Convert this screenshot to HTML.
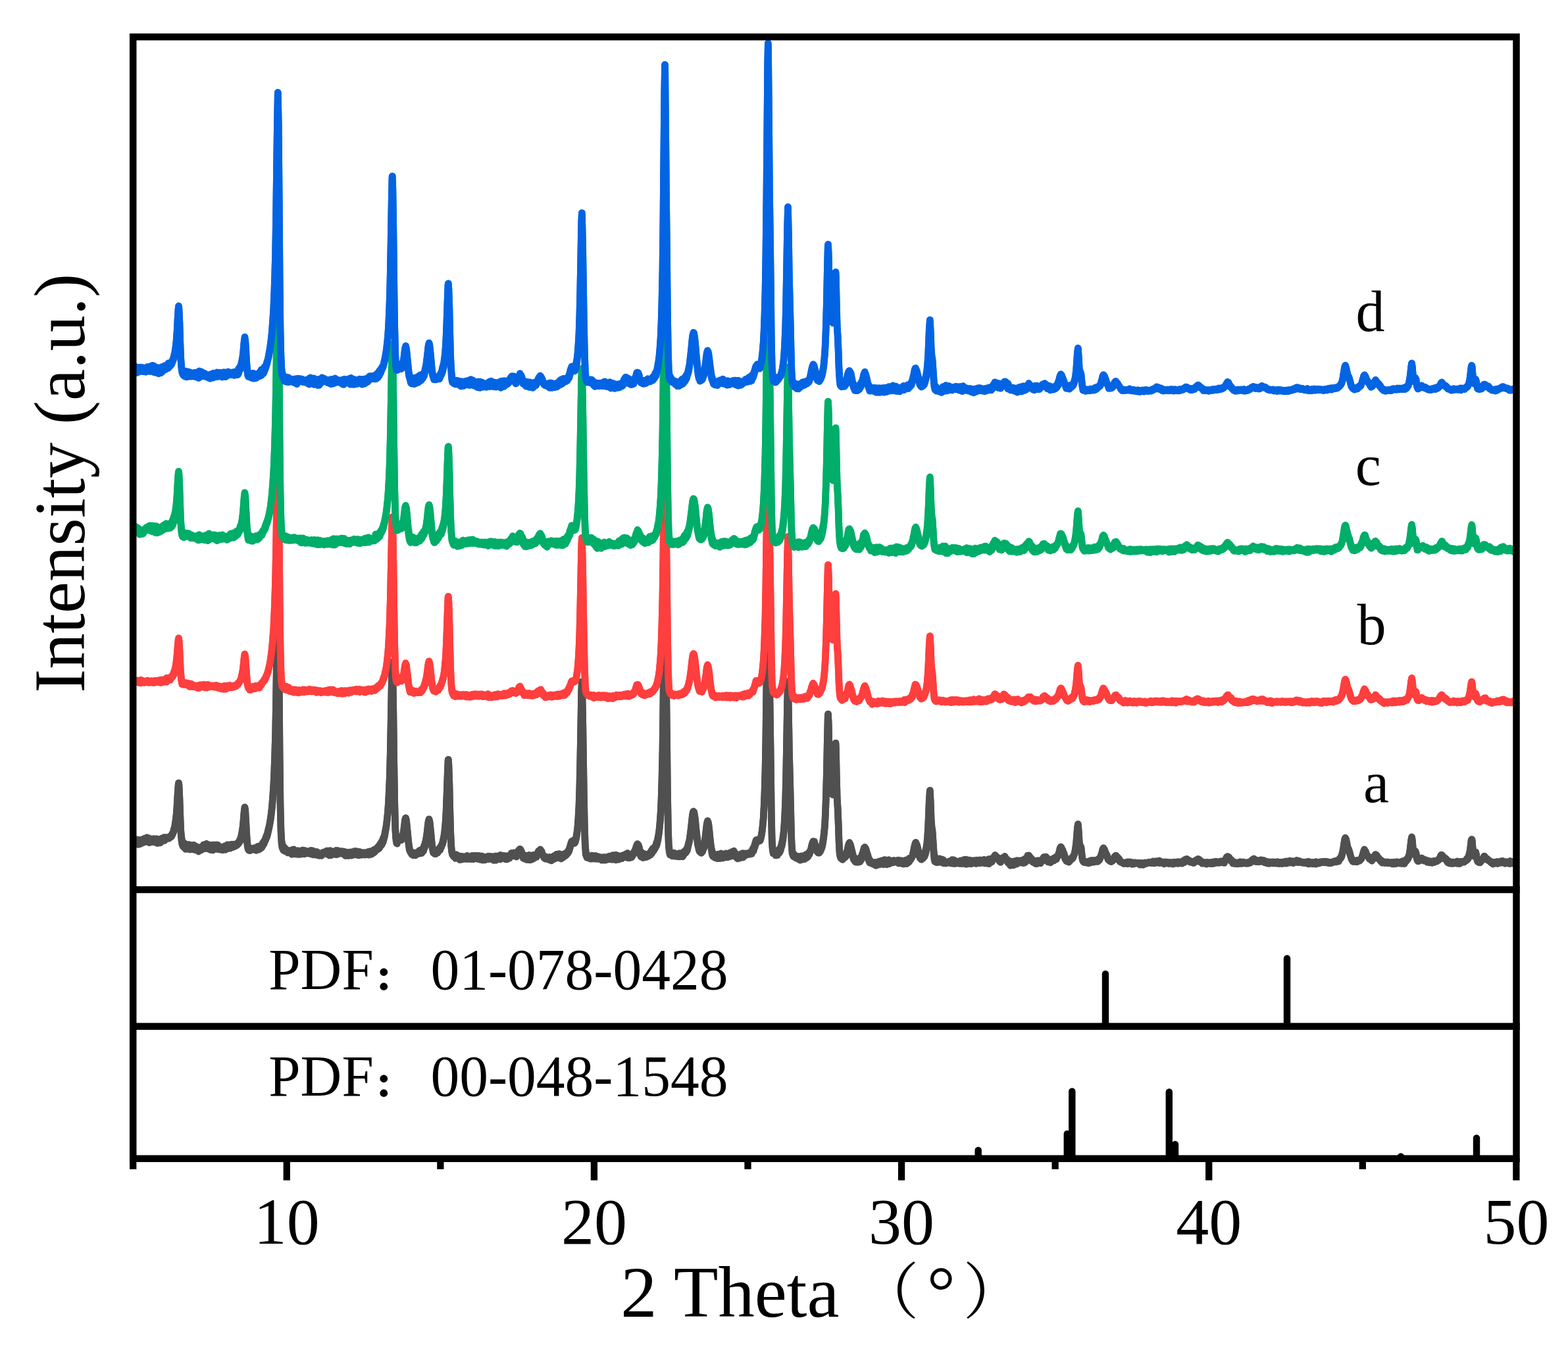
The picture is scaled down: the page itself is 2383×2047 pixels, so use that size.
<!DOCTYPE html>
<html lang="en"><head><meta charset="utf-8"><title>XRD patterns</title>
<style>html,body{margin:0;padding:0;background:#fff}svg{display:block}</style></head>
<body>
<svg width="2383" height="2047" viewBox="0 0 2383 2047">
<rect x="0" y="0" width="2383" height="2047" fill="#ffffff"/>
<defs><clipPath id="plot"><rect x="202" y="58" width="2102.5" height="1296"/></clipPath></defs>
<g clip-path="url(#plot)" fill="none" stroke-linejoin="round" stroke-linecap="butt" stroke-width="10.60">
<polyline stroke="#505050" points="200.0,1277.6 200.9,1276.0 201.9,1276.9 202.8,1276.4 203.7,1277.8 204.7,1277.2 205.6,1277.5 206.5,1276.7 207.5,1277.5 208.4,1275.9 209.3,1277.0 210.3,1277.0 211.2,1276.4 212.1,1276.7 213.1,1277.3 214.0,1276.9 214.9,1276.0 215.9,1277.0 216.8,1275.3 217.7,1275.8 218.7,1275.1 219.6,1274.0 220.5,1274.1 221.5,1274.8 222.4,1274.1 223.3,1272.6 224.3,1274.8 225.2,1275.3 226.2,1273.6 227.1,1275.3 228.0,1275.2 229.0,1275.4 229.9,1275.8 230.8,1274.8 231.8,1275.2 232.7,1274.7 233.6,1274.6 234.6,1275.4 235.5,1274.8 236.4,1274.8 237.4,1274.6 238.3,1275.4 239.2,1275.0 240.2,1275.8 241.1,1275.6 242.0,1277.1 243.0,1275.7 243.9,1275.3 244.8,1276.3 245.8,1274.0 246.7,1274.4 247.6,1274.4 248.6,1272.8 249.5,1272.5 250.4,1272.3 251.4,1273.5 252.3,1273.2 253.2,1272.6 254.2,1273.3 255.1,1273.8 256.0,1273.4 257.0,1271.7 257.9,1271.9 258.8,1270.8 259.8,1269.5 260.7,1269.1 261.6,1267.0 262.6,1266.1 263.5,1263.2 264.4,1259.6 265.4,1256.7 266.3,1250.6 267.2,1245.8 268.2,1236.4 269.1,1224.3 270.0,1208.2 271.0,1193.5 271.5,1189.7 271.9,1192.0 272.9,1211.9 273.8,1238.5 274.7,1260.4 275.7,1271.5 276.6,1276.7 277.5,1278.9 278.5,1280.0 279.4,1281.6 280.3,1281.5 281.3,1282.1 282.2,1282.8 283.1,1283.2 284.1,1284.0 285.0,1284.1 285.9,1283.9 286.9,1283.4 287.8,1284.2 288.7,1284.1 289.7,1285.3 290.6,1284.6 291.5,1285.5 292.5,1284.7 293.4,1285.9 294.3,1284.1 295.3,1285.6 296.2,1285.5 297.1,1285.6 298.1,1286.9 299.0,1286.7 299.9,1287.5 300.9,1288.5 301.8,1288.1 302.7,1287.8 303.7,1288.9 304.6,1287.6 305.5,1288.1 306.5,1286.7 307.4,1288.1 308.3,1286.0 309.3,1283.7 310.2,1284.2 311.1,1285.1 312.1,1283.5 313.0,1282.7 313.9,1282.2 314.9,1282.8 315.8,1283.5 316.7,1283.9 317.7,1284.1 318.6,1285.0 319.6,1284.1 320.5,1285.1 321.4,1284.7 322.4,1285.6 323.3,1284.5 324.2,1283.8 325.2,1284.1 326.1,1284.4 327.0,1284.1 328.0,1284.6 328.9,1283.8 329.8,1285.9 330.8,1284.0 331.7,1285.5 332.6,1286.7 333.6,1286.2 334.5,1286.8 335.4,1287.7 336.4,1288.0 337.3,1288.5 338.2,1288.5 339.2,1288.1 340.1,1289.4 341.0,1286.0 342.0,1285.3 342.9,1286.8 343.8,1286.0 344.8,1285.2 345.7,1283.5 346.6,1285.0 347.6,1284.7 348.5,1284.9 349.4,1284.9 350.4,1284.1 351.3,1283.2 352.2,1283.8 353.2,1283.9 354.1,1283.2 355.0,1283.8 356.0,1283.0 356.9,1283.4 357.8,1284.4 358.8,1282.6 359.7,1282.3 360.6,1281.5 361.6,1280.3 362.5,1280.3 363.4,1278.3 364.4,1276.2 365.3,1274.7 366.3,1271.1 367.2,1267.6 368.1,1262.3 369.1,1255.7 370.0,1246.3 370.9,1234.5 371.9,1226.8 372.0,1226.5 372.8,1231.2 373.7,1247.4 374.7,1265.2 375.6,1278.8 376.5,1285.2 377.5,1287.3 378.4,1289.4 379.3,1289.6 380.3,1288.7 381.2,1289.7 382.1,1289.6 383.1,1289.0 384.0,1289.5 384.9,1289.3 385.9,1288.8 386.8,1290.1 387.7,1289.1 388.7,1288.1 389.6,1288.5 390.5,1287.7 391.5,1286.4 392.4,1286.4 393.3,1286.3 394.3,1286.8 395.2,1285.6 396.1,1284.7 397.1,1284.7 398.0,1283.7 398.9,1281.3 399.9,1281.6 400.8,1278.8 401.7,1278.0 402.7,1276.0 403.6,1273.5 404.5,1271.0 405.5,1268.5 406.4,1266.6 407.3,1262.1 408.3,1258.5 409.2,1254.8 410.1,1249.9 411.1,1244.3 412.0,1237.5 413.0,1229.6 413.9,1219.9 414.8,1208.0 415.8,1193.4 416.7,1174.7 417.6,1149.8 418.6,1115.9 419.5,1068.3 420.4,1003.9 421.4,931.6 422.3,888.7 422.3,888.7 423.2,930.4 424.2,1036.6 425.1,1147.3 426.0,1223.3 427.0,1261.8 427.9,1276.9 428.8,1282.6 429.8,1284.6 430.7,1286.3 431.6,1287.2 432.6,1288.5 433.5,1290.2 434.4,1290.0 435.4,1291.6 436.3,1291.5 437.2,1292.7 438.2,1293.5 439.1,1294.1 440.0,1293.7 441.0,1293.0 441.9,1292.7 442.8,1291.9 443.8,1294.3 444.7,1292.6 445.6,1290.9 446.6,1290.9 447.5,1291.6 448.4,1292.2 449.4,1292.7 450.3,1292.5 451.2,1293.3 452.2,1293.8 453.1,1292.7 454.0,1293.0 455.0,1293.4 455.9,1293.4 456.8,1293.3 457.8,1294.0 458.7,1293.6 459.7,1292.0 460.6,1293.0 461.5,1292.3 462.5,1293.1 463.4,1292.5 464.3,1293.7 465.3,1293.3 466.2,1294.6 467.1,1294.2 468.1,1294.7 469.0,1293.5 469.9,1293.1 470.9,1294.3 471.8,1293.1 472.7,1292.3 473.7,1294.3 474.6,1294.3 475.5,1292.9 476.5,1293.5 477.4,1294.6 478.3,1294.2 479.3,1294.6 480.2,1294.5 481.1,1294.2 482.1,1294.7 483.0,1296.4 483.9,1296.7 484.9,1297.0 485.8,1297.9 486.7,1298.7 487.7,1297.8 488.6,1296.7 489.5,1297.0 490.5,1295.4 491.4,1295.8 492.3,1295.7 493.3,1294.4 494.2,1295.1 495.1,1294.9 496.1,1293.2 497.0,1292.8 497.9,1293.4 498.9,1293.3 499.8,1294.1 500.7,1294.1 501.7,1292.5 502.6,1293.3 503.5,1293.6 504.5,1294.4 505.4,1293.8 506.4,1294.2 507.3,1294.4 508.2,1294.6 509.2,1294.8 510.1,1294.5 511.0,1292.2 512.0,1293.3 512.9,1293.2 513.8,1292.5 514.8,1294.9 515.7,1293.6 516.6,1294.3 517.6,1294.2 518.5,1293.7 519.4,1294.9 520.4,1293.5 521.3,1295.7 522.2,1294.4 523.2,1295.6 524.1,1294.3 525.0,1295.3 526.0,1296.5 526.9,1296.7 527.8,1297.0 528.8,1296.8 529.7,1295.1 530.6,1295.4 531.6,1296.1 532.5,1295.8 533.4,1294.8 534.4,1294.7 535.3,1294.9 536.2,1295.3 537.2,1295.1 538.1,1293.5 539.0,1294.4 540.0,1294.8 540.9,1293.3 541.8,1294.3 542.8,1294.9 543.7,1294.5 544.6,1294.3 545.6,1295.9 546.5,1294.3 547.4,1295.7 548.4,1295.1 549.3,1295.4 550.2,1296.6 551.2,1295.7 552.1,1295.9 553.1,1295.7 554.0,1295.5 554.9,1296.4 555.9,1295.7 556.8,1295.8 557.7,1295.4 558.7,1296.9 559.6,1294.2 560.5,1294.9 561.5,1295.3 562.4,1293.6 563.3,1293.7 564.3,1294.4 565.2,1293.9 566.1,1293.2 567.1,1293.5 568.0,1291.3 568.9,1291.2 569.9,1291.3 570.8,1291.5 571.7,1289.7 572.7,1290.0 573.6,1287.9 574.5,1286.5 575.5,1286.7 576.4,1285.1 577.3,1283.0 578.3,1282.6 579.2,1280.3 580.1,1278.4 581.1,1278.2 582.0,1274.5 582.9,1272.6 583.9,1270.5 584.8,1266.9 585.7,1261.9 586.7,1257.0 587.6,1250.8 588.5,1243.5 589.5,1233.2 590.4,1221.0 591.3,1203.6 592.3,1180.0 593.2,1146.4 594.1,1099.9 595.1,1045.5 596.0,1007.4 596.2,1006.0 596.9,1024.1 597.9,1084.3 598.8,1160.3 599.8,1220.7 600.7,1256.1 601.6,1271.3 602.6,1276.7 603.5,1276.3 604.4,1276.2 605.4,1273.2 606.3,1272.6 606.5,1271.6 607.2,1272.4 608.2,1272.9 609.1,1274.0 610.0,1275.1 611.0,1274.5 611.9,1271.0 612.8,1266.8 613.8,1260.2 614.7,1253.2 615.6,1245.3 616.5,1243.0 616.6,1242.9 617.5,1246.0 618.4,1254.8 619.4,1264.3 620.3,1274.6 621.2,1282.3 622.2,1288.4 623.1,1291.9 624.0,1294.1 625.0,1294.8 625.9,1295.8 626.8,1296.1 627.8,1295.6 628.7,1296.6 629.6,1296.6 630.6,1296.0 631.5,1296.1 632.4,1295.7 633.4,1296.6 634.3,1295.3 635.2,1294.4 636.2,1294.2 637.1,1292.7 638.0,1292.9 639.0,1291.7 639.9,1293.2 640.8,1291.7 641.8,1290.2 642.7,1289.4 643.6,1288.1 644.6,1285.0 645.5,1283.0 646.5,1279.5 647.4,1275.9 648.3,1270.0 649.3,1263.2 650.2,1254.8 651.1,1247.9 652.0,1244.7 652.1,1245.0 653.0,1248.0 653.9,1256.3 654.9,1266.1 655.8,1275.7 656.7,1284.3 657.7,1290.0 658.6,1292.0 659.5,1295.6 660.5,1294.0 661.4,1294.4 662.3,1294.2 663.3,1293.6 664.2,1293.5 665.1,1291.6 666.1,1291.8 667.0,1290.0 667.9,1288.7 668.9,1287.8 669.8,1285.9 670.7,1285.4 671.7,1282.6 672.6,1279.9 673.5,1276.0 674.5,1271.8 675.4,1265.8 676.3,1258.2 677.3,1246.7 678.2,1230.0 679.1,1206.4 680.1,1178.0 681.0,1156.0 681.3,1154.2 681.9,1161.8 682.9,1191.1 683.8,1229.8 684.7,1263.6 685.7,1285.1 686.6,1293.9 687.5,1297.9 688.5,1299.1 689.4,1300.7 690.3,1300.0 691.3,1298.9 692.2,1299.3 693.2,1298.6 694.1,1298.8 695.0,1300.2 696.0,1301.0 696.9,1301.8 697.8,1300.8 698.8,1301.6 699.7,1303.3 700.6,1301.0 701.6,1302.2 702.5,1302.0 703.4,1303.7 704.4,1302.3 705.3,1301.6 706.2,1301.8 707.2,1301.7 708.1,1301.2 709.0,1301.5 710.0,1300.4 710.9,1301.3 711.8,1301.6 712.8,1301.8 713.7,1302.8 714.6,1302.1 715.6,1301.7 716.5,1301.2 717.4,1300.4 718.4,1301.6 719.3,1301.4 720.2,1300.4 721.2,1300.4 722.1,1300.9 723.0,1300.4 724.0,1301.2 724.9,1302.4 725.8,1300.4 726.8,1300.2 727.7,1300.5 728.6,1301.2 729.6,1300.8 730.5,1301.5 731.4,1301.0 732.4,1301.8 733.3,1302.0 734.2,1301.4 735.2,1302.7 736.1,1303.9 737.0,1302.2 738.0,1302.3 738.9,1304.2 739.9,1303.0 740.8,1302.4 741.7,1301.1 742.7,1303.0 743.6,1302.5 744.5,1301.3 745.5,1302.6 746.4,1301.4 747.3,1302.9 748.3,1302.6 749.2,1302.1 750.1,1303.7 751.1,1301.3 752.0,1301.1 752.9,1302.9 753.9,1300.7 754.8,1301.3 755.7,1302.1 756.7,1301.6 757.6,1300.9 758.5,1300.3 759.5,1301.0 760.4,1299.3 761.3,1300.1 762.3,1300.3 763.2,1300.2 764.1,1300.4 765.1,1300.4 766.0,1300.3 766.9,1302.4 767.9,1302.0 768.8,1303.2 769.7,1302.6 770.7,1300.5 771.6,1302.5 772.5,1301.2 773.5,1301.6 774.4,1299.8 775.3,1299.6 776.3,1299.5 777.2,1296.2 778.1,1296.4 779.0,1296.8 779.1,1296.7 780.0,1296.9 780.9,1295.7 781.9,1297.1 782.8,1298.3 783.7,1296.9 784.7,1297.4 785.6,1296.9 786.6,1295.7 787.5,1292.8 788.4,1292.3 789.4,1290.5 790.0,1290.3 790.3,1290.0 791.2,1291.0 792.2,1293.0 793.1,1295.5 794.0,1298.1 795.0,1298.4 795.9,1298.8 796.8,1300.5 797.8,1301.0 798.7,1302.0 799.6,1301.4 800.6,1300.7 801.5,1301.4 802.4,1299.9 803.4,1299.7 804.3,1299.4 805.2,1300.5 806.2,1301.9 807.1,1300.3 808.0,1300.6 809.0,1300.8 809.9,1299.5 810.8,1301.5 811.8,1299.2 812.7,1298.9 813.6,1298.9 814.6,1299.4 815.5,1298.8 816.4,1297.2 817.4,1296.0 818.3,1293.3 819.2,1293.6 820.2,1291.9 821.0,1291.0 821.1,1290.8 822.0,1292.5 823.0,1293.3 823.9,1296.0 824.8,1299.9 825.8,1299.7 826.7,1301.5 827.6,1301.6 828.6,1303.0 829.5,1301.9 830.4,1303.6 831.4,1303.6 832.3,1303.4 833.3,1302.7 834.2,1304.1 835.1,1303.2 836.1,1302.4 837.0,1304.4 837.9,1303.2 838.9,1302.9 839.8,1302.3 840.7,1303.0 841.7,1300.6 842.6,1301.2 843.5,1300.1 844.5,1299.7 845.4,1298.4 846.3,1298.4 847.3,1298.8 848.2,1298.5 849.1,1297.5 850.1,1297.6 851.0,1299.1 851.9,1298.4 852.9,1300.4 853.8,1300.6 854.7,1298.7 855.7,1299.5 856.6,1298.0 857.5,1299.9 858.5,1297.7 859.4,1296.5 860.3,1298.2 861.3,1295.5 862.2,1295.0 863.1,1293.3 864.1,1291.9 865.0,1289.9 865.9,1287.7 866.9,1284.2 867.8,1281.1 868.7,1278.7 869.0,1278.3 869.7,1278.2 870.6,1277.3 871.5,1278.1 872.5,1278.3 873.4,1277.6 874.3,1276.1 875.3,1273.4 876.2,1268.8 877.1,1263.5 878.1,1254.0 879.0,1241.6 880.0,1223.4 880.9,1196.1 881.8,1156.0 882.8,1102.2 883.7,1051.0 884.3,1036.0 884.6,1040.6 885.6,1088.8 886.5,1148.6 887.4,1207.6 888.4,1256.1 889.3,1283.4 890.2,1292.7 891.2,1298.2 892.1,1299.8 893.0,1300.6 894.0,1300.3 894.9,1301.1 895.8,1301.7 896.8,1301.1 897.7,1301.0 898.6,1301.1 899.0,1301.3 899.6,1300.0 900.5,1301.1 901.4,1300.4 902.4,1300.9 903.3,1300.9 904.2,1301.4 905.2,1300.4 906.1,1300.9 907.0,1301.6 908.0,1301.3 908.9,1301.7 909.8,1303.6 910.8,1302.7 911.7,1302.6 912.6,1302.5 913.6,1302.9 914.5,1303.8 915.4,1303.8 916.4,1302.9 917.3,1303.5 918.2,1302.7 919.2,1303.2 920.1,1302.5 921.0,1303.9 922.0,1303.1 922.9,1303.5 923.8,1302.1 924.8,1301.5 925.7,1301.1 926.7,1301.1 927.6,1301.4 928.5,1301.9 929.5,1302.6 930.4,1300.6 931.3,1299.5 932.3,1300.4 933.2,1300.1 934.1,1300.4 935.1,1299.2 936.0,1300.6 936.9,1299.4 937.9,1300.5 938.8,1300.1 939.7,1300.9 940.7,1301.9 941.6,1302.5 942.5,1301.7 943.5,1301.4 944.4,1300.7 945.3,1300.2 946.3,1301.1 947.2,1301.0 948.1,1300.4 949.1,1298.8 950.0,1299.6 950.9,1298.6 951.0,1297.9 951.9,1297.5 952.8,1297.8 953.7,1296.4 954.7,1298.3 955.6,1298.6 956.5,1299.6 957.5,1299.6 958.4,1299.2 959.3,1298.1 960.3,1297.8 961.2,1297.5 962.1,1297.8 963.1,1295.9 964.0,1293.8 964.9,1292.3 965.9,1289.8 966.8,1286.8 967.7,1284.5 968.7,1282.4 968.8,1282.9 969.6,1283.1 970.5,1284.4 971.5,1287.8 972.4,1292.3 973.4,1293.6 974.3,1295.1 975.2,1295.2 976.2,1297.2 977.1,1297.1 978.0,1297.0 979.0,1297.8 979.9,1298.8 980.8,1300.2 981.8,1298.6 982.7,1299.3 983.6,1299.5 984.6,1297.8 985.5,1298.0 986.4,1297.4 987.4,1296.6 988.3,1295.2 989.2,1294.1 990.2,1292.0 991.1,1293.0 992.0,1289.3 993.0,1290.1 993.9,1288.7 994.8,1286.9 995.8,1286.4 996.7,1284.5 997.6,1280.8 998.6,1278.5 999.5,1275.0 1000.4,1270.5 1001.4,1264.8 1002.3,1257.6 1003.2,1247.3 1004.2,1233.4 1005.1,1213.4 1006.0,1183.8 1007.0,1139.3 1007.9,1072.3 1008.8,980.0 1009.8,885.8 1010.5,850.6 1010.7,854.9 1011.6,940.8 1012.6,1039.8 1013.5,1116.8 1014.4,1198.9 1015.4,1257.7 1016.3,1283.4 1017.2,1290.7 1018.2,1294.4 1019.1,1294.6 1020.1,1296.1 1021.0,1296.8 1021.9,1296.2 1022.9,1297.2 1023.8,1296.9 1024.7,1296.0 1025.7,1297.9 1026.6,1297.9 1027.5,1298.0 1028.5,1299.2 1029.4,1298.9 1030.3,1297.8 1031.3,1298.2 1032.2,1296.5 1033.1,1297.4 1034.1,1296.7 1035.0,1296.8 1035.9,1296.7 1036.9,1296.6 1037.8,1296.5 1038.7,1295.0 1039.7,1293.8 1040.6,1294.1 1041.5,1292.6 1042.5,1293.5 1043.4,1289.9 1044.3,1289.3 1045.3,1286.3 1046.2,1282.0 1047.1,1279.3 1048.1,1274.6 1049.0,1268.1 1049.9,1260.8 1050.9,1252.3 1051.8,1243.8 1052.7,1236.7 1053.7,1233.0 1054.0,1232.9 1054.6,1233.5 1055.5,1237.6 1056.5,1244.8 1057.4,1253.6 1058.3,1262.9 1059.3,1270.7 1060.2,1278.1 1061.1,1285.0 1062.1,1287.7 1063.0,1290.5 1063.9,1292.2 1064.9,1291.9 1065.8,1292.3 1066.8,1291.9 1067.7,1290.7 1068.6,1289.4 1069.6,1286.0 1070.5,1280.9 1071.4,1275.1 1072.4,1267.6 1073.3,1259.5 1074.2,1251.8 1075.2,1247.9 1075.4,1247.3 1076.1,1248.9 1077.0,1253.7 1078.0,1262.2 1078.9,1271.4 1079.8,1280.3 1080.8,1287.8 1081.7,1291.5 1082.6,1294.7 1083.6,1296.4 1084.5,1298.1 1085.4,1297.8 1086.4,1299.5 1087.3,1300.7 1088.2,1299.6 1089.2,1299.0 1090.1,1299.1 1091.0,1298.2 1092.0,1298.6 1092.9,1298.1 1093.8,1298.7 1094.8,1298.3 1095.7,1296.8 1096.6,1299.2 1097.6,1299.7 1098.5,1298.5 1099.4,1299.0 1100.4,1298.4 1101.3,1297.8 1102.2,1297.7 1103.2,1296.8 1104.1,1297.8 1105.0,1298.2 1106.0,1298.3 1106.9,1298.3 1107.8,1297.4 1108.8,1296.1 1109.7,1296.9 1110.6,1295.1 1111.6,1295.5 1112.5,1294.3 1113.5,1294.2 1114.4,1293.7 1114.5,1295.1 1115.3,1293.0 1116.3,1295.4 1117.2,1296.2 1118.1,1298.1 1119.1,1300.1 1120.0,1299.4 1120.9,1300.5 1121.9,1299.8 1122.8,1300.5 1123.7,1299.1 1124.7,1299.0 1125.6,1297.8 1126.5,1298.6 1127.5,1298.8 1128.4,1296.5 1129.3,1297.0 1130.3,1297.8 1131.2,1297.2 1132.1,1297.9 1132.5,1297.0 1133.1,1298.3 1134.0,1299.3 1134.9,1296.8 1135.9,1296.9 1136.8,1296.9 1137.7,1297.1 1138.7,1297.0 1139.6,1295.5 1140.5,1295.3 1141.5,1295.0 1142.4,1293.0 1143.3,1292.2 1144.3,1289.3 1145.2,1287.9 1146.1,1286.7 1147.1,1283.0 1148.0,1279.9 1148.9,1277.0 1149.5,1276.2 1149.9,1276.9 1150.8,1276.0 1151.7,1277.1 1152.7,1277.4 1153.6,1277.5 1154.5,1277.6 1155.5,1275.2 1156.4,1272.6 1157.3,1267.5 1158.3,1261.9 1159.2,1253.9 1160.2,1242.8 1161.1,1226.6 1162.0,1204.1 1163.0,1171.0 1163.9,1121.0 1164.8,1046.4 1165.8,945.3 1166.7,848.4 1167.3,820.4 1167.6,831.2 1168.6,935.0 1169.5,1032.3 1170.4,1089.6 1171.4,1164.7 1172.3,1236.5 1173.2,1275.3 1174.2,1290.2 1175.1,1293.8 1176.0,1295.7 1177.0,1295.9 1177.9,1296.9 1178.8,1296.6 1179.8,1296.2 1180.7,1294.9 1181.6,1293.8 1182.6,1293.6 1183.5,1292.8 1184.4,1290.3 1185.4,1289.6 1186.3,1287.6 1187.2,1285.3 1188.2,1281.1 1189.1,1277.5 1190.0,1271.6 1191.0,1264.7 1191.9,1253.7 1192.8,1237.6 1193.8,1213.7 1194.7,1177.3 1195.6,1125.4 1196.6,1066.9 1197.5,1035.9 1197.5,1035.9 1198.4,1078.0 1199.4,1140.2 1200.3,1175.7 1201.2,1209.1 1202.2,1252.6 1203.1,1281.8 1204.0,1292.8 1205.0,1296.6 1205.9,1297.1 1206.9,1298.8 1207.8,1299.0 1208.7,1301.5 1209.7,1301.9 1210.6,1302.1 1211.5,1301.2 1212.5,1301.4 1213.4,1304.1 1214.3,1302.1 1215.3,1301.9 1216.2,1303.3 1217.1,1301.1 1218.1,1301.2 1219.0,1302.1 1219.9,1300.5 1220.9,1301.6 1221.8,1301.7 1222.7,1300.7 1223.7,1301.3 1224.6,1299.0 1225.5,1298.3 1226.5,1298.1 1227.4,1297.7 1228.3,1296.4 1229.3,1296.9 1230.2,1294.3 1231.1,1293.2 1232.1,1291.4 1233.0,1287.7 1233.9,1283.8 1234.9,1280.4 1235.8,1278.4 1235.8,1278.7 1236.7,1278.7 1237.7,1278.8 1238.6,1282.9 1239.5,1284.4 1240.5,1287.5 1241.4,1290.8 1242.3,1293.3 1243.3,1293.0 1244.2,1292.0 1245.1,1292.4 1246.1,1291.2 1247.0,1290.5 1247.9,1287.2 1248.9,1285.5 1249.8,1282.9 1250.7,1277.6 1251.7,1271.5 1252.6,1264.0 1253.6,1252.1 1254.5,1235.3 1255.4,1209.9 1256.4,1172.4 1257.3,1125.8 1258.2,1089.4 1258.5,1085.1 1259.2,1099.1 1260.1,1141.8 1261.0,1164.2 1262.0,1167.9 1262.9,1179.7 1263.8,1190.6 1264.3,1193.8 1264.8,1198.1 1265.7,1207.3 1266.6,1203.6 1267.6,1183.3 1268.5,1156.6 1269.4,1133.5 1270.0,1129.2 1270.4,1136.1 1271.3,1177.7 1272.2,1212.4 1273.2,1228.5 1274.1,1249.8 1275.0,1276.8 1276.0,1294.4 1276.9,1300.1 1277.8,1301.6 1278.8,1302.1 1279.7,1302.1 1280.6,1300.4 1281.6,1300.9 1282.5,1300.6 1283.4,1299.7 1284.4,1298.5 1285.3,1297.6 1286.2,1296.4 1287.2,1293.1 1288.1,1290.8 1289.0,1285.5 1290.0,1282.3 1290.9,1280.8 1291.0,1280.3 1291.8,1282.5 1292.8,1284.7 1293.7,1288.6 1294.6,1292.1 1295.6,1296.0 1296.5,1299.5 1297.4,1303.5 1298.4,1303.6 1299.3,1305.3 1300.3,1305.5 1301.2,1304.9 1302.1,1305.4 1303.1,1305.7 1304.0,1305.0 1304.9,1305.7 1305.9,1305.2 1306.8,1305.6 1307.7,1304.3 1308.7,1302.2 1309.6,1300.2 1310.5,1297.4 1311.5,1294.8 1312.4,1291.2 1313.3,1288.3 1314.3,1287.4 1314.3,1287.6 1315.2,1288.7 1316.1,1290.3 1317.1,1294.0 1318.0,1297.0 1318.9,1299.7 1319.9,1303.4 1320.8,1307.0 1321.7,1306.3 1322.7,1308.3 1323.6,1309.9 1324.5,1310.3 1325.5,1310.3 1326.4,1310.2 1327.3,1311.3 1328.3,1310.5 1329.2,1310.6 1330.1,1310.7 1331.1,1310.5 1332.0,1312.1 1332.9,1310.1 1333.9,1310.1 1334.8,1311.4 1335.7,1309.0 1336.7,1310.4 1337.6,1308.8 1338.5,1309.1 1339.5,1308.5 1340.4,1307.7 1341.3,1308.9 1342.3,1308.5 1343.2,1307.6 1344.1,1306.6 1345.1,1308.4 1346.0,1306.9 1347.0,1307.8 1347.9,1307.6 1348.8,1308.4 1349.8,1308.2 1350.7,1306.6 1351.6,1308.8 1352.6,1307.9 1353.5,1307.7 1354.4,1308.3 1355.4,1309.5 1356.3,1308.9 1357.2,1309.1 1358.2,1307.4 1359.1,1309.8 1360.0,1308.5 1361.0,1308.0 1361.9,1307.9 1362.8,1307.5 1363.8,1307.8 1364.7,1308.8 1365.6,1307.0 1366.6,1308.5 1367.5,1308.4 1368.4,1308.7 1369.4,1307.7 1370.3,1308.0 1371.2,1308.9 1372.2,1309.4 1373.1,1308.1 1374.0,1308.8 1375.0,1307.6 1375.9,1308.1 1376.8,1307.0 1377.8,1308.1 1378.7,1307.5 1379.6,1307.6 1380.6,1305.7 1381.5,1304.7 1382.4,1304.0 1383.4,1305.5 1384.3,1304.2 1385.2,1303.2 1386.2,1301.4 1387.1,1299.1 1388.0,1294.1 1389.0,1289.7 1389.9,1285.3 1390.8,1282.0 1391.5,1280.2 1391.8,1280.1 1392.7,1282.3 1393.7,1284.4 1394.6,1287.7 1395.5,1291.9 1396.5,1295.3 1397.4,1298.4 1398.3,1301.3 1399.3,1302.3 1400.2,1303.8 1401.1,1302.5 1402.1,1301.3 1403.0,1302.3 1403.9,1301.7 1404.9,1298.7 1405.8,1296.4 1406.7,1291.6 1407.7,1287.9 1408.6,1281.8 1409.5,1272.4 1410.5,1258.5 1411.4,1238.0 1412.3,1214.5 1413.3,1201.1 1413.3,1201.1 1414.2,1217.6 1415.1,1244.3 1416.1,1256.7 1417.0,1261.5 1417.9,1274.5 1418.9,1289.9 1419.8,1299.2 1420.7,1301.3 1421.7,1304.4 1422.6,1303.9 1423.5,1304.9 1424.5,1305.2 1425.4,1306.2 1426.3,1305.1 1427.3,1305.4 1428.2,1304.9 1429.1,1306.9 1430.1,1305.5 1431.0,1305.8 1431.9,1305.9 1432.9,1307.1 1433.8,1306.8 1434.7,1307.9 1435.7,1308.9 1436.6,1309.4 1437.5,1310.1 1438.5,1309.8 1439.4,1311.0 1440.4,1310.3 1441.3,1310.2 1442.2,1310.9 1443.2,1308.5 1444.1,1309.3 1445.0,1307.9 1446.0,1307.8 1446.9,1306.6 1447.8,1307.6 1448.8,1306.7 1449.7,1306.7 1450.6,1307.8 1451.6,1308.3 1452.5,1309.6 1453.4,1308.6 1454.4,1309.7 1455.3,1309.7 1456.2,1309.8 1457.2,1311.3 1458.1,1309.4 1459.0,1309.2 1460.0,1307.8 1460.9,1308.4 1461.8,1308.0 1462.8,1308.4 1463.7,1307.6 1464.6,1306.7 1465.6,1306.4 1466.5,1307.3 1467.4,1306.4 1468.4,1306.1 1469.3,1306.7 1470.2,1307.6 1471.2,1307.2 1472.1,1307.1 1473.0,1307.3 1474.0,1307.0 1474.9,1307.4 1475.8,1307.7 1476.8,1308.5 1477.7,1308.1 1478.6,1308.0 1479.6,1307.5 1480.5,1309.6 1481.4,1308.0 1482.4,1308.3 1483.3,1307.2 1484.2,1307.1 1485.2,1307.5 1486.1,1307.6 1487.1,1307.7 1488.0,1307.2 1488.9,1306.7 1489.9,1308.2 1490.8,1307.4 1491.7,1307.2 1492.7,1307.8 1493.6,1306.8 1494.5,1307.1 1495.5,1306.2 1496.4,1307.0 1497.3,1309.6 1498.3,1307.4 1499.2,1307.0 1500.1,1307.2 1501.1,1306.6 1502.0,1305.7 1502.9,1306.4 1503.9,1307.0 1504.8,1306.2 1505.7,1305.1 1506.7,1306.0 1507.6,1305.9 1508.5,1304.0 1509.5,1303.3 1510.4,1302.3 1511.3,1300.5 1512.0,1300.4 1512.3,1299.4 1513.2,1301.0 1514.1,1301.0 1515.1,1302.7 1516.0,1303.4 1516.9,1303.4 1517.9,1305.2 1518.8,1305.0 1519.7,1306.7 1520.7,1305.8 1521.6,1306.6 1522.5,1304.4 1523.5,1305.4 1524.4,1303.1 1525.3,1303.0 1526.3,1302.4 1526.5,1302.2 1527.2,1301.4 1528.1,1303.6 1529.1,1304.6 1530.0,1305.5 1530.9,1306.8 1531.9,1307.3 1532.8,1308.4 1533.8,1308.2 1534.7,1309.8 1535.6,1309.4 1536.6,1309.0 1537.5,1309.8 1538.4,1309.3 1539.4,1309.9 1540.3,1309.2 1541.2,1308.7 1542.2,1309.0 1543.1,1308.7 1544.0,1308.1 1545.0,1308.4 1545.9,1307.7 1546.8,1308.5 1547.8,1308.0 1548.7,1308.4 1549.6,1307.9 1550.6,1308.1 1551.5,1308.2 1552.4,1307.5 1553.4,1307.9 1554.3,1306.9 1555.2,1306.5 1556.2,1306.6 1557.1,1305.4 1558.0,1305.8 1559.0,1304.8 1559.9,1303.5 1560.8,1303.3 1561.8,1300.0 1562.7,1300.6 1563.0,1300.3 1563.6,1300.0 1564.6,1301.3 1565.5,1302.9 1566.4,1303.4 1567.4,1306.2 1568.3,1305.8 1569.2,1305.9 1570.2,1307.9 1571.1,1310.2 1572.0,1309.7 1573.0,1308.9 1573.9,1308.4 1574.8,1309.5 1575.8,1309.4 1576.7,1309.3 1577.6,1307.6 1578.6,1308.7 1579.5,1309.0 1580.5,1309.1 1581.4,1307.7 1582.3,1307.1 1583.3,1306.4 1584.2,1305.7 1585.1,1304.8 1586.1,1302.7 1587.0,1302.2 1587.0,1302.5 1587.9,1302.3 1588.9,1302.0 1589.8,1302.1 1590.7,1303.4 1591.7,1304.4 1592.6,1305.6 1593.5,1305.5 1594.5,1305.7 1595.4,1307.1 1596.3,1307.5 1597.3,1307.8 1598.2,1306.8 1599.1,1305.6 1600.1,1305.5 1601.0,1304.4 1601.9,1305.0 1602.9,1303.4 1603.8,1303.6 1604.7,1303.0 1605.7,1301.5 1606.6,1302.1 1607.5,1300.1 1608.5,1298.6 1609.4,1295.3 1610.3,1292.1 1611.3,1288.1 1612.2,1287.5 1612.3,1286.8 1613.1,1288.0 1614.1,1290.2 1615.0,1291.5 1615.9,1294.8 1616.9,1296.5 1617.8,1299.6 1618.7,1302.6 1619.7,1305.0 1620.6,1306.0 1621.5,1306.2 1622.5,1307.2 1623.4,1306.9 1624.3,1308.0 1625.3,1306.5 1626.2,1306.4 1627.2,1305.9 1628.1,1303.8 1629.0,1303.6 1630.0,1303.6 1630.9,1302.4 1631.8,1299.9 1632.8,1297.4 1633.7,1293.8 1634.6,1288.6 1635.6,1281.6 1636.5,1270.6 1637.4,1257.8 1638.3,1252.3 1638.4,1252.7 1639.3,1263.8 1640.2,1279.0 1641.2,1285.5 1642.1,1285.4 1643.0,1287.3 1644.0,1296.7 1644.9,1304.8 1645.8,1308.2 1646.8,1309.0 1647.7,1309.4 1648.6,1309.0 1649.6,1309.4 1650.5,1309.4 1651.4,1310.9 1652.4,1309.8 1653.3,1309.2 1654.2,1309.4 1655.2,1309.3 1656.1,1308.2 1657.0,1309.0 1658.0,1308.2 1658.9,1307.2 1659.8,1307.9 1660.8,1308.4 1661.7,1309.0 1662.6,1307.2 1663.6,1307.2 1664.5,1307.3 1665.4,1307.6 1666.4,1308.0 1667.3,1308.4 1668.2,1307.9 1669.2,1305.5 1670.1,1305.0 1671.0,1304.9 1672.0,1302.7 1672.9,1301.2 1673.9,1297.7 1674.8,1295.4 1675.7,1290.7 1676.7,1289.1 1677.0,1288.5 1677.6,1290.0 1678.5,1290.8 1679.5,1293.5 1680.4,1296.1 1681.3,1298.0 1682.3,1299.2 1683.2,1303.4 1684.1,1304.7 1685.1,1306.8 1686.0,1306.6 1686.9,1307.8 1687.9,1309.1 1688.8,1306.1 1689.7,1307.4 1690.7,1306.3 1691.6,1306.7 1692.5,1305.2 1693.5,1302.1 1694.4,1301.3 1695.3,1300.3 1695.5,1300.1 1696.3,1300.1 1697.2,1301.6 1698.1,1303.6 1699.1,1303.4 1700.0,1306.2 1700.9,1305.2 1701.9,1307.1 1702.8,1309.8 1703.7,1310.4 1704.7,1310.6 1705.6,1310.4 1706.5,1310.7 1707.5,1312.4 1708.4,1312.2 1709.3,1311.4 1710.3,1311.2 1711.2,1310.3 1712.1,1310.1 1713.1,1310.1 1714.0,1309.8 1714.9,1310.8 1715.9,1309.7 1716.8,1310.5 1717.7,1310.0 1718.7,1311.1 1719.6,1311.7 1720.6,1310.6 1721.5,1310.9 1722.4,1311.5 1723.4,1310.9 1724.3,1310.8 1725.2,1311.6 1726.2,1311.5 1727.1,1311.3 1728.0,1311.6 1729.0,1311.1 1729.9,1311.8 1730.8,1312.5 1731.8,1311.6 1732.7,1312.4 1733.6,1312.7 1734.6,1311.3 1735.5,1312.7 1736.4,1311.6 1737.4,1313.0 1738.3,1312.4 1739.2,1311.3 1740.2,1310.9 1741.1,1311.2 1742.0,1311.9 1743.0,1311.3 1743.9,1311.4 1744.8,1310.9 1745.8,1310.2 1746.7,1310.6 1747.6,1310.7 1748.6,1311.2 1749.5,1311.0 1750.4,1309.7 1751.4,1310.6 1752.3,1308.9 1753.2,1310.1 1754.2,1310.0 1755.1,1309.5 1756.0,1310.0 1757.0,1308.6 1757.9,1308.8 1758.6,1309.0 1758.8,1309.4 1759.8,1308.9 1760.7,1309.9 1761.6,1307.9 1762.6,1309.2 1763.5,1309.9 1764.4,1309.9 1765.4,1309.7 1766.3,1310.1 1767.3,1310.1 1768.2,1310.1 1769.1,1310.7 1770.1,1311.1 1771.0,1309.8 1771.9,1311.3 1772.9,1310.0 1773.8,1311.9 1774.7,1310.8 1775.7,1311.4 1776.6,1310.4 1777.5,1310.5 1778.5,1310.7 1779.4,1311.2 1780.3,1310.6 1781.3,1311.9 1782.2,1310.9 1783.1,1310.6 1784.1,1310.0 1785.0,1310.1 1785.9,1310.4 1786.9,1310.3 1787.8,1310.6 1788.7,1310.8 1789.7,1309.7 1790.6,1310.2 1791.5,1309.6 1792.5,1310.2 1793.4,1311.5 1794.3,1309.7 1795.3,1310.9 1796.2,1309.6 1797.1,1309.3 1798.1,1310.3 1799.0,1307.5 1799.9,1309.7 1800.9,1307.8 1801.8,1305.7 1802.7,1306.4 1803.0,1305.9 1803.7,1305.3 1804.6,1307.1 1805.5,1306.7 1806.5,1306.9 1807.4,1309.1 1808.3,1308.0 1809.3,1308.7 1810.2,1309.9 1811.1,1309.3 1812.1,1309.4 1813.0,1309.2 1814.0,1310.2 1814.9,1309.2 1815.8,1309.2 1816.8,1307.4 1817.7,1307.2 1818.6,1307.1 1819.6,1306.2 1820.5,1305.4 1820.5,1305.3 1821.4,1305.6 1822.4,1307.2 1823.3,1306.7 1824.2,1307.8 1825.2,1308.6 1826.1,1309.9 1827.0,1310.6 1828.0,1311.1 1828.9,1311.9 1829.8,1311.2 1830.8,1310.4 1831.7,1311.9 1832.6,1310.6 1833.6,1310.9 1834.5,1310.4 1835.4,1311.3 1836.4,1310.6 1837.3,1310.5 1838.2,1310.9 1839.2,1312.0 1840.1,1310.6 1841.0,1312.6 1842.0,1311.4 1842.9,1310.0 1843.8,1309.8 1844.8,1310.9 1845.7,1309.5 1846.6,1310.3 1847.6,1309.2 1848.5,1309.5 1849.4,1309.2 1850.4,1309.8 1851.3,1310.6 1852.2,1310.5 1853.2,1310.7 1854.1,1309.6 1855.0,1308.8 1856.0,1309.2 1856.9,1309.8 1857.8,1308.7 1858.8,1309.3 1859.7,1309.2 1860.7,1308.9 1861.6,1307.2 1862.5,1306.1 1863.5,1303.8 1864.4,1302.1 1865.3,1302.1 1865.5,1301.5 1866.3,1301.7 1867.2,1303.3 1868.1,1302.8 1869.1,1305.1 1870.0,1306.2 1870.9,1306.2 1871.9,1307.1 1872.8,1309.5 1873.7,1309.7 1874.7,1310.5 1875.6,1310.0 1876.5,1311.4 1877.5,1310.4 1878.4,1311.0 1879.3,1311.2 1880.3,1311.0 1881.2,1312.6 1882.1,1310.9 1883.1,1311.0 1884.0,1311.4 1884.9,1309.6 1885.9,1311.0 1886.8,1310.4 1887.7,1310.6 1888.7,1310.7 1889.6,1309.8 1890.5,1311.0 1891.5,1310.8 1892.4,1311.1 1893.3,1311.7 1894.3,1310.8 1895.2,1311.4 1896.1,1311.7 1897.1,1310.9 1898.0,1311.6 1898.9,1309.8 1899.9,1310.5 1900.8,1309.2 1901.7,1308.7 1902.7,1306.7 1903.6,1306.7 1904.5,1306.7 1904.5,1305.7 1905.5,1304.7 1906.4,1306.6 1907.4,1306.8 1908.3,1306.8 1909.2,1307.0 1910.2,1307.8 1911.1,1307.5 1912.0,1309.7 1913.0,1308.2 1913.9,1308.2 1914.8,1307.1 1915.8,1306.9 1916.7,1307.4 1917.5,1307.0 1917.6,1307.5 1918.6,1307.2 1919.5,1307.7 1920.4,1307.4 1921.4,1308.0 1922.3,1308.3 1923.2,1309.3 1924.2,1309.2 1925.1,1309.3 1926.0,1309.7 1927.0,1310.1 1927.9,1309.6 1928.8,1310.1 1929.8,1312.0 1930.7,1311.2 1931.6,1309.9 1932.6,1310.8 1933.5,1310.5 1934.4,1309.9 1935.4,1310.6 1936.3,1310.1 1937.2,1311.3 1938.2,1311.1 1939.1,1311.1 1940.0,1310.3 1941.0,1309.6 1941.9,1309.9 1942.8,1311.0 1943.8,1310.8 1944.7,1310.4 1945.6,1310.4 1946.6,1310.7 1947.5,1310.1 1948.4,1310.5 1949.4,1311.7 1950.3,1312.0 1951.2,1310.6 1952.2,1309.2 1953.1,1311.2 1954.1,1309.8 1955.0,1308.9 1955.9,1309.4 1956.9,1310.2 1957.8,1308.9 1958.7,1309.1 1959.7,1309.5 1960.6,1308.0 1961.5,1310.4 1962.5,1309.4 1963.4,1309.4 1964.3,1310.5 1965.3,1308.5 1966.2,1310.3 1967.1,1309.9 1968.1,1309.7 1969.0,1309.2 1969.9,1309.5 1970.9,1307.3 1971.5,1308.6 1971.8,1309.0 1972.7,1309.6 1973.7,1310.4 1974.6,1308.4 1975.5,1308.6 1976.5,1310.0 1977.4,1310.5 1978.3,1310.4 1979.3,1310.7 1980.2,1310.0 1981.1,1311.2 1982.1,1310.3 1983.0,1310.4 1983.9,1310.9 1984.9,1309.7 1985.8,1311.4 1986.7,1311.2 1987.7,1311.3 1988.6,1309.1 1989.5,1310.3 1990.5,1311.3 1991.4,1310.1 1992.3,1311.5 1993.3,1311.3 1994.2,1312.3 1995.1,1310.2 1996.1,1311.1 1997.0,1310.5 1997.9,1310.9 1998.9,1310.8 1999.8,1309.6 2000.8,1312.5 2001.7,1310.1 2002.6,1310.6 2003.6,1311.2 2004.5,1310.2 2005.4,1310.8 2006.4,1309.8 2007.3,1309.7 2008.2,1309.7 2009.2,1310.6 2010.1,1309.3 2011.0,1309.2 2012.0,1309.4 2012.9,1309.9 2013.8,1309.3 2014.8,1310.5 2015.7,1309.3 2016.6,1310.0 2017.6,1309.6 2018.5,1309.9 2019.4,1310.9 2020.4,1311.0 2021.3,1311.4 2022.2,1311.3 2023.2,1310.4 2024.1,1311.2 2025.0,1310.8 2026.0,1309.8 2026.9,1309.0 2027.8,1309.3 2028.8,1309.2 2029.7,1308.3 2030.6,1308.9 2031.6,1308.1 2032.5,1307.9 2033.4,1307.9 2034.4,1307.0 2035.3,1305.4 2036.2,1304.9 2037.2,1303.5 2038.1,1301.5 2039.0,1299.9 2040.0,1296.6 2040.9,1292.0 2041.8,1287.9 2042.8,1280.8 2043.7,1275.4 2044.6,1273.1 2044.6,1273.6 2045.6,1275.3 2046.5,1279.7 2047.5,1284.0 2048.4,1288.1 2049.3,1289.5 2050.3,1292.2 2051.2,1295.0 2052.1,1299.5 2053.1,1302.4 2054.0,1304.4 2054.9,1306.1 2055.9,1308.0 2056.8,1307.7 2057.7,1308.0 2058.7,1307.5 2059.6,1308.2 2060.5,1308.0 2061.5,1309.8 2062.4,1307.4 2063.3,1307.6 2064.3,1307.7 2065.2,1307.7 2066.1,1307.9 2067.1,1306.5 2068.0,1305.5 2068.9,1304.8 2069.9,1302.0 2070.8,1299.5 2071.7,1296.2 2072.7,1292.7 2073.6,1290.8 2073.7,1291.9 2074.5,1292.2 2075.5,1294.0 2076.4,1297.8 2077.3,1298.6 2078.3,1299.7 2079.2,1301.6 2080.1,1302.2 2081.1,1303.2 2082.0,1304.4 2082.9,1305.7 2083.9,1305.9 2084.8,1306.6 2085.7,1306.2 2086.7,1304.7 2087.6,1303.6 2088.5,1301.2 2089.5,1299.7 2090.4,1298.4 2090.5,1299.4 2091.3,1298.9 2092.3,1300.3 2093.2,1302.9 2094.2,1302.7 2095.1,1304.7 2096.0,1304.5 2097.0,1306.5 2097.9,1306.7 2098.8,1307.0 2099.8,1308.8 2100.7,1308.5 2101.6,1310.1 2102.6,1310.5 2103.5,1310.2 2104.4,1309.9 2105.4,1310.0 2106.3,1309.9 2107.2,1310.1 2108.2,1310.1 2109.1,1309.9 2110.0,1311.6 2111.0,1310.9 2111.9,1311.4 2112.8,1311.6 2113.8,1311.4 2114.7,1310.3 2115.6,1310.4 2116.6,1311.1 2117.5,1311.0 2118.4,1310.1 2119.4,1310.0 2120.3,1311.6 2121.2,1311.7 2122.2,1310.8 2123.1,1309.7 2124.0,1310.1 2125.0,1311.8 2125.9,1310.6 2126.8,1311.0 2127.8,1311.2 2128.7,1309.8 2129.6,1309.4 2130.6,1310.3 2131.5,1308.6 2132.4,1308.9 2133.4,1309.8 2134.3,1309.2 2135.2,1307.7 2136.2,1307.9 2137.1,1306.5 2138.0,1305.3 2139.0,1304.6 2139.9,1303.1 2140.9,1300.8 2141.8,1297.8 2142.7,1293.7 2143.7,1285.9 2144.6,1277.5 2145.5,1272.1 2145.6,1271.9 2146.5,1278.1 2147.4,1290.5 2148.3,1298.0 2149.3,1297.6 2150.2,1296.2 2151.1,1293.4 2152.1,1296.3 2153.0,1302.1 2153.9,1305.6 2154.9,1307.5 2155.8,1308.7 2156.7,1307.0 2157.7,1306.9 2158.6,1306.4 2159.5,1304.4 2160.5,1304.8 2160.5,1303.7 2161.4,1304.6 2162.3,1305.4 2163.3,1305.7 2164.2,1307.2 2165.1,1306.2 2166.1,1307.3 2167.0,1306.8 2167.9,1307.3 2168.9,1308.3 2169.8,1308.6 2170.7,1308.2 2171.7,1309.5 2172.6,1310.7 2173.5,1309.3 2174.5,1309.5 2175.4,1308.8 2176.3,1309.2 2177.3,1309.2 2178.2,1309.9 2179.1,1308.4 2180.1,1308.9 2181.0,1308.6 2181.9,1308.1 2182.9,1308.6 2183.8,1308.9 2184.7,1307.8 2185.7,1307.0 2186.6,1305.5 2187.6,1304.5 2188.5,1303.1 2189.4,1300.3 2190.4,1299.1 2191.0,1299.4 2191.3,1299.7 2192.2,1300.2 2193.2,1302.3 2194.1,1302.5 2195.0,1304.8 2196.0,1304.8 2196.9,1304.3 2197.8,1305.1 2198.8,1306.4 2199.7,1307.5 2200.6,1308.6 2201.6,1310.9 2202.5,1308.7 2203.4,1311.0 2204.4,1310.8 2205.3,1311.7 2206.2,1310.4 2207.2,1310.2 2208.1,1311.2 2209.0,1310.0 2210.0,1310.4 2210.9,1311.6 2211.8,1311.6 2212.8,1311.0 2213.7,1310.5 2214.6,1308.9 2215.6,1309.6 2216.5,1310.9 2217.4,1309.9 2218.4,1310.0 2219.3,1309.4 2220.2,1309.4 2221.2,1309.6 2222.1,1310.1 2223.0,1309.1 2224.0,1308.8 2224.9,1310.2 2225.8,1309.0 2226.8,1308.9 2227.7,1308.1 2228.6,1306.5 2229.6,1304.4 2230.5,1303.9 2231.4,1303.1 2232.4,1299.5 2233.3,1296.3 2234.3,1291.9 2235.2,1284.0 2236.1,1276.4 2236.7,1275.6 2237.1,1276.1 2238.0,1286.2 2238.9,1296.3 2239.9,1300.3 2240.8,1300.6 2241.7,1296.7 2242.7,1294.7 2243.6,1298.4 2244.5,1304.6 2245.5,1307.7 2246.4,1308.0 2247.3,1310.4 2248.3,1308.8 2249.2,1309.5 2250.1,1308.8 2251.1,1308.4 2252.0,1307.3 2252.9,1306.0 2253.9,1304.8 2254.8,1302.9 2255.7,1301.1 2256.0,1301.4 2256.7,1301.5 2257.6,1303.3 2258.5,1304.6 2259.5,1305.1 2260.4,1305.1 2261.3,1306.1 2262.3,1307.2 2263.2,1307.8 2264.1,1308.1 2265.1,1308.9 2266.0,1310.7 2266.9,1311.3 2267.9,1310.6 2268.8,1311.2 2269.7,1311.4 2270.7,1310.2 2271.6,1310.8 2272.5,1310.7 2273.5,1310.5 2274.4,1310.9 2275.3,1309.4 2276.3,1310.2 2277.2,1309.8 2278.1,1310.4 2279.1,1310.2 2280.0,1309.7 2281.0,1308.8 2281.9,1309.4 2282.8,1309.3 2283.8,1308.4 2284.0,1309.0 2284.7,1308.9 2285.6,1309.4 2286.6,1310.9 2287.5,1310.4 2288.4,1311.5 2289.4,1309.6 2290.3,1310.8 2291.2,1310.2 2292.2,1310.9 2293.1,1310.8 2294.0,1310.0 2295.0,1308.4 2295.9,1310.6 2296.8,1310.5 2297.8,1310.0 2298.7,1310.2 2299.6,1309.5 2300.6,1310.2 2301.5,1309.9 2302.4,1309.7 2303.4,1310.0 2304.3,1309.4 2305.2,1309.4 2306.2,1310.2 2307.1,1310.3 2308.0,1311.6 2309.0,1311.1 2309.9,1309.5"/>
<polyline stroke="#505050" points="200.0,1280.3 200.9,1280.9 201.9,1277.7 202.8,1280.0 203.7,1280.0 204.7,1279.6 205.6,1282.7 206.5,1282.3 207.5,1282.6 208.4,1282.3 209.3,1283.2 210.3,1283.5 211.2,1283.1 212.1,1283.0 213.1,1281.9 214.0,1282.2 214.9,1281.5 215.9,1279.7 216.8,1279.9 217.7,1280.4 218.7,1279.4 219.6,1279.4 220.5,1278.3 221.5,1278.5 222.4,1278.8 223.3,1279.5 224.3,1279.5 225.2,1279.9 226.2,1278.8 227.1,1280.6 228.0,1280.0 229.0,1279.1 229.9,1279.7 230.8,1278.5 231.8,1279.5 232.7,1279.6 233.6,1279.3 234.6,1279.9 235.5,1278.2 236.4,1279.3 237.4,1279.9 238.3,1281.0 239.2,1281.5 240.2,1281.0 241.1,1280.4 242.0,1280.8 243.0,1280.9 243.9,1280.8 244.8,1279.0 245.8,1278.3 246.7,1278.1 247.6,1276.9 248.6,1277.3 249.5,1277.5 250.4,1277.4 251.4,1275.5 252.3,1274.9 253.2,1274.7 254.2,1274.7 255.1,1274.2 256.0,1273.1 257.0,1274.1 257.9,1273.4 258.8,1272.6 259.8,1271.8 260.7,1271.4 261.6,1269.4 262.6,1267.5 263.5,1265.0 264.4,1262.3 265.4,1257.2 266.3,1253.2 267.2,1246.0 268.2,1237.4 269.1,1224.3 270.0,1208.5 271.0,1194.0 271.5,1190.1 271.9,1192.4 272.9,1212.3 273.8,1239.7 274.7,1262.4 275.7,1276.0 276.6,1282.4 277.5,1285.3 278.5,1286.9 279.4,1287.5 280.3,1287.9 281.3,1289.3 282.2,1290.5 283.1,1289.5 284.1,1290.1 285.0,1289.4 285.9,1290.3 286.9,1290.7 287.8,1290.4 288.7,1291.0 289.7,1290.8 290.6,1290.3 291.5,1290.0 292.5,1290.7 293.4,1290.2 294.3,1290.7 295.3,1291.2 296.2,1291.6 297.1,1291.2 298.1,1291.5 299.0,1292.3 299.9,1292.1 300.9,1293.2 301.8,1294.1 302.7,1292.8 303.7,1293.0 304.6,1291.2 305.5,1292.1 306.5,1290.8 307.4,1290.9 308.3,1289.9 309.3,1287.8 310.2,1289.2 311.1,1288.9 312.1,1289.6 313.0,1287.8 313.9,1287.8 314.9,1287.7 315.8,1288.7 316.7,1290.1 317.7,1290.0 318.6,1290.6 319.6,1291.5 320.5,1290.1 321.4,1290.0 322.4,1290.0 323.3,1292.1 324.2,1291.0 325.2,1291.0 326.1,1290.8 327.0,1289.8 328.0,1289.6 328.9,1288.6 329.8,1288.1 330.8,1290.7 331.7,1290.7 332.6,1289.9 333.6,1290.7 334.5,1290.7 335.4,1291.3 336.4,1291.5 337.3,1291.1 338.2,1291.7 339.2,1290.8 340.1,1291.0 341.0,1290.6 342.0,1291.0 342.9,1291.4 343.8,1290.6 344.8,1289.4 345.7,1289.6 346.6,1289.6 347.6,1288.8 348.5,1289.1 349.4,1288.3 350.4,1288.9 351.3,1287.8 352.2,1287.2 353.2,1287.8 354.1,1287.5 355.0,1286.9 356.0,1286.6 356.9,1285.7 357.8,1285.8 358.8,1285.4 359.7,1284.8 360.6,1284.1 361.6,1283.1 362.5,1282.2 363.4,1280.1 364.4,1279.2 365.3,1277.7 366.3,1275.2 367.2,1269.9 368.1,1265.0 369.1,1258.3 370.0,1249.1 370.9,1237.0 371.9,1228.0 372.0,1228.0 372.8,1233.3 373.7,1249.9 374.7,1269.1 375.6,1282.1 376.5,1288.5 377.5,1291.7 378.4,1291.4 379.3,1292.7 380.3,1292.5 381.2,1291.9 382.1,1291.7 383.1,1291.1 384.0,1290.6 384.9,1291.0 385.9,1290.3 386.8,1290.8 387.7,1291.7 388.7,1291.4 389.6,1292.2 390.5,1291.4 391.5,1290.8 392.4,1291.3 393.3,1291.3 394.3,1290.5 395.2,1289.2 396.1,1289.3 397.1,1288.6 398.0,1287.8 398.9,1286.1 399.9,1284.2 400.8,1283.3 401.7,1281.1 402.7,1278.2 403.6,1276.9 404.5,1274.2 405.5,1272.3 406.4,1269.5 407.3,1265.4 408.3,1261.3 409.2,1257.0 410.1,1252.0 411.1,1246.5 412.0,1239.8 413.0,1231.0 413.9,1220.9 414.8,1209.0 415.8,1194.1 416.7,1175.2 417.6,1150.3 418.6,1116.1 419.5,1068.5 420.4,1004.0 421.4,931.7 422.3,888.8 422.3,888.8 423.2,930.5 424.2,1036.8 425.1,1147.6 426.0,1224.6 427.0,1265.0 427.9,1282.3 428.8,1288.3 429.8,1290.2 430.7,1292.3 431.6,1292.6 432.6,1293.4 433.5,1293.3 434.4,1293.3 435.4,1293.5 436.3,1295.0 437.2,1295.8 438.2,1294.9 439.1,1295.5 440.0,1296.1 441.0,1296.4 441.9,1295.9 442.8,1297.1 443.8,1298.4 444.7,1296.7 445.6,1295.7 446.6,1296.0 447.5,1297.5 448.4,1297.9 449.4,1296.0 450.3,1296.9 451.2,1296.9 452.2,1298.3 453.1,1298.1 454.0,1296.4 455.0,1298.5 455.9,1297.9 456.8,1298.3 457.8,1297.7 458.7,1296.6 459.7,1297.6 460.6,1297.2 461.5,1297.1 462.5,1297.9 463.4,1296.7 464.3,1296.0 465.3,1297.2 466.2,1295.7 467.1,1296.2 468.1,1296.4 469.0,1297.0 469.9,1297.1 470.9,1297.4 471.8,1297.1 472.7,1297.3 473.7,1298.0 474.6,1298.5 475.5,1298.9 476.5,1298.8 477.4,1297.7 478.3,1297.6 479.3,1299.2 480.2,1298.2 481.1,1298.7 482.1,1299.2 483.0,1299.8 483.9,1299.2 484.9,1300.4 485.8,1299.2 486.7,1299.4 487.7,1299.3 488.6,1300.4 489.5,1298.9 490.5,1297.2 491.4,1297.1 492.3,1296.6 493.3,1296.8 494.2,1296.4 495.1,1296.8 496.1,1295.7 497.0,1298.2 497.9,1297.1 498.9,1298.0 499.8,1298.0 500.7,1299.9 501.7,1299.6 502.6,1299.5 503.5,1299.7 504.5,1298.4 505.4,1297.7 506.4,1298.2 507.3,1297.9 508.2,1296.5 509.2,1297.7 510.1,1298.7 511.0,1297.4 512.0,1298.8 512.9,1297.6 513.8,1297.7 514.8,1297.5 515.7,1297.5 516.6,1296.4 517.6,1295.7 518.5,1296.4 519.4,1296.5 520.4,1296.3 521.3,1297.8 522.2,1298.2 523.2,1297.8 524.1,1298.6 525.0,1300.6 526.0,1297.8 526.9,1298.3 527.8,1298.6 528.8,1300.0 529.7,1300.6 530.6,1299.4 531.6,1299.8 532.5,1299.3 533.4,1298.4 534.4,1300.1 535.3,1299.2 536.2,1297.7 537.2,1298.4 538.1,1298.8 539.0,1297.2 540.0,1297.5 540.9,1298.6 541.8,1298.5 542.8,1299.4 543.7,1299.2 544.6,1298.8 545.6,1299.8 546.5,1299.2 547.4,1298.9 548.4,1299.0 549.3,1298.6 550.2,1299.3 551.2,1297.8 552.1,1298.1 553.1,1297.5 554.0,1297.8 554.9,1299.3 555.9,1298.2 556.8,1298.0 557.7,1298.5 558.7,1298.9 559.6,1297.9 560.5,1299.3 561.5,1298.3 562.4,1297.7 563.3,1298.4 564.3,1298.4 565.2,1298.2 566.1,1296.0 567.1,1295.1 568.0,1296.0 568.9,1295.3 569.9,1294.4 570.8,1292.6 571.7,1292.0 572.7,1291.7 573.6,1291.1 574.5,1290.1 575.5,1290.2 576.4,1288.8 577.3,1287.4 578.3,1286.1 579.2,1284.8 580.1,1284.0 581.1,1281.8 582.0,1280.2 582.9,1277.0 583.9,1273.4 584.8,1270.1 585.7,1263.5 586.7,1259.0 587.6,1251.9 588.5,1243.4 589.5,1233.7 590.4,1220.7 591.3,1203.9 592.3,1180.1 593.2,1146.6 594.1,1100.1 595.1,1045.6 596.0,1007.5 596.2,1006.2 596.9,1024.2 597.9,1084.6 598.8,1161.0 599.8,1222.4 600.7,1259.6 601.6,1274.7 602.6,1281.6 603.5,1282.2 604.4,1278.9 605.4,1277.7 606.3,1276.0 606.5,1276.0 607.2,1274.8 608.2,1275.8 609.1,1276.1 610.0,1276.7 611.0,1275.7 611.9,1273.5 612.8,1267.6 613.8,1261.2 614.7,1253.4 615.6,1246.6 616.5,1243.9 616.6,1243.5 617.5,1247.8 618.4,1255.9 619.4,1267.0 620.3,1276.5 621.2,1284.7 622.2,1291.8 623.1,1293.6 624.0,1295.8 625.0,1296.6 625.9,1298.7 626.8,1298.2 627.8,1299.8 628.7,1299.2 629.6,1298.3 630.6,1299.3 631.5,1300.0 632.4,1298.2 633.4,1297.3 634.3,1297.8 635.2,1297.0 636.2,1297.5 637.1,1297.2 638.0,1296.4 639.0,1296.6 639.9,1296.1 640.8,1296.8 641.8,1294.5 642.7,1293.3 643.6,1293.2 644.6,1289.7 645.5,1288.2 646.5,1283.7 647.4,1278.4 648.3,1272.1 649.3,1264.6 650.2,1256.0 651.1,1248.5 652.0,1245.9 652.1,1246.1 653.0,1249.4 653.9,1258.4 654.9,1269.1 655.8,1278.2 656.7,1287.5 657.7,1292.6 658.6,1296.2 659.5,1296.7 660.5,1297.6 661.4,1297.4 662.3,1297.7 663.3,1296.7 664.2,1296.5 665.1,1296.1 666.1,1294.1 667.0,1293.4 667.9,1291.5 668.9,1291.6 669.8,1288.7 670.7,1287.7 671.7,1284.4 672.6,1282.7 673.5,1279.8 674.5,1275.0 675.4,1267.9 676.3,1259.7 677.3,1247.9 678.2,1230.8 679.1,1206.8 680.1,1178.3 681.0,1156.2 681.3,1154.4 681.9,1162.0 682.9,1191.2 683.8,1230.1 684.7,1263.9 685.7,1285.3 686.6,1294.4 687.5,1298.6 688.5,1300.4 689.4,1301.8 690.3,1302.0 691.3,1302.4 692.2,1304.5 693.2,1302.5 694.1,1303.6 695.0,1302.2 696.0,1304.4 696.9,1304.3 697.8,1305.0 698.8,1306.7 699.7,1305.9 700.6,1306.4 701.6,1305.7 702.5,1306.0 703.4,1305.5 704.4,1305.1 705.3,1305.0 706.2,1304.2 707.2,1305.5 708.1,1304.1 709.0,1304.3 710.0,1305.2 710.9,1305.6 711.8,1305.1 712.8,1304.4 713.7,1304.0 714.6,1305.3 715.6,1305.6 716.5,1305.3 717.4,1304.8 718.4,1304.4 719.3,1305.8 720.2,1304.2 721.2,1304.2 722.1,1304.0 723.0,1304.8 724.0,1304.8 724.9,1305.2 725.8,1305.4 726.8,1304.8 727.7,1304.6 728.6,1306.0 729.6,1306.3 730.5,1305.7 731.4,1306.6 732.4,1306.3 733.3,1307.3 734.2,1306.0 735.2,1306.9 736.1,1306.7 737.0,1306.9 738.0,1306.2 738.9,1305.4 739.9,1304.6 740.8,1305.1 741.7,1305.4 742.7,1305.7 743.6,1304.9 744.5,1305.4 745.5,1304.6 746.4,1304.7 747.3,1305.5 748.3,1306.1 749.2,1305.4 750.1,1307.4 751.1,1307.3 752.0,1305.1 752.9,1306.5 753.9,1307.3 754.8,1306.4 755.7,1304.9 756.7,1305.5 757.6,1305.3 758.5,1304.9 759.5,1304.0 760.4,1305.9 761.3,1304.3 762.3,1304.6 763.2,1303.9 764.1,1303.6 765.1,1304.5 766.0,1304.7 766.9,1305.4 767.9,1304.0 768.8,1305.9 769.7,1303.8 770.7,1305.9 771.6,1303.3 772.5,1304.4 773.5,1304.5 774.4,1304.3 775.3,1302.6 776.3,1301.1 777.2,1300.1 778.1,1301.0 779.0,1300.1 779.1,1300.4 780.0,1300.8 780.9,1300.6 781.9,1299.3 782.8,1300.2 783.7,1300.9 784.7,1302.1 785.6,1299.5 786.6,1297.5 787.5,1295.4 788.4,1293.0 789.4,1292.6 790.0,1293.4 790.3,1292.8 791.2,1293.8 792.2,1294.9 793.1,1298.2 794.0,1300.8 795.0,1304.1 795.9,1304.3 796.8,1305.1 797.8,1304.3 798.7,1304.9 799.6,1304.4 800.6,1306.6 801.5,1305.7 802.4,1304.9 803.4,1306.6 804.3,1306.2 805.2,1305.4 806.2,1306.9 807.1,1306.4 808.0,1305.2 809.0,1305.9 809.9,1305.2 810.8,1304.8 811.8,1303.8 812.7,1303.8 813.6,1302.9 814.6,1302.3 815.5,1302.3 816.4,1299.9 817.4,1298.8 818.3,1297.3 819.2,1294.1 820.2,1295.0 821.0,1293.9 821.1,1293.4 822.0,1293.8 823.0,1295.7 823.9,1298.3 824.8,1299.0 825.8,1301.0 826.7,1303.4 827.6,1303.3 828.6,1305.1 829.5,1303.0 830.4,1305.3 831.4,1305.2 832.3,1303.6 833.3,1306.2 834.2,1306.5 835.1,1306.0 836.1,1307.2 837.0,1307.0 837.9,1307.9 838.9,1306.8 839.8,1306.8 840.7,1305.9 841.7,1305.3 842.6,1305.2 843.5,1305.0 844.5,1303.1 845.4,1303.5 846.3,1302.7 847.3,1302.1 848.2,1302.6 849.1,1302.6 850.1,1304.1 851.0,1302.5 851.9,1303.5 852.9,1305.1 853.8,1302.8 854.7,1303.3 855.7,1303.2 856.6,1301.7 857.5,1301.1 858.5,1301.3 859.4,1300.0 860.3,1299.9 861.3,1298.7 862.2,1297.1 863.1,1296.7 864.1,1294.9 865.0,1293.1 865.9,1290.1 866.9,1286.6 867.8,1283.3 868.7,1282.0 869.0,1281.1 869.7,1280.6 870.6,1280.5 871.5,1281.5 872.5,1281.7 873.4,1281.4 874.3,1280.0 875.3,1275.8 876.2,1271.6 877.1,1264.3 878.1,1255.3 879.0,1242.9 880.0,1224.2 880.9,1196.5 881.8,1156.1 882.8,1102.3 883.7,1051.0 884.3,1036.0 884.6,1040.7 885.6,1088.9 886.5,1148.9 887.4,1208.5 888.4,1258.0 889.3,1286.0 890.2,1298.7 891.2,1301.2 892.1,1303.5 893.0,1303.1 894.0,1303.9 894.9,1304.1 895.8,1303.9 896.8,1305.1 897.7,1303.8 898.6,1304.1 899.0,1304.2 899.6,1305.2 900.5,1305.0 901.4,1304.8 902.4,1304.3 903.3,1305.0 904.2,1305.2 905.2,1304.9 906.1,1305.1 907.0,1305.2 908.0,1305.3 908.9,1305.5 909.8,1304.4 910.8,1304.3 911.7,1305.0 912.6,1304.5 913.6,1306.2 914.5,1307.3 915.4,1306.5 916.4,1306.9 917.3,1307.0 918.2,1306.0 919.2,1307.3 920.1,1307.0 921.0,1307.0 922.0,1306.1 922.9,1305.8 923.8,1304.7 924.8,1305.8 925.7,1305.3 926.7,1305.7 927.6,1306.0 928.5,1305.3 929.5,1305.2 930.4,1306.4 931.3,1306.3 932.3,1304.4 933.2,1305.5 934.1,1305.6 935.1,1306.0 936.0,1306.9 936.9,1305.3 937.9,1306.0 938.8,1304.8 939.7,1305.2 940.7,1306.0 941.6,1305.4 942.5,1304.3 943.5,1304.2 944.4,1304.2 945.3,1304.7 946.3,1303.7 947.2,1302.7 948.1,1302.2 949.1,1301.9 950.0,1301.4 950.9,1302.8 951.0,1301.7 951.9,1301.8 952.8,1301.4 953.7,1303.8 954.7,1303.3 955.6,1303.9 956.5,1303.2 957.5,1303.7 958.4,1301.7 959.3,1302.9 960.3,1302.7 961.2,1300.7 962.1,1299.4 963.1,1297.7 964.0,1297.3 964.9,1296.6 965.9,1292.3 966.8,1291.9 967.7,1287.4 968.7,1286.9 968.8,1287.5 969.6,1287.8 970.5,1289.2 971.5,1293.0 972.4,1296.6 973.4,1300.3 974.3,1302.1 975.2,1302.5 976.2,1302.1 977.1,1303.6 978.0,1302.5 979.0,1301.8 979.9,1301.6 980.8,1302.3 981.8,1302.8 982.7,1302.5 983.6,1300.9 984.6,1301.6 985.5,1301.0 986.4,1300.2 987.4,1299.7 988.3,1299.4 989.2,1297.8 990.2,1297.7 991.1,1295.6 992.0,1294.9 993.0,1293.4 993.9,1292.2 994.8,1290.3 995.8,1289.3 996.7,1286.8 997.6,1285.6 998.6,1282.5 999.5,1278.7 1000.4,1273.9 1001.4,1266.8 1002.3,1259.2 1003.2,1248.6 1004.2,1234.3 1005.1,1214.1 1006.0,1184.2 1007.0,1139.5 1007.9,1072.4 1008.8,980.1 1009.8,885.8 1010.5,850.7 1010.7,854.9 1011.6,940.9 1012.6,1039.9 1013.5,1117.0 1014.4,1199.6 1015.4,1259.3 1016.3,1286.5 1017.2,1295.2 1018.2,1299.1 1019.1,1298.2 1020.1,1299.8 1021.0,1298.9 1021.9,1300.9 1022.9,1300.6 1023.8,1300.9 1024.7,1300.4 1025.7,1300.7 1026.6,1300.7 1027.5,1301.5 1028.5,1301.6 1029.4,1300.8 1030.3,1301.8 1031.3,1300.6 1032.2,1301.8 1033.1,1301.3 1034.1,1301.1 1035.0,1301.7 1035.9,1301.0 1036.9,1301.9 1037.8,1301.6 1038.7,1299.7 1039.7,1298.0 1040.6,1297.2 1041.5,1296.4 1042.5,1295.8 1043.4,1293.5 1044.3,1293.1 1045.3,1288.8 1046.2,1284.2 1047.1,1281.3 1048.1,1276.2 1049.0,1270.1 1049.9,1263.5 1050.9,1254.4 1051.8,1245.4 1052.7,1238.4 1053.7,1234.7 1054.0,1234.7 1054.6,1235.3 1055.5,1239.7 1056.5,1247.2 1057.4,1256.2 1058.3,1266.5 1059.3,1274.8 1060.2,1282.2 1061.1,1286.8 1062.1,1291.2 1063.0,1293.9 1063.9,1294.6 1064.9,1295.7 1065.8,1296.4 1066.8,1294.8 1067.7,1294.3 1068.6,1291.5 1069.6,1289.6 1070.5,1284.9 1071.4,1279.5 1072.4,1270.6 1073.3,1261.4 1074.2,1253.0 1075.2,1248.9 1075.4,1248.4 1076.1,1249.6 1077.0,1255.2 1078.0,1263.7 1078.9,1273.6 1079.8,1282.1 1080.8,1289.0 1081.7,1295.6 1082.6,1299.8 1083.6,1301.7 1084.5,1301.6 1085.4,1302.3 1086.4,1303.5 1087.3,1302.2 1088.2,1302.6 1089.2,1302.8 1090.1,1304.8 1091.0,1304.0 1092.0,1304.4 1092.9,1304.6 1093.8,1304.5 1094.8,1304.6 1095.7,1302.9 1096.6,1303.7 1097.6,1303.0 1098.5,1304.1 1099.4,1302.0 1100.4,1302.9 1101.3,1302.8 1102.2,1303.0 1103.2,1301.7 1104.1,1302.9 1105.0,1302.5 1106.0,1301.8 1106.9,1302.6 1107.8,1301.3 1108.8,1300.9 1109.7,1301.0 1110.6,1301.5 1111.6,1299.8 1112.5,1299.7 1113.5,1299.0 1114.4,1296.8 1114.5,1298.5 1115.3,1299.6 1116.3,1299.3 1117.2,1301.8 1118.1,1301.1 1119.1,1302.6 1120.0,1304.2 1120.9,1304.9 1121.9,1304.1 1122.8,1303.9 1123.7,1304.4 1124.7,1303.7 1125.6,1303.7 1126.5,1303.2 1127.5,1303.1 1128.4,1302.3 1129.3,1302.9 1130.3,1301.8 1131.2,1301.0 1132.1,1300.6 1132.5,1300.3 1133.1,1299.3 1134.0,1299.5 1134.9,1298.8 1135.9,1298.1 1136.8,1297.9 1137.7,1298.5 1138.7,1297.2 1139.6,1298.2 1140.5,1297.0 1141.5,1297.1 1142.4,1297.4 1143.3,1295.5 1144.3,1294.0 1145.2,1293.7 1146.1,1289.6 1147.1,1287.7 1148.0,1284.8 1148.9,1281.3 1149.5,1281.1 1149.9,1278.4 1150.8,1278.3 1151.7,1279.1 1152.7,1278.4 1153.6,1278.4 1154.5,1277.9 1155.5,1277.2 1156.4,1273.9 1157.3,1269.6 1158.3,1263.3 1159.2,1254.8 1160.2,1243.6 1161.1,1227.4 1162.0,1204.9 1163.0,1171.4 1163.9,1121.2 1164.8,1046.5 1165.8,945.4 1166.7,848.4 1167.3,820.5 1167.6,831.2 1168.6,935.1 1169.5,1032.5 1170.4,1089.8 1171.4,1165.0 1172.3,1237.8 1173.2,1278.6 1174.2,1292.2 1175.1,1296.9 1176.0,1296.9 1177.0,1298.0 1177.9,1297.8 1178.8,1299.9 1179.8,1299.7 1180.7,1299.8 1181.6,1299.6 1182.6,1296.3 1183.5,1296.0 1184.4,1296.4 1185.4,1294.4 1186.3,1292.2 1187.2,1288.5 1188.2,1286.0 1189.1,1281.0 1190.0,1276.0 1191.0,1266.0 1191.9,1254.9 1192.8,1238.4 1193.8,1214.0 1194.7,1177.5 1195.6,1125.6 1196.6,1067.0 1197.5,1035.9 1197.5,1036.0 1198.4,1078.1 1199.4,1140.3 1200.3,1176.1 1201.2,1209.6 1202.2,1253.8 1203.1,1285.2 1204.0,1296.9 1205.0,1299.9 1205.9,1301.8 1206.9,1302.0 1207.8,1302.4 1208.7,1303.3 1209.7,1304.1 1210.6,1303.5 1211.5,1304.3 1212.5,1304.7 1213.4,1305.0 1214.3,1306.2 1215.3,1304.4 1216.2,1307.2 1217.1,1306.8 1218.1,1305.8 1219.0,1305.4 1219.9,1305.9 1220.9,1306.1 1221.8,1305.4 1222.7,1305.6 1223.7,1304.0 1224.6,1304.1 1225.5,1304.1 1226.5,1303.2 1227.4,1301.9 1228.3,1301.7 1229.3,1298.6 1230.2,1298.5 1231.1,1295.7 1232.1,1293.4 1233.0,1289.6 1233.9,1284.6 1234.9,1281.5 1235.8,1279.6 1235.8,1279.8 1236.7,1280.4 1237.7,1281.9 1238.6,1285.0 1239.5,1287.1 1240.5,1291.6 1241.4,1293.3 1242.3,1294.9 1243.3,1296.1 1244.2,1295.8 1245.1,1296.1 1246.1,1294.9 1247.0,1293.4 1247.9,1291.1 1248.9,1289.1 1249.8,1285.4 1250.7,1280.7 1251.7,1273.9 1252.6,1265.7 1253.6,1254.0 1254.5,1236.6 1255.4,1210.6 1256.4,1172.9 1257.3,1126.0 1258.2,1089.5 1258.5,1085.3 1259.2,1099.3 1260.1,1142.1 1261.0,1164.4 1262.0,1168.2 1262.9,1180.1 1263.8,1191.0 1264.3,1194.2 1264.8,1198.8 1265.7,1208.0 1266.6,1203.9 1267.6,1183.7 1268.5,1156.8 1269.4,1133.6 1270.0,1129.3 1270.4,1136.2 1271.3,1178.1 1272.2,1212.9 1273.2,1229.4 1274.1,1250.7 1275.0,1277.6 1276.0,1296.8 1276.9,1301.9 1277.8,1304.3 1278.8,1304.9 1279.7,1305.9 1280.6,1306.3 1281.6,1304.8 1282.5,1303.9 1283.4,1303.9 1284.4,1302.8 1285.3,1302.0 1286.2,1301.0 1287.2,1296.6 1288.1,1292.8 1289.0,1288.4 1290.0,1283.7 1290.9,1282.5 1291.0,1282.0 1291.8,1283.3 1292.8,1286.5 1293.7,1289.8 1294.6,1293.8 1295.6,1298.6 1296.5,1303.1 1297.4,1306.6 1298.4,1305.6 1299.3,1309.1 1300.3,1310.0 1301.2,1310.3 1302.1,1310.2 1303.1,1310.0 1304.0,1310.5 1304.9,1310.1 1305.9,1309.6 1306.8,1309.7 1307.7,1308.8 1308.7,1307.0 1309.6,1304.3 1310.5,1302.3 1311.5,1298.6 1312.4,1293.7 1313.3,1291.1 1314.3,1290.6 1314.3,1289.5 1315.2,1289.9 1316.1,1294.3 1317.1,1295.9 1318.0,1301.5 1318.9,1304.2 1319.9,1307.2 1320.8,1309.2 1321.7,1311.1 1322.7,1310.8 1323.6,1311.8 1324.5,1311.7 1325.5,1312.7 1326.4,1311.8 1327.3,1313.3 1328.3,1313.8 1329.2,1313.7 1330.1,1314.8 1331.1,1315.5 1332.0,1315.0 1332.9,1314.5 1333.9,1313.1 1334.8,1313.8 1335.7,1313.1 1336.7,1313.9 1337.6,1313.3 1338.5,1312.3 1339.5,1312.7 1340.4,1312.8 1341.3,1311.8 1342.3,1313.7 1343.2,1312.8 1344.1,1312.2 1345.1,1312.1 1346.0,1312.8 1347.0,1312.9 1347.9,1313.9 1348.8,1313.1 1349.8,1313.1 1350.7,1312.2 1351.6,1312.8 1352.6,1311.8 1353.5,1311.4 1354.4,1310.6 1355.4,1311.1 1356.3,1310.7 1357.2,1311.0 1358.2,1310.1 1359.1,1309.4 1360.0,1309.6 1361.0,1308.4 1361.9,1308.9 1362.8,1310.5 1363.8,1310.1 1364.7,1310.1 1365.6,1312.1 1366.6,1311.1 1367.5,1311.5 1368.4,1311.4 1369.4,1311.3 1370.3,1312.3 1371.2,1312.6 1372.2,1311.7 1373.1,1313.1 1374.0,1311.4 1375.0,1311.7 1375.9,1312.2 1376.8,1311.7 1377.8,1312.7 1378.7,1311.7 1379.6,1311.7 1380.6,1310.1 1381.5,1310.1 1382.4,1308.1 1383.4,1307.3 1384.3,1305.7 1385.2,1304.6 1386.2,1302.1 1387.1,1300.9 1388.0,1296.4 1389.0,1291.3 1389.9,1286.6 1390.8,1283.5 1391.5,1282.0 1391.8,1282.0 1392.7,1284.9 1393.7,1288.1 1394.6,1291.1 1395.5,1296.0 1396.5,1299.5 1397.4,1302.1 1398.3,1304.5 1399.3,1305.2 1400.2,1306.3 1401.1,1304.7 1402.1,1304.2 1403.0,1304.5 1403.9,1303.1 1404.9,1302.1 1405.8,1299.6 1406.7,1297.3 1407.7,1292.4 1408.6,1286.4 1409.5,1277.2 1410.5,1260.9 1411.4,1239.5 1412.3,1215.7 1413.3,1201.9 1413.3,1201.9 1414.2,1218.8 1415.1,1246.0 1416.1,1259.2 1417.0,1263.9 1417.9,1277.9 1418.9,1294.7 1419.8,1305.6 1420.7,1309.3 1421.7,1309.2 1422.6,1310.3 1423.5,1310.1 1424.5,1310.7 1425.4,1309.9 1426.3,1310.2 1427.3,1309.8 1428.2,1310.2 1429.1,1309.7 1430.1,1309.4 1431.0,1309.9 1431.9,1309.7 1432.9,1311.3 1433.8,1311.9 1434.7,1310.7 1435.7,1311.0 1436.6,1312.1 1437.5,1311.3 1438.5,1311.7 1439.4,1311.4 1440.4,1310.5 1441.3,1311.1 1442.2,1310.4 1443.2,1311.2 1444.1,1310.8 1445.0,1311.9 1446.0,1310.8 1446.9,1312.0 1447.8,1311.6 1448.8,1312.5 1449.7,1311.5 1450.6,1311.2 1451.6,1312.5 1452.5,1312.1 1453.4,1311.4 1454.4,1311.6 1455.3,1312.0 1456.2,1311.7 1457.2,1311.7 1458.1,1310.5 1459.0,1312.7 1460.0,1311.6 1460.9,1312.2 1461.8,1312.3 1462.8,1312.6 1463.7,1312.5 1464.6,1311.0 1465.6,1312.1 1466.5,1312.8 1467.4,1312.8 1468.4,1313.4 1469.3,1312.1 1470.2,1311.8 1471.2,1312.6 1472.1,1312.3 1473.0,1312.2 1474.0,1312.1 1474.9,1312.4 1475.8,1312.9 1476.8,1312.2 1477.7,1311.6 1478.6,1310.8 1479.6,1311.3 1480.5,1311.6 1481.4,1310.9 1482.4,1311.3 1483.3,1312.6 1484.2,1311.7 1485.2,1311.4 1486.1,1311.5 1487.1,1311.6 1488.0,1311.1 1488.9,1310.8 1489.9,1311.6 1490.8,1311.2 1491.7,1310.7 1492.7,1311.1 1493.6,1310.4 1494.5,1311.2 1495.5,1310.9 1496.4,1312.1 1497.3,1312.0 1498.3,1311.5 1499.2,1311.8 1500.1,1311.9 1501.1,1312.4 1502.0,1312.3 1502.9,1312.6 1503.9,1310.5 1504.8,1310.4 1505.7,1310.8 1506.7,1308.2 1507.6,1309.7 1508.5,1307.2 1509.5,1304.9 1510.4,1303.6 1511.3,1302.2 1512.0,1301.9 1512.3,1302.2 1513.2,1301.3 1514.1,1303.5 1515.1,1303.0 1516.0,1305.0 1516.9,1306.0 1517.9,1306.8 1518.8,1308.9 1519.7,1309.2 1520.7,1310.5 1521.6,1308.9 1522.5,1307.7 1523.5,1307.0 1524.4,1305.6 1525.3,1305.4 1526.3,1304.6 1526.5,1303.5 1527.2,1304.7 1528.1,1306.5 1529.1,1306.6 1530.0,1307.3 1530.9,1309.2 1531.9,1311.3 1532.8,1311.9 1533.8,1312.4 1534.7,1314.1 1535.6,1315.3 1536.6,1314.8 1537.5,1314.2 1538.4,1314.8 1539.4,1314.0 1540.3,1314.7 1541.2,1314.0 1542.2,1312.7 1543.1,1313.0 1544.0,1312.3 1545.0,1313.2 1545.9,1311.4 1546.8,1310.9 1547.8,1311.6 1548.7,1309.3 1549.6,1310.7 1550.6,1310.8 1551.5,1309.0 1552.4,1309.7 1553.4,1311.1 1554.3,1310.8 1555.2,1311.6 1556.2,1310.8 1557.1,1311.4 1558.0,1309.7 1559.0,1309.8 1559.9,1309.2 1560.8,1305.1 1561.8,1304.9 1562.7,1302.3 1563.0,1302.1 1563.6,1304.6 1564.6,1303.8 1565.5,1305.5 1566.4,1306.4 1567.4,1307.5 1568.3,1308.7 1569.2,1309.9 1570.2,1310.5 1571.1,1310.1 1572.0,1310.7 1573.0,1312.1 1573.9,1312.7 1574.8,1310.6 1575.8,1312.7 1576.7,1311.2 1577.6,1311.5 1578.6,1311.3 1579.5,1311.5 1580.5,1310.8 1581.4,1311.9 1582.3,1309.9 1583.3,1309.1 1584.2,1308.6 1585.1,1307.3 1586.1,1305.7 1587.0,1305.6 1587.0,1305.1 1587.9,1306.1 1588.9,1306.3 1589.8,1306.8 1590.7,1307.1 1591.7,1308.6 1592.6,1309.9 1593.5,1309.6 1594.5,1309.7 1595.4,1309.8 1596.3,1310.9 1597.3,1310.2 1598.2,1309.3 1599.1,1308.1 1600.1,1308.1 1601.0,1307.0 1601.9,1307.7 1602.9,1306.8 1603.8,1306.0 1604.7,1305.5 1605.7,1305.6 1606.6,1302.9 1607.5,1301.8 1608.5,1299.5 1609.4,1296.5 1610.3,1294.1 1611.3,1289.5 1612.2,1289.2 1612.3,1288.8 1613.1,1290.3 1614.1,1291.9 1615.0,1294.9 1615.9,1297.9 1616.9,1299.8 1617.8,1302.5 1618.7,1305.4 1619.7,1307.0 1620.6,1308.6 1621.5,1309.2 1622.5,1308.7 1623.4,1309.6 1624.3,1310.2 1625.3,1308.3 1626.2,1308.2 1627.2,1306.9 1628.1,1306.0 1629.0,1305.3 1630.0,1304.9 1630.9,1303.3 1631.8,1300.3 1632.8,1298.6 1633.7,1294.9 1634.6,1289.6 1635.6,1281.9 1636.5,1271.0 1637.4,1259.0 1638.3,1253.3 1638.4,1253.1 1639.3,1264.2 1640.2,1280.6 1641.2,1286.4 1642.1,1286.8 1643.0,1289.1 1644.0,1298.1 1644.9,1305.2 1645.8,1308.6 1646.8,1310.1 1647.7,1310.6 1648.6,1309.9 1649.6,1311.0 1650.5,1309.7 1651.4,1310.9 1652.4,1310.0 1653.3,1310.3 1654.2,1311.9 1655.2,1309.1 1656.1,1309.4 1657.0,1311.2 1658.0,1309.7 1658.9,1309.3 1659.8,1309.8 1660.8,1309.9 1661.7,1310.3 1662.6,1309.9 1663.6,1309.7 1664.5,1309.4 1665.4,1309.2 1666.4,1309.5 1667.3,1308.6 1668.2,1309.5 1669.2,1308.2 1670.1,1307.9 1671.0,1306.8 1672.0,1304.6 1672.9,1301.4 1673.9,1299.4 1674.8,1295.8 1675.7,1292.2 1676.7,1290.9 1677.0,1290.8 1677.6,1290.2 1678.5,1291.5 1679.5,1295.5 1680.4,1296.3 1681.3,1299.5 1682.3,1300.9 1683.2,1303.5 1684.1,1306.5 1685.1,1307.0 1686.0,1307.0 1686.9,1308.8 1687.9,1308.1 1688.8,1309.7 1689.7,1308.4 1690.7,1308.6 1691.6,1307.4 1692.5,1305.5 1693.5,1303.6 1694.4,1302.6 1695.3,1302.1 1695.5,1302.1 1696.3,1302.3 1697.2,1303.2 1698.1,1304.6 1699.1,1305.0 1700.0,1307.2 1700.9,1307.4 1701.9,1309.5 1702.8,1309.8 1703.7,1309.9 1704.7,1310.2 1705.6,1311.2 1706.5,1311.7 1707.5,1311.7 1708.4,1312.5 1709.3,1311.6 1710.3,1312.4 1711.2,1311.9 1712.1,1312.5 1713.1,1310.6 1714.0,1312.9 1714.9,1312.0 1715.9,1312.4 1716.8,1311.7 1717.7,1311.3 1718.7,1312.5 1719.6,1311.8 1720.6,1313.3 1721.5,1312.9 1722.4,1313.1 1723.4,1313.0 1724.3,1312.2 1725.2,1311.0 1726.2,1312.2 1727.1,1312.0 1728.0,1312.3 1729.0,1312.2 1729.9,1312.5 1730.8,1313.1 1731.8,1312.7 1732.7,1314.3 1733.6,1313.1 1734.6,1313.7 1735.5,1313.5 1736.4,1313.7 1737.4,1314.4 1738.3,1313.3 1739.2,1312.8 1740.2,1312.4 1741.1,1312.0 1742.0,1312.6 1743.0,1311.3 1743.9,1311.7 1744.8,1311.1 1745.8,1311.1 1746.7,1310.9 1747.6,1311.1 1748.6,1310.7 1749.5,1310.8 1750.4,1311.7 1751.4,1311.3 1752.3,1309.9 1753.2,1311.6 1754.2,1312.0 1755.1,1311.7 1756.0,1310.8 1757.0,1310.7 1757.9,1311.3 1758.6,1310.4 1758.8,1309.7 1759.8,1310.7 1760.7,1310.3 1761.6,1311.6 1762.6,1310.3 1763.5,1308.9 1764.4,1310.6 1765.4,1311.5 1766.3,1311.3 1767.3,1311.5 1768.2,1310.6 1769.1,1313.0 1770.1,1311.1 1771.0,1311.2 1771.9,1311.6 1772.9,1311.2 1773.8,1310.8 1774.7,1311.6 1775.7,1310.8 1776.6,1312.6 1777.5,1312.3 1778.5,1311.6 1779.4,1311.1 1780.3,1312.3 1781.3,1311.9 1782.2,1313.1 1783.1,1312.6 1784.1,1312.1 1785.0,1311.0 1785.9,1312.5 1786.9,1311.9 1787.8,1311.2 1788.7,1311.4 1789.7,1312.0 1790.6,1312.5 1791.5,1310.8 1792.5,1310.9 1793.4,1311.9 1794.3,1310.8 1795.3,1310.5 1796.2,1312.2 1797.1,1311.2 1798.1,1311.1 1799.0,1309.5 1799.9,1310.6 1800.9,1309.1 1801.8,1308.8 1802.7,1308.3 1803.0,1307.8 1803.7,1306.5 1804.6,1308.1 1805.5,1308.8 1806.5,1308.0 1807.4,1309.4 1808.3,1310.1 1809.3,1309.8 1810.2,1309.9 1811.1,1310.7 1812.1,1310.5 1813.0,1310.7 1814.0,1311.5 1814.9,1311.0 1815.8,1309.8 1816.8,1309.4 1817.7,1308.8 1818.6,1308.3 1819.6,1307.1 1820.5,1308.3 1820.5,1306.3 1821.4,1308.3 1822.4,1309.4 1823.3,1309.5 1824.2,1309.5 1825.2,1309.6 1826.1,1309.8 1827.0,1312.2 1828.0,1311.9 1828.9,1311.8 1829.8,1311.4 1830.8,1311.5 1831.7,1311.9 1832.6,1311.3 1833.6,1313.3 1834.5,1311.6 1835.4,1312.2 1836.4,1311.8 1837.3,1312.0 1838.2,1312.4 1839.2,1311.1 1840.1,1312.3 1841.0,1312.4 1842.0,1311.4 1842.9,1311.8 1843.8,1312.4 1844.8,1312.4 1845.7,1311.8 1846.6,1311.5 1847.6,1311.4 1848.5,1311.4 1849.4,1310.5 1850.4,1311.0 1851.3,1310.4 1852.2,1311.5 1853.2,1310.7 1854.1,1310.7 1855.0,1310.9 1856.0,1310.0 1856.9,1310.6 1857.8,1310.6 1858.8,1311.1 1859.7,1310.4 1860.7,1311.4 1861.6,1308.2 1862.5,1306.6 1863.5,1305.8 1864.4,1303.8 1865.3,1304.4 1865.5,1302.5 1866.3,1303.0 1867.2,1303.7 1868.1,1305.4 1869.1,1306.3 1870.0,1307.3 1870.9,1308.8 1871.9,1308.8 1872.8,1310.3 1873.7,1312.3 1874.7,1311.2 1875.6,1312.0 1876.5,1312.6 1877.5,1312.3 1878.4,1312.4 1879.3,1312.3 1880.3,1313.0 1881.2,1311.4 1882.1,1311.1 1883.1,1312.5 1884.0,1311.6 1884.9,1311.1 1885.9,1312.4 1886.8,1311.8 1887.7,1312.4 1888.7,1311.4 1889.6,1310.6 1890.5,1311.6 1891.5,1311.7 1892.4,1311.8 1893.3,1312.3 1894.3,1312.0 1895.2,1311.1 1896.1,1312.4 1897.1,1310.8 1898.0,1311.4 1898.9,1311.6 1899.9,1311.4 1900.8,1310.5 1901.7,1309.9 1902.7,1308.6 1903.6,1308.4 1904.5,1307.5 1904.5,1308.3 1905.5,1308.6 1906.4,1309.1 1907.4,1308.1 1908.3,1308.7 1909.2,1309.5 1910.2,1308.6 1911.1,1309.2 1912.0,1309.4 1913.0,1309.7 1913.9,1309.8 1914.8,1308.7 1915.8,1307.1 1916.7,1307.8 1917.5,1307.0 1917.6,1308.1 1918.6,1308.5 1919.5,1309.2 1920.4,1310.3 1921.4,1309.2 1922.3,1311.0 1923.2,1309.9 1924.2,1311.2 1925.1,1311.9 1926.0,1310.8 1927.0,1312.2 1927.9,1311.3 1928.8,1312.4 1929.8,1312.0 1930.7,1311.5 1931.6,1311.6 1932.6,1311.4 1933.5,1311.9 1934.4,1311.0 1935.4,1312.1 1936.3,1311.8 1937.2,1311.2 1938.2,1311.6 1939.1,1310.9 1940.0,1312.2 1941.0,1310.6 1941.9,1310.9 1942.8,1312.6 1943.8,1312.7 1944.7,1311.6 1945.6,1312.0 1946.6,1312.4 1947.5,1312.2 1948.4,1312.6 1949.4,1312.0 1950.3,1311.8 1951.2,1311.2 1952.2,1311.8 1953.1,1311.9 1954.1,1311.2 1955.0,1312.2 1955.9,1311.8 1956.9,1310.9 1957.8,1310.9 1958.7,1310.1 1959.7,1309.9 1960.6,1311.3 1961.5,1311.3 1962.5,1310.0 1963.4,1309.4 1964.3,1309.8 1965.3,1311.7 1966.2,1310.0 1967.1,1310.6 1968.1,1310.0 1969.0,1310.3 1969.9,1309.5 1970.9,1309.9 1971.5,1310.0 1971.8,1310.7 1972.7,1310.0 1973.7,1310.1 1974.6,1310.5 1975.5,1309.6 1976.5,1310.2 1977.4,1310.6 1978.3,1310.3 1979.3,1311.1 1980.2,1310.6 1981.1,1311.0 1982.1,1311.4 1983.0,1311.6 1983.9,1311.7 1984.9,1311.0 1985.8,1311.3 1986.7,1310.6 1987.7,1311.5 1988.6,1313.0 1989.5,1312.8 1990.5,1311.8 1991.4,1311.8 1992.3,1311.6 1993.3,1311.7 1994.2,1312.9 1995.1,1312.8 1996.1,1312.5 1997.0,1311.7 1997.9,1311.5 1998.9,1311.4 1999.8,1313.3 2000.8,1311.7 2001.7,1311.6 2002.6,1311.8 2003.6,1311.6 2004.5,1312.0 2005.4,1311.1 2006.4,1311.4 2007.3,1311.1 2008.2,1310.6 2009.2,1309.6 2010.1,1310.4 2011.0,1310.6 2012.0,1310.7 2012.9,1310.8 2013.8,1311.0 2014.8,1310.6 2015.7,1310.7 2016.6,1309.7 2017.6,1310.6 2018.5,1311.7 2019.4,1310.9 2020.4,1310.9 2021.3,1311.7 2022.2,1311.8 2023.2,1310.9 2024.1,1311.2 2025.0,1310.7 2026.0,1310.3 2026.9,1309.6 2027.8,1309.7 2028.8,1309.9 2029.7,1308.7 2030.6,1309.9 2031.6,1308.5 2032.5,1309.5 2033.4,1308.4 2034.4,1309.1 2035.3,1307.4 2036.2,1305.3 2037.2,1305.0 2038.1,1303.6 2039.0,1302.0 2040.0,1296.8 2040.9,1294.7 2041.8,1288.5 2042.8,1281.2 2043.7,1276.0 2044.6,1273.7 2044.6,1273.5 2045.6,1275.3 2046.5,1280.1 2047.5,1285.5 2048.4,1288.5 2049.3,1290.4 2050.3,1293.9 2051.2,1297.0 2052.1,1299.5 2053.1,1302.3 2054.0,1306.1 2054.9,1307.6 2055.9,1309.2 2056.8,1309.6 2057.7,1309.4 2058.7,1309.5 2059.6,1309.6 2060.5,1308.9 2061.5,1309.0 2062.4,1309.7 2063.3,1308.8 2064.3,1308.8 2065.2,1308.8 2066.1,1307.8 2067.1,1307.7 2068.0,1305.9 2068.9,1305.6 2069.9,1302.3 2070.8,1301.3 2071.7,1297.9 2072.7,1294.8 2073.6,1292.8 2073.7,1292.9 2074.5,1294.3 2075.5,1294.7 2076.4,1298.6 2077.3,1299.6 2078.3,1300.4 2079.2,1301.3 2080.1,1303.3 2081.1,1305.3 2082.0,1305.9 2082.9,1306.3 2083.9,1306.5 2084.8,1308.2 2085.7,1306.6 2086.7,1306.1 2087.6,1302.8 2088.5,1302.2 2089.5,1299.9 2090.4,1299.0 2090.5,1299.0 2091.3,1300.4 2092.3,1299.7 2093.2,1302.1 2094.2,1304.7 2095.1,1304.0 2096.0,1305.4 2097.0,1305.9 2097.9,1308.3 2098.8,1309.4 2099.8,1310.3 2100.7,1311.2 2101.6,1310.0 2102.6,1310.9 2103.5,1310.9 2104.4,1311.3 2105.4,1311.6 2106.3,1311.4 2107.2,1310.7 2108.2,1311.3 2109.1,1311.8 2110.0,1311.4 2111.0,1311.4 2111.9,1311.6 2112.8,1311.0 2113.8,1311.7 2114.7,1312.3 2115.6,1312.8 2116.6,1312.3 2117.5,1312.8 2118.4,1312.1 2119.4,1313.0 2120.3,1311.1 2121.2,1311.5 2122.2,1312.6 2123.1,1310.7 2124.0,1311.4 2125.0,1311.4 2125.9,1311.0 2126.8,1310.7 2127.8,1312.3 2128.7,1311.0 2129.6,1312.4 2130.6,1310.9 2131.5,1310.6 2132.4,1312.5 2133.4,1311.6 2134.3,1312.7 2135.2,1311.0 2136.2,1309.6 2137.1,1309.1 2138.0,1307.2 2139.0,1307.0 2139.9,1305.2 2140.9,1303.0 2141.8,1299.8 2142.7,1294.4 2143.7,1285.4 2144.6,1277.3 2145.5,1272.7 2145.6,1272.6 2146.5,1278.4 2147.4,1291.6 2148.3,1297.9 2149.3,1299.0 2150.2,1296.7 2151.1,1294.7 2152.1,1296.9 2153.0,1303.9 2153.9,1307.4 2154.9,1308.7 2155.8,1308.8 2156.7,1307.9 2157.7,1307.8 2158.6,1306.8 2159.5,1305.0 2160.5,1304.5 2160.5,1305.6 2161.4,1304.9 2162.3,1305.3 2163.3,1306.5 2164.2,1308.1 2165.1,1307.7 2166.1,1308.4 2167.0,1308.4 2167.9,1308.8 2168.9,1310.3 2169.8,1309.5 2170.7,1310.4 2171.7,1310.3 2172.6,1310.4 2173.5,1310.8 2174.5,1309.8 2175.4,1310.9 2176.3,1311.4 2177.3,1310.6 2178.2,1309.4 2179.1,1309.0 2180.1,1310.4 2181.0,1309.8 2181.9,1308.8 2182.9,1308.7 2183.8,1308.7 2184.7,1308.0 2185.7,1307.2 2186.6,1307.0 2187.6,1306.2 2188.5,1303.8 2189.4,1302.4 2190.4,1300.3 2191.0,1299.2 2191.3,1300.6 2192.2,1300.5 2193.2,1302.5 2194.1,1303.8 2195.0,1305.3 2196.0,1305.4 2196.9,1306.2 2197.8,1307.1 2198.8,1308.5 2199.7,1310.2 2200.6,1311.0 2201.6,1311.1 2202.5,1312.0 2203.4,1311.7 2204.4,1312.2 2205.3,1312.2 2206.2,1311.9 2207.2,1312.4 2208.1,1311.8 2209.0,1312.3 2210.0,1311.7 2210.9,1311.3 2211.8,1311.9 2212.8,1311.7 2213.7,1311.5 2214.6,1312.5 2215.6,1311.4 2216.5,1311.7 2217.4,1312.0 2218.4,1312.8 2219.3,1309.8 2220.2,1310.9 2221.2,1310.0 2222.1,1309.7 2223.0,1309.4 2224.0,1309.7 2224.9,1309.8 2225.8,1308.9 2226.8,1308.4 2227.7,1307.0 2228.6,1306.6 2229.6,1307.1 2230.5,1305.4 2231.4,1305.0 2232.4,1301.6 2233.3,1296.9 2234.3,1292.7 2235.2,1285.0 2236.1,1277.2 2236.7,1275.7 2237.1,1276.8 2238.0,1287.4 2238.9,1297.9 2239.9,1301.1 2240.8,1300.0 2241.7,1296.7 2242.7,1295.1 2243.6,1299.2 2244.5,1305.2 2245.5,1309.2 2246.4,1310.1 2247.3,1310.2 2248.3,1310.7 2249.2,1311.0 2250.1,1310.2 2251.1,1308.8 2252.0,1307.5 2252.9,1306.4 2253.9,1305.2 2254.8,1303.3 2255.7,1301.0 2256.0,1302.7 2256.7,1303.1 2257.6,1304.7 2258.5,1304.8 2259.5,1305.8 2260.4,1306.7 2261.3,1307.4 2262.3,1308.0 2263.2,1308.4 2264.1,1308.8 2265.1,1308.9 2266.0,1310.7 2266.9,1311.6 2267.9,1311.6 2268.8,1313.1 2269.7,1311.4 2270.7,1312.5 2271.6,1312.1 2272.5,1312.0 2273.5,1312.1 2274.4,1311.8 2275.3,1311.8 2276.3,1312.4 2277.2,1311.3 2278.1,1310.3 2279.1,1311.3 2280.0,1310.4 2281.0,1311.5 2281.9,1310.5 2282.8,1310.0 2283.8,1309.5 2284.0,1311.0 2284.7,1309.0 2285.6,1310.1 2286.6,1310.7 2287.5,1312.4 2288.4,1311.8 2289.4,1311.2 2290.3,1311.6 2291.2,1311.4 2292.2,1311.3 2293.1,1312.4 2294.0,1311.0 2295.0,1312.7 2295.9,1311.1 2296.8,1310.8 2297.8,1311.1 2298.7,1311.9 2299.6,1312.0 2300.6,1312.5 2301.5,1312.7 2302.4,1312.5 2303.4,1312.0 2304.3,1312.0 2305.2,1313.5 2306.2,1312.7 2307.1,1312.1 2308.0,1312.8 2309.0,1311.2 2309.9,1313.3"/>
<polyline stroke="#ff3e3e" points="200.0,1034.7 200.9,1034.1 201.9,1035.1 202.8,1035.0 203.7,1034.4 204.7,1034.6 205.6,1035.4 206.5,1035.5 207.5,1034.0 208.4,1035.6 209.3,1034.0 210.3,1034.3 211.2,1034.8 212.1,1034.0 213.1,1033.9 214.0,1033.3 214.9,1034.9 215.9,1033.9 216.8,1034.5 217.7,1034.7 218.7,1035.2 219.6,1035.8 220.5,1035.1 221.5,1036.2 222.4,1036.0 223.3,1034.4 224.3,1034.1 225.2,1034.8 226.2,1035.1 227.1,1036.1 228.0,1035.3 229.0,1035.8 229.9,1034.5 230.8,1035.6 231.8,1036.6 232.7,1035.5 233.6,1034.5 234.6,1034.5 235.5,1034.6 236.4,1034.3 237.4,1034.4 238.3,1034.4 239.2,1034.0 240.2,1034.3 241.1,1034.1 242.0,1034.2 243.0,1033.2 243.9,1034.1 244.8,1034.6 245.8,1032.9 246.7,1034.9 247.6,1033.3 248.6,1033.0 249.5,1033.0 250.4,1032.3 251.4,1032.5 252.3,1032.2 253.2,1030.1 254.2,1031.4 255.1,1031.2 256.0,1030.9 257.0,1030.7 257.9,1030.2 258.8,1029.5 259.8,1028.2 260.7,1029.1 261.6,1026.7 262.6,1025.3 263.5,1023.5 264.4,1021.0 265.4,1018.5 266.3,1015.2 267.2,1010.2 268.2,1003.3 269.1,994.8 270.0,983.2 271.0,972.2 271.5,969.6 271.9,971.7 272.9,985.8 273.8,1006.8 274.7,1023.0 275.7,1031.6 276.6,1035.1 277.5,1037.2 278.5,1037.2 279.4,1039.2 280.3,1038.9 281.3,1037.2 282.2,1038.3 283.1,1038.3 284.1,1037.9 285.0,1038.2 285.9,1040.2 286.9,1038.5 287.8,1038.5 288.7,1040.0 289.7,1039.3 290.6,1039.1 291.5,1042.2 292.5,1041.5 293.4,1040.7 294.3,1042.8 295.3,1041.8 296.2,1042.4 297.1,1042.1 298.1,1042.8 299.0,1042.2 299.9,1041.8 300.9,1042.3 301.8,1041.8 302.7,1041.4 303.7,1040.9 304.6,1041.4 305.5,1041.0 306.5,1040.6 307.4,1041.8 308.3,1041.6 309.3,1041.0 310.2,1040.2 311.1,1041.0 312.1,1040.7 313.0,1041.3 313.9,1041.6 314.9,1041.4 315.8,1040.2 316.7,1041.2 317.7,1041.9 318.6,1042.2 319.6,1041.8 320.5,1041.8 321.4,1042.3 322.4,1042.9 323.3,1042.1 324.2,1041.9 325.2,1042.8 326.1,1042.9 327.0,1041.9 328.0,1042.2 328.9,1041.5 329.8,1042.4 330.8,1042.7 331.7,1042.3 332.6,1042.4 333.6,1042.6 334.5,1043.2 335.4,1043.7 336.4,1043.4 337.3,1043.3 338.2,1043.9 339.2,1043.0 340.1,1042.9 341.0,1042.0 342.0,1043.3 342.9,1043.3 343.8,1042.2 344.8,1042.4 345.7,1041.9 346.6,1042.2 347.6,1042.5 348.5,1042.8 349.4,1041.3 350.4,1043.6 351.3,1043.1 352.2,1042.3 353.2,1042.8 354.1,1042.2 355.0,1042.0 356.0,1041.8 356.9,1041.5 357.8,1041.3 358.8,1040.9 359.7,1040.7 360.6,1039.5 361.6,1038.2 362.5,1037.6 363.4,1036.4 364.4,1034.9 365.3,1033.6 366.3,1030.5 367.2,1027.1 368.1,1023.7 369.1,1017.9 370.0,1010.0 370.9,1000.7 371.9,993.8 372.0,993.7 372.8,997.9 373.7,1010.6 374.7,1024.1 375.6,1034.9 376.5,1039.6 377.5,1042.6 378.4,1043.5 379.3,1044.2 380.3,1043.6 381.2,1044.1 382.1,1044.0 383.1,1043.6 384.0,1044.4 384.9,1043.2 385.9,1043.6 386.8,1043.7 387.7,1042.7 388.7,1042.1 389.6,1042.5 390.5,1042.6 391.5,1042.6 392.4,1042.7 393.3,1042.0 394.3,1040.8 395.2,1041.6 396.1,1039.6 397.1,1039.4 398.0,1037.2 398.9,1037.0 399.9,1035.4 400.8,1034.9 401.7,1032.5 402.7,1031.3 403.6,1030.0 404.5,1027.2 405.5,1025.7 406.4,1023.0 407.3,1020.0 408.3,1015.9 409.2,1012.4 410.1,1008.3 411.1,1002.1 412.0,995.8 413.0,988.3 413.9,979.0 414.8,968.0 415.8,954.3 416.7,936.6 417.6,913.4 418.6,881.5 419.5,837.0 420.4,776.7 421.4,709.0 422.3,668.9 422.3,668.9 423.2,707.9 424.2,807.3 425.1,910.8 426.0,982.7 427.0,1019.5 427.9,1034.8 428.8,1039.9 429.8,1043.1 430.7,1043.9 431.6,1045.0 432.6,1044.2 433.5,1043.7 434.4,1044.9 435.4,1043.1 436.3,1044.2 437.2,1045.5 438.2,1045.1 439.1,1044.9 440.0,1046.2 441.0,1047.7 441.9,1047.6 442.8,1047.7 443.8,1048.5 444.7,1047.9 445.6,1048.6 446.6,1049.6 447.5,1047.8 448.4,1048.0 449.4,1048.8 450.3,1048.5 451.2,1049.9 452.2,1049.4 453.1,1049.4 454.0,1048.5 455.0,1048.6 455.9,1050.3 456.8,1049.2 457.8,1049.9 458.7,1049.1 459.7,1050.4 460.6,1047.8 461.5,1048.8 462.5,1048.5 463.4,1048.0 464.3,1048.3 465.3,1048.6 466.2,1049.5 467.1,1048.8 468.1,1048.5 469.0,1048.2 469.9,1047.4 470.9,1047.7 471.8,1049.0 472.7,1047.7 473.7,1049.1 474.6,1048.9 475.5,1049.4 476.5,1048.8 477.4,1048.3 478.3,1049.9 479.3,1048.5 480.2,1049.0 481.1,1049.2 482.1,1049.0 483.0,1049.5 483.9,1049.7 484.9,1049.6 485.8,1051.0 486.7,1049.8 487.7,1049.8 488.6,1050.6 489.5,1050.4 490.5,1050.8 491.4,1051.1 492.3,1050.0 493.3,1051.7 494.2,1050.1 495.1,1049.5 496.1,1050.6 497.0,1049.9 497.9,1049.1 498.9,1048.3 499.8,1048.1 500.7,1048.3 501.7,1048.1 502.6,1048.7 503.5,1048.2 504.5,1048.6 505.4,1049.0 506.4,1048.2 507.3,1048.8 508.2,1050.5 509.2,1050.3 510.1,1051.2 511.0,1050.8 512.0,1050.8 512.9,1050.7 513.8,1051.3 514.8,1051.8 515.7,1050.3 516.6,1050.8 517.6,1049.7 518.5,1050.4 519.4,1049.4 520.4,1049.6 521.3,1050.3 522.2,1050.5 523.2,1050.2 524.1,1050.9 525.0,1049.5 526.0,1050.2 526.9,1050.7 527.8,1049.9 528.8,1049.6 529.7,1050.2 530.6,1049.1 531.6,1049.0 532.5,1048.9 533.4,1048.9 534.4,1048.6 535.3,1049.1 536.2,1049.0 537.2,1049.2 538.1,1048.1 539.0,1048.9 540.0,1049.4 540.9,1048.6 541.8,1047.3 542.8,1049.3 543.7,1048.1 544.6,1048.4 545.6,1048.8 546.5,1047.3 547.4,1048.3 548.4,1048.4 549.3,1049.2 550.2,1048.3 551.2,1049.4 552.1,1048.6 553.1,1049.1 554.0,1049.2 554.9,1048.4 555.9,1049.8 556.8,1048.6 557.7,1047.6 558.7,1049.3 559.6,1048.3 560.5,1047.0 561.5,1047.9 562.4,1048.2 563.3,1048.2 564.3,1048.1 565.2,1046.9 566.1,1047.2 567.1,1046.6 568.0,1046.8 568.9,1046.9 569.9,1046.8 570.8,1045.5 571.7,1044.6 572.7,1044.7 573.6,1043.9 574.5,1042.0 575.5,1042.8 576.4,1041.6 577.3,1040.3 578.3,1039.2 579.2,1037.8 580.1,1037.6 581.1,1034.7 582.0,1032.7 582.9,1029.4 583.9,1027.3 584.8,1024.3 585.7,1019.9 586.7,1015.7 587.6,1009.9 588.5,1002.7 589.5,994.3 590.4,981.9 591.3,966.6 592.3,944.8 593.2,914.3 594.1,871.6 595.1,821.9 596.0,787.0 596.2,785.8 596.9,802.3 597.9,857.3 598.8,927.1 599.8,982.5 600.7,1014.2 601.6,1030.1 602.6,1035.3 603.5,1034.8 604.4,1034.3 605.4,1032.3 606.3,1030.0 606.5,1030.5 607.2,1029.5 608.2,1031.1 609.1,1031.9 610.0,1032.4 611.0,1032.3 611.9,1030.2 612.8,1027.5 613.8,1021.7 614.7,1016.6 615.6,1010.3 616.5,1007.6 616.6,1008.1 617.5,1010.4 618.4,1018.3 619.4,1026.5 620.3,1033.7 621.2,1041.4 622.2,1045.3 623.1,1048.2 624.0,1048.7 625.0,1049.4 625.9,1051.4 626.8,1048.9 627.8,1050.5 628.7,1050.9 629.6,1050.1 630.6,1050.4 631.5,1050.1 632.4,1051.7 633.4,1050.5 634.3,1051.7 635.2,1051.6 636.2,1051.2 637.1,1050.5 638.0,1050.2 639.0,1049.8 639.9,1048.3 640.8,1047.2 641.8,1046.8 642.7,1046.7 643.6,1044.8 644.6,1041.6 645.5,1038.6 646.5,1035.8 647.4,1032.2 648.3,1027.8 649.3,1021.0 650.2,1014.2 651.1,1007.9 652.0,1004.7 652.1,1005.1 653.0,1007.9 653.9,1014.7 654.9,1024.0 655.8,1032.8 656.7,1039.2 657.7,1045.2 658.6,1047.9 659.5,1049.0 660.5,1048.7 661.4,1048.6 662.3,1048.4 663.3,1047.8 664.2,1046.9 665.1,1046.5 666.1,1045.6 667.0,1044.9 667.9,1044.0 668.9,1041.3 669.8,1041.7 670.7,1038.7 671.7,1035.6 672.6,1032.4 673.5,1029.5 674.5,1025.4 675.4,1018.7 676.3,1010.7 677.3,999.8 678.2,982.9 679.1,959.2 680.1,930.3 681.0,908.3 681.3,906.4 681.9,913.9 682.9,943.3 683.8,982.2 684.7,1015.2 685.7,1036.5 686.6,1046.2 687.5,1050.3 688.5,1052.7 689.4,1052.8 690.3,1053.0 691.3,1053.9 692.2,1054.2 693.2,1054.7 694.1,1055.5 695.0,1054.7 696.0,1055.3 696.9,1055.3 697.8,1055.4 698.8,1056.0 699.7,1055.7 700.6,1055.6 701.6,1055.9 702.5,1055.5 703.4,1056.1 704.4,1055.2 705.3,1056.1 706.2,1055.7 707.2,1055.6 708.1,1055.9 709.0,1055.6 710.0,1055.6 710.9,1056.2 711.8,1056.3 712.8,1056.4 713.7,1057.6 714.6,1056.4 715.6,1055.8 716.5,1056.6 717.4,1056.1 718.4,1055.2 719.3,1055.6 720.2,1055.1 721.2,1055.4 722.1,1054.6 723.0,1055.2 724.0,1055.1 724.9,1054.9 725.8,1055.3 726.8,1056.1 727.7,1055.2 728.6,1055.0 729.6,1054.9 730.5,1055.7 731.4,1055.2 732.4,1054.8 733.3,1055.0 734.2,1055.6 735.2,1056.1 736.1,1056.5 737.0,1056.4 738.0,1056.0 738.9,1056.4 739.9,1056.8 740.8,1055.9 741.7,1054.5 742.7,1057.5 743.6,1057.4 744.5,1057.1 745.5,1057.9 746.4,1057.7 747.3,1056.8 748.3,1056.5 749.2,1056.9 750.1,1056.0 751.1,1056.0 752.0,1056.6 752.9,1055.5 753.9,1055.9 754.8,1056.7 755.7,1055.5 756.7,1054.6 757.6,1055.6 758.5,1055.3 759.5,1056.1 760.4,1055.3 761.3,1056.3 762.3,1055.9 763.2,1056.3 764.1,1055.1 765.1,1055.8 766.0,1053.5 766.9,1053.9 767.9,1054.8 768.8,1054.4 769.7,1053.6 770.7,1053.9 771.6,1053.9 772.5,1054.3 773.5,1052.4 774.4,1053.2 775.3,1052.4 776.3,1050.9 777.2,1049.8 778.1,1050.0 779.0,1049.2 779.1,1049.3 780.0,1049.7 780.9,1050.6 781.9,1050.3 782.8,1050.6 783.7,1051.0 784.7,1050.8 785.6,1049.5 786.6,1049.9 787.5,1047.8 788.4,1044.8 789.4,1043.5 790.0,1043.3 790.3,1042.8 791.2,1045.2 792.2,1046.8 793.1,1048.6 794.0,1050.1 795.0,1053.5 795.9,1052.5 796.8,1055.0 797.8,1054.7 798.7,1055.0 799.6,1053.4 800.6,1053.8 801.5,1053.5 802.4,1054.6 803.4,1054.2 804.3,1053.3 805.2,1054.3 806.2,1055.0 807.1,1055.0 808.0,1054.5 809.0,1054.9 809.9,1054.4 810.8,1054.7 811.8,1055.0 812.7,1054.7 813.6,1053.0 814.6,1053.7 815.5,1053.3 816.4,1052.5 817.4,1050.1 818.3,1050.4 819.2,1049.9 820.2,1049.1 821.0,1048.1 821.1,1048.0 822.0,1047.9 823.0,1049.9 823.9,1051.7 824.8,1054.4 825.8,1053.3 826.7,1056.6 827.6,1057.3 828.6,1057.6 829.5,1056.6 830.4,1057.2 831.4,1057.1 832.3,1057.5 833.3,1056.8 834.2,1056.4 835.1,1056.2 836.1,1055.8 837.0,1057.1 837.9,1056.0 838.9,1056.1 839.8,1056.9 840.7,1056.4 841.7,1056.0 842.6,1056.9 843.5,1056.4 844.5,1056.9 845.4,1056.7 846.3,1055.1 847.3,1055.7 848.2,1055.9 849.1,1054.9 850.1,1056.1 851.0,1055.2 851.9,1055.1 852.9,1054.5 853.8,1054.3 854.7,1055.6 855.7,1053.7 856.6,1052.9 857.5,1053.5 858.5,1052.3 859.4,1052.6 860.3,1051.8 861.3,1050.6 862.2,1049.3 863.1,1048.3 864.1,1046.0 865.0,1045.2 865.9,1042.4 866.9,1041.0 867.8,1037.1 868.7,1035.4 869.0,1034.7 869.7,1034.6 870.6,1035.1 871.5,1034.7 872.5,1036.1 873.4,1035.6 874.3,1034.7 875.3,1031.4 876.2,1027.5 877.1,1021.6 878.1,1014.1 879.0,1002.5 880.0,985.6 880.9,961.2 881.8,924.9 882.8,876.7 883.7,830.8 884.3,817.3 884.6,821.5 885.6,864.7 886.5,918.4 887.4,971.4 888.4,1014.0 889.3,1039.4 890.2,1051.2 891.2,1053.5 892.1,1054.3 893.0,1054.7 894.0,1056.4 894.9,1055.5 895.8,1055.9 896.8,1056.4 897.7,1056.5 898.6,1056.1 899.0,1057.1 899.6,1057.2 900.5,1057.5 901.4,1056.5 902.4,1056.3 903.3,1057.6 904.2,1057.3 905.2,1057.2 906.1,1057.2 907.0,1058.2 908.0,1057.3 908.9,1059.6 909.8,1056.4 910.8,1057.4 911.7,1057.1 912.6,1056.9 913.6,1057.5 914.5,1057.3 915.4,1056.5 916.4,1057.7 917.3,1058.6 918.2,1056.7 919.2,1056.9 920.1,1056.9 921.0,1057.8 922.0,1056.8 922.9,1057.9 923.8,1057.9 924.8,1057.8 925.7,1058.3 926.7,1057.6 927.6,1057.8 928.5,1058.8 929.5,1058.9 930.4,1058.4 931.3,1057.2 932.3,1058.7 933.2,1059.1 934.1,1057.1 935.1,1058.2 936.0,1057.2 936.9,1056.1 937.9,1057.5 938.8,1056.8 939.7,1057.9 940.7,1056.9 941.6,1056.1 942.5,1056.6 943.5,1057.2 944.4,1056.7 945.3,1056.1 946.3,1056.5 947.2,1056.0 948.1,1055.1 949.1,1055.1 950.0,1055.3 950.9,1054.8 951.0,1055.5 951.9,1054.6 952.8,1055.4 953.7,1054.3 954.7,1054.1 955.6,1055.8 956.5,1055.4 957.5,1055.0 958.4,1055.6 959.3,1056.4 960.3,1054.6 961.2,1054.3 962.1,1052.8 963.1,1051.9 964.0,1050.5 964.9,1050.2 965.9,1046.9 966.8,1043.2 967.7,1040.6 968.7,1041.4 968.8,1040.2 969.6,1040.4 970.5,1042.0 971.5,1044.7 972.4,1046.9 973.4,1049.5 974.3,1050.8 975.2,1052.6 976.2,1053.3 977.1,1054.9 978.0,1054.8 979.0,1053.5 979.9,1054.1 980.8,1055.1 981.8,1054.1 982.7,1053.7 983.6,1054.3 984.6,1053.8 985.5,1052.6 986.4,1052.9 987.4,1052.5 988.3,1051.4 989.2,1051.1 990.2,1051.2 991.1,1049.9 992.0,1049.5 993.0,1049.1 993.9,1047.6 994.8,1046.1 995.8,1044.6 996.7,1043.0 997.6,1040.2 998.6,1038.8 999.5,1034.2 1000.4,1030.1 1001.4,1024.4 1002.3,1017.4 1003.2,1006.9 1004.2,994.2 1005.1,975.1 1006.0,947.3 1007.0,905.6 1007.9,843.0 1008.8,756.6 1009.8,668.5 1010.5,635.6 1010.7,639.5 1011.6,720.0 1012.6,812.6 1013.5,884.6 1014.4,961.6 1015.4,1016.5 1016.3,1042.0 1017.2,1049.9 1018.2,1051.9 1019.1,1051.9 1020.1,1053.6 1021.0,1053.7 1021.9,1055.3 1022.9,1054.9 1023.8,1055.7 1024.7,1054.8 1025.7,1055.7 1026.6,1055.4 1027.5,1055.1 1028.5,1056.1 1029.4,1055.9 1030.3,1056.0 1031.3,1054.5 1032.2,1054.1 1033.1,1055.5 1034.1,1053.8 1035.0,1053.8 1035.9,1054.2 1036.9,1053.8 1037.8,1053.2 1038.7,1051.3 1039.7,1051.4 1040.6,1050.7 1041.5,1049.4 1042.5,1048.7 1043.4,1047.4 1044.3,1045.6 1045.3,1042.7 1046.2,1040.8 1047.1,1036.2 1048.1,1032.4 1049.0,1025.9 1049.9,1020.3 1050.9,1011.9 1051.8,1003.5 1052.7,997.1 1053.7,993.7 1054.0,993.4 1054.6,993.8 1055.5,998.2 1056.5,1005.7 1057.4,1014.5 1058.3,1023.2 1059.3,1032.0 1060.2,1039.2 1061.1,1043.1 1062.1,1046.0 1063.0,1047.5 1063.9,1050.2 1064.9,1049.8 1065.8,1049.1 1066.8,1048.0 1067.7,1048.3 1068.6,1045.8 1069.6,1043.9 1070.5,1040.0 1071.4,1034.7 1072.4,1029.6 1073.3,1021.2 1074.2,1014.6 1075.2,1010.6 1075.4,1010.1 1076.1,1011.9 1077.0,1016.6 1078.0,1023.8 1078.9,1032.9 1079.8,1040.0 1080.8,1046.8 1081.7,1050.9 1082.6,1054.2 1083.6,1056.5 1084.5,1055.9 1085.4,1057.9 1086.4,1057.1 1087.3,1058.3 1088.2,1056.9 1089.2,1057.4 1090.1,1058.4 1091.0,1057.8 1092.0,1058.2 1092.9,1057.6 1093.8,1058.6 1094.8,1057.9 1095.7,1058.4 1096.6,1057.4 1097.6,1057.3 1098.5,1058.0 1099.4,1057.2 1100.4,1057.8 1101.3,1058.6 1102.2,1057.2 1103.2,1056.6 1104.1,1057.6 1105.0,1056.5 1106.0,1057.4 1106.9,1057.4 1107.8,1057.7 1108.8,1057.4 1109.7,1056.5 1110.6,1058.3 1111.6,1058.9 1112.5,1059.0 1113.5,1058.4 1114.4,1058.4 1114.5,1057.1 1115.3,1057.4 1116.3,1058.8 1117.2,1057.4 1118.1,1056.8 1119.1,1057.4 1120.0,1057.2 1120.9,1057.8 1121.9,1058.1 1122.8,1056.7 1123.7,1057.2 1124.7,1057.6 1125.6,1057.1 1126.5,1056.3 1127.5,1057.2 1128.4,1056.5 1129.3,1055.2 1130.3,1054.9 1131.2,1055.6 1132.1,1054.2 1132.5,1054.4 1133.1,1055.1 1134.0,1054.8 1134.9,1053.7 1135.9,1053.8 1136.8,1053.1 1137.7,1053.8 1138.7,1052.7 1139.6,1053.7 1140.5,1052.8 1141.5,1052.0 1142.4,1050.6 1143.3,1049.7 1144.3,1047.7 1145.2,1047.0 1146.1,1045.3 1147.1,1041.1 1148.0,1038.1 1148.9,1034.3 1149.5,1034.7 1149.9,1034.0 1150.8,1035.3 1151.7,1034.5 1152.7,1036.0 1153.6,1036.7 1154.5,1036.2 1155.5,1034.2 1156.4,1032.3 1157.3,1028.4 1158.3,1022.6 1159.2,1014.8 1160.2,1003.5 1161.1,989.2 1162.0,967.9 1163.0,936.9 1163.9,890.0 1164.8,820.1 1165.8,725.6 1166.7,634.9 1167.3,608.7 1167.6,618.8 1168.6,716.0 1169.5,807.1 1170.4,860.7 1171.4,930.9 1172.3,998.6 1173.2,1035.3 1174.2,1046.6 1175.1,1050.8 1176.0,1053.1 1177.0,1052.2 1177.9,1052.6 1178.8,1052.3 1179.8,1054.0 1180.7,1053.6 1181.6,1051.9 1182.6,1052.4 1183.5,1051.6 1184.4,1050.5 1185.4,1049.2 1186.3,1047.5 1187.2,1044.7 1188.2,1042.6 1189.1,1037.9 1190.0,1034.1 1191.0,1025.8 1191.9,1016.1 1192.8,1001.5 1193.8,978.8 1194.7,945.4 1195.6,897.7 1196.6,844.1 1197.5,815.6 1197.5,815.6 1198.4,854.2 1199.4,911.2 1200.3,943.8 1201.2,974.5 1202.2,1014.1 1203.1,1041.3 1204.0,1054.0 1205.0,1056.6 1205.9,1058.3 1206.9,1058.5 1207.8,1060.4 1208.7,1059.3 1209.7,1059.5 1210.6,1061.4 1211.5,1060.9 1212.5,1060.8 1213.4,1060.2 1214.3,1062.0 1215.3,1060.3 1216.2,1061.1 1217.1,1061.2 1218.1,1059.7 1219.0,1060.6 1219.9,1060.4 1220.9,1060.4 1221.8,1059.7 1222.7,1058.7 1223.7,1059.4 1224.6,1059.4 1225.5,1057.9 1226.5,1058.4 1227.4,1057.7 1228.3,1057.3 1229.3,1055.9 1230.2,1054.7 1231.1,1051.0 1232.1,1049.2 1233.0,1045.6 1233.9,1042.5 1234.9,1039.9 1235.8,1038.5 1235.8,1038.0 1236.7,1039.6 1237.7,1040.9 1238.6,1044.0 1239.5,1046.7 1240.5,1049.7 1241.4,1051.5 1242.3,1053.3 1243.3,1053.7 1244.2,1052.7 1245.1,1053.1 1246.1,1051.7 1247.0,1049.6 1247.9,1047.0 1248.9,1045.6 1249.8,1043.1 1250.7,1038.5 1251.7,1033.6 1252.6,1025.5 1253.6,1014.5 1254.5,998.5 1255.4,974.5 1256.4,939.7 1257.3,896.2 1258.2,862.4 1258.5,858.4 1259.2,871.4 1260.1,911.0 1261.0,931.7 1262.0,935.1 1262.9,946.0 1263.8,955.8 1264.3,958.8 1264.8,963.1 1265.7,972.3 1266.6,968.9 1267.6,950.5 1268.5,926.8 1269.4,906.1 1270.0,902.3 1270.4,908.6 1271.3,946.6 1272.2,978.3 1273.2,992.7 1274.1,1012.2 1275.0,1036.0 1276.0,1052.5 1276.9,1058.4 1277.8,1059.7 1278.8,1060.1 1279.7,1060.6 1280.6,1060.6 1281.6,1060.6 1282.5,1060.8 1283.4,1059.5 1284.4,1058.5 1285.3,1057.7 1286.2,1054.8 1287.2,1052.0 1288.1,1049.9 1289.0,1044.5 1290.0,1041.1 1290.9,1039.9 1291.0,1040.2 1291.8,1041.0 1292.8,1044.3 1293.7,1047.1 1294.6,1049.8 1295.6,1054.7 1296.5,1058.8 1297.4,1059.6 1298.4,1063.4 1299.3,1064.3 1300.3,1063.8 1301.2,1064.1 1302.1,1062.9 1303.1,1063.7 1304.0,1063.3 1304.9,1061.4 1305.9,1061.9 1306.8,1061.4 1307.7,1060.6 1308.7,1058.8 1309.6,1056.5 1310.5,1054.0 1311.5,1050.1 1312.4,1046.7 1313.3,1043.8 1314.3,1042.0 1314.3,1042.3 1315.2,1043.8 1316.1,1045.6 1317.1,1049.9 1318.0,1052.5 1318.9,1056.8 1319.9,1060.0 1320.8,1062.8 1321.7,1063.6 1322.7,1064.3 1323.6,1065.7 1324.5,1066.0 1325.5,1066.0 1326.4,1066.5 1327.3,1065.7 1328.3,1066.9 1329.2,1066.5 1330.1,1067.3 1331.1,1067.0 1332.0,1066.9 1332.9,1066.5 1333.9,1066.4 1334.8,1065.4 1335.7,1067.1 1336.7,1067.3 1337.6,1065.9 1338.5,1066.5 1339.5,1065.7 1340.4,1066.0 1341.3,1065.1 1342.3,1065.9 1343.2,1066.3 1344.1,1066.2 1345.1,1066.9 1346.0,1065.6 1347.0,1066.1 1347.9,1067.3 1348.8,1066.6 1349.8,1066.8 1350.7,1066.0 1351.6,1066.3 1352.6,1066.3 1353.5,1067.4 1354.4,1066.6 1355.4,1066.9 1356.3,1066.5 1357.2,1066.1 1358.2,1065.9 1359.1,1067.2 1360.0,1066.2 1361.0,1066.0 1361.9,1065.6 1362.8,1066.4 1363.8,1066.8 1364.7,1066.7 1365.6,1065.7 1366.6,1065.6 1367.5,1065.4 1368.4,1065.9 1369.4,1065.7 1370.3,1065.6 1371.2,1066.2 1372.2,1064.9 1373.1,1065.6 1374.0,1063.4 1375.0,1065.1 1375.9,1064.0 1376.8,1063.1 1377.8,1063.0 1378.7,1062.7 1379.6,1062.9 1380.6,1062.3 1381.5,1063.2 1382.4,1060.6 1383.4,1060.4 1384.3,1059.8 1385.2,1059.4 1386.2,1056.1 1387.1,1054.6 1388.0,1052.8 1389.0,1047.9 1389.9,1044.5 1390.8,1040.1 1391.5,1040.2 1391.8,1040.4 1392.7,1041.4 1393.7,1044.0 1394.6,1046.6 1395.5,1050.2 1396.5,1053.9 1397.4,1056.7 1398.3,1058.5 1399.3,1059.3 1400.2,1059.0 1401.1,1061.3 1402.1,1060.4 1403.0,1057.3 1403.9,1058.1 1404.9,1055.8 1405.8,1053.5 1406.7,1050.3 1407.7,1047.0 1408.6,1041.1 1409.5,1032.7 1410.5,1018.9 1411.4,1000.4 1412.3,978.9 1413.3,966.6 1413.3,966.5 1414.2,981.8 1415.1,1006.9 1416.1,1018.5 1417.0,1022.5 1417.9,1035.6 1418.9,1050.4 1419.8,1058.5 1420.7,1062.4 1421.7,1063.6 1422.6,1064.7 1423.5,1064.2 1424.5,1064.3 1425.4,1063.9 1426.3,1064.4 1427.3,1063.5 1428.2,1064.6 1429.1,1065.6 1430.1,1064.1 1431.0,1065.1 1431.9,1065.8 1432.9,1064.1 1433.8,1065.5 1434.7,1065.1 1435.7,1065.5 1436.6,1065.1 1437.5,1065.4 1438.5,1065.7 1439.4,1065.2 1440.4,1065.5 1441.3,1065.3 1442.2,1065.2 1443.2,1064.6 1444.1,1063.9 1445.0,1063.9 1446.0,1065.2 1446.9,1063.2 1447.8,1065.3 1448.8,1064.3 1449.7,1064.4 1450.6,1063.6 1451.6,1064.5 1452.5,1063.9 1453.4,1063.4 1454.4,1064.2 1455.3,1063.7 1456.2,1065.5 1457.2,1064.8 1458.1,1064.7 1459.0,1064.4 1460.0,1065.5 1460.9,1065.6 1461.8,1065.4 1462.8,1064.9 1463.7,1065.2 1464.6,1065.9 1465.6,1064.8 1466.5,1065.0 1467.4,1065.4 1468.4,1064.8 1469.3,1065.9 1470.2,1065.1 1471.2,1064.6 1472.1,1064.2 1473.0,1064.6 1474.0,1063.6 1474.9,1064.4 1475.8,1064.3 1476.8,1064.0 1477.7,1063.9 1478.6,1063.9 1479.6,1062.6 1480.5,1064.0 1481.4,1063.9 1482.4,1064.0 1483.3,1064.0 1484.2,1064.1 1485.2,1063.2 1486.1,1062.8 1487.1,1063.1 1488.0,1061.8 1488.9,1063.7 1489.9,1062.5 1490.8,1063.1 1491.7,1063.1 1492.7,1064.3 1493.6,1064.7 1494.5,1063.4 1495.5,1064.7 1496.4,1064.0 1497.3,1063.3 1498.3,1063.5 1499.2,1062.6 1500.1,1062.8 1501.1,1061.8 1502.0,1061.9 1502.9,1062.4 1503.9,1061.5 1504.8,1062.8 1505.7,1062.5 1506.7,1060.9 1507.6,1060.9 1508.5,1059.3 1509.5,1058.7 1510.4,1057.5 1511.3,1055.3 1512.0,1054.5 1512.3,1056.1 1513.2,1055.3 1514.1,1056.1 1515.1,1057.4 1516.0,1057.5 1516.9,1060.2 1517.9,1060.2 1518.8,1060.8 1519.7,1062.9 1520.7,1062.9 1521.6,1061.3 1522.5,1060.8 1523.5,1060.2 1524.4,1057.7 1525.3,1054.9 1526.3,1056.4 1526.5,1055.3 1527.2,1055.9 1528.1,1056.9 1529.1,1058.0 1530.0,1059.4 1530.9,1059.5 1531.9,1060.0 1532.8,1061.9 1533.8,1063.1 1534.7,1063.2 1535.6,1064.0 1536.6,1064.0 1537.5,1064.1 1538.4,1063.7 1539.4,1063.0 1540.3,1065.4 1541.2,1063.3 1542.2,1062.9 1543.1,1064.2 1544.0,1065.3 1545.0,1064.4 1545.9,1064.8 1546.8,1062.4 1547.8,1064.4 1548.7,1064.1 1549.6,1064.6 1550.6,1065.0 1551.5,1065.5 1552.4,1065.4 1553.4,1065.1 1554.3,1065.6 1555.2,1064.0 1556.2,1064.0 1557.1,1063.9 1558.0,1063.6 1559.0,1062.8 1559.9,1062.2 1560.8,1061.4 1561.8,1060.5 1562.7,1059.2 1563.0,1059.0 1563.6,1059.0 1564.6,1059.2 1565.5,1059.8 1566.4,1059.3 1567.4,1060.5 1568.3,1061.2 1569.2,1063.6 1570.2,1062.4 1571.1,1062.4 1572.0,1063.6 1573.0,1063.0 1573.9,1064.4 1574.8,1065.8 1575.8,1064.1 1576.7,1063.5 1577.6,1064.4 1578.6,1064.5 1579.5,1064.4 1580.5,1064.0 1581.4,1064.4 1582.3,1063.5 1583.3,1062.2 1584.2,1061.4 1585.1,1058.8 1586.1,1058.2 1587.0,1058.5 1587.0,1057.4 1587.9,1057.4 1588.9,1058.7 1589.8,1060.2 1590.7,1060.2 1591.7,1060.5 1592.6,1061.7 1593.5,1062.5 1594.5,1063.9 1595.4,1063.1 1596.3,1064.4 1597.3,1064.7 1598.2,1064.0 1599.1,1063.6 1600.1,1063.8 1601.0,1065.2 1601.9,1063.5 1602.9,1063.6 1603.8,1061.4 1604.7,1061.4 1605.7,1059.9 1606.6,1059.5 1607.5,1057.4 1608.5,1056.2 1609.4,1053.1 1610.3,1050.5 1611.3,1046.8 1612.2,1045.7 1612.3,1045.6 1613.1,1046.4 1614.1,1048.6 1615.0,1051.2 1615.9,1052.1 1616.9,1055.3 1617.8,1057.5 1618.7,1059.4 1619.7,1060.9 1620.6,1063.5 1621.5,1063.7 1622.5,1062.8 1623.4,1063.1 1624.3,1061.9 1625.3,1062.9 1626.2,1061.4 1627.2,1061.6 1628.1,1061.1 1629.0,1059.2 1630.0,1059.9 1630.9,1058.7 1631.8,1056.9 1632.8,1054.5 1633.7,1050.7 1634.6,1046.3 1635.6,1038.7 1636.5,1028.3 1637.4,1016.4 1638.3,1011.1 1638.4,1011.2 1639.3,1022.1 1640.2,1036.9 1641.2,1042.1 1642.1,1043.1 1643.0,1045.4 1644.0,1053.1 1644.9,1060.8 1645.8,1063.0 1646.8,1064.1 1647.7,1064.2 1648.6,1065.1 1649.6,1064.7 1650.5,1063.4 1651.4,1064.6 1652.4,1063.5 1653.3,1064.8 1654.2,1064.6 1655.2,1065.0 1656.1,1064.6 1657.0,1064.6 1658.0,1065.2 1658.9,1065.7 1659.8,1064.4 1660.8,1065.1 1661.7,1065.5 1662.6,1064.5 1663.6,1063.3 1664.5,1064.3 1665.4,1063.3 1666.4,1063.4 1667.3,1064.0 1668.2,1063.1 1669.2,1062.0 1670.1,1060.6 1671.0,1061.2 1672.0,1059.2 1672.9,1057.3 1673.9,1053.8 1674.8,1050.7 1675.7,1048.2 1676.7,1045.7 1677.0,1045.9 1677.6,1046.3 1678.5,1048.3 1679.5,1050.4 1680.4,1051.2 1681.3,1052.8 1682.3,1055.8 1683.2,1058.5 1684.1,1059.9 1685.1,1062.6 1686.0,1062.7 1686.9,1063.4 1687.9,1063.4 1688.8,1063.3 1689.7,1062.9 1690.7,1062.6 1691.6,1060.9 1692.5,1059.6 1693.5,1058.4 1694.4,1056.8 1695.3,1056.2 1695.5,1056.0 1696.3,1056.1 1697.2,1057.7 1698.1,1058.0 1699.1,1060.2 1700.0,1059.5 1700.9,1062.6 1701.9,1062.5 1702.8,1064.7 1703.7,1064.7 1704.7,1065.2 1705.6,1065.2 1706.5,1065.0 1707.5,1066.8 1708.4,1065.9 1709.3,1065.1 1710.3,1064.5 1711.2,1065.7 1712.1,1065.2 1713.1,1065.7 1714.0,1065.8 1714.9,1066.9 1715.9,1066.2 1716.8,1064.9 1717.7,1066.4 1718.7,1065.7 1719.6,1065.8 1720.6,1067.9 1721.5,1066.0 1722.4,1065.7 1723.4,1065.3 1724.3,1065.6 1725.2,1065.6 1726.2,1066.9 1727.1,1066.0 1728.0,1066.9 1729.0,1067.1 1729.9,1065.3 1730.8,1065.3 1731.8,1065.3 1732.7,1065.8 1733.6,1066.8 1734.6,1065.9 1735.5,1066.2 1736.4,1066.6 1737.4,1066.7 1738.3,1066.2 1739.2,1067.3 1740.2,1065.7 1741.1,1068.2 1742.0,1067.9 1743.0,1067.2 1743.9,1067.6 1744.8,1067.0 1745.8,1066.7 1746.7,1066.2 1747.6,1066.9 1748.6,1065.0 1749.5,1066.5 1750.4,1065.9 1751.4,1067.6 1752.3,1065.6 1753.2,1066.8 1754.2,1066.7 1755.1,1065.1 1756.0,1066.1 1757.0,1065.0 1757.9,1065.3 1758.6,1066.1 1758.8,1065.1 1759.8,1065.7 1760.7,1065.7 1761.6,1065.4 1762.6,1066.8 1763.5,1065.6 1764.4,1066.2 1765.4,1066.7 1766.3,1064.8 1767.3,1064.6 1768.2,1066.5 1769.1,1066.5 1770.1,1066.4 1771.0,1065.7 1771.9,1066.6 1772.9,1065.6 1773.8,1067.1 1774.7,1066.0 1775.7,1067.0 1776.6,1065.8 1777.5,1067.3 1778.5,1066.9 1779.4,1065.8 1780.3,1066.9 1781.3,1064.6 1782.2,1066.0 1783.1,1066.9 1784.1,1066.3 1785.0,1066.2 1785.9,1065.1 1786.9,1065.3 1787.8,1065.6 1788.7,1066.5 1789.7,1066.2 1790.6,1065.4 1791.5,1065.4 1792.5,1066.0 1793.4,1065.6 1794.3,1065.9 1795.3,1066.4 1796.2,1065.6 1797.1,1065.2 1798.1,1065.2 1799.0,1065.3 1799.9,1064.9 1800.9,1063.9 1801.8,1063.3 1802.7,1062.7 1803.0,1062.7 1803.7,1062.4 1804.6,1064.1 1805.5,1064.5 1806.5,1063.6 1807.4,1063.8 1808.3,1065.4 1809.3,1066.1 1810.2,1065.1 1811.1,1065.6 1812.1,1065.8 1813.0,1065.7 1814.0,1066.3 1814.9,1064.9 1815.8,1063.8 1816.8,1064.7 1817.7,1063.4 1818.6,1062.3 1819.6,1061.7 1820.5,1061.9 1820.5,1062.6 1821.4,1063.1 1822.4,1063.2 1823.3,1063.8 1824.2,1063.6 1825.2,1065.3 1826.1,1065.7 1827.0,1065.2 1828.0,1064.8 1828.9,1066.0 1829.8,1065.3 1830.8,1066.2 1831.7,1066.0 1832.6,1065.7 1833.6,1065.7 1834.5,1066.3 1835.4,1065.7 1836.4,1065.2 1837.3,1066.3 1838.2,1066.8 1839.2,1066.0 1840.1,1065.8 1841.0,1066.1 1842.0,1066.6 1842.9,1065.2 1843.8,1065.3 1844.8,1065.3 1845.7,1065.7 1846.6,1065.1 1847.6,1065.3 1848.5,1065.1 1849.4,1064.8 1850.4,1065.2 1851.3,1065.0 1852.2,1065.8 1853.2,1065.5 1854.1,1065.3 1855.0,1064.2 1856.0,1065.3 1856.9,1064.0 1857.8,1063.8 1858.8,1062.9 1859.7,1063.7 1860.7,1063.3 1861.6,1062.4 1862.5,1060.9 1863.5,1059.7 1864.4,1057.2 1865.3,1056.3 1865.5,1056.2 1866.3,1056.0 1867.2,1058.0 1868.1,1058.7 1869.1,1059.4 1870.0,1060.2 1870.9,1060.2 1871.9,1062.9 1872.8,1063.8 1873.7,1063.5 1874.7,1066.0 1875.6,1065.7 1876.5,1065.2 1877.5,1066.0 1878.4,1065.9 1879.3,1065.4 1880.3,1066.9 1881.2,1066.0 1882.1,1067.0 1883.1,1066.7 1884.0,1065.9 1884.9,1066.5 1885.9,1066.6 1886.8,1067.7 1887.7,1068.0 1888.7,1066.9 1889.6,1067.4 1890.5,1067.6 1891.5,1067.5 1892.4,1066.5 1893.3,1065.8 1894.3,1065.7 1895.2,1065.8 1896.1,1065.1 1897.1,1066.0 1898.0,1064.0 1898.9,1064.7 1899.9,1064.1 1900.8,1062.9 1901.7,1064.0 1902.7,1062.4 1903.6,1062.9 1904.5,1062.0 1904.5,1063.8 1905.5,1063.9 1906.4,1062.7 1907.4,1063.1 1908.3,1064.4 1909.2,1064.3 1910.2,1064.3 1911.1,1064.8 1912.0,1064.9 1913.0,1064.5 1913.9,1063.8 1914.8,1064.5 1915.8,1063.4 1916.7,1062.5 1917.5,1062.9 1917.6,1063.6 1918.6,1062.9 1919.5,1062.5 1920.4,1063.9 1921.4,1063.7 1922.3,1064.6 1923.2,1064.6 1924.2,1065.2 1925.1,1065.6 1926.0,1065.7 1927.0,1065.5 1927.9,1067.3 1928.8,1066.0 1929.8,1067.0 1930.7,1064.7 1931.6,1066.8 1932.6,1065.3 1933.5,1067.4 1934.4,1066.7 1935.4,1066.9 1936.3,1066.9 1937.2,1066.7 1938.2,1066.2 1939.1,1066.1 1940.0,1065.6 1941.0,1066.1 1941.9,1066.5 1942.8,1065.9 1943.8,1066.1 1944.7,1066.1 1945.6,1066.0 1946.6,1066.7 1947.5,1065.5 1948.4,1065.4 1949.4,1066.9 1950.3,1066.6 1951.2,1065.8 1952.2,1067.4 1953.1,1065.9 1954.1,1066.8 1955.0,1066.1 1955.9,1066.2 1956.9,1066.4 1957.8,1066.6 1958.7,1066.8 1959.7,1065.9 1960.6,1065.7 1961.5,1066.2 1962.5,1066.4 1963.4,1067.1 1964.3,1066.4 1965.3,1066.0 1966.2,1067.1 1967.1,1065.7 1968.1,1065.4 1969.0,1065.0 1969.9,1063.8 1970.9,1063.8 1971.5,1065.1 1971.8,1064.7 1972.7,1065.0 1973.7,1065.1 1974.6,1064.4 1975.5,1064.5 1976.5,1065.2 1977.4,1065.3 1978.3,1065.7 1979.3,1066.3 1980.2,1066.5 1981.1,1066.5 1982.1,1067.0 1983.0,1066.8 1983.9,1066.6 1984.9,1067.5 1985.8,1067.0 1986.7,1067.5 1987.7,1066.6 1988.6,1067.1 1989.5,1066.3 1990.5,1068.1 1991.4,1066.5 1992.3,1066.0 1993.3,1065.3 1994.2,1065.7 1995.1,1067.1 1996.1,1067.1 1997.0,1066.1 1997.9,1066.1 1998.9,1065.8 1999.8,1066.4 2000.8,1065.5 2001.7,1066.2 2002.6,1066.2 2003.6,1065.9 2004.5,1066.2 2005.4,1067.3 2006.4,1066.9 2007.3,1067.4 2008.2,1067.0 2009.2,1066.6 2010.1,1067.2 2011.0,1065.3 2012.0,1066.5 2012.9,1066.3 2013.8,1065.6 2014.8,1066.5 2015.7,1066.0 2016.6,1065.2 2017.6,1065.3 2018.5,1065.3 2019.4,1065.6 2020.4,1065.2 2021.3,1065.4 2022.2,1066.2 2023.2,1065.7 2024.1,1066.0 2025.0,1065.1 2026.0,1064.8 2026.9,1064.5 2027.8,1064.7 2028.8,1064.4 2029.7,1063.2 2030.6,1065.6 2031.6,1065.2 2032.5,1062.7 2033.4,1063.9 2034.4,1062.6 2035.3,1061.6 2036.2,1060.7 2037.2,1059.4 2038.1,1058.4 2039.0,1056.3 2040.0,1053.0 2040.9,1049.5 2041.8,1044.9 2042.8,1038.5 2043.7,1034.4 2044.6,1032.4 2044.6,1032.4 2045.6,1034.3 2046.5,1037.7 2047.5,1042.9 2048.4,1045.8 2049.3,1047.2 2050.3,1049.4 2051.2,1052.4 2052.1,1056.3 2053.1,1059.5 2054.0,1061.6 2054.9,1063.6 2055.9,1064.1 2056.8,1064.9 2057.7,1065.9 2058.7,1065.0 2059.6,1064.1 2060.5,1064.7 2061.5,1065.4 2062.4,1063.8 2063.3,1064.5 2064.3,1064.7 2065.2,1063.8 2066.1,1063.5 2067.1,1063.2 2068.0,1061.4 2068.9,1059.2 2069.9,1056.8 2070.8,1055.8 2071.7,1051.5 2072.7,1048.8 2073.6,1048.0 2073.7,1046.9 2074.5,1048.1 2075.5,1049.9 2076.4,1053.0 2077.3,1055.2 2078.3,1054.9 2079.2,1056.1 2080.1,1059.0 2081.1,1059.9 2082.0,1061.6 2082.9,1063.3 2083.9,1063.2 2084.8,1062.7 2085.7,1062.8 2086.7,1061.4 2087.6,1060.3 2088.5,1058.3 2089.5,1057.2 2090.4,1055.8 2090.5,1055.8 2091.3,1056.6 2092.3,1058.5 2093.2,1060.4 2094.2,1060.7 2095.1,1061.0 2096.0,1061.0 2097.0,1062.3 2097.9,1062.8 2098.8,1065.2 2099.8,1064.8 2100.7,1065.8 2101.6,1067.0 2102.6,1066.4 2103.5,1067.0 2104.4,1068.4 2105.4,1066.5 2106.3,1067.4 2107.2,1067.5 2108.2,1067.0 2109.1,1066.7 2110.0,1067.4 2111.0,1066.7 2111.9,1066.8 2112.8,1067.8 2113.8,1065.8 2114.7,1065.6 2115.6,1067.1 2116.6,1065.6 2117.5,1064.7 2118.4,1066.4 2119.4,1065.2 2120.3,1065.4 2121.2,1065.7 2122.2,1065.5 2123.1,1064.9 2124.0,1065.3 2125.0,1066.3 2125.9,1065.9 2126.8,1064.3 2127.8,1065.4 2128.7,1064.3 2129.6,1064.5 2130.6,1064.6 2131.5,1065.6 2132.4,1064.9 2133.4,1063.6 2134.3,1064.6 2135.2,1063.8 2136.2,1064.1 2137.1,1063.0 2138.0,1061.6 2139.0,1061.6 2139.9,1061.2 2140.9,1058.0 2141.8,1055.3 2142.7,1050.1 2143.7,1042.8 2144.6,1035.5 2145.5,1030.7 2145.6,1030.3 2146.5,1036.4 2147.4,1047.2 2148.3,1054.6 2149.3,1054.6 2150.2,1051.3 2151.1,1050.9 2152.1,1051.6 2153.0,1057.8 2153.9,1062.6 2154.9,1063.8 2155.8,1064.7 2156.7,1063.5 2157.7,1063.4 2158.6,1062.6 2159.5,1061.3 2160.5,1061.1 2160.5,1060.1 2161.4,1062.3 2162.3,1061.5 2163.3,1062.0 2164.2,1062.3 2165.1,1063.4 2166.1,1063.5 2167.0,1063.2 2167.9,1063.7 2168.9,1065.0 2169.8,1064.4 2170.7,1064.2 2171.7,1065.2 2172.6,1065.6 2173.5,1066.0 2174.5,1065.6 2175.4,1064.3 2176.3,1065.1 2177.3,1064.8 2178.2,1065.7 2179.1,1064.5 2180.1,1065.2 2181.0,1065.8 2181.9,1065.4 2182.9,1064.8 2183.8,1064.8 2184.7,1064.0 2185.7,1063.7 2186.6,1062.4 2187.6,1060.9 2188.5,1059.3 2189.4,1057.3 2190.4,1056.7 2191.0,1056.1 2191.3,1055.9 2192.2,1057.5 2193.2,1058.8 2194.1,1059.0 2195.0,1060.6 2196.0,1060.6 2196.9,1061.6 2197.8,1061.6 2198.8,1063.1 2199.7,1064.6 2200.6,1065.0 2201.6,1065.7 2202.5,1066.7 2203.4,1067.0 2204.4,1066.6 2205.3,1066.6 2206.2,1066.0 2207.2,1066.2 2208.1,1067.1 2209.0,1064.9 2210.0,1065.9 2210.9,1066.0 2211.8,1066.8 2212.8,1065.8 2213.7,1067.1 2214.6,1067.3 2215.6,1066.3 2216.5,1065.6 2217.4,1065.5 2218.4,1066.5 2219.3,1067.4 2220.2,1065.6 2221.2,1067.0 2222.1,1066.6 2223.0,1064.8 2224.0,1065.0 2224.9,1065.7 2225.8,1065.5 2226.8,1065.5 2227.7,1063.7 2228.6,1063.4 2229.6,1063.0 2230.5,1062.8 2231.4,1060.7 2232.4,1058.6 2233.3,1054.4 2234.3,1050.3 2235.2,1043.5 2236.1,1037.0 2236.7,1036.0 2237.1,1038.3 2238.0,1046.6 2238.9,1054.7 2239.9,1058.6 2240.8,1058.3 2241.7,1055.0 2242.7,1054.4 2243.6,1056.7 2244.5,1059.3 2245.5,1064.4 2246.4,1065.0 2247.3,1064.6 2248.3,1064.6 2249.2,1065.0 2250.1,1064.7 2251.1,1064.4 2252.0,1064.9 2252.9,1063.2 2253.9,1062.3 2254.8,1061.7 2255.7,1060.9 2256.0,1061.1 2256.7,1063.2 2257.6,1060.6 2258.5,1063.0 2259.5,1064.2 2260.4,1064.1 2261.3,1065.1 2262.3,1064.9 2263.2,1065.7 2264.1,1066.4 2265.1,1065.8 2266.0,1066.8 2266.9,1066.6 2267.9,1067.0 2268.8,1066.7 2269.7,1067.1 2270.7,1066.2 2271.6,1066.4 2272.5,1066.7 2273.5,1066.3 2274.4,1066.1 2275.3,1065.5 2276.3,1065.4 2277.2,1066.4 2278.1,1065.2 2279.1,1065.6 2280.0,1064.3 2281.0,1064.5 2281.9,1064.3 2282.8,1063.2 2283.8,1062.7 2284.0,1063.1 2284.7,1063.1 2285.6,1062.9 2286.6,1063.8 2287.5,1064.6 2288.4,1065.0 2289.4,1065.0 2290.3,1065.4 2291.2,1065.3 2292.2,1066.4 2293.1,1066.1 2294.0,1067.0 2295.0,1066.7 2295.9,1066.5 2296.8,1067.1 2297.8,1065.9 2298.7,1065.5 2299.6,1066.3 2300.6,1065.4 2301.5,1066.1 2302.4,1064.9 2303.4,1065.9 2304.3,1065.2 2305.2,1067.3 2306.2,1066.0 2307.1,1065.9 2308.0,1066.8 2309.0,1066.0 2309.9,1066.5"/>
<polyline stroke="#ff3e3e" points="200.0,1036.1 200.9,1035.9 201.9,1036.2 202.8,1036.4 203.7,1036.6 204.7,1036.1 205.6,1036.5 206.5,1036.1 207.5,1036.2 208.4,1036.8 209.3,1036.5 210.3,1037.1 211.2,1037.6 212.1,1037.5 213.1,1037.3 214.0,1038.1 214.9,1036.9 215.9,1036.1 216.8,1037.4 217.7,1036.8 218.7,1036.9 219.6,1037.4 220.5,1036.1 221.5,1036.8 222.4,1035.7 223.3,1037.1 224.3,1036.2 225.2,1037.1 226.2,1037.4 227.1,1037.5 228.0,1036.5 229.0,1037.1 229.9,1036.8 230.8,1037.5 231.8,1037.5 232.7,1036.9 233.6,1037.8 234.6,1036.5 235.5,1037.4 236.4,1036.9 237.4,1037.0 238.3,1036.8 239.2,1036.8 240.2,1036.6 241.1,1036.6 242.0,1036.6 243.0,1036.7 243.9,1037.7 244.8,1036.6 245.8,1036.7 246.7,1035.7 247.6,1037.0 248.6,1035.4 249.5,1036.4 250.4,1034.9 251.4,1035.4 252.3,1036.0 253.2,1036.4 254.2,1034.4 255.1,1034.4 256.0,1033.6 257.0,1032.3 257.9,1031.9 258.8,1033.4 259.8,1031.1 260.7,1030.3 261.6,1029.1 262.6,1027.9 263.5,1026.2 264.4,1024.9 265.4,1021.6 266.3,1017.8 267.2,1013.0 268.2,1006.0 269.1,996.2 270.0,984.4 271.0,973.2 271.5,970.5 271.9,972.5 272.9,987.5 273.8,1008.2 274.7,1026.0 275.7,1035.1 276.6,1039.8 277.5,1040.3 278.5,1040.3 279.4,1040.5 280.3,1039.8 281.3,1039.3 282.2,1040.7 283.1,1040.6 284.1,1039.8 285.0,1040.5 285.9,1041.5 286.9,1042.1 287.8,1043.4 288.7,1042.1 289.7,1043.8 290.6,1042.1 291.5,1042.3 292.5,1043.8 293.4,1043.8 294.3,1043.5 295.3,1042.8 296.2,1044.0 297.1,1044.0 298.1,1043.9 299.0,1044.2 299.9,1045.4 300.9,1045.7 301.8,1045.4 302.7,1045.6 303.7,1044.9 304.6,1043.7 305.5,1043.3 306.5,1043.6 307.4,1043.6 308.3,1044.1 309.3,1044.0 310.2,1043.7 311.1,1044.9 312.1,1042.9 313.0,1043.5 313.9,1045.2 314.9,1044.3 315.8,1043.8 316.7,1044.3 317.7,1043.2 318.6,1043.9 319.6,1043.2 320.5,1043.1 321.4,1043.5 322.4,1041.9 323.3,1043.6 324.2,1043.8 325.2,1043.6 326.1,1043.3 327.0,1044.5 328.0,1044.2 328.9,1043.9 329.8,1044.5 330.8,1045.1 331.7,1045.6 332.6,1044.5 333.6,1045.6 334.5,1046.4 335.4,1045.8 336.4,1047.0 337.3,1046.2 338.2,1046.5 339.2,1045.6 340.1,1047.4 341.0,1046.1 342.0,1045.9 342.9,1047.3 343.8,1045.5 344.8,1045.1 345.7,1045.7 346.6,1045.5 347.6,1044.5 348.5,1044.0 349.4,1044.9 350.4,1045.0 351.3,1044.4 352.2,1044.5 353.2,1044.7 354.1,1043.8 355.0,1043.3 356.0,1043.9 356.9,1042.9 357.8,1043.0 358.8,1042.9 359.7,1041.6 360.6,1040.9 361.6,1040.5 362.5,1039.2 363.4,1037.6 364.4,1036.0 365.3,1034.3 366.3,1032.2 367.2,1028.6 368.1,1023.8 369.1,1018.6 370.0,1010.9 370.9,1001.7 371.9,994.9 372.0,994.8 372.8,998.8 373.7,1011.9 374.7,1026.7 375.6,1037.3 376.5,1042.9 377.5,1045.8 378.4,1046.2 379.3,1048.5 380.3,1048.6 381.2,1047.6 382.1,1047.7 383.1,1046.4 384.0,1047.4 384.9,1046.7 385.9,1046.6 386.8,1045.5 387.7,1046.6 388.7,1046.3 389.6,1045.3 390.5,1044.6 391.5,1044.3 392.4,1044.3 393.3,1044.3 394.3,1045.4 395.2,1043.6 396.1,1041.8 397.1,1041.3 398.0,1039.0 398.9,1037.8 399.9,1036.6 400.8,1035.7 401.7,1034.5 402.7,1033.1 403.6,1030.7 404.5,1028.8 405.5,1025.4 406.4,1023.7 407.3,1021.0 408.3,1017.3 409.2,1012.8 410.1,1009.2 411.1,1003.1 412.0,996.6 413.0,989.0 413.9,979.7 414.8,968.5 415.8,954.8 416.7,937.0 417.6,913.5 418.6,881.6 419.5,837.1 420.4,776.7 421.4,709.1 422.3,668.9 422.3,668.9 423.2,707.9 424.2,807.3 425.1,911.1 426.0,983.3 427.0,1020.9 427.9,1036.6 428.8,1043.6 429.8,1044.7 430.7,1045.7 431.6,1046.8 432.6,1047.9 433.5,1048.1 434.4,1048.4 435.4,1046.7 436.3,1049.0 437.2,1048.6 438.2,1048.5 439.1,1049.9 440.0,1049.4 441.0,1050.7 441.9,1050.3 442.8,1049.5 443.8,1050.6 444.7,1051.0 445.6,1052.1 446.6,1052.3 447.5,1051.8 448.4,1051.3 449.4,1051.4 450.3,1052.5 451.2,1052.3 452.2,1052.3 453.1,1052.3 454.0,1052.9 455.0,1052.2 455.9,1051.6 456.8,1051.1 457.8,1052.0 458.7,1051.9 459.7,1050.9 460.6,1050.7 461.5,1052.0 462.5,1051.9 463.4,1050.7 464.3,1050.9 465.3,1051.3 466.2,1051.2 467.1,1050.1 468.1,1050.8 469.0,1050.4 469.9,1050.8 470.9,1050.4 471.8,1050.5 472.7,1050.2 473.7,1051.0 474.6,1050.8 475.5,1051.0 476.5,1049.9 477.4,1051.2 478.3,1050.9 479.3,1051.2 480.2,1049.8 481.1,1052.4 482.1,1051.4 483.0,1051.4 483.9,1051.8 484.9,1051.5 485.8,1052.2 486.7,1051.9 487.7,1052.7 488.6,1052.0 489.5,1051.4 490.5,1052.2 491.4,1051.9 492.3,1051.7 493.3,1051.7 494.2,1052.1 495.1,1051.8 496.1,1052.3 497.0,1051.6 497.9,1052.3 498.9,1051.6 499.8,1052.5 500.7,1051.0 501.7,1051.0 502.6,1051.2 503.5,1051.2 504.5,1051.1 505.4,1051.8 506.4,1051.9 507.3,1052.5 508.2,1051.9 509.2,1052.7 510.1,1052.7 511.0,1052.9 512.0,1053.7 512.9,1052.5 513.8,1053.8 514.8,1054.0 515.7,1053.3 516.6,1053.3 517.6,1053.1 518.5,1054.2 519.4,1053.4 520.4,1054.4 521.3,1054.1 522.2,1053.7 523.2,1054.2 524.1,1053.2 525.0,1052.5 526.0,1053.1 526.9,1052.9 527.8,1052.2 528.8,1052.6 529.7,1053.4 530.6,1052.8 531.6,1051.6 532.5,1051.9 533.4,1052.2 534.4,1051.7 535.3,1051.2 536.2,1050.3 537.2,1050.6 538.1,1050.5 539.0,1050.2 540.0,1050.4 540.9,1049.7 541.8,1051.0 542.8,1049.9 543.7,1048.7 544.6,1050.9 545.6,1050.1 546.5,1051.8 547.4,1049.7 548.4,1049.4 549.3,1049.7 550.2,1050.0 551.2,1050.4 552.1,1050.3 553.1,1051.7 554.0,1050.9 554.9,1052.3 555.9,1050.6 556.8,1051.2 557.7,1050.5 558.7,1050.8 559.6,1050.1 560.5,1049.9 561.5,1049.3 562.4,1049.1 563.3,1049.1 564.3,1050.6 565.2,1049.7 566.1,1049.4 567.1,1048.6 568.0,1049.3 568.9,1048.8 569.9,1049.4 570.8,1047.4 571.7,1047.6 572.7,1046.8 573.6,1046.4 574.5,1045.2 575.5,1043.9 576.4,1043.6 577.3,1042.5 578.3,1042.4 579.2,1040.1 580.1,1038.9 581.1,1037.1 582.0,1034.6 582.9,1032.3 583.9,1028.8 584.8,1026.5 585.7,1021.1 586.7,1017.0 587.6,1011.0 588.5,1003.6 589.5,994.2 590.4,982.8 591.3,967.1 592.3,945.2 593.2,914.4 594.1,871.8 595.1,821.9 596.0,787.1 596.2,785.8 596.9,802.3 597.9,857.5 598.8,927.4 599.8,983.2 600.7,1016.1 601.6,1032.1 602.6,1036.6 603.5,1037.5 604.4,1036.3 605.4,1034.1 606.3,1031.9 606.5,1032.3 607.2,1031.3 608.2,1033.0 609.1,1034.4 610.0,1035.1 611.0,1034.4 611.9,1032.7 612.8,1029.1 613.8,1024.2 614.7,1017.4 615.6,1011.0 616.5,1009.0 616.6,1009.0 617.5,1011.9 618.4,1018.9 619.4,1026.9 620.3,1035.8 621.2,1043.0 622.2,1047.7 623.1,1051.8 624.0,1050.6 625.0,1052.2 625.9,1052.4 626.8,1052.7 627.8,1053.0 628.7,1053.6 629.6,1053.0 630.6,1053.1 631.5,1052.8 632.4,1052.8 633.4,1052.8 634.3,1052.4 635.2,1052.6 636.2,1052.7 637.1,1051.5 638.0,1051.4 639.0,1052.6 639.9,1050.1 640.8,1050.9 641.8,1049.2 642.7,1047.8 643.6,1045.9 644.6,1044.3 645.5,1040.7 646.5,1039.6 647.4,1035.2 648.3,1030.1 649.3,1022.4 650.2,1014.7 651.1,1008.7 652.0,1005.9 652.1,1005.7 653.0,1008.8 653.9,1015.9 654.9,1024.9 655.8,1033.8 656.7,1041.6 657.7,1046.4 658.6,1049.1 659.5,1050.4 660.5,1049.3 661.4,1049.9 662.3,1051.5 663.3,1049.5 664.2,1049.0 665.1,1048.9 666.1,1048.9 667.0,1046.3 667.9,1044.5 668.9,1044.7 669.8,1042.0 670.7,1040.6 671.7,1037.2 672.6,1034.7 673.5,1031.4 674.5,1026.3 675.4,1020.6 676.3,1011.8 677.3,1000.0 678.2,983.3 679.1,959.6 680.1,930.6 681.0,908.4 681.3,906.6 681.9,914.3 682.9,943.9 683.8,983.1 684.7,1017.7 685.7,1039.3 686.6,1050.0 687.5,1053.6 688.5,1055.5 689.4,1057.4 690.3,1057.7 691.3,1057.2 692.2,1058.8 693.2,1056.8 694.1,1057.2 695.0,1057.6 696.0,1058.3 696.9,1057.0 697.8,1057.1 698.8,1058.3 699.7,1056.5 700.6,1058.3 701.6,1057.7 702.5,1057.9 703.4,1057.9 704.4,1058.0 705.3,1057.1 706.2,1058.3 707.2,1057.5 708.1,1059.0 709.0,1058.8 710.0,1057.4 710.9,1058.7 711.8,1059.1 712.8,1059.1 713.7,1057.9 714.6,1059.4 715.6,1056.8 716.5,1058.5 717.4,1058.1 718.4,1058.6 719.3,1057.1 720.2,1057.3 721.2,1057.5 722.1,1057.9 723.0,1056.4 724.0,1057.7 724.9,1057.2 725.8,1057.5 726.8,1056.6 727.7,1058.3 728.6,1058.0 729.6,1056.0 730.5,1057.7 731.4,1057.9 732.4,1057.5 733.3,1058.5 734.2,1057.9 735.2,1058.5 736.1,1057.7 737.0,1057.3 738.0,1058.1 738.9,1057.1 739.9,1058.9 740.8,1057.6 741.7,1059.3 742.7,1060.0 743.6,1058.7 744.5,1059.9 745.5,1059.5 746.4,1058.2 747.3,1060.0 748.3,1059.0 749.2,1059.2 750.1,1059.0 751.1,1057.9 752.0,1058.3 752.9,1059.2 753.9,1057.6 754.8,1058.7 755.7,1058.1 756.7,1058.7 757.6,1057.0 758.5,1057.4 759.5,1057.6 760.4,1057.4 761.3,1057.4 762.3,1056.2 763.2,1057.7 764.1,1057.1 765.1,1056.4 766.0,1057.2 766.9,1057.2 767.9,1057.1 768.8,1056.0 769.7,1055.6 770.7,1056.4 771.6,1054.7 772.5,1055.6 773.5,1054.1 774.4,1055.1 775.3,1053.6 776.3,1053.4 777.2,1053.2 778.1,1052.9 779.0,1050.9 779.1,1052.0 780.0,1051.2 780.9,1052.2 781.9,1052.8 782.8,1052.3 783.7,1053.7 784.7,1052.3 785.6,1052.9 786.6,1051.3 787.5,1050.4 788.4,1046.3 789.4,1046.0 790.0,1045.6 790.3,1045.4 791.2,1046.2 792.2,1048.3 793.1,1050.0 794.0,1052.7 795.0,1053.9 795.9,1054.4 796.8,1056.8 797.8,1056.7 798.7,1056.1 799.6,1056.0 800.6,1056.2 801.5,1055.4 802.4,1056.8 803.4,1056.4 804.3,1057.3 805.2,1055.6 806.2,1057.2 807.1,1057.0 808.0,1057.4 809.0,1056.1 809.9,1056.6 810.8,1057.1 811.8,1057.0 812.7,1054.8 813.6,1055.8 814.6,1055.4 815.5,1055.7 816.4,1052.9 817.4,1053.8 818.3,1052.2 819.2,1051.6 820.2,1050.7 821.0,1051.3 821.1,1050.9 822.0,1050.9 823.0,1052.7 823.9,1054.6 824.8,1055.7 825.8,1057.1 826.7,1057.2 827.6,1058.1 828.6,1059.8 829.5,1059.6 830.4,1059.8 831.4,1059.3 832.3,1058.3 833.3,1058.3 834.2,1057.9 835.1,1057.6 836.1,1059.0 837.0,1059.1 837.9,1057.0 838.9,1058.3 839.8,1059.1 840.7,1058.4 841.7,1058.4 842.6,1058.1 843.5,1058.5 844.5,1058.0 845.4,1057.8 846.3,1057.5 847.3,1058.7 848.2,1058.0 849.1,1058.1 850.1,1058.1 851.0,1057.6 851.9,1057.2 852.9,1057.5 853.8,1057.1 854.7,1056.9 855.7,1057.0 856.6,1056.9 857.5,1056.7 858.5,1056.6 859.4,1054.7 860.3,1054.4 861.3,1052.1 862.2,1052.5 863.1,1049.4 864.1,1049.0 865.0,1047.3 865.9,1044.2 866.9,1042.9 867.8,1039.1 868.7,1036.9 869.0,1036.5 869.7,1037.0 870.6,1037.1 871.5,1036.4 872.5,1036.3 873.4,1036.3 874.3,1035.0 875.3,1032.4 876.2,1028.7 877.1,1022.1 878.1,1014.4 879.0,1002.8 880.0,986.2 880.9,961.5 881.8,925.2 882.8,876.9 883.7,830.9 884.3,817.4 884.6,821.5 885.6,864.8 886.5,918.5 887.4,971.4 888.4,1014.7 889.3,1039.6 890.2,1051.0 891.2,1054.3 892.1,1054.9 893.0,1056.7 894.0,1056.6 894.9,1057.5 895.8,1057.1 896.8,1058.3 897.7,1058.0 898.6,1058.8 899.0,1059.3 899.6,1059.2 900.5,1059.1 901.4,1060.0 902.4,1060.7 903.3,1059.0 904.2,1060.1 905.2,1059.3 906.1,1058.7 907.0,1059.5 908.0,1059.4 908.9,1058.5 909.8,1059.1 910.8,1059.7 911.7,1058.8 912.6,1059.2 913.6,1060.3 914.5,1059.5 915.4,1059.0 916.4,1058.8 917.3,1059.6 918.2,1058.7 919.2,1060.1 920.1,1060.2 921.0,1060.1 922.0,1060.8 922.9,1061.0 923.8,1061.6 924.8,1061.0 925.7,1060.3 926.7,1060.7 927.6,1061.2 928.5,1060.7 929.5,1061.3 930.4,1060.3 931.3,1061.7 932.3,1061.1 933.2,1060.2 934.1,1060.1 935.1,1059.8 936.0,1058.5 936.9,1058.3 937.9,1058.7 938.8,1058.7 939.7,1058.3 940.7,1057.5 941.6,1058.9 942.5,1057.5 943.5,1058.2 944.4,1058.7 945.3,1058.5 946.3,1057.1 947.2,1057.4 948.1,1057.8 949.1,1057.1 950.0,1056.3 950.9,1057.6 951.0,1057.3 951.9,1058.3 952.8,1057.5 953.7,1057.2 954.7,1057.7 955.6,1057.2 956.5,1058.2 957.5,1057.5 958.4,1057.0 959.3,1056.0 960.3,1055.6 961.2,1056.1 962.1,1055.7 963.1,1054.3 964.0,1052.7 964.9,1052.1 965.9,1048.6 966.8,1045.4 967.7,1042.6 968.7,1041.1 968.8,1041.3 969.6,1042.6 970.5,1044.3 971.5,1046.9 972.4,1049.1 973.4,1052.2 974.3,1054.6 975.2,1054.1 976.2,1056.0 977.1,1056.3 978.0,1056.2 979.0,1055.9 979.9,1057.1 980.8,1055.3 981.8,1055.8 982.7,1054.8 983.6,1055.4 984.6,1054.9 985.5,1053.7 986.4,1054.4 987.4,1054.8 988.3,1053.5 989.2,1052.9 990.2,1052.8 991.1,1051.7 992.0,1051.5 993.0,1049.8 993.9,1048.7 994.8,1046.7 995.8,1046.3 996.7,1043.5 997.6,1042.7 998.6,1038.4 999.5,1034.9 1000.4,1030.5 1001.4,1025.4 1002.3,1018.2 1003.2,1007.9 1004.2,994.6 1005.1,975.9 1006.0,947.7 1007.0,905.8 1007.9,843.1 1008.8,756.6 1009.8,668.5 1010.5,635.6 1010.7,639.6 1011.6,720.0 1012.6,812.6 1013.5,884.6 1014.4,961.6 1015.4,1017.3 1016.3,1043.1 1017.2,1050.1 1018.2,1053.2 1019.1,1054.7 1020.1,1055.4 1021.0,1055.8 1021.9,1057.0 1022.9,1056.2 1023.8,1055.9 1024.7,1057.6 1025.7,1056.3 1026.6,1056.4 1027.5,1056.4 1028.5,1056.3 1029.4,1056.1 1030.3,1056.1 1031.3,1057.4 1032.2,1056.5 1033.1,1056.0 1034.1,1056.1 1035.0,1055.8 1035.9,1056.0 1036.9,1054.4 1037.8,1055.0 1038.7,1054.5 1039.7,1053.5 1040.6,1053.6 1041.5,1052.0 1042.5,1050.9 1043.4,1049.0 1044.3,1047.9 1045.3,1045.6 1046.2,1041.7 1047.1,1038.9 1048.1,1034.8 1049.0,1028.6 1049.9,1021.2 1050.9,1012.6 1051.8,1004.2 1052.7,997.7 1053.7,993.7 1054.0,993.6 1054.6,994.4 1055.5,998.8 1056.5,1005.6 1057.4,1014.7 1058.3,1023.0 1059.3,1031.6 1060.2,1038.8 1061.1,1043.8 1062.1,1047.6 1063.0,1050.6 1063.9,1050.2 1064.9,1050.2 1065.8,1051.1 1066.8,1051.6 1067.7,1048.9 1068.6,1047.5 1069.6,1045.4 1070.5,1042.2 1071.4,1036.6 1072.4,1031.2 1073.3,1023.7 1074.2,1015.1 1075.2,1012.0 1075.4,1011.5 1076.1,1013.0 1077.0,1017.2 1078.0,1025.4 1078.9,1033.8 1079.8,1041.2 1080.8,1047.9 1081.7,1053.1 1082.6,1056.7 1083.6,1058.3 1084.5,1058.3 1085.4,1058.7 1086.4,1059.8 1087.3,1059.5 1088.2,1059.9 1089.2,1059.6 1090.1,1059.2 1091.0,1058.7 1092.0,1059.4 1092.9,1059.6 1093.8,1059.3 1094.8,1059.5 1095.7,1058.8 1096.6,1058.4 1097.6,1059.5 1098.5,1059.9 1099.4,1059.2 1100.4,1059.2 1101.3,1059.5 1102.2,1059.3 1103.2,1059.9 1104.1,1059.2 1105.0,1059.7 1106.0,1060.1 1106.9,1059.2 1107.8,1059.7 1108.8,1059.5 1109.7,1060.4 1110.6,1059.4 1111.6,1059.2 1112.5,1059.6 1113.5,1059.2 1114.4,1059.3 1114.5,1059.9 1115.3,1060.3 1116.3,1059.8 1117.2,1059.5 1118.1,1059.7 1119.1,1060.5 1120.0,1059.7 1120.9,1058.2 1121.9,1058.5 1122.8,1058.4 1123.7,1057.8 1124.7,1058.1 1125.6,1058.3 1126.5,1057.9 1127.5,1058.8 1128.4,1059.1 1129.3,1057.0 1130.3,1059.2 1131.2,1057.7 1132.1,1057.5 1132.5,1056.7 1133.1,1057.7 1134.0,1056.1 1134.9,1057.5 1135.9,1056.7 1136.8,1056.6 1137.7,1057.2 1138.7,1055.1 1139.6,1055.8 1140.5,1053.9 1141.5,1052.8 1142.4,1052.7 1143.3,1051.6 1144.3,1051.7 1145.2,1049.2 1146.1,1045.8 1147.1,1043.5 1148.0,1040.3 1148.9,1038.2 1149.5,1037.3 1149.9,1037.1 1150.8,1036.6 1151.7,1036.4 1152.7,1038.0 1153.6,1038.4 1154.5,1038.0 1155.5,1036.3 1156.4,1033.4 1157.3,1030.4 1158.3,1024.5 1159.2,1015.9 1160.2,1005.1 1161.1,989.9 1162.0,968.6 1163.0,937.1 1163.9,890.2 1164.8,820.2 1165.8,725.6 1166.7,634.9 1167.3,608.8 1167.6,618.8 1168.6,716.0 1169.5,807.1 1170.4,860.8 1171.4,931.2 1172.3,999.1 1173.2,1035.1 1174.2,1047.4 1175.1,1052.2 1176.0,1053.0 1177.0,1053.8 1177.9,1055.2 1178.8,1055.1 1179.8,1054.8 1180.7,1056.3 1181.6,1055.4 1182.6,1054.5 1183.5,1053.5 1184.4,1052.6 1185.4,1051.2 1186.3,1049.0 1187.2,1047.0 1188.2,1043.9 1189.1,1040.0 1190.0,1033.8 1191.0,1027.1 1191.9,1016.6 1192.8,1001.7 1193.8,979.0 1194.7,945.5 1195.6,897.7 1196.6,844.2 1197.5,815.6 1197.5,815.6 1198.4,854.3 1199.4,911.2 1200.3,944.2 1201.2,975.0 1202.2,1016.2 1203.1,1044.2 1204.0,1056.1 1205.0,1060.7 1205.9,1060.4 1206.9,1062.0 1207.8,1062.6 1208.7,1061.9 1209.7,1063.4 1210.6,1062.2 1211.5,1063.0 1212.5,1062.4 1213.4,1062.9 1214.3,1062.2 1215.3,1061.6 1216.2,1063.0 1217.1,1063.0 1218.1,1061.7 1219.0,1061.6 1219.9,1061.6 1220.9,1062.6 1221.8,1061.9 1222.7,1062.0 1223.7,1061.4 1224.6,1060.4 1225.5,1061.0 1226.5,1061.4 1227.4,1060.5 1228.3,1058.5 1229.3,1057.4 1230.2,1056.8 1231.1,1053.2 1232.1,1051.1 1233.0,1047.8 1233.9,1044.1 1234.9,1041.4 1235.8,1040.0 1235.8,1039.3 1236.7,1040.1 1237.7,1042.1 1238.6,1044.1 1239.5,1047.2 1240.5,1050.8 1241.4,1052.9 1242.3,1055.2 1243.3,1055.4 1244.2,1055.1 1245.1,1054.3 1246.1,1053.0 1247.0,1051.3 1247.9,1048.9 1248.9,1047.4 1249.8,1044.2 1250.7,1039.7 1251.7,1033.9 1252.6,1026.8 1253.6,1015.0 1254.5,998.8 1255.4,974.9 1256.4,939.9 1257.3,896.3 1258.2,862.5 1258.5,858.5 1259.2,871.5 1260.1,911.1 1261.0,931.8 1262.0,935.2 1262.9,946.3 1263.8,956.3 1264.3,959.3 1264.8,963.5 1265.7,972.4 1266.6,969.3 1267.6,950.9 1268.5,927.0 1269.4,906.2 1270.0,902.5 1270.4,908.8 1271.3,946.9 1272.2,978.5 1273.2,993.4 1274.1,1013.2 1275.0,1037.9 1276.0,1052.8 1276.9,1060.7 1277.8,1061.2 1278.8,1063.2 1279.7,1064.4 1280.6,1062.6 1281.6,1062.6 1282.5,1061.6 1283.4,1061.8 1284.4,1062.0 1285.3,1058.5 1286.2,1057.4 1287.2,1055.2 1288.1,1051.1 1289.0,1047.8 1290.0,1043.5 1290.9,1042.3 1291.0,1042.4 1291.8,1043.6 1292.8,1046.9 1293.7,1048.6 1294.6,1053.9 1295.6,1058.0 1296.5,1060.1 1297.4,1063.2 1298.4,1064.8 1299.3,1065.5 1300.3,1065.9 1301.2,1065.7 1302.1,1066.5 1303.1,1065.8 1304.0,1064.8 1304.9,1064.2 1305.9,1064.8 1306.8,1062.8 1307.7,1061.2 1308.7,1060.0 1309.6,1058.3 1310.5,1056.5 1311.5,1052.7 1312.4,1048.2 1313.3,1045.0 1314.3,1044.0 1314.3,1043.7 1315.2,1046.2 1316.1,1048.6 1317.1,1050.3 1318.0,1055.1 1318.9,1057.1 1319.9,1061.6 1320.8,1063.7 1321.7,1065.9 1322.7,1067.3 1323.6,1068.1 1324.5,1067.8 1325.5,1070.5 1326.4,1068.4 1327.3,1068.7 1328.3,1069.2 1329.2,1068.8 1330.1,1068.3 1331.1,1068.2 1332.0,1069.2 1332.9,1069.6 1333.9,1068.0 1334.8,1068.4 1335.7,1069.0 1336.7,1067.7 1337.6,1067.5 1338.5,1068.4 1339.5,1066.8 1340.4,1067.9 1341.3,1067.3 1342.3,1068.6 1343.2,1067.9 1344.1,1067.5 1345.1,1068.4 1346.0,1069.4 1347.0,1068.5 1347.9,1068.5 1348.8,1068.0 1349.8,1069.2 1350.7,1068.7 1351.6,1069.4 1352.6,1069.0 1353.5,1069.5 1354.4,1068.6 1355.4,1067.1 1356.3,1068.5 1357.2,1066.9 1358.2,1067.8 1359.1,1068.0 1360.0,1068.2 1361.0,1066.8 1361.9,1067.1 1362.8,1067.4 1363.8,1067.4 1364.7,1067.3 1365.6,1066.9 1366.6,1067.6 1367.5,1067.6 1368.4,1066.8 1369.4,1066.9 1370.3,1067.0 1371.2,1067.4 1372.2,1066.7 1373.1,1066.9 1374.0,1066.5 1375.0,1067.7 1375.9,1065.3 1376.8,1065.2 1377.8,1065.2 1378.7,1065.3 1379.6,1063.9 1380.6,1064.5 1381.5,1064.1 1382.4,1062.8 1383.4,1062.2 1384.3,1062.4 1385.2,1059.2 1386.2,1059.9 1387.1,1057.0 1388.0,1053.0 1389.0,1049.5 1389.9,1044.8 1390.8,1042.8 1391.5,1042.5 1391.8,1042.2 1392.7,1043.2 1393.7,1046.0 1394.6,1048.3 1395.5,1050.9 1396.5,1055.5 1397.4,1058.4 1398.3,1060.2 1399.3,1061.1 1400.2,1062.1 1401.1,1061.1 1402.1,1060.7 1403.0,1060.9 1403.9,1059.7 1404.9,1057.3 1405.8,1055.2 1406.7,1052.4 1407.7,1048.0 1408.6,1042.8 1409.5,1034.3 1410.5,1020.1 1411.4,1000.9 1412.3,979.2 1413.3,966.9 1413.3,966.9 1414.2,982.2 1415.1,1007.1 1416.1,1019.5 1417.0,1024.2 1417.9,1036.9 1418.9,1051.7 1419.8,1061.6 1420.7,1064.5 1421.7,1065.0 1422.6,1066.1 1423.5,1064.8 1424.5,1065.6 1425.4,1064.7 1426.3,1065.3 1427.3,1064.2 1428.2,1064.9 1429.1,1065.5 1430.1,1065.2 1431.0,1066.9 1431.9,1064.5 1432.9,1065.6 1433.8,1065.5 1434.7,1065.5 1435.7,1066.1 1436.6,1067.2 1437.5,1065.6 1438.5,1065.6 1439.4,1065.4 1440.4,1065.9 1441.3,1066.0 1442.2,1067.1 1443.2,1066.2 1444.1,1066.8 1445.0,1067.5 1446.0,1067.6 1446.9,1067.2 1447.8,1067.3 1448.8,1066.6 1449.7,1066.9 1450.6,1065.2 1451.6,1066.1 1452.5,1064.7 1453.4,1066.3 1454.4,1066.0 1455.3,1065.3 1456.2,1065.9 1457.2,1067.4 1458.1,1065.9 1459.0,1066.1 1460.0,1066.2 1460.9,1065.7 1461.8,1067.0 1462.8,1066.3 1463.7,1067.1 1464.6,1066.5 1465.6,1066.9 1466.5,1066.0 1467.4,1065.2 1468.4,1066.6 1469.3,1065.1 1470.2,1066.7 1471.2,1065.7 1472.1,1065.4 1473.0,1066.9 1474.0,1065.4 1474.9,1065.7 1475.8,1066.9 1476.8,1065.9 1477.7,1065.8 1478.6,1065.0 1479.6,1066.6 1480.5,1065.5 1481.4,1066.0 1482.4,1065.2 1483.3,1064.7 1484.2,1066.2 1485.2,1066.1 1486.1,1066.1 1487.1,1066.1 1488.0,1066.0 1488.9,1066.7 1489.9,1066.9 1490.8,1066.5 1491.7,1066.3 1492.7,1066.6 1493.6,1064.5 1494.5,1065.8 1495.5,1065.0 1496.4,1064.8 1497.3,1066.0 1498.3,1065.1 1499.2,1066.3 1500.1,1065.4 1501.1,1064.6 1502.0,1064.6 1502.9,1063.1 1503.9,1063.2 1504.8,1063.8 1505.7,1062.7 1506.7,1062.3 1507.6,1063.1 1508.5,1061.1 1509.5,1059.5 1510.4,1058.1 1511.3,1057.7 1512.0,1057.5 1512.3,1056.7 1513.2,1056.4 1514.1,1057.3 1515.1,1058.4 1516.0,1059.0 1516.9,1062.0 1517.9,1062.7 1518.8,1062.7 1519.7,1063.3 1520.7,1062.2 1521.6,1063.0 1522.5,1063.0 1523.5,1060.8 1524.4,1060.3 1525.3,1058.1 1526.3,1057.8 1526.5,1058.8 1527.2,1058.6 1528.1,1058.9 1529.1,1060.2 1530.0,1060.6 1530.9,1061.8 1531.9,1063.9 1532.8,1064.7 1533.8,1063.4 1534.7,1065.2 1535.6,1065.9 1536.6,1065.4 1537.5,1064.7 1538.4,1066.4 1539.4,1065.3 1540.3,1065.8 1541.2,1066.5 1542.2,1065.7 1543.1,1067.7 1544.0,1066.1 1545.0,1065.4 1545.9,1065.6 1546.8,1066.5 1547.8,1066.1 1548.7,1065.4 1549.6,1066.3 1550.6,1065.4 1551.5,1067.4 1552.4,1068.0 1553.4,1066.8 1554.3,1065.9 1555.2,1066.0 1556.2,1066.5 1557.1,1065.9 1558.0,1065.2 1559.0,1064.7 1559.9,1063.0 1560.8,1062.7 1561.8,1061.3 1562.7,1060.8 1563.0,1059.5 1563.6,1059.7 1564.6,1060.2 1565.5,1061.4 1566.4,1061.7 1567.4,1062.1 1568.3,1063.3 1569.2,1063.6 1570.2,1064.2 1571.1,1065.3 1572.0,1064.9 1573.0,1065.7 1573.9,1065.5 1574.8,1064.7 1575.8,1063.8 1576.7,1063.3 1577.6,1064.8 1578.6,1065.1 1579.5,1064.2 1580.5,1065.1 1581.4,1064.8 1582.3,1064.4 1583.3,1063.4 1584.2,1062.7 1585.1,1062.3 1586.1,1060.0 1587.0,1060.1 1587.0,1060.3 1587.9,1059.9 1588.9,1060.4 1589.8,1060.4 1590.7,1062.0 1591.7,1063.0 1592.6,1063.8 1593.5,1064.7 1594.5,1064.2 1595.4,1065.7 1596.3,1064.8 1597.3,1066.2 1598.2,1065.4 1599.1,1065.4 1600.1,1064.7 1601.0,1065.5 1601.9,1064.6 1602.9,1063.5 1603.8,1063.2 1604.7,1062.9 1605.7,1061.2 1606.6,1060.0 1607.5,1059.2 1608.5,1057.5 1609.4,1054.7 1610.3,1050.7 1611.3,1048.0 1612.2,1046.7 1612.3,1047.8 1613.1,1047.0 1614.1,1049.5 1615.0,1051.4 1615.9,1053.8 1616.9,1056.2 1617.8,1058.3 1618.7,1060.1 1619.7,1061.8 1620.6,1062.7 1621.5,1064.8 1622.5,1064.9 1623.4,1065.5 1624.3,1063.7 1625.3,1064.3 1626.2,1063.3 1627.2,1063.2 1628.1,1062.6 1629.0,1061.8 1630.0,1061.5 1630.9,1059.8 1631.8,1058.5 1632.8,1055.8 1633.7,1051.7 1634.6,1046.2 1635.6,1039.4 1636.5,1029.4 1637.4,1017.7 1638.3,1012.1 1638.4,1011.8 1639.3,1022.4 1640.2,1037.0 1641.2,1043.6 1642.1,1042.6 1643.0,1045.2 1644.0,1053.7 1644.9,1061.2 1645.8,1065.1 1646.8,1065.7 1647.7,1066.8 1648.6,1065.3 1649.6,1066.0 1650.5,1065.6 1651.4,1065.4 1652.4,1066.1 1653.3,1064.3 1654.2,1065.3 1655.2,1065.7 1656.1,1066.7 1657.0,1064.4 1658.0,1065.5 1658.9,1065.2 1659.8,1065.0 1660.8,1065.5 1661.7,1064.2 1662.6,1064.2 1663.6,1064.9 1664.5,1064.8 1665.4,1063.7 1666.4,1064.1 1667.3,1063.7 1668.2,1064.1 1669.2,1062.9 1670.1,1063.2 1671.0,1061.7 1672.0,1060.0 1672.9,1058.9 1673.9,1056.6 1674.8,1052.6 1675.7,1049.2 1676.7,1047.6 1677.0,1047.3 1677.6,1047.6 1678.5,1049.9 1679.5,1051.4 1680.4,1053.9 1681.3,1055.6 1682.3,1058.1 1683.2,1058.6 1684.1,1061.0 1685.1,1062.0 1686.0,1064.0 1686.9,1064.6 1687.9,1064.3 1688.8,1063.7 1689.7,1064.7 1690.7,1062.4 1691.6,1060.6 1692.5,1060.7 1693.5,1059.5 1694.4,1056.8 1695.3,1056.2 1695.5,1056.8 1696.3,1057.0 1697.2,1058.2 1698.1,1059.4 1699.1,1059.7 1700.0,1061.4 1700.9,1062.1 1701.9,1064.0 1702.8,1065.2 1703.7,1065.0 1704.7,1066.3 1705.6,1066.4 1706.5,1065.4 1707.5,1068.2 1708.4,1066.3 1709.3,1066.5 1710.3,1067.1 1711.2,1066.2 1712.1,1066.7 1713.1,1068.0 1714.0,1067.5 1714.9,1067.7 1715.9,1067.2 1716.8,1067.7 1717.7,1067.3 1718.7,1067.2 1719.6,1066.7 1720.6,1067.6 1721.5,1066.4 1722.4,1068.3 1723.4,1066.7 1724.3,1067.0 1725.2,1067.2 1726.2,1067.0 1727.1,1068.4 1728.0,1066.2 1729.0,1067.6 1729.9,1067.0 1730.8,1067.1 1731.8,1067.2 1732.7,1067.4 1733.6,1067.3 1734.6,1067.6 1735.5,1067.0 1736.4,1067.2 1737.4,1067.5 1738.3,1067.9 1739.2,1067.0 1740.2,1067.5 1741.1,1068.4 1742.0,1068.5 1743.0,1067.0 1743.9,1067.2 1744.8,1067.4 1745.8,1066.8 1746.7,1066.9 1747.6,1067.4 1748.6,1067.0 1749.5,1066.5 1750.4,1067.7 1751.4,1067.1 1752.3,1067.6 1753.2,1066.3 1754.2,1067.0 1755.1,1067.1 1756.0,1067.0 1757.0,1066.2 1757.9,1066.6 1758.6,1066.6 1758.8,1066.5 1759.8,1066.3 1760.7,1067.2 1761.6,1067.3 1762.6,1067.3 1763.5,1066.4 1764.4,1067.4 1765.4,1066.9 1766.3,1067.2 1767.3,1066.7 1768.2,1066.2 1769.1,1066.5 1770.1,1065.8 1771.0,1067.4 1771.9,1067.7 1772.9,1067.6 1773.8,1067.0 1774.7,1066.6 1775.7,1066.6 1776.6,1067.5 1777.5,1066.9 1778.5,1066.9 1779.4,1067.4 1780.3,1067.6 1781.3,1067.8 1782.2,1067.9 1783.1,1067.3 1784.1,1067.0 1785.0,1067.0 1785.9,1066.8 1786.9,1068.4 1787.8,1067.0 1788.7,1066.4 1789.7,1066.4 1790.6,1066.6 1791.5,1066.0 1792.5,1066.7 1793.4,1066.6 1794.3,1066.2 1795.3,1065.8 1796.2,1065.8 1797.1,1066.1 1798.1,1065.9 1799.0,1064.5 1799.9,1064.6 1800.9,1065.1 1801.8,1063.8 1802.7,1062.7 1803.0,1063.6 1803.7,1064.2 1804.6,1066.3 1805.5,1064.8 1806.5,1065.7 1807.4,1065.3 1808.3,1065.8 1809.3,1066.1 1810.2,1066.4 1811.1,1066.4 1812.1,1067.1 1813.0,1066.3 1814.0,1065.8 1814.9,1067.1 1815.8,1066.1 1816.8,1064.7 1817.7,1063.8 1818.6,1062.7 1819.6,1062.2 1820.5,1062.7 1820.5,1063.1 1821.4,1062.3 1822.4,1064.2 1823.3,1065.4 1824.2,1065.1 1825.2,1065.2 1826.1,1066.6 1827.0,1066.3 1828.0,1066.9 1828.9,1067.1 1829.8,1067.7 1830.8,1067.3 1831.7,1066.5 1832.6,1067.7 1833.6,1067.5 1834.5,1067.3 1835.4,1066.2 1836.4,1066.6 1837.3,1068.3 1838.2,1066.5 1839.2,1067.0 1840.1,1066.6 1841.0,1066.9 1842.0,1067.6 1842.9,1067.1 1843.8,1066.9 1844.8,1065.7 1845.7,1067.0 1846.6,1066.6 1847.6,1066.9 1848.5,1066.6 1849.4,1066.7 1850.4,1067.4 1851.3,1067.6 1852.2,1066.3 1853.2,1066.3 1854.1,1066.3 1855.0,1065.4 1856.0,1066.2 1856.9,1066.8 1857.8,1066.1 1858.8,1064.7 1859.7,1064.9 1860.7,1063.9 1861.6,1062.5 1862.5,1061.4 1863.5,1058.7 1864.4,1057.6 1865.3,1056.9 1865.5,1057.7 1866.3,1056.1 1867.2,1057.6 1868.1,1058.8 1869.1,1060.5 1870.0,1061.5 1870.9,1062.3 1871.9,1064.4 1872.8,1064.4 1873.7,1065.9 1874.7,1066.1 1875.6,1067.2 1876.5,1067.7 1877.5,1066.7 1878.4,1067.6 1879.3,1068.2 1880.3,1067.1 1881.2,1068.1 1882.1,1068.7 1883.1,1067.3 1884.0,1067.7 1884.9,1067.1 1885.9,1068.4 1886.8,1067.8 1887.7,1067.2 1888.7,1068.0 1889.6,1067.1 1890.5,1067.1 1891.5,1067.7 1892.4,1067.8 1893.3,1067.6 1894.3,1067.8 1895.2,1067.6 1896.1,1067.7 1897.1,1067.4 1898.0,1067.0 1898.9,1066.7 1899.9,1066.6 1900.8,1066.1 1901.7,1065.1 1902.7,1064.4 1903.6,1063.3 1904.5,1063.4 1904.5,1064.6 1905.5,1064.6 1906.4,1064.6 1907.4,1064.6 1908.3,1064.6 1909.2,1065.3 1910.2,1065.5 1911.1,1066.0 1912.0,1064.1 1913.0,1064.2 1913.9,1064.6 1914.8,1065.4 1915.8,1064.0 1916.7,1063.5 1917.5,1063.4 1917.6,1063.3 1918.6,1065.6 1919.5,1063.7 1920.4,1064.0 1921.4,1064.6 1922.3,1065.9 1923.2,1065.6 1924.2,1066.1 1925.1,1067.0 1926.0,1067.6 1927.0,1067.5 1927.9,1066.7 1928.8,1066.8 1929.8,1067.9 1930.7,1066.5 1931.6,1068.1 1932.6,1068.0 1933.5,1068.8 1934.4,1067.3 1935.4,1067.3 1936.3,1067.5 1937.2,1067.2 1938.2,1066.6 1939.1,1066.8 1940.0,1067.3 1941.0,1067.4 1941.9,1067.1 1942.8,1067.1 1943.8,1066.6 1944.7,1067.2 1945.6,1066.9 1946.6,1067.5 1947.5,1067.3 1948.4,1066.5 1949.4,1066.8 1950.3,1067.0 1951.2,1066.5 1952.2,1067.0 1953.1,1067.1 1954.1,1066.3 1955.0,1067.5 1955.9,1066.6 1956.9,1066.0 1957.8,1066.8 1958.7,1066.4 1959.7,1066.6 1960.6,1065.7 1961.5,1067.8 1962.5,1065.6 1963.4,1068.0 1964.3,1066.5 1965.3,1066.5 1966.2,1066.6 1967.1,1066.7 1968.1,1066.7 1969.0,1065.3 1969.9,1066.2 1970.9,1066.2 1971.5,1065.3 1971.8,1065.8 1972.7,1065.2 1973.7,1065.7 1974.6,1065.3 1975.5,1067.2 1976.5,1066.9 1977.4,1067.1 1978.3,1067.3 1979.3,1068.1 1980.2,1068.1 1981.1,1067.1 1982.1,1066.8 1983.0,1067.6 1983.9,1068.3 1984.9,1068.4 1985.8,1067.7 1986.7,1068.4 1987.7,1066.9 1988.6,1067.7 1989.5,1066.7 1990.5,1068.3 1991.4,1067.3 1992.3,1067.2 1993.3,1067.0 1994.2,1067.0 1995.1,1067.7 1996.1,1067.8 1997.0,1065.7 1997.9,1067.6 1998.9,1067.7 1999.8,1067.6 2000.8,1066.8 2001.7,1067.2 2002.6,1067.3 2003.6,1067.2 2004.5,1067.9 2005.4,1067.1 2006.4,1068.2 2007.3,1067.6 2008.2,1067.2 2009.2,1068.7 2010.1,1067.2 2011.0,1067.2 2012.0,1067.2 2012.9,1066.6 2013.8,1066.8 2014.8,1067.2 2015.7,1067.9 2016.6,1066.3 2017.6,1067.0 2018.5,1067.1 2019.4,1066.6 2020.4,1066.5 2021.3,1066.3 2022.2,1066.7 2023.2,1065.9 2024.1,1065.6 2025.0,1066.7 2026.0,1067.1 2026.9,1066.8 2027.8,1066.0 2028.8,1064.5 2029.7,1064.8 2030.6,1065.7 2031.6,1064.6 2032.5,1064.8 2033.4,1063.7 2034.4,1064.1 2035.3,1062.3 2036.2,1061.7 2037.2,1060.8 2038.1,1059.4 2039.0,1058.0 2040.0,1055.0 2040.9,1050.6 2041.8,1045.9 2042.8,1040.4 2043.7,1035.1 2044.6,1033.0 2044.6,1032.5 2045.6,1034.4 2046.5,1038.3 2047.5,1042.5 2048.4,1045.8 2049.3,1048.6 2050.3,1050.9 2051.2,1053.5 2052.1,1057.2 2053.1,1060.8 2054.0,1062.8 2054.9,1064.2 2055.9,1064.7 2056.8,1065.7 2057.7,1065.7 2058.7,1065.7 2059.6,1065.3 2060.5,1065.2 2061.5,1065.3 2062.4,1064.8 2063.3,1063.4 2064.3,1063.5 2065.2,1063.7 2066.1,1063.3 2067.1,1061.9 2068.0,1062.0 2068.9,1060.3 2069.9,1059.3 2070.8,1055.7 2071.7,1052.1 2072.7,1049.6 2073.6,1049.4 2073.7,1047.6 2074.5,1049.3 2075.5,1050.4 2076.4,1053.5 2077.3,1055.3 2078.3,1056.0 2079.2,1057.0 2080.1,1058.9 2081.1,1059.3 2082.0,1061.5 2082.9,1062.3 2083.9,1063.5 2084.8,1061.9 2085.7,1063.0 2086.7,1061.6 2087.6,1061.8 2088.5,1059.1 2089.5,1057.8 2090.4,1057.8 2090.5,1057.2 2091.3,1057.4 2092.3,1059.1 2093.2,1061.4 2094.2,1061.8 2095.1,1061.3 2096.0,1063.1 2097.0,1064.1 2097.9,1064.6 2098.8,1065.6 2099.8,1066.5 2100.7,1066.1 2101.6,1067.9 2102.6,1067.7 2103.5,1069.1 2104.4,1067.9 2105.4,1067.5 2106.3,1067.2 2107.2,1067.6 2108.2,1066.9 2109.1,1068.6 2110.0,1068.0 2111.0,1067.9 2111.9,1067.5 2112.8,1066.6 2113.8,1067.8 2114.7,1067.3 2115.6,1068.2 2116.6,1066.7 2117.5,1066.8 2118.4,1067.4 2119.4,1067.6 2120.3,1067.8 2121.2,1066.3 2122.2,1067.4 2123.1,1067.5 2124.0,1067.2 2125.0,1067.1 2125.9,1067.3 2126.8,1066.5 2127.8,1065.8 2128.7,1066.9 2129.6,1065.5 2130.6,1065.7 2131.5,1065.9 2132.4,1066.5 2133.4,1065.4 2134.3,1065.8 2135.2,1063.3 2136.2,1064.2 2137.1,1063.8 2138.0,1064.0 2139.0,1061.2 2139.9,1059.2 2140.9,1058.9 2141.8,1055.5 2142.7,1050.6 2143.7,1044.4 2144.6,1035.5 2145.5,1031.0 2145.6,1031.4 2146.5,1037.3 2147.4,1048.3 2148.3,1055.0 2149.3,1056.0 2150.2,1052.7 2151.1,1050.5 2152.1,1053.3 2153.0,1058.9 2153.9,1063.5 2154.9,1064.3 2155.8,1064.6 2156.7,1064.0 2157.7,1063.0 2158.6,1062.2 2159.5,1061.7 2160.5,1061.1 2160.5,1060.9 2161.4,1061.7 2162.3,1062.6 2163.3,1063.4 2164.2,1063.6 2165.1,1064.5 2166.1,1064.1 2167.0,1065.1 2167.9,1065.8 2168.9,1065.1 2169.8,1065.3 2170.7,1066.1 2171.7,1066.1 2172.6,1066.5 2173.5,1065.4 2174.5,1066.4 2175.4,1065.6 2176.3,1067.2 2177.3,1065.3 2178.2,1066.9 2179.1,1065.3 2180.1,1066.7 2181.0,1065.5 2181.9,1066.0 2182.9,1065.8 2183.8,1065.4 2184.7,1064.5 2185.7,1063.4 2186.6,1062.4 2187.6,1060.3 2188.5,1060.6 2189.4,1057.3 2190.4,1056.5 2191.0,1056.4 2191.3,1056.3 2192.2,1058.0 2193.2,1060.1 2194.1,1059.5 2195.0,1061.4 2196.0,1062.1 2196.9,1063.0 2197.8,1063.1 2198.8,1064.2 2199.7,1064.0 2200.6,1065.8 2201.6,1065.9 2202.5,1066.3 2203.4,1067.6 2204.4,1067.3 2205.3,1067.5 2206.2,1066.6 2207.2,1066.8 2208.1,1066.1 2209.0,1066.8 2210.0,1067.4 2210.9,1067.1 2211.8,1066.7 2212.8,1067.3 2213.7,1065.7 2214.6,1068.1 2215.6,1066.4 2216.5,1067.5 2217.4,1066.2 2218.4,1066.6 2219.3,1066.6 2220.2,1067.6 2221.2,1066.3 2222.1,1066.7 2223.0,1066.6 2224.0,1066.2 2224.9,1066.9 2225.8,1066.8 2226.8,1064.9 2227.7,1065.5 2228.6,1064.5 2229.6,1063.8 2230.5,1064.5 2231.4,1062.6 2232.4,1059.0 2233.3,1055.8 2234.3,1050.9 2235.2,1044.2 2236.1,1038.0 2236.7,1036.2 2237.1,1037.7 2238.0,1046.5 2238.9,1055.2 2239.9,1058.1 2240.8,1058.0 2241.7,1056.4 2242.7,1053.7 2243.6,1056.2 2244.5,1062.4 2245.5,1064.4 2246.4,1065.8 2247.3,1066.4 2248.3,1066.6 2249.2,1066.7 2250.1,1065.6 2251.1,1064.7 2252.0,1064.1 2252.9,1064.2 2253.9,1062.6 2254.8,1062.9 2255.7,1061.3 2256.0,1061.7 2256.7,1062.2 2257.6,1062.9 2258.5,1065.1 2259.5,1064.9 2260.4,1065.5 2261.3,1066.2 2262.3,1066.0 2263.2,1066.1 2264.1,1067.5 2265.1,1067.7 2266.0,1068.3 2266.9,1067.7 2267.9,1068.6 2268.8,1067.7 2269.7,1067.0 2270.7,1066.9 2271.6,1066.8 2272.5,1067.0 2273.5,1067.2 2274.4,1067.1 2275.3,1064.8 2276.3,1067.0 2277.2,1065.5 2278.1,1065.8 2279.1,1065.2 2280.0,1066.6 2281.0,1066.4 2281.9,1063.6 2282.8,1065.6 2283.8,1064.5 2284.0,1063.9 2284.7,1064.4 2285.6,1066.0 2286.6,1065.3 2287.5,1065.5 2288.4,1066.1 2289.4,1067.6 2290.3,1066.4 2291.2,1068.0 2292.2,1066.4 2293.1,1067.6 2294.0,1066.9 2295.0,1067.4 2295.9,1068.0 2296.8,1067.9 2297.8,1068.0 2298.7,1067.7 2299.6,1066.6 2300.6,1067.2 2301.5,1067.4 2302.4,1067.1 2303.4,1068.1 2304.3,1068.6 2305.2,1069.2 2306.2,1068.4 2307.1,1067.3 2308.0,1067.1 2309.0,1067.2 2309.9,1067.5"/>
<polyline stroke="#00ad69" points="200.0,799.7 200.9,798.6 201.9,799.0 202.8,800.4 203.7,801.0 204.7,801.1 205.6,800.1 206.5,800.5 207.5,800.8 208.4,801.4 209.3,802.6 210.3,803.0 211.2,804.3 212.1,804.2 213.1,805.2 214.0,806.3 214.9,806.9 215.9,805.9 216.8,806.0 217.7,806.2 218.7,804.6 219.6,804.2 220.5,804.1 221.5,804.3 222.4,801.5 223.3,801.6 224.3,800.9 225.2,800.2 226.2,799.2 227.1,799.1 228.0,798.6 229.0,799.0 229.9,798.8 230.8,799.1 231.8,798.8 232.7,801.0 233.6,799.8 234.6,801.8 235.5,799.9 236.4,799.4 237.4,799.9 238.3,799.9 239.2,802.8 240.2,802.5 241.1,801.7 242.0,802.1 243.0,802.8 243.9,802.6 244.8,802.4 245.8,802.0 246.7,800.0 247.6,798.9 248.6,798.1 249.5,798.2 250.4,798.3 251.4,796.5 252.3,795.5 253.2,795.8 254.2,796.6 255.1,796.9 256.0,797.1 257.0,796.9 257.9,795.9 258.8,795.2 259.8,795.1 260.7,793.1 261.6,792.4 262.6,789.3 263.5,787.6 264.4,784.6 265.4,781.2 266.3,777.6 267.2,771.4 268.2,763.0 269.1,751.2 270.0,734.9 271.0,719.9 271.5,716.2 271.9,718.7 272.9,739.4 273.8,767.5 274.7,790.2 275.7,803.4 276.6,807.9 277.5,808.6 278.5,810.2 279.4,809.4 280.3,809.7 281.3,810.6 282.2,810.0 283.1,811.2 284.1,811.5 285.0,810.7 285.9,810.4 286.9,810.5 287.8,811.9 288.7,812.9 289.7,813.4 290.6,812.8 291.5,813.6 292.5,814.7 293.4,814.2 294.3,815.2 295.3,815.0 296.2,814.8 297.1,814.7 298.1,814.9 299.0,815.0 299.9,814.7 300.9,813.4 301.8,813.2 302.7,812.5 303.7,813.6 304.6,814.7 305.5,814.8 306.5,814.4 307.4,815.3 308.3,815.4 309.3,815.4 310.2,814.2 311.1,815.6 312.1,814.7 313.0,814.6 313.9,812.8 314.9,813.6 315.8,813.0 316.7,811.9 317.7,810.7 318.6,813.3 319.6,812.5 320.5,812.8 321.4,812.7 322.4,813.2 323.3,813.0 324.2,812.9 325.2,813.9 326.1,814.3 327.0,813.0 328.0,813.4 328.9,815.0 329.8,814.1 330.8,813.9 331.7,814.4 332.6,815.6 333.6,813.4 334.5,814.5 335.4,813.2 336.4,814.0 337.3,813.5 338.2,812.7 339.2,813.8 340.1,813.9 341.0,815.9 342.0,816.2 342.9,815.4 343.8,815.3 344.8,815.7 345.7,815.6 346.6,814.6 347.6,814.1 348.5,813.2 349.4,812.4 350.4,810.9 351.3,811.7 352.2,813.3 353.2,810.9 354.1,810.3 355.0,809.7 356.0,809.8 356.9,809.3 357.8,809.0 358.8,808.8 359.7,806.9 360.6,807.9 361.6,807.7 362.5,806.9 363.4,804.1 364.4,802.4 365.3,798.9 366.3,797.4 367.2,793.3 368.1,788.4 369.1,780.1 370.0,769.9 370.9,756.8 371.9,748.5 372.0,748.9 372.8,753.7 373.7,770.7 374.7,789.3 375.6,802.2 376.5,809.8 377.5,813.3 378.4,814.4 379.3,814.9 380.3,815.6 381.2,814.6 382.1,815.2 383.1,816.4 384.0,815.8 384.9,817.1 385.9,815.6 386.8,815.8 387.7,815.3 388.7,814.4 389.6,815.1 390.5,814.6 391.5,814.7 392.4,815.5 393.3,813.2 394.3,812.5 395.2,811.8 396.1,812.8 397.1,811.2 398.0,809.9 398.9,807.4 399.9,805.9 400.8,805.5 401.7,803.8 402.7,800.4 403.6,797.8 404.5,795.4 405.5,792.9 406.4,790.3 407.3,787.7 408.3,783.9 409.2,780.0 410.1,775.3 411.1,769.9 412.0,762.3 413.0,754.2 413.9,744.0 414.8,732.0 415.8,716.8 416.7,697.5 417.6,671.7 418.6,636.6 419.5,587.4 420.4,521.0 421.4,446.3 422.3,402.0 422.3,402.0 423.2,445.1 424.2,554.7 425.1,668.8 426.0,748.1 427.0,788.6 427.9,805.1 428.8,811.3 429.8,813.6 430.7,814.6 431.6,815.2 432.6,815.8 433.5,815.6 434.4,814.6 435.4,817.2 436.3,816.5 437.2,816.4 438.2,816.1 439.1,816.6 440.0,817.0 441.0,817.1 441.9,817.3 442.8,817.5 443.8,819.3 444.7,819.0 445.6,816.7 446.6,817.8 447.5,816.6 448.4,818.2 449.4,818.2 450.3,818.3 451.2,818.5 452.2,818.1 453.1,818.0 454.0,819.5 455.0,817.8 455.9,819.4 456.8,817.9 457.8,818.7 458.7,818.2 459.7,817.8 460.6,817.8 461.5,819.1 462.5,820.7 463.4,820.6 464.3,820.5 465.3,820.3 466.2,819.8 467.1,821.2 468.1,821.1 469.0,822.8 469.9,822.1 470.9,821.6 471.8,821.7 472.7,820.4 473.7,821.9 474.6,821.6 475.5,820.7 476.5,821.5 477.4,821.2 478.3,820.4 479.3,821.1 480.2,823.2 481.1,821.9 482.1,821.0 483.0,820.6 483.9,821.3 484.9,821.3 485.8,821.4 486.7,821.4 487.7,823.4 488.6,823.8 489.5,823.7 490.5,823.7 491.4,823.6 492.3,822.3 493.3,823.4 494.2,824.1 495.1,823.2 496.1,822.2 497.0,821.8 497.9,821.5 498.9,821.9 499.8,822.4 500.7,822.3 501.7,822.1 502.6,821.0 503.5,821.6 504.5,820.2 505.4,819.1 506.4,818.7 507.3,820.3 508.2,819.1 509.2,819.4 510.1,819.1 511.0,819.3 512.0,818.8 512.9,819.7 513.8,821.0 514.8,819.4 515.7,818.9 516.6,820.0 517.6,819.1 518.5,818.1 519.4,818.2 520.4,818.0 521.3,819.5 522.2,819.6 523.2,818.4 524.1,821.0 525.0,821.5 526.0,820.5 526.9,821.6 527.8,822.2 528.8,821.3 529.7,821.3 530.6,822.9 531.6,821.0 532.5,821.5 533.4,821.2 534.4,821.2 535.3,820.5 536.2,819.9 537.2,819.7 538.1,819.1 539.0,820.7 540.0,819.5 540.9,820.7 541.8,820.7 542.8,820.8 543.7,819.4 544.6,821.6 545.6,820.3 546.5,821.1 547.4,820.0 548.4,821.2 549.3,820.5 550.2,821.1 551.2,821.1 552.1,821.3 553.1,819.1 554.0,819.4 554.9,818.0 555.9,818.8 556.8,819.6 557.7,818.9 558.7,817.0 559.6,816.7 560.5,818.6 561.5,819.3 562.4,818.5 563.3,819.1 564.3,818.8 565.2,818.2 566.1,818.0 567.1,818.8 568.0,817.3 568.9,816.9 569.9,816.8 570.8,811.9 571.7,814.5 572.7,813.0 573.6,813.0 574.5,812.1 575.5,810.8 576.4,809.7 577.3,808.5 578.3,808.6 579.2,805.6 580.1,805.0 581.1,802.7 582.0,800.6 582.9,796.8 583.9,794.1 584.8,789.7 585.7,785.4 586.7,780.1 587.6,773.1 588.5,765.3 589.5,755.5 590.4,743.0 591.3,725.7 592.3,701.5 593.2,667.2 594.1,619.6 595.1,563.7 596.0,524.5 596.2,523.2 596.9,541.7 597.9,603.6 598.8,681.7 599.8,744.2 600.7,779.9 601.6,797.0 602.6,802.5 603.5,803.0 604.4,802.0 605.4,798.1 606.3,796.1 606.5,796.2 607.2,797.1 608.2,797.9 609.1,798.6 610.0,799.2 611.0,798.1 611.9,795.9 612.8,791.8 613.8,785.2 614.7,777.3 615.6,770.4 616.5,768.0 616.6,768.6 617.5,771.6 618.4,779.7 619.4,791.0 620.3,800.6 621.2,806.9 622.2,813.4 623.1,815.9 624.0,817.1 625.0,817.2 625.9,818.0 626.8,818.0 627.8,816.3 628.7,818.8 629.6,818.4 630.6,818.0 631.5,819.1 632.4,819.2 633.4,820.3 634.3,820.3 635.2,817.7 636.2,818.3 637.1,817.8 638.0,815.8 639.0,815.1 639.9,813.3 640.8,811.4 641.8,812.2 642.7,810.5 643.6,807.8 644.6,808.6 645.5,805.7 646.5,803.1 647.4,800.1 648.3,794.6 649.3,786.9 650.2,778.0 651.1,770.5 652.0,767.3 652.1,767.0 653.0,770.4 653.9,778.0 654.9,789.2 655.8,799.3 656.7,806.9 657.7,812.3 658.6,814.5 659.5,816.3 660.5,817.0 661.4,818.2 662.3,816.4 663.3,815.1 664.2,814.2 665.1,814.3 666.1,812.8 667.0,810.5 667.9,810.5 668.9,807.9 669.8,807.3 670.7,805.7 671.7,802.1 672.6,799.9 673.5,796.6 674.5,792.9 675.4,787.9 676.3,780.1 677.3,769.1 678.2,752.9 679.1,729.8 680.1,701.7 681.0,680.1 681.3,678.5 681.9,685.8 682.9,714.6 683.8,752.6 684.7,784.7 685.7,805.6 686.6,815.3 687.5,820.0 688.5,821.1 689.4,821.8 690.3,823.1 691.3,821.8 692.2,824.4 693.2,825.5 694.1,824.7 695.0,824.6 696.0,825.2 696.9,824.1 697.8,824.7 698.8,824.1 699.7,823.6 700.6,824.1 701.6,823.6 702.5,822.1 703.4,820.9 704.4,822.8 705.3,822.5 706.2,821.8 707.2,821.6 708.1,821.6 709.0,822.1 710.0,821.9 710.9,820.9 711.8,821.1 712.8,821.5 713.7,820.3 714.6,820.4 715.6,821.2 716.5,820.4 717.4,821.2 718.4,819.8 719.3,821.5 720.2,821.4 721.2,822.4 722.1,823.6 723.0,822.8 724.0,822.3 724.9,823.3 725.8,822.8 726.8,824.3 727.7,824.7 728.6,824.2 729.6,824.5 730.5,824.1 731.4,823.9 732.4,824.8 733.3,824.1 734.2,825.8 735.2,824.1 736.1,824.1 737.0,823.8 738.0,824.9 738.9,825.1 739.9,825.0 740.8,824.3 741.7,825.1 742.7,823.7 743.6,823.1 744.5,824.8 745.5,824.5 746.4,822.5 747.3,824.5 748.3,823.4 749.2,823.9 750.1,823.4 751.1,823.7 752.0,823.4 752.9,825.8 753.9,823.7 754.8,824.9 755.7,825.6 756.7,825.2 757.6,823.9 758.5,825.2 759.5,824.6 760.4,824.6 761.3,823.7 762.3,824.9 763.2,824.3 764.1,824.3 765.1,824.8 766.0,824.9 766.9,824.6 767.9,824.7 768.8,824.5 769.7,824.3 770.7,823.7 771.6,823.2 772.5,822.6 773.5,823.2 774.4,821.7 775.3,820.4 776.3,819.2 777.2,817.8 778.1,816.8 779.0,816.8 779.1,814.6 780.0,817.9 780.9,816.7 781.9,817.4 782.8,818.6 783.7,820.3 784.7,819.7 785.6,819.3 786.6,816.7 787.5,816.0 788.4,812.3 789.4,810.9 790.0,810.2 790.3,810.3 791.2,811.0 792.2,813.8 793.1,816.3 794.0,816.5 795.0,820.7 795.9,822.2 796.8,822.5 797.8,822.7 798.7,824.4 799.6,823.9 800.6,825.8 801.5,826.1 802.4,824.6 803.4,826.6 804.3,824.4 805.2,824.5 806.2,824.5 807.1,824.5 808.0,823.9 809.0,822.6 809.9,822.5 810.8,822.1 811.8,822.5 812.7,821.4 813.6,821.8 814.6,820.2 815.5,818.7 816.4,817.8 817.4,816.3 818.3,815.6 819.2,812.5 820.2,811.7 821.0,811.4 821.1,810.5 822.0,812.8 823.0,813.6 823.9,816.3 824.8,820.4 825.8,822.1 826.7,823.4 827.6,824.0 828.6,825.6 829.5,824.8 830.4,824.2 831.4,823.0 832.3,825.1 833.3,823.4 834.2,822.5 835.1,824.0 836.1,823.2 837.0,822.6 837.9,821.5 838.9,823.0 839.8,822.8 840.7,822.4 841.7,822.8 842.6,824.5 843.5,822.5 844.5,822.1 845.4,823.1 846.3,822.7 847.3,822.0 848.2,823.5 849.1,822.8 850.1,823.6 851.0,822.1 851.9,823.0 852.9,822.9 853.8,821.7 854.7,821.7 855.7,820.1 856.6,819.2 857.5,819.1 858.5,819.0 859.4,818.5 860.3,818.0 861.3,817.1 862.2,815.1 863.1,814.1 864.1,812.4 865.0,811.9 865.9,807.2 866.9,804.2 867.8,802.2 868.7,798.6 869.0,799.1 869.7,798.7 870.6,799.1 871.5,799.0 872.5,800.7 873.4,801.1 874.3,801.0 875.3,798.0 876.2,794.2 877.1,787.1 878.1,778.0 879.0,765.1 880.0,746.8 880.9,719.6 881.8,679.6 882.8,626.0 883.7,575.0 884.3,560.0 884.6,564.6 885.6,612.6 886.5,672.1 887.4,730.6 888.4,778.0 889.3,804.1 890.2,816.3 891.2,819.8 892.1,821.1 893.0,819.8 894.0,819.9 894.9,820.1 895.8,818.6 896.8,819.5 897.7,817.1 898.6,817.1 899.0,819.3 899.6,817.7 900.5,819.0 901.4,820.0 902.4,819.5 903.3,821.5 904.2,821.5 905.2,822.1 906.1,822.1 907.0,823.1 908.0,823.8 908.9,822.9 909.8,824.1 910.8,825.7 911.7,825.9 912.6,826.0 913.6,825.4 914.5,825.3 915.4,827.1 916.4,827.2 917.3,826.1 918.2,823.8 919.2,825.7 920.1,825.2 921.0,825.6 922.0,825.0 922.9,826.3 923.8,825.7 924.8,824.6 925.7,823.0 926.7,824.1 927.6,824.9 928.5,825.7 929.5,825.4 930.4,826.2 931.3,825.7 932.3,826.4 933.2,826.4 934.1,826.7 935.1,827.8 936.0,827.7 936.9,825.6 937.9,825.6 938.8,824.7 939.7,825.0 940.7,821.9 941.6,822.9 942.5,821.7 943.5,820.7 944.4,820.2 945.3,818.9 946.3,818.9 947.2,817.3 948.1,818.0 949.1,816.9 950.0,817.5 950.9,817.6 951.0,817.9 951.9,818.9 952.8,817.6 953.7,819.2 954.7,820.4 955.6,820.4 956.5,821.1 957.5,820.9 958.4,821.5 959.3,821.1 960.3,820.7 961.2,821.3 962.1,821.2 963.1,820.1 964.0,818.8 964.9,816.8 965.9,814.0 966.8,810.5 967.7,808.9 968.7,807.0 968.8,805.1 969.6,806.2 970.5,807.4 971.5,810.1 972.4,811.5 973.4,814.3 974.3,816.4 975.2,818.5 976.2,819.2 977.1,817.4 978.0,819.2 979.0,820.2 979.9,820.4 980.8,820.5 981.8,820.3 982.7,819.6 983.6,819.3 984.6,818.9 985.5,818.1 986.4,817.3 987.4,815.2 988.3,815.7 989.2,815.0 990.2,814.5 991.1,814.9 992.0,814.3 993.0,814.9 993.9,813.4 994.8,812.3 995.8,811.6 996.7,809.8 997.6,806.8 998.6,804.3 999.5,799.0 1000.4,795.3 1001.4,789.0 1002.3,780.1 1003.2,769.8 1004.2,755.0 1005.1,734.2 1006.0,703.9 1007.0,657.9 1007.9,588.9 1008.8,493.5 1009.8,396.3 1010.5,360.0 1010.7,364.4 1011.6,453.1 1012.6,555.3 1013.5,634.8 1014.4,719.8 1015.4,780.5 1016.3,808.7 1017.2,817.7 1018.2,821.1 1019.1,822.2 1020.1,823.4 1021.0,822.6 1021.9,823.4 1022.9,823.6 1023.8,822.7 1024.7,823.1 1025.7,823.9 1026.6,823.0 1027.5,822.5 1028.5,823.1 1029.4,822.0 1030.3,822.2 1031.3,822.1 1032.2,822.7 1033.1,820.8 1034.1,820.6 1035.0,821.2 1035.9,820.0 1036.9,819.1 1037.8,817.9 1038.7,817.6 1039.7,814.7 1040.6,813.0 1041.5,813.4 1042.5,812.6 1043.4,810.7 1044.3,807.9 1045.3,807.6 1046.2,803.6 1047.1,801.4 1048.1,796.4 1049.0,790.6 1049.9,783.3 1050.9,776.1 1051.8,768.1 1052.7,761.4 1053.7,758.2 1054.0,757.7 1054.6,758.6 1055.5,762.8 1056.5,770.3 1057.4,779.3 1058.3,788.5 1059.3,797.5 1060.2,803.7 1061.1,808.5 1062.1,812.5 1063.0,814.8 1063.9,815.4 1064.9,817.6 1065.8,817.1 1066.8,815.9 1067.7,815.8 1068.6,814.6 1069.6,811.1 1070.5,806.7 1071.4,799.8 1072.4,793.3 1073.3,783.7 1074.2,775.4 1075.2,771.4 1075.4,770.8 1076.1,772.1 1077.0,777.3 1078.0,785.7 1078.9,795.2 1079.8,803.5 1080.8,810.6 1081.7,815.7 1082.6,818.1 1083.6,821.8 1084.5,823.4 1085.4,823.4 1086.4,824.1 1087.3,826.3 1088.2,825.5 1089.2,826.1 1090.1,825.2 1091.0,826.0 1092.0,825.1 1092.9,825.6 1093.8,825.0 1094.8,825.3 1095.7,824.6 1096.6,823.0 1097.6,823.8 1098.5,822.8 1099.4,822.9 1100.4,823.0 1101.3,822.2 1102.2,823.2 1103.2,823.4 1104.1,823.2 1105.0,825.1 1106.0,826.1 1106.9,825.7 1107.8,825.2 1108.8,825.0 1109.7,825.0 1110.6,824.0 1111.6,822.1 1112.5,820.6 1113.5,821.3 1114.4,819.6 1114.5,820.7 1115.3,818.2 1116.3,818.6 1117.2,820.6 1118.1,821.8 1119.1,821.4 1120.0,822.4 1120.9,823.3 1121.9,822.8 1122.8,823.4 1123.7,824.0 1124.7,823.2 1125.6,824.0 1126.5,823.9 1127.5,823.0 1128.4,824.3 1129.3,823.4 1130.3,822.8 1131.2,821.8 1132.1,821.3 1132.5,822.1 1133.1,821.0 1134.0,821.0 1134.9,821.3 1135.9,820.3 1136.8,821.6 1137.7,821.0 1138.7,819.8 1139.6,821.4 1140.5,817.8 1141.5,818.4 1142.4,816.7 1143.3,816.5 1144.3,815.6 1145.2,814.3 1146.1,811.7 1147.1,807.8 1148.0,805.1 1148.9,802.2 1149.5,801.1 1149.9,800.3 1150.8,800.1 1151.7,801.0 1152.7,800.4 1153.6,801.0 1154.5,801.3 1155.5,799.3 1156.4,795.8 1157.3,791.6 1158.3,785.2 1159.2,776.7 1160.2,764.6 1161.1,748.7 1162.0,725.6 1163.0,691.3 1163.9,639.9 1164.8,562.8 1165.8,458.5 1166.7,358.5 1167.3,329.6 1167.6,340.7 1168.6,447.9 1169.5,548.4 1170.4,607.5 1171.4,684.9 1172.3,759.0 1173.2,798.4 1174.2,811.8 1175.1,816.4 1176.0,818.7 1177.0,819.4 1177.9,820.5 1178.8,819.1 1179.8,820.0 1180.7,820.1 1181.6,819.7 1182.6,818.3 1183.5,817.8 1184.4,814.8 1185.4,813.0 1186.3,812.4 1187.2,809.9 1188.2,805.5 1189.1,802.1 1190.0,795.1 1191.0,787.2 1191.9,776.7 1192.8,761.2 1193.8,737.2 1194.7,700.7 1195.6,648.5 1196.6,589.6 1197.5,558.3 1197.5,558.4 1198.4,600.8 1199.4,663.5 1200.3,699.4 1201.2,733.1 1202.2,776.9 1203.1,805.9 1204.0,818.7 1205.0,822.9 1205.9,824.0 1206.9,823.9 1207.8,824.7 1208.7,824.8 1209.7,825.7 1210.6,825.7 1211.5,824.1 1212.5,824.5 1213.4,823.4 1214.3,825.3 1215.3,824.7 1216.2,823.8 1217.1,824.8 1218.1,824.7 1219.0,825.2 1219.9,826.0 1220.9,825.9 1221.8,826.0 1222.7,825.2 1223.7,824.4 1224.6,824.8 1225.5,824.3 1226.5,823.7 1227.4,823.2 1228.3,821.9 1229.3,820.5 1230.2,819.8 1231.1,818.1 1232.1,814.8 1233.0,810.4 1233.9,806.6 1234.9,803.5 1235.8,802.2 1235.8,801.7 1236.7,802.5 1237.7,803.5 1238.6,805.7 1239.5,810.2 1240.5,812.7 1241.4,815.5 1242.3,817.9 1243.3,817.6 1244.2,816.0 1245.1,814.8 1246.1,814.8 1247.0,813.1 1247.9,810.7 1248.9,807.7 1249.8,804.0 1250.7,799.8 1251.7,795.0 1252.6,787.7 1253.6,776.8 1254.5,759.6 1255.4,734.7 1256.4,697.5 1257.3,650.8 1258.2,614.4 1258.5,610.1 1259.2,623.8 1260.1,666.1 1261.0,687.9 1262.0,691.1 1262.9,702.1 1263.8,712.0 1264.3,714.9 1264.8,719.4 1265.7,729.2 1266.6,725.3 1267.6,704.8 1268.5,677.9 1269.4,654.5 1270.0,650.3 1270.4,657.3 1271.3,699.8 1272.2,735.1 1273.2,751.8 1274.1,773.0 1275.0,799.9 1276.0,816.4 1276.9,823.3 1277.8,824.3 1278.8,826.3 1279.7,826.6 1280.6,826.1 1281.6,825.7 1282.5,825.7 1283.4,825.0 1284.4,824.4 1285.3,822.5 1286.2,820.5 1287.2,817.7 1288.1,813.7 1289.0,808.5 1290.0,804.0 1290.9,803.6 1291.0,803.6 1291.8,805.2 1292.8,806.7 1293.7,810.5 1294.6,814.6 1295.6,819.8 1296.5,823.5 1297.4,826.6 1298.4,829.8 1299.3,829.3 1300.3,830.0 1301.2,830.3 1302.1,830.1 1303.1,832.3 1304.0,829.5 1304.9,829.8 1305.9,826.4 1306.8,825.4 1307.7,826.5 1308.7,825.2 1309.6,823.4 1310.5,821.4 1311.5,817.3 1312.4,812.4 1313.3,811.6 1314.3,809.8 1314.3,810.9 1315.2,811.1 1316.1,813.6 1317.1,816.0 1318.0,820.4 1318.9,824.3 1319.9,827.2 1320.8,828.0 1321.7,831.3 1322.7,833.0 1323.6,833.6 1324.5,833.9 1325.5,834.0 1326.4,833.2 1327.3,832.1 1328.3,833.9 1329.2,833.7 1330.1,832.3 1331.1,832.3 1332.0,831.6 1332.9,831.7 1333.9,831.7 1334.8,831.9 1335.7,832.2 1336.7,831.2 1337.6,832.3 1338.5,832.6 1339.5,833.0 1340.4,834.9 1341.3,835.0 1342.3,835.4 1343.2,835.3 1344.1,835.4 1345.1,835.9 1346.0,836.6 1347.0,835.7 1347.9,836.2 1348.8,836.2 1349.8,835.2 1350.7,835.1 1351.6,834.6 1352.6,833.1 1353.5,833.7 1354.4,833.1 1355.4,834.4 1356.3,834.2 1357.2,833.0 1358.2,832.7 1359.1,832.3 1360.0,833.0 1361.0,832.1 1361.9,833.0 1362.8,830.9 1363.8,831.2 1364.7,832.3 1365.6,832.7 1366.6,831.7 1367.5,831.9 1368.4,833.0 1369.4,832.8 1370.3,834.0 1371.2,834.0 1372.2,834.8 1373.1,834.0 1374.0,833.7 1375.0,835.1 1375.9,835.0 1376.8,833.7 1377.8,833.6 1378.7,832.1 1379.6,831.7 1380.6,832.0 1381.5,832.0 1382.4,830.1 1383.4,829.9 1384.3,827.1 1385.2,825.9 1386.2,823.4 1387.1,820.9 1388.0,815.6 1389.0,812.4 1389.9,805.9 1390.8,802.1 1391.5,801.9 1391.8,800.9 1392.7,803.2 1393.7,806.6 1394.6,810.5 1395.5,813.8 1396.5,819.3 1397.4,821.8 1398.3,824.8 1399.3,827.4 1400.2,827.9 1401.1,827.1 1402.1,827.6 1403.0,825.9 1403.9,825.0 1404.9,823.9 1405.8,820.6 1406.7,818.0 1407.7,811.4 1408.6,806.1 1409.5,797.2 1410.5,782.1 1411.4,762.1 1412.3,738.6 1413.3,724.9 1413.3,725.1 1414.2,742.1 1415.1,770.0 1416.1,783.5 1417.0,788.5 1417.9,801.8 1418.9,818.5 1419.8,829.5 1420.7,833.3 1421.7,833.4 1422.6,833.5 1423.5,832.6 1424.5,833.0 1425.4,834.3 1426.3,832.4 1427.3,832.3 1428.2,832.4 1429.1,832.9 1430.1,832.9 1431.0,833.1 1431.9,833.3 1432.9,829.8 1433.8,832.0 1434.7,831.2 1435.7,831.9 1436.6,829.8 1437.5,831.8 1438.5,834.7 1439.4,833.0 1440.4,834.6 1441.3,834.1 1442.2,834.5 1443.2,833.8 1444.1,833.8 1445.0,835.0 1446.0,833.9 1446.9,832.4 1447.8,832.1 1448.8,832.5 1449.7,832.5 1450.6,832.8 1451.6,832.2 1452.5,832.5 1453.4,833.1 1454.4,832.8 1455.3,833.3 1456.2,833.4 1457.2,833.4 1458.1,834.4 1459.0,834.7 1460.0,835.8 1460.9,835.7 1461.8,836.3 1462.8,836.3 1463.7,834.9 1464.6,835.5 1465.6,834.6 1466.5,835.0 1467.4,833.7 1468.4,833.9 1469.3,832.5 1470.2,833.3 1471.2,833.4 1472.1,833.7 1473.0,833.5 1474.0,833.5 1474.9,835.6 1475.8,834.0 1476.8,835.5 1477.7,834.7 1478.6,835.2 1479.6,835.1 1480.5,834.1 1481.4,834.6 1482.4,833.0 1483.3,834.7 1484.2,834.4 1485.2,833.7 1486.1,833.5 1487.1,833.6 1488.0,833.1 1488.9,832.9 1489.9,832.1 1490.8,832.8 1491.7,831.9 1492.7,831.7 1493.6,832.3 1494.5,831.7 1495.5,830.9 1496.4,830.1 1497.3,831.0 1498.3,830.1 1499.2,831.9 1500.1,832.6 1501.1,831.3 1502.0,831.7 1502.9,832.9 1503.9,832.1 1504.8,831.8 1505.7,832.1 1506.7,830.7 1507.6,831.0 1508.5,827.4 1509.5,825.4 1510.4,824.6 1511.3,822.4 1512.0,821.1 1512.3,822.5 1513.2,822.6 1514.1,824.8 1515.1,823.4 1516.0,824.5 1516.9,826.7 1517.9,827.5 1518.8,829.6 1519.7,829.5 1520.7,830.7 1521.6,829.2 1522.5,829.1 1523.5,828.0 1524.4,827.0 1525.3,825.5 1526.3,825.2 1526.5,827.2 1527.2,825.6 1528.1,825.7 1529.1,825.9 1530.0,827.7 1530.9,828.9 1531.9,829.3 1532.8,831.8 1533.8,831.2 1534.7,832.1 1535.6,831.5 1536.6,833.6 1537.5,832.2 1538.4,833.4 1539.4,834.9 1540.3,835.7 1541.2,834.6 1542.2,836.0 1543.1,836.7 1544.0,835.2 1545.0,834.6 1545.9,835.1 1546.8,835.6 1547.8,834.4 1548.7,834.2 1549.6,834.2 1550.6,834.3 1551.5,833.3 1552.4,833.7 1553.4,832.1 1554.3,832.3 1555.2,832.2 1556.2,831.3 1557.1,829.9 1558.0,830.8 1559.0,827.9 1559.9,827.5 1560.8,825.7 1561.8,825.3 1562.7,825.2 1563.0,823.8 1563.6,822.6 1564.6,823.2 1565.5,825.8 1566.4,827.9 1567.4,828.4 1568.3,829.7 1569.2,830.5 1570.2,831.3 1571.1,833.6 1572.0,834.3 1573.0,834.1 1573.9,833.7 1574.8,833.6 1575.8,833.0 1576.7,833.0 1577.6,833.3 1578.6,833.0 1579.5,832.4 1580.5,831.8 1581.4,830.8 1582.3,831.1 1583.3,830.3 1584.2,828.7 1585.1,826.7 1586.1,826.9 1587.0,826.0 1587.0,826.4 1587.9,827.3 1588.9,828.1 1589.8,828.3 1590.7,829.7 1591.7,829.9 1592.6,830.5 1593.5,831.6 1594.5,832.4 1595.4,832.5 1596.3,833.0 1597.3,833.7 1598.2,833.4 1599.1,832.0 1600.1,830.8 1601.0,832.1 1601.9,832.4 1602.9,831.1 1603.8,830.0 1604.7,828.2 1605.7,827.8 1606.6,826.3 1607.5,825.2 1608.5,822.3 1609.4,818.6 1610.3,815.8 1611.3,811.0 1612.2,811.3 1612.3,810.8 1613.1,811.2 1614.1,813.3 1615.0,815.6 1615.9,817.7 1616.9,821.4 1617.8,823.8 1618.7,827.0 1619.7,828.4 1620.6,829.3 1621.5,830.6 1622.5,833.2 1623.4,832.7 1624.3,832.4 1625.3,833.0 1626.2,831.4 1627.2,831.7 1628.1,830.7 1629.0,830.6 1630.0,829.8 1630.9,828.1 1631.8,827.5 1632.8,823.4 1633.7,819.5 1634.6,814.7 1635.6,806.3 1636.5,795.6 1637.4,782.5 1638.3,776.8 1638.4,777.1 1639.3,787.9 1640.2,803.3 1641.2,809.5 1642.1,810.0 1643.0,811.7 1644.0,821.3 1644.9,829.9 1645.8,832.4 1646.8,835.6 1647.7,834.2 1648.6,834.8 1649.6,834.2 1650.5,833.2 1651.4,834.9 1652.4,832.7 1653.3,833.0 1654.2,832.4 1655.2,833.4 1656.1,833.6 1657.0,833.3 1658.0,832.6 1658.9,833.3 1659.8,833.1 1660.8,833.0 1661.7,832.2 1662.6,833.4 1663.6,831.0 1664.5,833.6 1665.4,832.1 1666.4,831.3 1667.3,830.6 1668.2,831.3 1669.2,829.5 1670.1,829.9 1671.0,827.3 1672.0,826.5 1672.9,824.8 1673.9,822.3 1674.8,819.3 1675.7,814.7 1676.7,814.1 1677.0,813.0 1677.6,814.0 1678.5,814.9 1679.5,818.5 1680.4,820.4 1681.3,823.1 1682.3,826.5 1683.2,828.6 1684.1,830.2 1685.1,831.8 1686.0,831.9 1686.9,831.8 1687.9,832.0 1688.8,832.6 1689.7,831.5 1690.7,830.8 1691.6,829.8 1692.5,826.8 1693.5,825.2 1694.4,823.5 1695.3,823.9 1695.5,823.4 1696.3,823.0 1697.2,824.7 1698.1,825.8 1699.1,827.4 1700.0,830.3 1700.9,830.8 1701.9,831.7 1702.8,833.0 1703.7,834.0 1704.7,833.1 1705.6,833.7 1706.5,834.6 1707.5,833.2 1708.4,835.2 1709.3,835.1 1710.3,835.2 1711.2,835.8 1712.1,836.3 1713.1,836.2 1714.0,835.5 1714.9,835.5 1715.9,835.5 1716.8,834.6 1717.7,835.5 1718.7,834.6 1719.6,835.0 1720.6,835.7 1721.5,835.6 1722.4,835.2 1723.4,835.8 1724.3,835.1 1725.2,835.2 1726.2,835.3 1727.1,835.5 1728.0,834.9 1729.0,836.1 1729.9,835.0 1730.8,834.9 1731.8,834.9 1732.7,835.2 1733.6,834.5 1734.6,834.7 1735.5,835.7 1736.4,835.9 1737.4,835.6 1738.3,836.8 1739.2,835.1 1740.2,835.1 1741.1,835.0 1742.0,836.4 1743.0,834.7 1743.9,836.5 1744.8,835.1 1745.8,835.8 1746.7,836.0 1747.6,835.6 1748.6,834.6 1749.5,834.8 1750.4,836.2 1751.4,835.6 1752.3,834.5 1753.2,835.3 1754.2,836.4 1755.1,835.3 1756.0,835.6 1757.0,834.4 1757.9,834.1 1758.6,834.1 1758.8,834.4 1759.8,835.6 1760.7,834.1 1761.6,835.5 1762.6,834.3 1763.5,835.3 1764.4,834.4 1765.4,835.0 1766.3,836.7 1767.3,834.6 1768.2,835.4 1769.1,835.0 1770.1,834.5 1771.0,836.3 1771.9,835.6 1772.9,835.1 1773.8,835.4 1774.7,836.1 1775.7,834.4 1776.6,836.2 1777.5,834.3 1778.5,835.3 1779.4,834.1 1780.3,833.7 1781.3,835.7 1782.2,834.4 1783.1,834.8 1784.1,833.8 1785.0,835.2 1785.9,834.9 1786.9,834.0 1787.8,833.6 1788.7,834.3 1789.7,833.7 1790.6,834.4 1791.5,834.2 1792.5,834.0 1793.4,831.7 1794.3,832.9 1795.3,832.5 1796.2,832.2 1797.1,832.9 1798.1,831.3 1799.0,831.1 1799.9,830.8 1800.9,829.6 1801.8,829.7 1802.7,828.6 1803.0,828.9 1803.7,827.5 1804.6,829.3 1805.5,829.5 1806.5,830.9 1807.4,830.6 1808.3,831.7 1809.3,831.7 1810.2,832.3 1811.1,832.6 1812.1,834.6 1813.0,833.1 1814.0,833.6 1814.9,833.3 1815.8,832.9 1816.8,832.8 1817.7,831.7 1818.6,830.4 1819.6,829.6 1820.5,829.6 1820.5,828.3 1821.4,828.2 1822.4,829.2 1823.3,830.4 1824.2,831.1 1825.2,830.6 1826.1,831.9 1827.0,831.8 1828.0,833.5 1828.9,833.1 1829.8,834.5 1830.8,834.6 1831.7,833.7 1832.6,834.6 1833.6,834.4 1834.5,836.0 1835.4,834.6 1836.4,835.2 1837.3,834.1 1838.2,835.9 1839.2,835.2 1840.1,834.3 1841.0,833.7 1842.0,834.3 1842.9,833.8 1843.8,835.0 1844.8,833.6 1845.7,835.2 1846.6,836.2 1847.6,835.6 1848.5,836.2 1849.4,835.4 1850.4,835.3 1851.3,835.0 1852.2,834.3 1853.2,835.6 1854.1,833.8 1855.0,833.6 1856.0,834.0 1856.9,833.4 1857.8,834.0 1858.8,833.2 1859.7,833.7 1860.7,830.0 1861.6,830.9 1862.5,829.0 1863.5,826.8 1864.4,825.7 1865.3,824.5 1865.5,824.5 1866.3,824.8 1867.2,826.4 1868.1,828.0 1869.1,827.2 1870.0,828.6 1870.9,830.2 1871.9,831.0 1872.8,832.1 1873.7,833.8 1874.7,833.9 1875.6,835.8 1876.5,835.1 1877.5,835.5 1878.4,835.9 1879.3,836.6 1880.3,836.0 1881.2,835.3 1882.1,835.6 1883.1,834.9 1884.0,834.0 1884.9,834.1 1885.9,834.2 1886.8,833.7 1887.7,834.6 1888.7,834.3 1889.6,834.4 1890.5,834.8 1891.5,834.9 1892.4,834.1 1893.3,835.6 1894.3,835.2 1895.2,834.1 1896.1,835.1 1897.1,836.3 1898.0,833.9 1898.9,834.6 1899.9,834.4 1900.8,832.5 1901.7,833.3 1902.7,831.7 1903.6,830.9 1904.5,829.9 1904.5,830.8 1905.5,831.3 1906.4,831.8 1907.4,831.2 1908.3,831.4 1909.2,832.1 1910.2,831.8 1911.1,832.7 1912.0,832.1 1913.0,832.5 1913.9,832.4 1914.8,832.1 1915.8,830.8 1916.7,830.5 1917.5,831.9 1917.6,831.3 1918.6,831.6 1919.5,832.2 1920.4,830.9 1921.4,832.7 1922.3,834.9 1923.2,833.1 1924.2,832.7 1925.1,833.0 1926.0,834.2 1927.0,835.4 1927.9,833.6 1928.8,835.6 1929.8,835.9 1930.7,835.0 1931.6,836.5 1932.6,835.1 1933.5,835.1 1934.4,835.6 1935.4,835.8 1936.3,835.2 1937.2,834.6 1938.2,835.1 1939.1,833.4 1940.0,833.7 1941.0,835.0 1941.9,833.6 1942.8,834.0 1943.8,834.1 1944.7,834.4 1945.6,834.6 1946.6,834.8 1947.5,834.4 1948.4,835.6 1949.4,836.0 1950.3,835.0 1951.2,835.5 1952.2,835.5 1953.1,835.3 1954.1,835.8 1955.0,835.2 1955.9,836.1 1956.9,835.4 1957.8,834.7 1958.7,834.8 1959.7,835.7 1960.6,834.9 1961.5,836.0 1962.5,836.3 1963.4,835.5 1964.3,835.3 1965.3,836.8 1966.2,835.6 1967.1,835.3 1968.1,835.1 1969.0,834.2 1969.9,833.1 1970.9,834.4 1971.5,832.1 1971.8,833.0 1972.7,833.9 1973.7,834.1 1974.6,833.8 1975.5,832.8 1976.5,834.3 1977.4,835.0 1978.3,834.4 1979.3,835.3 1980.2,836.3 1981.1,835.1 1982.1,835.4 1983.0,835.2 1983.9,835.5 1984.9,835.7 1985.8,835.0 1986.7,834.2 1987.7,834.4 1988.6,834.2 1989.5,834.3 1990.5,834.5 1991.4,835.1 1992.3,834.5 1993.3,834.5 1994.2,834.4 1995.1,834.6 1996.1,834.2 1997.0,834.1 1997.9,834.3 1998.9,834.6 1999.8,834.4 2000.8,833.6 2001.7,835.6 2002.6,834.5 2003.6,835.1 2004.5,833.7 2005.4,835.0 2006.4,833.8 2007.3,834.7 2008.2,835.1 2009.2,834.9 2010.1,834.4 2011.0,836.2 2012.0,835.5 2012.9,834.4 2013.8,834.6 2014.8,836.1 2015.7,834.1 2016.6,833.8 2017.6,835.8 2018.5,834.7 2019.4,835.6 2020.4,834.0 2021.3,834.7 2022.2,834.9 2023.2,834.7 2024.1,834.0 2025.0,834.6 2026.0,833.9 2026.9,833.7 2027.8,832.8 2028.8,832.5 2029.7,831.5 2030.6,831.4 2031.6,831.2 2032.5,832.4 2033.4,831.6 2034.4,831.3 2035.3,830.9 2036.2,828.7 2037.2,829.1 2038.1,826.7 2039.0,825.2 2040.0,822.0 2040.9,816.3 2041.8,811.1 2042.8,804.5 2043.7,799.6 2044.6,798.0 2044.6,798.0 2045.6,799.6 2046.5,804.7 2047.5,808.7 2048.4,811.8 2049.3,814.5 2050.3,816.9 2051.2,819.7 2052.1,824.4 2053.1,827.2 2054.0,829.9 2054.9,830.7 2055.9,833.0 2056.8,834.3 2057.7,834.3 2058.7,833.4 2059.6,833.9 2060.5,832.1 2061.5,833.2 2062.4,832.9 2063.3,831.3 2064.3,832.3 2065.2,831.1 2066.1,829.9 2067.1,829.5 2068.0,827.8 2068.9,825.4 2069.9,823.9 2070.8,821.4 2071.7,817.3 2072.7,814.6 2073.6,813.0 2073.7,812.8 2074.5,812.9 2075.5,816.6 2076.4,819.0 2077.3,820.8 2078.3,822.4 2079.2,824.0 2080.1,826.1 2081.1,827.5 2082.0,829.9 2082.9,829.7 2083.9,830.9 2084.8,829.8 2085.7,829.9 2086.7,829.5 2087.6,826.8 2088.5,824.1 2089.5,822.6 2090.4,822.1 2090.5,822.4 2091.3,823.5 2092.3,823.9 2093.2,826.6 2094.2,827.7 2095.1,829.2 2096.0,829.4 2097.0,831.5 2097.9,831.2 2098.8,832.7 2099.8,833.8 2100.7,834.1 2101.6,834.7 2102.6,833.8 2103.5,834.3 2104.4,833.8 2105.4,834.5 2106.3,835.4 2107.2,835.4 2108.2,835.2 2109.1,835.9 2110.0,835.0 2111.0,834.9 2111.9,835.4 2112.8,835.3 2113.8,835.0 2114.7,834.4 2115.6,834.4 2116.6,834.5 2117.5,835.0 2118.4,834.9 2119.4,834.8 2120.3,834.1 2121.2,835.3 2122.2,833.9 2123.1,835.0 2124.0,834.5 2125.0,834.0 2125.9,833.9 2126.8,833.5 2127.8,834.5 2128.7,834.8 2129.6,834.6 2130.6,834.5 2131.5,834.8 2132.4,834.4 2133.4,834.3 2134.3,834.5 2135.2,834.5 2136.2,832.2 2137.1,833.0 2138.0,831.8 2139.0,829.8 2139.9,830.2 2140.9,827.4 2141.8,823.1 2142.7,818.1 2143.7,811.3 2144.6,802.1 2145.5,797.2 2145.6,797.0 2146.5,803.4 2147.4,816.5 2148.3,823.0 2149.3,824.6 2150.2,820.4 2151.1,819.2 2152.1,821.0 2153.0,826.6 2153.9,832.9 2154.9,832.1 2155.8,832.1 2156.7,833.4 2157.7,830.9 2158.6,831.5 2159.5,830.3 2160.5,829.9 2160.5,830.3 2161.4,829.5 2162.3,829.1 2163.3,830.6 2164.2,832.1 2165.1,830.9 2166.1,831.4 2167.0,831.0 2167.9,832.7 2168.9,832.1 2169.8,833.1 2170.7,835.6 2171.7,833.8 2172.6,833.7 2173.5,836.0 2174.5,834.5 2175.4,834.2 2176.3,834.4 2177.3,835.2 2178.2,835.4 2179.1,833.9 2180.1,833.4 2181.0,833.9 2181.9,832.7 2182.9,833.1 2183.8,831.5 2184.7,832.3 2185.7,831.5 2186.6,829.8 2187.6,829.5 2188.5,827.3 2189.4,825.1 2190.4,823.6 2191.0,823.3 2191.3,822.3 2192.2,823.2 2193.2,825.8 2194.1,826.7 2195.0,827.4 2196.0,828.5 2196.9,828.5 2197.8,831.0 2198.8,830.5 2199.7,831.3 2200.6,832.8 2201.6,832.8 2202.5,833.4 2203.4,834.1 2204.4,834.1 2205.3,833.0 2206.2,833.7 2207.2,834.9 2208.1,835.1 2209.0,834.9 2210.0,833.8 2210.9,835.3 2211.8,834.9 2212.8,835.1 2213.7,835.5 2214.6,835.9 2215.6,835.1 2216.5,834.3 2217.4,835.6 2218.4,834.8 2219.3,834.0 2220.2,835.1 2221.2,834.1 2222.1,835.4 2223.0,833.7 2224.0,833.9 2224.9,834.5 2225.8,833.0 2226.8,832.1 2227.7,832.3 2228.6,831.8 2229.6,830.1 2230.5,829.0 2231.4,826.3 2232.4,824.0 2233.3,820.7 2234.3,815.1 2235.2,807.5 2236.1,800.0 2236.7,797.3 2237.1,798.7 2238.0,809.8 2238.9,820.3 2239.9,824.3 2240.8,823.0 2241.7,819.9 2242.7,817.4 2243.6,820.1 2244.5,826.7 2245.5,831.9 2246.4,832.7 2247.3,833.7 2248.3,833.2 2249.2,833.0 2250.1,833.7 2251.1,832.3 2252.0,832.2 2252.9,831.4 2253.9,829.4 2254.8,827.4 2255.7,828.0 2256.0,827.9 2256.7,828.3 2257.6,827.9 2258.5,829.4 2259.5,830.8 2260.4,830.8 2261.3,831.1 2262.3,830.8 2263.2,830.6 2264.1,833.3 2265.1,833.1 2266.0,832.5 2266.9,834.2 2267.9,834.3 2268.8,835.7 2269.7,835.4 2270.7,835.2 2271.6,835.9 2272.5,835.2 2273.5,835.3 2274.4,837.0 2275.3,836.0 2276.3,835.2 2277.2,835.2 2278.1,834.3 2279.1,834.3 2280.0,832.7 2281.0,831.9 2281.9,831.6 2282.8,831.9 2283.8,831.4 2284.0,831.6 2284.7,830.5 2285.6,833.4 2286.6,834.0 2287.5,834.3 2288.4,834.3 2289.4,834.5 2290.3,833.6 2291.2,833.5 2292.2,834.8 2293.1,834.3 2294.0,835.0 2295.0,833.1 2295.9,834.0 2296.8,835.5 2297.8,835.7 2298.7,835.2 2299.6,836.2 2300.6,835.6 2301.5,836.8 2302.4,836.0 2303.4,836.0 2304.3,835.1 2305.2,835.3 2306.2,836.0 2307.1,835.6 2308.0,835.5 2309.0,834.7 2309.9,835.3"/>
<polyline stroke="#00ad69" points="200.0,806.1 200.9,804.7 201.9,805.6 202.8,805.3 203.7,804.2 204.7,804.7 205.6,805.3 206.5,806.3 207.5,806.4 208.4,806.9 209.3,808.6 210.3,808.8 211.2,810.6 212.1,812.3 213.1,811.3 214.0,810.4 214.9,810.6 215.9,811.3 216.8,811.5 217.7,810.8 218.7,808.7 219.6,807.2 220.5,805.0 221.5,805.2 222.4,806.0 223.3,805.3 224.3,803.5 225.2,805.6 226.2,805.4 227.1,805.4 228.0,805.3 229.0,806.8 229.9,807.2 230.8,807.6 231.8,806.9 232.7,807.9 233.6,808.2 234.6,808.4 235.5,809.5 236.4,808.3 237.4,807.5 238.3,809.2 239.2,809.8 240.2,809.4 241.1,807.5 242.0,808.8 243.0,808.4 243.9,806.5 244.8,805.9 245.8,806.9 246.7,806.1 247.6,804.8 248.6,803.8 249.5,802.6 250.4,803.7 251.4,803.9 252.3,803.2 253.2,803.0 254.2,802.9 255.1,802.0 256.0,803.2 257.0,802.8 257.9,802.0 258.8,802.5 259.8,799.4 260.7,800.8 261.6,799.6 262.6,797.9 263.5,794.9 264.4,791.8 265.4,787.3 266.3,782.1 267.2,775.8 268.2,767.2 269.1,753.6 270.0,736.6 271.0,720.8 271.5,717.2 271.9,719.7 272.9,740.6 273.8,770.6 274.7,795.4 275.7,808.7 276.6,813.6 277.5,815.7 278.5,816.3 279.4,816.7 280.3,816.0 281.3,813.9 282.2,813.4 283.1,813.5 284.1,813.8 285.0,814.4 285.9,815.4 286.9,815.5 287.8,815.9 288.7,815.7 289.7,817.7 290.6,816.5 291.5,815.8 292.5,815.4 293.4,816.9 294.3,818.1 295.3,817.3 296.2,816.4 297.1,818.0 298.1,817.7 299.0,818.7 299.9,820.1 300.9,820.8 301.8,820.9 302.7,819.2 303.7,818.3 304.6,819.8 305.5,819.9 306.5,819.8 307.4,819.9 308.3,819.8 309.3,818.9 310.2,820.6 311.1,819.9 312.1,820.6 313.0,820.1 313.9,820.6 314.9,820.5 315.8,821.7 316.7,820.6 317.7,819.4 318.6,820.1 319.6,818.9 320.5,818.8 321.4,817.8 322.4,818.0 323.3,817.7 324.2,817.6 325.2,817.7 326.1,819.6 327.0,819.5 328.0,820.2 328.9,819.2 329.8,821.7 330.8,819.7 331.7,820.4 332.6,820.4 333.6,819.4 334.5,819.5 335.4,819.3 336.4,817.8 337.3,819.5 338.2,817.0 339.2,818.4 340.1,819.0 341.0,817.2 342.0,817.1 342.9,818.0 343.8,817.6 344.8,820.5 345.7,819.7 346.6,819.6 347.6,818.5 348.5,818.3 349.4,817.4 350.4,817.3 351.3,817.5 352.2,817.2 353.2,816.0 354.1,815.7 355.0,817.1 356.0,816.3 356.9,815.9 357.8,814.6 358.8,814.5 359.7,812.6 360.6,812.7 361.6,812.0 362.5,810.0 363.4,808.2 364.4,807.2 365.3,805.2 366.3,801.3 367.2,796.6 368.1,791.3 369.1,782.6 370.0,772.6 370.9,760.0 371.9,751.0 372.0,750.9 372.8,756.3 373.7,774.1 374.7,794.5 375.6,809.2 376.5,816.2 377.5,820.9 378.4,820.5 379.3,821.1 380.3,821.0 381.2,821.2 382.1,822.2 383.1,821.4 384.0,822.3 384.9,821.8 385.9,820.9 386.8,820.4 387.7,820.3 388.7,820.1 389.6,819.2 390.5,820.1 391.5,818.9 392.4,819.3 393.3,817.8 394.3,817.6 395.2,816.2 396.1,814.8 397.1,814.0 398.0,813.7 398.9,811.3 399.9,807.7 400.8,807.3 401.7,805.7 402.7,804.4 403.6,801.4 404.5,797.8 405.5,796.3 406.4,793.5 407.3,790.5 408.3,786.9 409.2,782.5 410.1,777.0 411.1,771.3 412.0,763.9 413.0,755.2 413.9,745.0 414.8,733.0 415.8,717.5 416.7,698.1 417.6,672.2 418.6,637.0 419.5,587.8 420.4,521.1 421.4,446.4 422.3,402.1 422.3,402.1 423.2,445.2 424.2,554.9 425.1,669.4 426.0,749.2 427.0,792.1 427.9,809.2 428.8,815.4 429.8,817.3 430.7,817.6 431.6,819.0 432.6,819.6 433.5,820.5 434.4,820.1 435.4,820.9 436.3,820.5 437.2,819.7 438.2,820.5 439.1,821.4 440.0,821.4 441.0,821.1 441.9,820.4 442.8,820.2 443.8,821.2 444.7,820.6 445.6,821.0 446.6,821.0 447.5,819.2 448.4,820.4 449.4,820.6 450.3,819.2 451.2,820.8 452.2,821.0 453.1,821.8 454.0,821.4 455.0,821.0 455.9,823.2 456.8,824.3 457.8,824.9 458.7,823.9 459.7,823.6 460.6,823.3 461.5,824.5 462.5,824.1 463.4,824.6 464.3,825.5 465.3,823.6 466.2,823.0 467.1,823.8 468.1,825.1 469.0,825.0 469.9,824.3 470.9,825.3 471.8,824.6 472.7,824.3 473.7,825.5 474.6,826.0 475.5,825.8 476.5,826.5 477.4,826.4 478.3,825.0 479.3,825.0 480.2,826.5 481.1,827.5 482.1,825.7 483.0,827.8 483.9,826.6 484.9,825.3 485.8,826.4 486.7,827.6 487.7,825.6 488.6,826.1 489.5,824.9 490.5,827.1 491.4,825.8 492.3,828.0 493.3,826.4 494.2,826.7 495.1,827.2 496.1,826.7 497.0,827.1 497.9,826.8 498.9,827.1 499.8,826.8 500.7,826.5 501.7,826.1 502.6,827.3 503.5,826.5 504.5,827.6 505.4,827.9 506.4,826.3 507.3,825.9 508.2,828.1 509.2,827.8 510.1,827.3 511.0,825.1 512.0,825.5 512.9,824.2 513.8,824.1 514.8,823.5 515.7,823.1 516.6,824.4 517.6,824.8 518.5,824.7 519.4,824.6 520.4,824.6 521.3,824.6 522.2,825.1 523.2,825.5 524.1,825.9 525.0,824.5 526.0,826.5 526.9,826.7 527.8,825.4 528.8,826.4 529.7,826.3 530.6,825.0 531.6,826.8 532.5,824.9 533.4,824.0 534.4,823.9 535.3,824.5 536.2,824.5 537.2,823.1 538.1,822.7 539.0,822.9 540.0,824.0 540.9,824.1 541.8,824.8 542.8,824.0 543.7,823.3 544.6,824.3 545.6,825.8 546.5,824.0 547.4,824.8 548.4,825.6 549.3,823.2 550.2,823.9 551.2,823.3 552.1,823.2 553.1,824.3 554.0,824.1 554.9,824.6 555.9,823.2 556.8,823.5 557.7,822.7 558.7,824.3 559.6,822.9 560.5,822.4 561.5,824.0 562.4,822.0 563.3,822.8 564.3,822.4 565.2,821.5 566.1,820.8 567.1,821.7 568.0,820.3 568.9,822.0 569.9,820.6 570.8,818.9 571.7,819.6 572.7,819.7 573.6,818.1 574.5,817.6 575.5,817.1 576.4,814.8 577.3,815.1 578.3,811.0 579.2,810.6 580.1,808.4 581.1,806.7 582.0,804.1 582.9,801.2 583.9,796.7 584.8,792.9 585.7,788.9 586.7,782.7 587.6,776.6 588.5,767.9 589.5,757.3 590.4,744.3 591.3,727.0 592.3,702.5 593.2,667.8 594.1,619.9 595.1,563.9 596.0,524.7 596.2,523.4 596.9,541.9 597.9,603.8 598.8,682.2 599.8,745.2 600.7,782.3 601.6,798.8 602.6,805.3 603.5,806.4 604.4,805.9 605.4,803.1 606.3,801.3 606.5,801.2 607.2,800.7 608.2,801.0 609.1,803.7 610.0,803.7 611.0,801.8 611.9,799.9 612.8,793.6 613.8,787.4 614.7,780.1 615.6,773.3 616.5,770.6 616.6,770.7 617.5,774.0 618.4,783.5 619.4,795.5 620.3,807.2 621.2,814.6 622.2,819.9 623.1,822.9 624.0,824.5 625.0,824.1 625.9,823.6 626.8,823.8 627.8,822.6 628.7,823.5 629.6,823.9 630.6,824.9 631.5,822.2 632.4,823.9 633.4,824.5 634.3,823.6 635.2,822.3 636.2,822.6 637.1,822.0 638.0,822.1 639.0,820.2 639.9,819.8 640.8,818.6 641.8,817.3 642.7,814.9 643.6,813.6 644.6,811.9 645.5,809.8 646.5,806.5 647.4,802.6 648.3,795.9 649.3,788.8 650.2,778.9 651.1,771.5 652.0,768.4 652.1,768.5 653.0,772.3 653.9,780.9 654.9,792.2 655.8,803.4 656.7,812.7 657.7,818.2 658.6,820.4 659.5,823.8 660.5,824.7 661.4,822.6 662.3,821.5 663.3,822.3 664.2,820.1 665.1,819.3 666.1,818.1 667.0,816.5 667.9,814.4 668.9,812.8 669.8,812.6 670.7,811.7 671.7,808.3 672.6,805.6 673.5,802.5 674.5,797.0 675.4,792.2 676.3,782.6 677.3,771.4 678.2,754.3 679.1,730.9 680.1,702.3 681.0,680.6 681.3,678.8 681.9,686.3 682.9,715.5 683.8,753.8 684.7,787.8 685.7,808.7 686.6,820.3 687.5,824.0 688.5,826.1 689.4,828.4 690.3,827.8 691.3,828.1 692.2,828.3 693.2,828.7 694.1,829.0 695.0,830.2 696.0,829.6 696.9,829.7 697.8,829.9 698.8,828.7 699.7,828.3 700.6,828.9 701.6,828.9 702.5,828.3 703.4,827.4 704.4,826.8 705.3,826.7 706.2,826.4 707.2,826.4 708.1,825.8 709.0,826.5 710.0,826.3 710.9,826.1 711.8,825.4 712.8,825.4 713.7,825.8 714.6,824.9 715.6,824.3 716.5,825.1 717.4,824.3 718.4,825.7 719.3,825.5 720.2,824.8 721.2,825.6 722.1,824.4 723.0,825.4 724.0,825.5 724.9,825.8 725.8,826.8 726.8,824.6 727.7,826.0 728.6,827.3 729.6,826.3 730.5,826.1 731.4,827.2 732.4,826.7 733.3,827.5 734.2,826.4 735.2,828.2 736.1,827.3 737.0,827.8 738.0,827.3 738.9,827.3 739.9,827.7 740.8,828.2 741.7,829.7 742.7,827.7 743.6,827.7 744.5,828.4 745.5,828.0 746.4,827.9 747.3,826.8 748.3,827.0 749.2,827.1 750.1,829.2 751.1,828.8 752.0,828.0 752.9,829.6 753.9,828.2 754.8,828.4 755.7,829.4 756.7,829.2 757.6,829.9 758.5,828.5 759.5,827.8 760.4,828.5 761.3,827.9 762.3,828.2 763.2,828.7 764.1,828.6 765.1,828.1 766.0,828.5 766.9,828.9 767.9,828.8 768.8,828.6 769.7,830.3 770.7,828.1 771.6,828.3 772.5,827.9 773.5,825.7 774.4,826.3 775.3,825.8 776.3,823.7 777.2,821.9 778.1,820.8 779.0,820.9 779.1,820.6 780.0,820.1 780.9,821.7 781.9,822.1 782.8,823.5 783.7,822.8 784.7,823.7 785.6,824.0 786.6,821.1 787.5,819.9 788.4,816.4 789.4,815.0 790.0,814.7 790.3,814.8 791.2,816.9 792.2,818.5 793.1,821.9 794.0,824.1 795.0,826.3 795.9,828.1 796.8,828.3 797.8,830.6 798.7,830.8 799.6,830.3 800.6,830.6 801.5,829.3 802.4,828.8 803.4,829.6 804.3,828.7 805.2,828.3 806.2,829.2 807.1,828.9 808.0,828.5 809.0,828.1 809.9,827.2 810.8,826.7 811.8,826.4 812.7,826.1 813.6,826.0 814.6,823.1 815.5,822.9 816.4,823.5 817.4,821.9 818.3,820.3 819.2,817.0 820.2,814.8 821.0,814.6 821.1,814.9 822.0,815.5 823.0,817.3 823.9,820.2 824.8,822.7 825.8,825.7 826.7,826.0 827.6,828.2 828.6,829.1 829.5,829.8 830.4,829.5 831.4,831.4 832.3,828.1 833.3,828.9 834.2,827.6 835.1,827.6 836.1,826.9 837.0,825.7 837.9,825.5 838.9,825.2 839.8,824.8 840.7,825.9 841.7,827.4 842.6,827.6 843.5,826.7 844.5,828.3 845.4,828.4 846.3,828.6 847.3,827.7 848.2,827.2 849.1,828.0 850.1,828.2 851.0,828.3 851.9,828.5 852.9,828.7 853.8,828.8 854.7,827.6 855.7,828.9 856.6,827.5 857.5,826.9 858.5,826.2 859.4,826.6 860.3,824.2 861.3,822.8 862.2,821.2 863.1,818.7 864.1,816.6 865.0,814.7 865.9,813.5 866.9,809.5 867.8,806.8 868.7,804.1 869.0,803.3 869.7,802.6 870.6,802.9 871.5,804.8 872.5,806.0 873.4,805.3 874.3,805.2 875.3,801.5 876.2,796.4 877.1,790.4 878.1,781.7 879.0,768.0 880.0,749.1 880.9,720.9 881.8,680.3 882.8,626.4 883.7,575.2 884.3,560.2 884.6,564.8 885.6,612.8 886.5,672.4 887.4,731.2 888.4,779.3 889.3,806.6 890.2,818.6 891.2,822.0 892.1,823.2 893.0,824.0 894.0,823.6 894.9,823.8 895.8,822.3 896.8,822.5 897.7,821.6 898.6,821.6 899.0,822.6 899.6,823.1 900.5,825.0 901.4,825.7 902.4,826.9 903.3,826.8 904.2,828.6 905.2,829.2 906.1,831.5 907.0,832.4 908.0,833.4 908.9,832.6 909.8,832.7 910.8,832.6 911.7,832.6 912.6,833.2 913.6,833.3 914.5,831.0 915.4,831.5 916.4,831.2 917.3,830.2 918.2,830.0 919.2,830.6 920.1,829.6 921.0,830.1 922.0,829.6 922.9,829.4 923.8,829.5 924.8,828.8 925.7,828.2 926.7,828.0 927.6,828.2 928.5,828.1 929.5,828.8 930.4,828.4 931.3,828.9 932.3,829.5 933.2,828.9 934.1,829.7 935.1,828.3 936.0,828.4 936.9,829.0 937.9,827.5 938.8,828.5 939.7,829.4 940.7,827.7 941.6,828.1 942.5,827.8 943.5,827.0 944.4,827.2 945.3,827.0 946.3,825.3 947.2,824.2 948.1,823.9 949.1,822.9 950.0,822.8 950.9,822.1 951.0,824.9 951.9,823.0 952.8,824.8 953.7,824.9 954.7,826.8 955.6,826.4 956.5,826.5 957.5,827.5 958.4,828.7 959.3,827.4 960.3,826.1 961.2,827.8 962.1,826.3 963.1,825.0 964.0,823.8 964.9,821.5 965.9,817.9 966.8,814.0 967.7,811.2 968.7,811.6 968.8,810.0 969.6,808.7 970.5,812.2 971.5,814.2 972.4,816.8 973.4,819.4 974.3,821.1 975.2,821.5 976.2,823.0 977.1,823.6 978.0,823.9 979.0,823.8 979.9,825.7 980.8,825.6 981.8,824.8 982.7,824.8 983.6,824.8 984.6,823.8 985.5,824.6 986.4,823.7 987.4,822.5 988.3,822.5 989.2,822.1 990.2,821.7 991.1,821.0 992.0,820.9 993.0,819.3 993.9,817.9 994.8,816.6 995.8,814.4 996.7,813.1 997.6,810.9 998.6,805.4 999.5,801.8 1000.4,797.0 1001.4,791.2 1002.3,783.0 1003.2,771.9 1004.2,756.7 1005.1,735.4 1006.0,704.5 1007.0,658.3 1007.9,589.0 1008.8,493.6 1009.8,396.3 1010.5,360.0 1010.7,364.4 1011.6,453.2 1012.6,555.4 1013.5,635.1 1014.4,720.5 1015.4,783.1 1016.3,812.4 1017.2,822.9 1018.2,824.6 1019.1,826.0 1020.1,827.5 1021.0,826.7 1021.9,827.5 1022.9,827.6 1023.8,827.3 1024.7,826.7 1025.7,826.6 1026.6,826.7 1027.5,826.6 1028.5,826.6 1029.4,827.1 1030.3,827.9 1031.3,826.5 1032.2,827.3 1033.1,825.1 1034.1,825.3 1035.0,825.1 1035.9,824.3 1036.9,824.6 1037.8,824.2 1038.7,823.4 1039.7,821.2 1040.6,820.3 1041.5,819.7 1042.5,817.6 1043.4,817.0 1044.3,815.3 1045.3,812.8 1046.2,808.8 1047.1,805.2 1048.1,801.2 1049.0,795.4 1049.9,787.2 1050.9,778.8 1051.8,769.6 1052.7,762.1 1053.7,758.9 1054.0,758.5 1054.6,759.1 1055.5,763.4 1056.5,770.6 1057.4,779.4 1058.3,790.1 1059.3,798.5 1060.2,806.6 1061.1,811.7 1062.1,817.1 1063.0,818.9 1063.9,819.5 1064.9,820.3 1065.8,820.1 1066.8,819.7 1067.7,818.0 1068.6,816.9 1069.6,814.5 1070.5,808.5 1071.4,803.2 1072.4,794.4 1073.3,785.5 1074.2,777.0 1075.2,772.5 1075.4,772.6 1076.1,773.1 1077.0,779.8 1078.0,788.9 1078.9,799.0 1079.8,808.9 1080.8,816.9 1081.7,822.0 1082.6,826.2 1083.6,827.3 1084.5,827.8 1085.4,828.5 1086.4,828.3 1087.3,829.8 1088.2,828.7 1089.2,829.4 1090.1,829.5 1091.0,828.4 1092.0,829.6 1092.9,828.7 1093.8,831.5 1094.8,830.4 1095.7,830.3 1096.6,829.6 1097.6,829.9 1098.5,829.4 1099.4,828.6 1100.4,828.0 1101.3,829.1 1102.2,828.1 1103.2,828.2 1104.1,828.5 1105.0,826.9 1106.0,828.5 1106.9,829.0 1107.8,828.6 1108.8,828.6 1109.7,827.7 1110.6,827.6 1111.6,826.2 1112.5,824.0 1113.5,822.9 1114.4,822.6 1114.5,822.9 1115.3,822.4 1116.3,823.9 1117.2,824.3 1118.1,825.7 1119.1,826.9 1120.0,826.3 1120.9,827.5 1121.9,826.0 1122.8,827.3 1123.7,827.4 1124.7,826.6 1125.6,825.9 1126.5,827.0 1127.5,826.7 1128.4,827.2 1129.3,827.4 1130.3,826.3 1131.2,826.8 1132.1,827.8 1132.5,827.9 1133.1,826.3 1134.0,826.0 1134.9,826.5 1135.9,826.8 1136.8,825.9 1137.7,825.5 1138.7,824.4 1139.6,824.8 1140.5,824.4 1141.5,822.7 1142.4,822.0 1143.3,821.5 1144.3,820.4 1145.2,819.1 1146.1,815.1 1147.1,811.8 1148.0,807.8 1148.9,804.9 1149.5,804.0 1149.9,803.5 1150.8,802.3 1151.7,804.2 1152.7,805.0 1153.6,805.6 1154.5,804.3 1155.5,803.1 1156.4,800.6 1157.3,795.1 1158.3,788.7 1159.2,779.4 1160.2,767.3 1161.1,750.5 1162.0,726.7 1163.0,692.2 1163.9,640.2 1164.8,562.9 1165.8,458.5 1166.7,358.5 1167.3,329.6 1167.6,340.7 1168.6,448.0 1169.5,548.4 1170.4,607.6 1171.4,685.3 1172.3,760.5 1173.2,801.6 1174.2,816.8 1175.1,820.6 1176.0,823.3 1177.0,823.2 1177.9,824.3 1178.8,825.1 1179.8,823.9 1180.7,824.6 1181.6,823.6 1182.6,823.9 1183.5,822.3 1184.4,822.3 1185.4,820.5 1186.3,818.1 1187.2,815.9 1188.2,811.4 1189.1,807.3 1190.0,801.2 1191.0,792.6 1191.9,780.1 1192.8,763.2 1193.8,738.6 1194.7,701.3 1195.6,648.8 1196.6,589.8 1197.5,558.4 1197.5,558.4 1198.4,601.0 1199.4,663.8 1200.3,700.2 1201.2,734.5 1202.2,780.0 1203.1,812.6 1204.0,825.1 1205.0,828.9 1205.9,830.0 1206.9,831.7 1207.8,831.1 1208.7,830.5 1209.7,829.7 1210.6,830.0 1211.5,829.8 1212.5,830.6 1213.4,832.0 1214.3,830.0 1215.3,831.0 1216.2,830.0 1217.1,830.1 1218.1,829.9 1219.0,831.5 1219.9,830.5 1220.9,830.9 1221.8,830.5 1222.7,829.9 1223.7,829.4 1224.6,830.7 1225.5,829.6 1226.5,827.7 1227.4,827.3 1228.3,826.9 1229.3,824.1 1230.2,823.1 1231.1,820.4 1232.1,817.1 1233.0,812.6 1233.9,808.7 1234.9,805.1 1235.8,804.4 1235.8,804.7 1236.7,804.8 1237.7,807.2 1238.6,810.4 1239.5,815.1 1240.5,818.2 1241.4,820.1 1242.3,821.7 1243.3,822.6 1244.2,822.9 1245.1,821.3 1246.1,820.0 1247.0,819.5 1247.9,817.0 1248.9,814.2 1249.8,810.2 1250.7,805.2 1251.7,799.0 1252.6,790.8 1253.6,778.6 1254.5,761.3 1255.4,735.2 1256.4,697.9 1257.3,651.0 1258.2,614.5 1258.5,610.2 1259.2,624.0 1260.1,666.3 1261.0,688.3 1262.0,691.4 1262.9,702.5 1263.8,712.6 1264.3,715.6 1264.8,720.2 1265.7,730.3 1266.6,726.3 1267.6,705.6 1268.5,678.3 1269.4,654.8 1270.0,650.5 1270.4,657.5 1271.3,700.2 1272.2,735.8 1273.2,752.3 1274.1,774.3 1275.0,803.2 1276.0,821.7 1276.9,828.1 1277.8,831.7 1278.8,833.2 1279.7,833.7 1280.6,832.7 1281.6,833.5 1282.5,833.0 1283.4,831.7 1284.4,829.3 1285.3,828.8 1286.2,825.2 1287.2,822.1 1288.1,817.1 1289.0,814.3 1290.0,808.2 1290.9,806.4 1291.0,806.4 1291.8,808.1 1292.8,810.5 1293.7,814.3 1294.6,819.4 1295.6,824.5 1296.5,827.4 1297.4,829.7 1298.4,832.0 1299.3,833.3 1300.3,834.2 1301.2,834.8 1302.1,834.6 1303.1,835.0 1304.0,834.2 1304.9,834.0 1305.9,835.2 1306.8,832.5 1307.7,832.9 1308.7,831.4 1309.6,829.1 1310.5,825.6 1311.5,823.2 1312.4,819.6 1313.3,816.9 1314.3,814.9 1314.3,815.0 1315.2,815.5 1316.1,818.2 1317.1,821.0 1318.0,825.6 1318.9,827.3 1319.9,829.6 1320.8,832.8 1321.7,833.0 1322.7,835.0 1323.6,837.1 1324.5,837.0 1325.5,836.5 1326.4,837.6 1327.3,837.2 1328.3,838.4 1329.2,839.7 1330.1,839.4 1331.1,838.0 1332.0,838.4 1332.9,839.0 1333.9,838.5 1334.8,837.2 1335.7,836.9 1336.7,837.2 1337.6,836.9 1338.5,836.7 1339.5,836.0 1340.4,838.6 1341.3,837.8 1342.3,837.0 1343.2,838.0 1344.1,838.7 1345.1,837.8 1346.0,837.9 1347.0,838.4 1347.9,839.5 1348.8,839.3 1349.8,839.7 1350.7,840.4 1351.6,839.5 1352.6,838.6 1353.5,839.8 1354.4,839.8 1355.4,839.9 1356.3,838.5 1357.2,838.4 1358.2,838.4 1359.1,839.0 1360.0,838.8 1361.0,840.7 1361.9,840.0 1362.8,839.0 1363.8,838.0 1364.7,838.1 1365.6,838.6 1366.6,837.7 1367.5,838.4 1368.4,838.8 1369.4,836.5 1370.3,836.7 1371.2,836.6 1372.2,839.0 1373.1,837.8 1374.0,838.0 1375.0,836.1 1375.9,836.6 1376.8,837.8 1377.8,836.6 1378.7,836.8 1379.6,834.9 1380.6,835.3 1381.5,834.1 1382.4,832.4 1383.4,830.9 1384.3,830.9 1385.2,829.3 1386.2,825.9 1387.1,822.0 1388.0,819.5 1389.0,815.0 1389.9,809.2 1390.8,806.8 1391.5,805.1 1391.8,805.4 1392.7,807.1 1393.7,809.9 1394.6,813.7 1395.5,818.2 1396.5,822.7 1397.4,826.3 1398.3,827.9 1399.3,829.1 1400.2,828.7 1401.1,830.2 1402.1,829.0 1403.0,828.3 1403.9,828.2 1404.9,826.2 1405.8,823.5 1406.7,820.6 1407.7,815.9 1408.6,809.4 1409.5,800.8 1410.5,785.9 1411.4,764.3 1412.3,739.7 1413.3,725.7 1413.3,725.7 1414.2,742.8 1415.1,771.2 1416.1,785.0 1417.0,788.9 1417.9,802.9 1418.9,820.4 1419.8,829.4 1420.7,835.3 1421.7,835.2 1422.6,836.3 1423.5,835.9 1424.5,837.0 1425.4,836.8 1426.3,837.7 1427.3,837.9 1428.2,837.5 1429.1,837.7 1430.1,836.9 1431.0,837.2 1431.9,836.8 1432.9,837.6 1433.8,838.5 1434.7,838.4 1435.7,838.4 1436.6,839.4 1437.5,840.7 1438.5,839.6 1439.4,840.7 1440.4,840.9 1441.3,839.4 1442.2,838.7 1443.2,837.2 1444.1,836.7 1445.0,838.0 1446.0,836.1 1446.9,835.9 1447.8,835.7 1448.8,836.4 1449.7,836.4 1450.6,836.3 1451.6,837.2 1452.5,836.9 1453.4,836.8 1454.4,838.6 1455.3,837.4 1456.2,837.5 1457.2,838.5 1458.1,837.6 1459.0,838.0 1460.0,838.1 1460.9,836.1 1461.8,836.8 1462.8,837.8 1463.7,837.8 1464.6,837.3 1465.6,837.8 1466.5,836.8 1467.4,837.1 1468.4,838.3 1469.3,839.9 1470.2,837.4 1471.2,838.9 1472.1,839.0 1473.0,839.4 1474.0,838.4 1474.9,839.4 1475.8,840.5 1476.8,841.2 1477.7,841.8 1478.6,839.7 1479.6,840.0 1480.5,841.6 1481.4,840.4 1482.4,840.4 1483.3,839.2 1484.2,839.4 1485.2,836.9 1486.1,836.9 1487.1,836.5 1488.0,837.5 1488.9,837.6 1489.9,836.8 1490.8,836.8 1491.7,835.4 1492.7,835.0 1493.6,835.8 1494.5,835.4 1495.5,836.0 1496.4,835.3 1497.3,836.1 1498.3,834.3 1499.2,834.1 1500.1,834.8 1501.1,836.6 1502.0,836.5 1502.9,837.2 1503.9,838.8 1504.8,836.3 1505.7,836.3 1506.7,836.8 1507.6,834.9 1508.5,833.5 1509.5,832.0 1510.4,829.2 1511.3,827.2 1512.0,826.7 1512.3,826.7 1513.2,826.2 1514.1,827.4 1515.1,829.6 1516.0,830.0 1516.9,831.4 1517.9,832.1 1518.8,835.1 1519.7,834.2 1520.7,835.3 1521.6,833.8 1522.5,836.0 1523.5,833.7 1524.4,832.3 1525.3,832.6 1526.3,830.1 1526.5,831.1 1527.2,831.0 1528.1,830.6 1529.1,831.9 1530.0,833.6 1530.9,834.2 1531.9,835.0 1532.8,835.9 1533.8,837.5 1534.7,838.0 1535.6,835.6 1536.6,836.9 1537.5,838.2 1538.4,837.9 1539.4,838.2 1540.3,837.5 1541.2,838.1 1542.2,837.9 1543.1,838.2 1544.0,838.8 1545.0,839.4 1545.9,839.4 1546.8,839.0 1547.8,837.9 1548.7,838.2 1549.6,838.3 1550.6,838.6 1551.5,835.4 1552.4,837.4 1553.4,836.0 1554.3,836.0 1555.2,836.0 1556.2,836.7 1557.1,835.5 1558.0,834.2 1559.0,833.0 1559.9,832.4 1560.8,830.8 1561.8,829.3 1562.7,827.4 1563.0,827.1 1563.6,828.1 1564.6,829.7 1565.5,830.6 1566.4,832.9 1567.4,833.8 1568.3,834.7 1569.2,836.7 1570.2,837.9 1571.1,838.1 1572.0,839.0 1573.0,839.0 1573.9,838.8 1574.8,837.4 1575.8,838.7 1576.7,837.5 1577.6,837.1 1578.6,837.3 1579.5,836.2 1580.5,836.2 1581.4,836.4 1582.3,835.2 1583.3,834.8 1584.2,832.6 1585.1,830.2 1586.1,830.4 1587.0,829.4 1587.0,830.5 1587.9,830.6 1588.9,831.3 1589.8,832.8 1590.7,833.4 1591.7,833.0 1592.6,834.9 1593.5,836.3 1594.5,835.4 1595.4,835.7 1596.3,836.9 1597.3,836.3 1598.2,835.7 1599.1,835.5 1600.1,834.8 1601.0,835.7 1601.9,832.9 1602.9,831.5 1603.8,833.4 1604.7,831.0 1605.7,829.4 1606.6,828.4 1607.5,826.4 1608.5,824.3 1609.4,821.6 1610.3,817.2 1611.3,813.4 1612.2,813.5 1612.3,812.2 1613.1,812.8 1614.1,815.0 1615.0,817.4 1615.9,820.0 1616.9,824.3 1617.8,826.5 1618.7,829.5 1619.7,831.8 1620.6,834.4 1621.5,834.5 1622.5,835.9 1623.4,835.2 1624.3,835.1 1625.3,835.5 1626.2,835.5 1627.2,835.9 1628.1,833.7 1629.0,834.0 1630.0,831.9 1630.9,829.9 1631.8,828.7 1632.8,825.9 1633.7,822.2 1634.6,815.8 1635.6,807.5 1636.5,796.2 1637.4,783.1 1638.3,776.6 1638.4,777.4 1639.3,788.9 1640.2,805.2 1641.2,811.7 1642.1,811.4 1643.0,813.8 1644.0,822.8 1644.9,832.0 1645.8,834.3 1646.8,835.0 1647.7,837.4 1648.6,835.8 1649.6,836.4 1650.5,837.3 1651.4,836.3 1652.4,835.5 1653.3,835.9 1654.2,836.9 1655.2,837.2 1656.1,836.2 1657.0,836.8 1658.0,836.4 1658.9,835.9 1659.8,836.8 1660.8,835.9 1661.7,835.1 1662.6,836.2 1663.6,834.9 1664.5,835.0 1665.4,835.8 1666.4,834.9 1667.3,834.6 1668.2,834.9 1669.2,834.4 1670.1,831.7 1671.0,832.0 1672.0,828.8 1672.9,827.2 1673.9,823.6 1674.8,820.5 1675.7,816.7 1676.7,814.7 1677.0,815.3 1677.6,816.0 1678.5,816.8 1679.5,819.4 1680.4,821.4 1681.3,823.2 1682.3,826.6 1683.2,828.1 1684.1,832.0 1685.1,833.0 1686.0,833.9 1686.9,834.5 1687.9,835.1 1688.8,833.6 1689.7,833.9 1690.7,833.1 1691.6,833.0 1692.5,830.5 1693.5,828.7 1694.4,826.3 1695.3,825.2 1695.5,825.8 1696.3,825.8 1697.2,825.7 1698.1,827.3 1699.1,830.2 1700.0,831.2 1700.9,832.3 1701.9,834.2 1702.8,834.7 1703.7,835.1 1704.7,835.2 1705.6,836.1 1706.5,836.6 1707.5,837.2 1708.4,836.7 1709.3,836.7 1710.3,836.8 1711.2,836.7 1712.1,837.7 1713.1,837.3 1714.0,836.9 1714.9,838.0 1715.9,837.6 1716.8,837.9 1717.7,838.5 1718.7,837.8 1719.6,838.3 1720.6,837.8 1721.5,837.9 1722.4,837.9 1723.4,838.1 1724.3,836.7 1725.2,837.5 1726.2,837.9 1727.1,838.1 1728.0,837.2 1729.0,835.6 1729.9,837.6 1730.8,837.1 1731.8,837.2 1732.7,836.4 1733.6,836.4 1734.6,836.5 1735.5,837.2 1736.4,837.0 1737.4,837.0 1738.3,836.3 1739.2,836.8 1740.2,836.7 1741.1,837.7 1742.0,837.9 1743.0,839.0 1743.9,839.1 1744.8,839.5 1745.8,839.0 1746.7,838.4 1747.6,838.2 1748.6,839.7 1749.5,838.9 1750.4,838.3 1751.4,837.5 1752.3,838.3 1753.2,837.4 1754.2,838.7 1755.1,838.5 1756.0,837.9 1757.0,838.2 1757.9,839.0 1758.6,837.3 1758.8,836.8 1759.8,835.7 1760.7,837.7 1761.6,836.0 1762.6,836.8 1763.5,836.0 1764.4,836.8 1765.4,835.7 1766.3,838.0 1767.3,837.3 1768.2,836.7 1769.1,837.0 1770.1,836.9 1771.0,836.6 1771.9,836.6 1772.9,837.1 1773.8,836.7 1774.7,836.9 1775.7,836.5 1776.6,839.2 1777.5,836.9 1778.5,838.5 1779.4,838.6 1780.3,838.7 1781.3,838.5 1782.2,837.1 1783.1,837.9 1784.1,838.0 1785.0,838.5 1785.9,837.5 1786.9,836.3 1787.8,835.8 1788.7,836.3 1789.7,836.0 1790.6,836.0 1791.5,836.1 1792.5,835.4 1793.4,834.1 1794.3,834.6 1795.3,836.5 1796.2,836.3 1797.1,835.9 1798.1,835.8 1799.0,835.8 1799.9,834.1 1800.9,833.1 1801.8,832.5 1802.7,831.8 1803.0,832.7 1803.7,830.9 1804.6,832.3 1805.5,832.6 1806.5,833.0 1807.4,833.4 1808.3,834.3 1809.3,833.3 1810.2,834.2 1811.1,836.0 1812.1,835.8 1813.0,835.3 1814.0,835.6 1814.9,835.2 1815.8,835.7 1816.8,833.6 1817.7,834.0 1818.6,832.1 1819.6,831.0 1820.5,831.3 1820.5,830.6 1821.4,830.5 1822.4,832.6 1823.3,833.4 1824.2,834.0 1825.2,835.2 1826.1,835.1 1827.0,835.4 1828.0,836.8 1828.9,837.0 1829.8,837.4 1830.8,837.0 1831.7,836.9 1832.6,837.5 1833.6,838.3 1834.5,837.0 1835.4,838.2 1836.4,836.8 1837.3,836.1 1838.2,837.0 1839.2,836.9 1840.1,837.3 1841.0,836.6 1842.0,836.3 1842.9,836.1 1843.8,835.4 1844.8,836.2 1845.7,836.9 1846.6,836.8 1847.6,836.6 1848.5,835.8 1849.4,836.5 1850.4,838.1 1851.3,838.2 1852.2,837.5 1853.2,836.1 1854.1,836.2 1855.0,836.1 1856.0,835.8 1856.9,835.9 1857.8,835.2 1858.8,834.4 1859.7,833.6 1860.7,832.0 1861.6,832.4 1862.5,829.4 1863.5,828.3 1864.4,826.5 1865.3,825.1 1865.5,824.4 1866.3,825.2 1867.2,827.7 1868.1,827.6 1869.1,829.2 1870.0,829.7 1870.9,832.3 1871.9,832.3 1872.8,833.5 1873.7,834.9 1874.7,836.8 1875.6,837.4 1876.5,837.3 1877.5,837.2 1878.4,837.2 1879.3,836.7 1880.3,837.6 1881.2,836.0 1882.1,838.0 1883.1,838.0 1884.0,836.9 1884.9,836.4 1885.9,836.7 1886.8,836.7 1887.7,835.8 1888.7,836.0 1889.6,836.6 1890.5,837.2 1891.5,836.4 1892.4,838.8 1893.3,836.8 1894.3,836.1 1895.2,836.9 1896.1,837.2 1897.1,836.5 1898.0,836.8 1898.9,835.7 1899.9,836.7 1900.8,834.7 1901.7,834.5 1902.7,833.5 1903.6,832.5 1904.5,832.6 1904.5,833.8 1905.5,833.6 1906.4,832.7 1907.4,834.5 1908.3,834.0 1909.2,834.8 1910.2,834.4 1911.1,835.4 1912.0,835.9 1913.0,835.7 1913.9,835.0 1914.8,835.0 1915.8,834.4 1916.7,833.1 1917.5,833.7 1917.6,833.6 1918.6,833.7 1919.5,834.3 1920.4,835.0 1921.4,834.4 1922.3,834.5 1923.2,835.6 1924.2,836.6 1925.1,836.7 1926.0,837.8 1927.0,837.6 1927.9,837.8 1928.8,837.9 1929.8,838.0 1930.7,838.6 1931.6,837.3 1932.6,837.1 1933.5,838.2 1934.4,837.4 1935.4,837.9 1936.3,838.4 1937.2,836.9 1938.2,837.1 1939.1,837.3 1940.0,835.9 1941.0,836.5 1941.9,836.4 1942.8,837.4 1943.8,836.6 1944.7,836.6 1945.6,837.6 1946.6,837.3 1947.5,836.9 1948.4,837.8 1949.4,838.5 1950.3,837.0 1951.2,836.5 1952.2,837.2 1953.1,836.4 1954.1,837.7 1955.0,837.4 1955.9,837.4 1956.9,836.6 1957.8,836.0 1958.7,836.9 1959.7,838.3 1960.6,836.7 1961.5,837.5 1962.5,835.3 1963.4,836.3 1964.3,836.8 1965.3,836.6 1966.2,836.9 1967.1,836.8 1968.1,835.4 1969.0,834.1 1969.9,834.1 1970.9,835.9 1971.5,834.6 1971.8,835.0 1972.7,835.7 1973.7,834.8 1974.6,836.4 1975.5,835.8 1976.5,836.5 1977.4,836.5 1978.3,837.0 1979.3,836.7 1980.2,836.9 1981.1,837.6 1982.1,836.8 1983.0,837.4 1983.9,838.8 1984.9,838.6 1985.8,839.3 1986.7,838.6 1987.7,838.2 1988.6,839.3 1989.5,838.8 1990.5,836.6 1991.4,837.1 1992.3,837.2 1993.3,835.7 1994.2,835.7 1995.1,836.6 1996.1,836.8 1997.0,835.1 1997.9,836.0 1998.9,835.9 1999.8,836.0 2000.8,835.7 2001.7,835.4 2002.6,836.1 2003.6,835.0 2004.5,835.2 2005.4,835.3 2006.4,836.1 2007.3,837.9 2008.2,836.4 2009.2,837.7 2010.1,837.4 2011.0,837.4 2012.0,838.6 2012.9,837.1 2013.8,837.0 2014.8,837.7 2015.7,837.6 2016.6,836.3 2017.6,836.7 2018.5,837.1 2019.4,836.9 2020.4,836.8 2021.3,837.4 2022.2,837.0 2023.2,838.4 2024.1,837.1 2025.0,837.0 2026.0,835.9 2026.9,836.2 2027.8,836.3 2028.8,834.6 2029.7,834.9 2030.6,834.5 2031.6,833.0 2032.5,833.1 2033.4,833.5 2034.4,832.2 2035.3,832.2 2036.2,830.4 2037.2,828.6 2038.1,828.3 2039.0,825.9 2040.0,822.7 2040.9,819.2 2041.8,812.4 2042.8,806.7 2043.7,801.5 2044.6,798.9 2044.6,798.6 2045.6,801.7 2046.5,806.5 2047.5,810.0 2048.4,814.1 2049.3,816.5 2050.3,819.0 2051.2,823.1 2052.1,826.0 2053.1,830.2 2054.0,832.9 2054.9,833.7 2055.9,836.2 2056.8,836.0 2057.7,836.7 2058.7,837.0 2059.6,836.6 2060.5,835.4 2061.5,834.0 2062.4,834.6 2063.3,835.0 2064.3,833.6 2065.2,832.9 2066.1,832.8 2067.1,832.6 2068.0,831.1 2068.9,828.9 2069.9,825.8 2070.8,824.1 2071.7,820.5 2072.7,816.4 2073.6,814.8 2073.7,814.6 2074.5,815.2 2075.5,818.2 2076.4,820.5 2077.3,823.5 2078.3,824.4 2079.2,827.0 2080.1,827.0 2081.1,829.6 2082.0,831.1 2082.9,831.0 2083.9,833.1 2084.8,832.5 2085.7,831.2 2086.7,830.9 2087.6,829.0 2088.5,827.1 2089.5,824.4 2090.4,824.4 2090.5,824.7 2091.3,825.8 2092.3,827.4 2093.2,829.1 2094.2,830.7 2095.1,831.1 2096.0,831.8 2097.0,832.6 2097.9,834.4 2098.8,835.9 2099.8,836.8 2100.7,835.9 2101.6,837.5 2102.6,836.5 2103.5,837.2 2104.4,837.9 2105.4,836.9 2106.3,836.4 2107.2,836.2 2108.2,837.6 2109.1,836.0 2110.0,837.5 2111.0,837.5 2111.9,836.3 2112.8,837.1 2113.8,837.5 2114.7,837.6 2115.6,838.0 2116.6,836.4 2117.5,837.0 2118.4,837.3 2119.4,838.1 2120.3,837.8 2121.2,837.1 2122.2,837.2 2123.1,837.4 2124.0,836.4 2125.0,835.9 2125.9,836.7 2126.8,836.2 2127.8,835.7 2128.7,836.2 2129.6,835.6 2130.6,837.3 2131.5,837.0 2132.4,836.6 2133.4,835.7 2134.3,836.8 2135.2,836.2 2136.2,833.9 2137.1,833.9 2138.0,832.4 2139.0,832.7 2139.9,830.8 2140.9,828.4 2141.8,824.2 2142.7,819.6 2143.7,811.8 2144.6,802.8 2145.5,797.7 2145.6,797.9 2146.5,804.3 2147.4,818.1 2148.3,825.1 2149.3,826.5 2150.2,822.9 2151.1,819.6 2152.1,823.3 2153.0,828.2 2153.9,835.8 2154.9,835.9 2155.8,834.6 2156.7,833.9 2157.7,832.9 2158.6,832.1 2159.5,831.4 2160.5,830.8 2160.5,831.5 2161.4,830.4 2162.3,831.7 2163.3,832.9 2164.2,833.3 2165.1,834.2 2166.1,833.5 2167.0,834.9 2167.9,835.2 2168.9,835.9 2169.8,835.9 2170.7,837.1 2171.7,837.5 2172.6,836.8 2173.5,836.8 2174.5,836.9 2175.4,836.4 2176.3,836.6 2177.3,836.5 2178.2,836.3 2179.1,835.4 2180.1,835.8 2181.0,836.2 2181.9,835.7 2182.9,833.7 2183.8,834.3 2184.7,832.5 2185.7,832.5 2186.6,831.3 2187.6,830.9 2188.5,828.4 2189.4,826.2 2190.4,825.2 2191.0,824.5 2191.3,826.1 2192.2,825.5 2193.2,828.0 2194.1,828.7 2195.0,831.0 2196.0,830.1 2196.9,830.6 2197.8,832.1 2198.8,831.8 2199.7,833.5 2200.6,833.6 2201.6,834.3 2202.5,834.8 2203.4,835.1 2204.4,836.5 2205.3,836.8 2206.2,836.9 2207.2,836.7 2208.1,837.4 2209.0,837.3 2210.0,837.4 2210.9,836.6 2211.8,837.3 2212.8,836.3 2213.7,836.9 2214.6,836.6 2215.6,836.9 2216.5,836.4 2217.4,836.1 2218.4,835.2 2219.3,836.1 2220.2,837.1 2221.2,836.4 2222.1,836.1 2223.0,836.9 2224.0,836.0 2224.9,834.9 2225.8,835.5 2226.8,834.3 2227.7,835.4 2228.6,833.6 2229.6,832.7 2230.5,832.3 2231.4,829.5 2232.4,827.9 2233.3,823.7 2234.3,817.1 2235.2,809.4 2236.1,801.2 2236.7,799.3 2237.1,800.7 2238.0,811.2 2238.9,821.7 2239.9,826.5 2240.8,826.6 2241.7,821.6 2242.7,820.4 2243.6,823.1 2244.5,829.1 2245.5,833.7 2246.4,833.6 2247.3,835.4 2248.3,834.4 2249.2,834.6 2250.1,835.1 2251.1,834.1 2252.0,834.9 2252.9,832.0 2253.9,831.5 2254.8,830.1 2255.7,828.7 2256.0,829.1 2256.7,828.4 2257.6,830.6 2258.5,831.6 2259.5,831.7 2260.4,832.2 2261.3,832.4 2262.3,832.0 2263.2,834.1 2264.1,834.6 2265.1,835.0 2266.0,836.2 2266.9,835.2 2267.9,836.8 2268.8,836.2 2269.7,836.0 2270.7,835.8 2271.6,838.2 2272.5,837.8 2273.5,837.9 2274.4,837.9 2275.3,836.6 2276.3,838.7 2277.2,838.4 2278.1,837.3 2279.1,837.3 2280.0,836.9 2281.0,837.7 2281.9,835.0 2282.8,834.9 2283.8,834.6 2284.0,834.3 2284.7,833.7 2285.6,835.0 2286.6,834.7 2287.5,835.8 2288.4,836.5 2289.4,836.3 2290.3,837.3 2291.2,836.4 2292.2,836.4 2293.1,835.5 2294.0,837.1 2295.0,836.9 2295.9,835.8 2296.8,837.1 2297.8,836.3 2298.7,836.8 2299.6,838.3 2300.6,837.9 2301.5,837.8 2302.4,838.5 2303.4,836.9 2304.3,836.3 2305.2,836.7 2306.2,836.4 2307.1,837.3 2308.0,837.7 2309.0,837.1 2309.9,837.4"/>
<polyline stroke="#0364e3" points="200.0,555.4 200.9,556.5 201.9,556.6 202.8,558.4 203.7,557.9 204.7,557.6 205.6,556.9 206.5,557.5 207.5,558.5 208.4,558.1 209.3,559.5 210.3,558.5 211.2,560.1 212.1,559.9 213.1,558.0 214.0,558.1 214.9,560.9 215.9,560.6 216.8,559.9 217.7,558.7 218.7,559.3 219.6,559.4 220.5,559.7 221.5,559.6 222.4,560.6 223.3,559.5 224.3,557.3 225.2,558.0 226.2,557.9 227.1,557.4 228.0,557.3 229.0,557.4 229.9,556.0 230.8,556.6 231.8,555.4 232.7,557.2 233.6,555.8 234.6,558.0 235.5,559.3 236.4,559.1 237.4,559.5 238.3,558.3 239.2,560.6 240.2,560.6 241.1,558.9 242.0,560.5 243.0,559.0 243.9,559.1 244.8,559.0 245.8,557.6 246.7,558.6 247.6,558.7 248.6,556.9 249.5,557.3 250.4,555.5 251.4,556.2 252.3,555.5 253.2,554.6 254.2,554.5 255.1,554.1 256.0,551.8 257.0,551.8 257.9,552.1 258.8,551.4 259.8,550.4 260.7,551.0 261.6,548.3 262.6,546.2 263.5,544.2 264.4,540.5 265.4,536.8 266.3,531.3 267.2,524.6 268.2,515.6 269.1,502.7 270.0,485.2 271.0,469.1 271.5,464.9 271.9,467.8 272.9,489.2 273.8,518.8 274.7,542.0 275.7,556.4 276.6,561.7 277.5,564.0 278.5,566.1 279.4,565.0 280.3,566.2 281.3,565.0 282.2,565.1 283.1,564.2 284.1,564.9 285.0,564.9 285.9,565.1 286.9,565.1 287.8,566.5 288.7,566.2 289.7,566.1 290.6,566.6 291.5,566.8 292.5,566.8 293.4,567.7 294.3,568.1 295.3,568.0 296.2,566.1 297.1,568.6 298.1,566.8 299.0,567.1 299.9,567.4 300.9,565.0 301.8,564.9 302.7,563.9 303.7,564.2 304.6,564.4 305.5,565.4 306.5,565.1 307.4,565.5 308.3,566.3 309.3,567.1 310.2,567.4 311.1,567.4 312.1,568.2 313.0,568.5 313.9,570.9 314.9,570.0 315.8,569.8 316.7,570.2 317.7,570.6 318.6,569.3 319.6,568.9 320.5,569.7 321.4,569.9 322.4,568.6 323.3,567.7 324.2,567.1 325.2,567.4 326.1,567.2 327.0,567.9 328.0,567.2 328.9,566.6 329.8,565.9 330.8,567.0 331.7,567.1 332.6,566.6 333.6,566.8 334.5,566.1 335.4,567.8 336.4,566.6 337.3,566.7 338.2,567.4 339.2,566.2 340.1,565.6 341.0,567.0 342.0,565.7 342.9,567.2 343.8,566.9 344.8,567.5 345.7,566.5 346.6,564.9 347.6,565.7 348.5,567.2 349.4,567.2 350.4,565.9 351.3,566.4 352.2,566.4 353.2,566.1 354.1,566.6 355.0,567.2 356.0,565.0 356.9,566.4 357.8,565.5 358.8,564.8 359.7,564.6 360.6,564.0 361.6,563.8 362.5,560.3 363.4,559.6 364.4,557.9 365.3,556.1 366.3,553.6 367.2,550.0 368.1,545.5 369.1,539.3 370.0,530.6 370.9,520.4 371.9,512.7 372.0,512.0 372.8,517.0 373.7,530.9 374.7,549.0 375.6,559.7 376.5,565.1 377.5,568.5 378.4,568.5 379.3,569.3 380.3,569.2 381.2,569.2 382.1,568.0 383.1,568.3 384.0,568.4 384.9,567.2 385.9,567.6 386.8,568.3 387.7,568.8 388.7,570.6 389.6,568.6 390.5,568.1 391.5,568.3 392.4,567.5 393.3,567.4 394.3,566.8 395.2,564.7 396.1,564.0 397.1,561.7 398.0,562.3 398.9,560.8 399.9,561.3 400.8,560.1 401.7,557.9 402.7,556.7 403.6,555.8 404.5,554.3 405.5,550.7 406.4,548.1 407.3,545.3 408.3,539.8 409.2,534.9 410.1,529.6 411.1,522.9 412.0,516.1 413.0,507.0 413.9,496.5 414.8,484.0 415.8,468.3 416.7,448.0 417.6,421.6 418.6,384.9 419.5,333.7 420.4,264.4 421.4,186.7 422.3,140.6 422.3,140.6 423.2,185.4 424.2,299.7 425.1,418.5 426.0,500.2 427.0,541.0 427.9,558.8 428.8,565.9 429.8,569.5 430.7,571.3 431.6,571.3 432.6,573.9 433.5,573.5 434.4,573.8 435.4,573.1 436.3,573.8 437.2,574.6 438.2,573.6 439.1,574.8 440.0,576.2 441.0,577.7 441.9,575.7 442.8,576.5 443.8,576.6 444.7,576.8 445.6,577.2 446.6,576.1 447.5,576.6 448.4,576.6 449.4,575.8 450.3,575.5 451.2,577.0 452.2,575.5 453.1,575.2 454.0,575.9 455.0,577.3 455.9,577.4 456.8,575.6 457.8,576.7 458.7,577.9 459.7,576.4 460.6,579.0 461.5,579.5 462.5,577.2 463.4,579.6 464.3,578.2 465.3,579.6 466.2,577.9 467.1,576.8 468.1,576.5 469.0,576.7 469.9,575.0 470.9,574.6 471.8,573.7 472.7,575.1 473.7,574.7 474.6,576.2 475.5,575.4 476.5,575.3 477.4,574.9 478.3,576.8 479.3,577.0 480.2,577.6 481.1,578.6 482.1,578.6 483.0,576.7 483.9,576.3 484.9,577.4 485.8,576.3 486.7,577.6 487.7,575.4 488.6,575.2 489.5,573.8 490.5,574.8 491.4,575.7 492.3,575.8 493.3,575.4 494.2,578.2 495.1,577.5 496.1,577.5 497.0,577.4 497.9,577.4 498.9,579.0 499.8,578.3 500.7,578.2 501.7,577.0 502.6,577.5 503.5,576.3 504.5,576.6 505.4,576.6 506.4,576.2 507.3,576.1 508.2,575.8 509.2,574.8 510.1,577.1 511.0,579.5 512.0,577.5 512.9,578.6 513.8,577.3 514.8,579.2 515.7,578.9 516.6,579.8 517.6,578.9 518.5,577.6 519.4,578.3 520.4,577.6 521.3,576.9 522.2,577.2 523.2,576.3 524.1,576.9 525.0,577.3 526.0,576.8 526.9,577.0 527.8,576.4 528.8,578.0 529.7,575.7 530.6,578.1 531.6,576.4 532.5,575.4 533.4,574.4 534.4,575.8 535.3,575.9 536.2,575.8 537.2,576.6 538.1,576.3 539.0,576.7 540.0,578.3 540.9,579.8 541.8,578.8 542.8,579.1 543.7,578.5 544.6,578.3 545.6,578.1 546.5,576.0 547.4,576.6 548.4,576.4 549.3,576.4 550.2,577.5 551.2,576.4 552.1,576.8 553.1,577.9 554.0,575.9 554.9,576.3 555.9,576.2 556.8,575.3 557.7,575.3 558.7,574.3 559.6,574.6 560.5,572.6 561.5,571.8 562.4,572.7 563.3,572.3 564.3,571.5 565.2,572.1 566.1,572.0 567.1,571.6 568.0,572.1 568.9,570.8 569.9,571.7 570.8,570.4 571.7,568.9 572.7,568.1 573.6,567.9 574.5,566.2 575.5,565.7 576.4,563.6 577.3,563.2 578.3,562.0 579.2,559.8 580.1,560.2 581.1,556.9 582.0,556.1 582.9,553.7 583.9,548.8 584.8,545.7 585.7,540.2 586.7,535.0 587.6,528.3 588.5,521.0 589.5,510.7 590.4,497.0 591.3,479.2 592.3,454.0 593.2,418.2 594.1,368.4 595.1,310.1 596.0,269.2 596.2,267.8 596.9,287.1 597.9,351.7 598.8,433.3 599.8,498.3 600.7,535.0 601.6,553.1 602.6,557.5 603.5,559.3 604.4,558.6 605.4,554.9 606.3,553.5 606.5,553.7 607.2,553.9 608.2,555.2 609.1,556.7 610.0,557.3 611.0,556.0 611.9,553.5 612.8,549.1 613.8,543.5 614.7,535.7 615.6,528.5 616.5,526.6 616.6,525.6 617.5,529.1 618.4,536.4 619.4,547.0 620.3,556.2 621.2,564.4 622.2,569.9 623.1,571.5 624.0,574.8 625.0,574.5 625.9,574.8 626.8,574.9 627.8,576.5 628.7,576.4 629.6,574.2 630.6,575.3 631.5,575.1 632.4,574.3 633.4,573.1 634.3,572.9 635.2,572.8 636.2,572.0 637.1,570.8 638.0,572.2 639.0,569.8 639.9,569.9 640.8,570.7 641.8,569.7 642.7,568.5 643.6,567.2 644.6,566.6 645.5,563.5 646.5,558.9 647.4,555.7 648.3,548.4 649.3,540.8 650.2,532.8 651.1,524.7 652.0,521.2 652.1,521.0 653.0,524.7 653.9,533.8 654.9,543.8 655.8,554.3 656.7,563.1 657.7,568.8 658.6,570.9 659.5,571.7 660.5,573.7 661.4,572.7 662.3,573.0 663.3,573.3 664.2,572.6 665.1,572.7 666.1,572.2 667.0,571.3 667.9,570.7 668.9,568.8 669.8,567.6 670.7,565.6 671.7,562.5 672.6,558.0 673.5,555.2 674.5,551.3 675.4,544.8 676.3,537.5 677.3,525.6 678.2,508.1 679.1,484.5 680.1,455.1 681.0,432.7 681.3,430.8 681.9,438.4 682.9,468.2 683.8,507.6 684.7,540.8 685.7,561.6 686.6,570.0 687.5,576.5 688.5,577.2 689.4,578.0 690.3,578.5 691.3,578.9 692.2,579.5 693.2,579.4 694.1,578.1 695.0,579.3 696.0,580.0 696.9,578.7 697.8,580.2 698.8,582.0 699.7,581.3 700.6,580.4 701.6,579.7 702.5,580.3 703.4,580.8 704.4,581.1 705.3,580.7 706.2,579.5 707.2,579.8 708.1,579.0 709.0,580.9 710.0,579.3 710.9,578.7 711.8,578.2 712.8,577.8 713.7,577.9 714.6,577.1 715.6,576.6 716.5,578.7 717.4,577.5 718.4,577.9 719.3,578.3 720.2,579.7 721.2,580.3 722.1,582.2 723.0,581.3 724.0,582.2 724.9,581.1 725.8,581.5 726.8,579.9 727.7,580.7 728.6,581.2 729.6,580.1 730.5,581.2 731.4,581.3 732.4,580.9 733.3,581.3 734.2,582.7 735.2,582.3 736.1,582.8 737.0,583.1 738.0,584.0 738.9,583.4 739.9,582.3 740.8,582.5 741.7,583.3 742.7,581.0 743.6,580.1 744.5,579.6 745.5,581.3 746.4,579.0 747.3,580.5 748.3,581.9 749.2,580.6 750.1,580.9 751.1,581.3 752.0,583.2 752.9,581.2 753.9,582.4 754.8,582.8 755.7,582.4 756.7,581.8 757.6,581.8 758.5,580.7 759.5,580.5 760.4,579.8 761.3,579.7 762.3,579.1 763.2,579.6 764.1,579.2 765.1,579.7 766.0,578.7 766.9,579.3 767.9,579.4 768.8,579.0 769.7,579.6 770.7,579.0 771.6,578.5 772.5,578.7 773.5,578.1 774.4,576.4 775.3,575.0 776.3,574.6 777.2,572.1 778.1,571.5 779.0,571.6 779.1,572.8 780.0,573.2 780.9,571.7 781.9,573.7 782.8,575.0 783.7,575.4 784.7,577.2 785.6,576.8 786.6,575.3 787.5,574.6 788.4,571.2 789.4,569.6 790.0,568.5 790.3,567.5 791.2,569.6 792.2,570.6 793.1,573.1 794.0,576.3 795.0,577.6 795.9,580.7 796.8,580.0 797.8,579.6 798.7,580.7 799.6,581.3 800.6,581.1 801.5,580.3 802.4,580.5 803.4,581.4 804.3,581.5 805.2,581.0 806.2,581.8 807.1,582.4 808.0,582.3 809.0,581.7 809.9,582.6 810.8,583.0 811.8,582.1 812.7,581.1 813.6,582.4 814.6,582.2 815.5,581.8 816.4,578.6 817.4,577.9 818.3,574.8 819.2,573.3 820.2,573.0 821.0,571.1 821.1,570.9 822.0,572.1 823.0,573.8 823.9,575.8 824.8,578.1 825.8,580.7 826.7,582.7 827.6,584.1 828.6,583.7 829.5,583.8 830.4,583.7 831.4,583.9 832.3,583.7 833.3,583.0 834.2,582.3 835.1,582.5 836.1,581.7 837.0,581.7 837.9,582.2 838.9,582.3 839.8,583.7 840.7,583.6 841.7,583.1 842.6,584.0 843.5,583.5 844.5,583.9 845.4,582.2 846.3,582.8 847.3,581.8 848.2,580.8 849.1,580.3 850.1,579.5 851.0,577.8 851.9,577.3 852.9,576.7 853.8,576.3 854.7,576.3 855.7,575.6 856.6,575.2 857.5,577.1 858.5,577.0 859.4,576.1 860.3,574.8 861.3,574.2 862.2,573.9 863.1,572.8 864.1,572.2 865.0,569.2 865.9,566.4 866.9,562.1 867.8,559.6 868.7,557.3 869.0,556.7 869.7,557.2 870.6,557.4 871.5,558.1 872.5,557.7 873.4,557.8 874.3,556.9 875.3,553.1 876.2,549.0 877.1,543.7 878.1,534.9 879.0,522.5 880.0,505.2 880.9,479.0 881.8,440.1 882.8,388.0 883.7,338.2 884.3,323.6 884.6,328.1 885.6,374.9 886.5,433.0 887.4,490.0 888.4,535.8 889.3,562.3 890.2,572.7 891.2,576.6 892.1,576.9 893.0,578.7 894.0,578.7 894.9,577.9 895.8,578.4 896.8,577.5 897.7,576.8 898.6,577.1 899.0,576.7 899.6,577.6 900.5,578.2 901.4,579.9 902.4,580.5 903.3,580.6 904.2,581.5 905.2,583.1 906.1,581.9 907.0,583.2 908.0,582.4 908.9,582.6 909.8,582.2 910.8,583.2 911.7,583.1 912.6,582.0 913.6,582.1 914.5,582.8 915.4,582.3 916.4,581.3 917.3,580.6 918.2,581.4 919.2,579.8 920.1,582.2 921.0,580.9 922.0,581.8 922.9,583.2 923.8,582.5 924.8,581.3 925.7,582.2 926.7,580.6 927.6,581.8 928.5,581.9 929.5,582.0 930.4,582.0 931.3,582.6 932.3,582.6 933.2,583.0 934.1,583.9 935.1,585.1 936.0,585.2 936.9,583.9 937.9,584.3 938.8,584.3 939.7,584.5 940.7,583.6 941.6,584.4 942.5,583.6 943.5,583.1 944.4,582.3 945.3,581.8 946.3,580.9 947.2,579.4 948.1,577.1 949.1,576.5 950.0,573.9 950.9,573.0 951.0,573.6 951.9,573.4 952.8,574.5 953.7,574.6 954.7,575.5 955.6,575.3 956.5,576.3 957.5,577.2 958.4,577.1 959.3,577.5 960.3,577.9 961.2,577.8 962.1,578.2 963.1,576.4 964.0,576.1 964.9,574.5 965.9,572.5 966.8,570.0 967.7,566.2 968.7,565.8 968.8,565.9 969.6,566.1 970.5,567.8 971.5,570.6 972.4,574.9 973.4,576.4 974.3,577.6 975.2,580.7 976.2,579.5 977.1,580.6 978.0,579.6 979.0,579.0 979.9,578.0 980.8,579.5 981.8,577.9 982.7,577.5 983.6,577.0 984.6,575.6 985.5,576.0 986.4,576.9 987.4,577.6 988.3,576.4 989.2,576.5 990.2,575.7 991.1,575.4 992.0,572.8 993.0,574.4 993.9,571.8 994.8,570.4 995.8,566.6 996.7,566.4 997.6,564.1 998.6,561.2 999.5,556.2 1000.4,551.1 1001.4,545.1 1002.3,536.8 1003.2,525.4 1004.2,510.3 1005.1,488.5 1006.0,456.8 1007.0,408.8 1007.9,336.8 1008.8,237.5 1009.8,136.2 1010.5,98.4 1010.7,102.9 1011.6,195.4 1012.6,301.7 1013.5,384.4 1014.4,472.4 1015.4,533.9 1016.3,561.2 1017.2,569.5 1018.2,571.4 1019.1,572.9 1020.1,574.8 1021.0,577.6 1021.9,577.6 1022.9,578.4 1023.8,578.7 1024.7,578.8 1025.7,579.0 1026.6,579.7 1027.5,580.5 1028.5,580.9 1029.4,580.4 1030.3,581.6 1031.3,581.4 1032.2,581.2 1033.1,579.8 1034.1,579.8 1035.0,578.6 1035.9,576.8 1036.9,576.0 1037.8,577.6 1038.7,575.5 1039.7,574.3 1040.6,573.7 1041.5,572.7 1042.5,570.8 1043.4,569.6 1044.3,568.4 1045.3,565.6 1046.2,561.8 1047.1,557.7 1048.1,552.7 1049.0,544.2 1049.9,536.6 1050.9,527.2 1051.8,517.6 1052.7,509.6 1053.7,505.7 1054.0,505.2 1054.6,505.9 1055.5,510.8 1056.5,519.6 1057.4,529.9 1058.3,541.0 1059.3,549.6 1060.2,558.4 1061.1,564.3 1062.1,567.5 1063.0,570.8 1063.9,572.8 1064.9,572.5 1065.8,571.3 1066.8,569.3 1067.7,569.9 1068.6,568.3 1069.6,565.6 1070.5,562.8 1071.4,556.7 1072.4,550.6 1073.3,542.6 1074.2,536.1 1075.2,532.8 1075.4,532.7 1076.1,533.7 1077.0,537.8 1078.0,544.7 1078.9,553.5 1079.8,560.0 1080.8,567.2 1081.7,572.1 1082.6,574.5 1083.6,577.4 1084.5,579.0 1085.4,579.4 1086.4,580.2 1087.3,580.5 1088.2,581.3 1089.2,580.9 1090.1,581.3 1091.0,580.0 1092.0,578.7 1092.9,578.4 1093.8,578.1 1094.8,577.6 1095.7,578.3 1096.6,578.4 1097.6,578.0 1098.5,576.0 1099.4,576.7 1100.4,578.9 1101.3,578.6 1102.2,579.3 1103.2,579.0 1104.1,580.4 1105.0,578.8 1106.0,578.5 1106.9,579.7 1107.8,580.5 1108.8,581.0 1109.7,580.8 1110.6,580.3 1111.6,579.3 1112.5,579.5 1113.5,578.6 1114.4,578.9 1114.5,578.5 1115.3,578.4 1116.3,578.0 1117.2,578.1 1118.1,578.2 1119.1,579.4 1120.0,579.3 1120.9,580.2 1121.9,578.1 1122.8,580.6 1123.7,580.2 1124.7,580.7 1125.6,580.5 1126.5,580.3 1127.5,579.7 1128.4,580.8 1129.3,579.5 1130.3,579.6 1131.2,579.1 1132.1,577.7 1132.5,577.1 1133.1,576.3 1134.0,577.2 1134.9,576.1 1135.9,575.7 1136.8,575.5 1137.7,573.7 1138.7,574.7 1139.6,572.6 1140.5,573.3 1141.5,572.7 1142.4,570.3 1143.3,570.2 1144.3,569.0 1145.2,567.7 1146.1,565.0 1147.1,562.1 1148.0,558.5 1148.9,556.2 1149.5,555.6 1149.9,554.9 1150.8,553.7 1151.7,554.2 1152.7,555.4 1153.6,556.8 1154.5,555.9 1155.5,554.0 1156.4,551.9 1157.3,547.0 1158.3,540.4 1159.2,531.5 1160.2,519.6 1161.1,502.4 1162.0,478.1 1163.0,442.6 1163.9,388.9 1164.8,308.6 1165.8,199.9 1166.7,95.7 1167.3,65.6 1167.6,77.2 1168.6,188.9 1169.5,293.6 1170.4,355.2 1171.4,436.1 1172.3,513.9 1173.2,555.9 1174.2,569.4 1175.1,574.0 1176.0,574.8 1177.0,575.5 1177.9,574.8 1178.8,575.1 1179.8,573.6 1180.7,573.8 1181.6,573.9 1182.6,573.5 1183.5,573.1 1184.4,572.3 1185.4,571.3 1186.3,570.0 1187.2,567.5 1188.2,563.9 1189.1,560.2 1190.0,555.1 1191.0,546.6 1191.9,535.5 1192.8,518.9 1193.8,494.6 1194.7,457.6 1195.6,405.1 1196.6,345.9 1197.5,314.5 1197.5,314.5 1198.4,357.1 1199.4,419.9 1200.3,456.2 1201.2,490.2 1202.2,535.0 1203.1,565.5 1204.0,576.6 1205.0,581.9 1205.9,582.6 1206.9,583.2 1207.8,583.9 1208.7,583.8 1209.7,583.2 1210.6,584.8 1211.5,584.7 1212.5,584.4 1213.4,584.5 1214.3,585.2 1215.3,584.8 1216.2,584.1 1217.1,582.6 1218.1,583.2 1219.0,582.1 1219.9,580.6 1220.9,581.9 1221.8,580.7 1222.7,580.6 1223.7,579.8 1224.6,580.5 1225.5,580.9 1226.5,578.9 1227.4,578.9 1228.3,577.6 1229.3,577.2 1230.2,575.5 1231.1,572.9 1232.1,568.4 1233.0,563.6 1233.9,559.7 1234.9,555.7 1235.8,554.5 1235.8,553.6 1236.7,554.4 1237.7,557.1 1238.6,561.1 1239.5,564.6 1240.5,568.8 1241.4,571.3 1242.3,575.5 1243.3,575.8 1244.2,576.8 1245.1,575.9 1246.1,576.3 1247.0,573.8 1247.9,573.6 1248.9,569.9 1249.8,566.4 1250.7,561.5 1251.7,556.1 1252.6,547.4 1253.6,536.0 1254.5,518.9 1255.4,493.6 1256.4,457.1 1257.3,411.3 1258.2,375.6 1258.5,371.4 1259.2,385.0 1260.1,426.7 1261.0,448.4 1262.0,452.0 1262.9,463.3 1263.8,473.5 1264.3,476.7 1264.8,480.9 1265.7,490.1 1266.6,486.0 1267.6,466.3 1268.5,440.3 1269.4,417.6 1270.0,413.5 1270.4,420.2 1271.3,461.1 1272.2,494.9 1273.2,510.9 1274.1,530.9 1275.0,556.9 1276.0,573.8 1276.9,580.4 1277.8,583.3 1278.8,583.0 1279.7,584.0 1280.6,582.3 1281.6,582.0 1282.5,582.3 1283.4,581.7 1284.4,580.8 1285.3,579.2 1286.2,577.0 1287.2,573.8 1288.1,569.7 1289.0,566.4 1290.0,564.0 1290.9,563.2 1291.0,563.5 1291.8,565.0 1292.8,566.5 1293.7,569.6 1294.6,574.8 1295.6,579.3 1296.5,582.6 1297.4,584.4 1298.4,587.4 1299.3,588.2 1300.3,588.0 1301.2,587.8 1302.1,589.2 1303.1,586.2 1304.0,587.4 1304.9,586.8 1305.9,586.8 1306.8,584.7 1307.7,582.7 1308.7,582.3 1309.6,579.5 1310.5,578.2 1311.5,574.5 1312.4,570.0 1313.3,567.1 1314.3,565.7 1314.3,565.1 1315.2,567.5 1316.1,570.2 1317.1,574.0 1318.0,578.0 1318.9,582.2 1319.9,584.6 1320.8,586.3 1321.7,587.8 1322.7,589.3 1323.6,589.4 1324.5,588.7 1325.5,590.3 1326.4,589.2 1327.3,590.4 1328.3,589.2 1329.2,589.2 1330.1,589.5 1331.1,589.8 1332.0,589.6 1332.9,590.2 1333.9,589.9 1334.8,591.4 1335.7,590.9 1336.7,589.7 1337.6,590.2 1338.5,590.7 1339.5,590.1 1340.4,589.7 1341.3,591.3 1342.3,589.5 1343.2,590.6 1344.1,591.7 1345.1,589.1 1346.0,590.5 1347.0,591.4 1347.9,590.9 1348.8,590.2 1349.8,588.7 1350.7,587.5 1351.6,587.5 1352.6,587.8 1353.5,587.9 1354.4,588.1 1355.4,587.6 1356.3,587.6 1357.2,585.7 1358.2,586.8 1359.1,587.4 1360.0,588.3 1361.0,588.5 1361.9,587.1 1362.8,589.2 1363.8,590.3 1364.7,591.5 1365.6,590.7 1366.6,591.4 1367.5,590.7 1368.4,589.1 1369.4,588.7 1370.3,588.7 1371.2,589.6 1372.2,587.8 1373.1,586.3 1374.0,587.8 1375.0,587.7 1375.9,587.9 1376.8,588.0 1377.8,588.7 1378.7,586.7 1379.6,584.8 1380.6,585.0 1381.5,585.9 1382.4,584.8 1383.4,582.8 1384.3,582.6 1385.2,580.5 1386.2,578.4 1387.1,575.7 1388.0,571.7 1389.0,567.6 1389.9,562.3 1390.8,559.6 1391.5,559.3 1391.8,559.9 1392.7,562.0 1393.7,564.8 1394.6,568.8 1395.5,572.5 1396.5,576.3 1397.4,581.2 1398.3,582.0 1399.3,584.2 1400.2,583.7 1401.1,583.1 1402.1,582.6 1403.0,581.0 1403.9,579.5 1404.9,579.0 1405.8,576.5 1406.7,573.3 1407.7,568.4 1408.6,562.9 1409.5,554.5 1410.5,541.6 1411.4,521.3 1412.3,498.9 1413.3,486.0 1413.3,486.0 1414.2,502.1 1415.1,528.5 1416.1,540.4 1417.0,545.4 1417.9,557.7 1418.9,572.8 1419.8,583.1 1420.7,587.3 1421.7,589.0 1422.6,587.7 1423.5,589.0 1424.5,590.6 1425.4,591.6 1426.3,590.8 1427.3,591.0 1428.2,592.2 1429.1,590.6 1430.1,590.7 1431.0,590.9 1431.9,589.9 1432.9,587.6 1433.8,589.4 1434.7,588.9 1435.7,588.2 1436.6,586.8 1437.5,585.5 1438.5,587.6 1439.4,587.0 1440.4,586.8 1441.3,586.6 1442.2,586.5 1443.2,587.3 1444.1,589.4 1445.0,588.9 1446.0,588.4 1446.9,588.2 1447.8,589.0 1448.8,589.0 1449.7,588.6 1450.6,588.7 1451.6,588.5 1452.5,587.1 1453.4,587.5 1454.4,587.6 1455.3,588.1 1456.2,588.1 1457.2,587.9 1458.1,587.6 1459.0,589.2 1460.0,588.8 1460.9,587.6 1461.8,588.1 1462.8,587.9 1463.7,586.6 1464.6,588.6 1465.6,589.5 1466.5,589.1 1467.4,589.2 1468.4,590.3 1469.3,589.9 1470.2,590.6 1471.2,591.4 1472.1,591.8 1473.0,591.5 1474.0,590.4 1474.9,590.5 1475.8,591.1 1476.8,591.4 1477.7,591.5 1478.6,591.3 1479.6,592.1 1480.5,591.8 1481.4,593.7 1482.4,592.2 1483.3,590.6 1484.2,590.7 1485.2,590.5 1486.1,589.9 1487.1,589.6 1488.0,589.6 1488.9,589.4 1489.9,589.8 1490.8,591.5 1491.7,590.4 1492.7,590.5 1493.6,590.9 1494.5,591.5 1495.5,591.5 1496.4,591.6 1497.3,590.5 1498.3,590.1 1499.2,590.3 1500.1,589.8 1501.1,590.0 1502.0,590.6 1502.9,588.8 1503.9,590.8 1504.8,589.6 1505.7,588.3 1506.7,589.2 1507.6,588.1 1508.5,586.8 1509.5,584.8 1510.4,583.4 1511.3,582.5 1512.0,580.7 1512.3,581.1 1513.2,581.4 1514.1,582.1 1515.1,582.4 1516.0,582.4 1516.9,582.2 1517.9,583.1 1518.8,584.5 1519.7,585.3 1520.7,585.3 1521.6,585.0 1522.5,584.1 1523.5,582.6 1524.4,582.9 1525.3,581.7 1526.3,580.9 1526.5,579.9 1527.2,580.5 1528.1,579.8 1529.1,581.1 1530.0,582.9 1530.9,582.3 1531.9,582.6 1532.8,584.9 1533.8,587.6 1534.7,588.7 1535.6,589.2 1536.6,590.0 1537.5,589.2 1538.4,589.4 1539.4,589.2 1540.3,591.3 1541.2,591.0 1542.2,590.8 1543.1,590.1 1544.0,590.5 1545.0,590.6 1545.9,590.3 1546.8,590.8 1547.8,588.9 1548.7,588.4 1549.6,588.3 1550.6,588.9 1551.5,588.8 1552.4,587.7 1553.4,588.0 1554.3,587.9 1555.2,586.8 1556.2,587.9 1557.1,587.1 1558.0,588.7 1559.0,587.7 1559.9,587.6 1560.8,587.8 1561.8,585.1 1562.7,584.2 1563.0,584.1 1563.6,582.4 1564.6,585.2 1565.5,585.7 1566.4,586.8 1567.4,586.2 1568.3,586.6 1569.2,587.6 1570.2,587.1 1571.1,586.9 1572.0,587.2 1573.0,586.4 1573.9,586.4 1574.8,587.3 1575.8,586.0 1576.7,587.8 1577.6,587.1 1578.6,587.9 1579.5,587.5 1580.5,586.7 1581.4,587.7 1582.3,586.4 1583.3,585.8 1584.2,584.1 1585.1,584.1 1586.1,583.6 1587.0,582.9 1587.0,583.3 1587.9,582.5 1588.9,583.9 1589.8,584.5 1590.7,585.6 1591.7,585.4 1592.6,585.9 1593.5,586.4 1594.5,587.8 1595.4,586.5 1596.3,587.4 1597.3,588.6 1598.2,588.4 1599.1,588.5 1600.1,588.0 1601.0,587.8 1601.9,588.1 1602.9,587.2 1603.8,587.0 1604.7,586.1 1605.7,585.0 1606.6,585.2 1607.5,582.4 1608.5,579.5 1609.4,577.6 1610.3,573.2 1611.3,570.2 1612.2,568.5 1612.3,568.6 1613.1,569.4 1614.1,571.7 1615.0,574.2 1615.9,576.5 1616.9,579.0 1617.8,581.4 1618.7,583.3 1619.7,586.3 1620.6,587.5 1621.5,589.0 1622.5,588.3 1623.4,587.4 1624.3,587.8 1625.3,587.3 1626.2,587.6 1627.2,585.1 1628.1,585.0 1629.0,584.7 1630.0,584.4 1630.9,583.4 1631.8,581.3 1632.8,578.5 1633.7,575.7 1634.6,570.7 1635.6,562.0 1636.5,549.0 1637.4,535.7 1638.3,528.9 1638.4,529.0 1639.3,541.7 1640.2,558.7 1641.2,565.4 1642.1,565.3 1643.0,568.5 1644.0,578.3 1644.9,586.3 1645.8,591.0 1646.8,591.6 1647.7,591.7 1648.6,591.9 1649.6,592.7 1650.5,592.1 1651.4,591.7 1652.4,593.4 1653.3,593.0 1654.2,592.4 1655.2,592.1 1656.1,592.3 1657.0,591.1 1658.0,592.0 1658.9,592.1 1659.8,591.6 1660.8,591.6 1661.7,590.7 1662.6,590.9 1663.6,589.3 1664.5,589.9 1665.4,589.2 1666.4,588.3 1667.3,588.2 1668.2,588.4 1669.2,587.5 1670.1,587.4 1671.0,585.5 1672.0,584.9 1672.9,582.7 1673.9,579.0 1674.8,576.4 1675.7,571.4 1676.7,569.9 1677.0,569.5 1677.6,570.3 1678.5,571.2 1679.5,574.0 1680.4,576.4 1681.3,579.3 1682.3,581.9 1683.2,584.4 1684.1,586.6 1685.1,588.0 1686.0,588.6 1686.9,589.5 1687.9,589.8 1688.8,589.9 1689.7,588.5 1690.7,588.4 1691.6,585.7 1692.5,585.1 1693.5,581.8 1694.4,580.7 1695.3,579.2 1695.5,579.2 1696.3,579.8 1697.2,581.9 1698.1,582.2 1699.1,584.3 1700.0,585.5 1700.9,587.2 1701.9,588.8 1702.8,590.3 1703.7,590.2 1704.7,591.7 1705.6,592.5 1706.5,592.3 1707.5,592.9 1708.4,592.1 1709.3,593.2 1710.3,592.2 1711.2,592.3 1712.1,592.9 1713.1,593.0 1714.0,592.0 1714.9,592.0 1715.9,592.9 1716.8,590.7 1717.7,593.2 1718.7,593.4 1719.6,592.1 1720.6,593.8 1721.5,593.5 1722.4,593.7 1723.4,592.3 1724.3,593.6 1725.2,593.9 1726.2,593.8 1727.1,593.9 1728.0,594.1 1729.0,592.6 1729.9,594.1 1730.8,593.7 1731.8,593.8 1732.7,593.4 1733.6,593.6 1734.6,593.8 1735.5,594.6 1736.4,592.9 1737.4,594.2 1738.3,593.1 1739.2,592.7 1740.2,592.5 1741.1,593.9 1742.0,592.4 1743.0,593.8 1743.9,593.5 1744.8,593.0 1745.8,592.9 1746.7,593.5 1747.6,593.2 1748.6,593.4 1749.5,592.8 1750.4,592.2 1751.4,592.7 1752.3,591.3 1753.2,592.0 1754.2,591.2 1755.1,590.0 1756.0,589.4 1757.0,589.1 1757.9,587.7 1758.6,589.5 1758.8,589.3 1759.8,588.4 1760.7,589.5 1761.6,591.0 1762.6,590.6 1763.5,590.2 1764.4,589.8 1765.4,590.5 1766.3,592.6 1767.3,592.4 1768.2,591.6 1769.1,593.0 1770.1,592.4 1771.0,592.2 1771.9,592.3 1772.9,592.3 1773.8,593.6 1774.7,591.9 1775.7,592.1 1776.6,593.2 1777.5,593.2 1778.5,591.8 1779.4,593.7 1780.3,593.1 1781.3,591.7 1782.2,593.8 1783.1,591.9 1784.1,593.2 1785.0,592.2 1785.9,591.8 1786.9,593.4 1787.8,593.1 1788.7,592.7 1789.7,592.8 1790.6,592.4 1791.5,592.3 1792.5,591.7 1793.4,592.6 1794.3,592.2 1795.3,591.9 1796.2,591.5 1797.1,591.4 1798.1,590.3 1799.0,590.7 1799.9,589.7 1800.9,590.3 1801.8,588.1 1802.7,588.0 1803.0,588.4 1803.7,589.1 1804.6,589.4 1805.5,589.6 1806.5,591.2 1807.4,590.1 1808.3,590.6 1809.3,592.4 1810.2,590.5 1811.1,591.7 1812.1,591.4 1813.0,590.2 1814.0,590.5 1814.9,591.0 1815.8,589.1 1816.8,589.1 1817.7,588.9 1818.6,587.0 1819.6,586.2 1820.5,585.3 1820.5,585.0 1821.4,585.3 1822.4,586.0 1823.3,587.3 1824.2,587.7 1825.2,589.4 1826.1,589.4 1827.0,590.1 1828.0,592.0 1828.9,591.4 1829.8,591.6 1830.8,592.5 1831.7,592.1 1832.6,593.2 1833.6,593.8 1834.5,593.4 1835.4,592.8 1836.4,593.0 1837.3,593.4 1838.2,593.7 1839.2,592.6 1840.1,592.4 1841.0,593.1 1842.0,592.5 1842.9,592.3 1843.8,592.3 1844.8,591.3 1845.7,591.4 1846.6,592.1 1847.6,591.4 1848.5,591.2 1849.4,591.4 1850.4,591.4 1851.3,592.5 1852.2,590.4 1853.2,590.9 1854.1,591.9 1855.0,590.5 1856.0,590.5 1856.9,589.2 1857.8,590.4 1858.8,589.8 1859.7,589.3 1860.7,587.8 1861.6,587.1 1862.5,585.3 1863.5,584.0 1864.4,581.8 1865.3,581.5 1865.5,580.3 1866.3,581.5 1867.2,581.4 1868.1,584.4 1869.1,586.1 1870.0,586.6 1870.9,589.3 1871.9,588.6 1872.8,590.2 1873.7,591.0 1874.7,592.0 1875.6,592.5 1876.5,592.2 1877.5,592.5 1878.4,594.2 1879.3,592.8 1880.3,593.4 1881.2,592.0 1882.1,592.6 1883.1,592.9 1884.0,592.4 1884.9,592.1 1885.9,592.4 1886.8,592.6 1887.7,593.2 1888.7,593.3 1889.6,591.9 1890.5,591.5 1891.5,592.7 1892.4,592.8 1893.3,593.2 1894.3,593.2 1895.2,592.0 1896.1,593.5 1897.1,592.3 1898.0,590.8 1898.9,592.0 1899.9,591.1 1900.8,590.5 1901.7,588.7 1902.7,588.5 1903.6,587.9 1904.5,587.4 1904.5,587.8 1905.5,588.3 1906.4,588.9 1907.4,589.1 1908.3,588.6 1909.2,589.9 1910.2,589.2 1911.1,589.9 1912.0,589.4 1913.0,588.8 1913.9,588.2 1914.8,589.2 1915.8,587.9 1916.7,587.6 1917.5,587.9 1917.6,586.4 1918.6,586.5 1919.5,588.1 1920.4,588.7 1921.4,588.5 1922.3,588.7 1923.2,588.4 1924.2,589.8 1925.1,590.0 1926.0,591.2 1927.0,591.8 1927.9,591.3 1928.8,592.0 1929.8,592.0 1930.7,592.2 1931.6,592.8 1932.6,592.3 1933.5,592.5 1934.4,592.7 1935.4,592.1 1936.3,592.3 1937.2,592.6 1938.2,593.2 1939.1,593.5 1940.0,594.2 1941.0,592.3 1941.9,593.0 1942.8,592.0 1943.8,592.8 1944.7,592.2 1945.6,594.0 1946.6,593.7 1947.5,592.6 1948.4,593.5 1949.4,593.7 1950.3,594.4 1951.2,593.8 1952.2,593.4 1953.1,593.1 1954.1,593.6 1955.0,593.5 1955.9,593.0 1956.9,592.6 1957.8,593.8 1958.7,592.6 1959.7,592.7 1960.6,593.3 1961.5,592.7 1962.5,593.2 1963.4,591.6 1964.3,592.5 1965.3,591.0 1966.2,590.7 1967.1,590.6 1968.1,590.8 1969.0,589.8 1969.9,588.9 1970.9,590.0 1971.5,588.6 1971.8,589.3 1972.7,589.8 1973.7,589.6 1974.6,590.4 1975.5,590.8 1976.5,590.5 1977.4,591.4 1978.3,590.7 1979.3,590.8 1980.2,591.8 1981.1,591.2 1982.1,592.1 1983.0,591.9 1983.9,591.7 1984.9,592.4 1985.8,592.4 1986.7,590.4 1987.7,592.0 1988.6,592.3 1989.5,592.6 1990.5,592.1 1991.4,591.8 1992.3,592.6 1993.3,593.0 1994.2,591.3 1995.1,591.7 1996.1,592.1 1997.0,590.9 1997.9,592.0 1998.9,592.7 1999.8,591.5 2000.8,592.1 2001.7,591.4 2002.6,592.1 2003.6,592.3 2004.5,592.6 2005.4,591.9 2006.4,592.5 2007.3,592.2 2008.2,591.8 2009.2,592.9 2010.1,591.8 2011.0,592.2 2012.0,593.7 2012.9,592.6 2013.8,591.5 2014.8,592.1 2015.7,591.6 2016.6,591.6 2017.6,590.7 2018.5,591.5 2019.4,590.3 2020.4,591.3 2021.3,591.2 2022.2,591.4 2023.2,592.1 2024.1,589.6 2025.0,589.7 2026.0,589.5 2026.9,589.6 2027.8,590.3 2028.8,589.4 2029.7,589.1 2030.6,588.6 2031.6,588.6 2032.5,588.4 2033.4,588.3 2034.4,587.0 2035.3,587.1 2036.2,586.6 2037.2,585.2 2038.1,582.6 2039.0,581.6 2040.0,578.6 2040.9,574.3 2041.8,568.4 2042.8,562.2 2043.7,557.5 2044.6,555.1 2044.6,555.0 2045.6,557.8 2046.5,562.2 2047.5,566.4 2048.4,569.9 2049.3,571.9 2050.3,573.2 2051.2,577.6 2052.1,580.7 2053.1,584.2 2054.0,587.5 2054.9,588.6 2055.9,590.4 2056.8,590.1 2057.7,590.0 2058.7,589.9 2059.6,590.2 2060.5,589.2 2061.5,590.0 2062.4,589.7 2063.3,589.1 2064.3,587.7 2065.2,587.0 2066.1,588.0 2067.1,586.1 2068.0,586.3 2068.9,583.3 2069.9,581.6 2070.8,577.5 2071.7,574.3 2072.7,571.2 2073.6,570.1 2073.7,570.6 2074.5,571.1 2075.5,572.3 2076.4,575.7 2077.3,577.5 2078.3,578.4 2079.2,580.2 2080.1,582.1 2081.1,582.7 2082.0,585.3 2082.9,586.7 2083.9,586.0 2084.8,587.6 2085.7,587.0 2086.7,585.0 2087.6,584.1 2088.5,581.1 2089.5,579.5 2090.4,578.2 2090.5,577.3 2091.3,578.5 2092.3,579.9 2093.2,581.4 2094.2,582.3 2095.1,583.4 2096.0,583.8 2097.0,586.5 2097.9,586.1 2098.8,588.8 2099.8,589.6 2100.7,590.2 2101.6,592.1 2102.6,591.6 2103.5,593.0 2104.4,592.4 2105.4,592.8 2106.3,592.6 2107.2,593.1 2108.2,593.3 2109.1,592.4 2110.0,592.6 2111.0,593.6 2111.9,592.2 2112.8,593.7 2113.8,592.1 2114.7,591.9 2115.6,591.0 2116.6,591.4 2117.5,590.6 2118.4,591.1 2119.4,591.7 2120.3,591.2 2121.2,590.7 2122.2,590.3 2123.1,590.4 2124.0,589.9 2125.0,590.0 2125.9,591.9 2126.8,590.9 2127.8,590.2 2128.7,591.1 2129.6,591.4 2130.6,590.1 2131.5,590.4 2132.4,589.5 2133.4,589.2 2134.3,590.8 2135.2,591.7 2136.2,588.7 2137.1,587.6 2138.0,588.7 2139.0,587.4 2139.9,585.6 2140.9,583.8 2141.8,579.2 2142.7,574.3 2143.7,566.9 2144.6,557.4 2145.5,552.4 2145.6,552.1 2146.5,559.1 2147.4,571.9 2148.3,578.2 2149.3,579.9 2150.2,576.2 2151.1,574.2 2152.1,576.4 2153.0,584.0 2153.9,588.0 2154.9,589.6 2155.8,590.6 2156.7,589.7 2157.7,588.5 2158.6,586.3 2159.5,587.0 2160.5,586.0 2160.5,586.0 2161.4,586.9 2162.3,586.9 2163.3,587.9 2164.2,589.0 2165.1,588.9 2166.1,588.4 2167.0,590.1 2167.9,590.4 2168.9,591.5 2169.8,590.7 2170.7,591.2 2171.7,592.0 2172.6,591.6 2173.5,591.5 2174.5,591.3 2175.4,591.0 2176.3,590.6 2177.3,590.5 2178.2,591.1 2179.1,590.4 2180.1,589.5 2181.0,590.3 2181.9,591.0 2182.9,590.6 2183.8,588.4 2184.7,588.8 2185.7,589.2 2186.6,587.8 2187.6,586.6 2188.5,585.0 2189.4,583.3 2190.4,581.4 2191.0,582.2 2191.3,580.9 2192.2,582.2 2193.2,584.3 2194.1,585.2 2195.0,585.3 2196.0,585.7 2196.9,585.9 2197.8,586.8 2198.8,588.0 2199.7,590.0 2200.6,589.9 2201.6,591.2 2202.5,591.6 2203.4,591.9 2204.4,591.7 2205.3,592.4 2206.2,592.0 2207.2,591.8 2208.1,591.5 2209.0,590.5 2210.0,592.2 2210.9,592.2 2211.8,591.4 2212.8,591.6 2213.7,591.8 2214.6,591.0 2215.6,592.1 2216.5,591.8 2217.4,591.8 2218.4,591.6 2219.3,589.8 2220.2,591.1 2221.2,590.4 2222.1,591.2 2223.0,591.0 2224.0,590.7 2224.9,590.1 2225.8,591.6 2226.8,589.7 2227.7,588.7 2228.6,589.2 2229.6,586.9 2230.5,587.7 2231.4,585.4 2232.4,583.1 2233.3,578.9 2234.3,572.7 2235.2,564.0 2236.1,556.9 2236.7,555.5 2237.1,556.5 2238.0,567.8 2238.9,578.2 2239.9,582.1 2240.8,581.5 2241.7,578.5 2242.7,576.4 2243.6,579.3 2244.5,584.8 2245.5,590.7 2246.4,590.2 2247.3,590.5 2248.3,590.4 2249.2,591.0 2250.1,589.6 2251.1,589.8 2252.0,588.9 2252.9,587.1 2253.9,586.5 2254.8,584.4 2255.7,584.2 2256.0,584.6 2256.7,584.2 2257.6,584.7 2258.5,586.1 2259.5,586.9 2260.4,587.8 2261.3,586.5 2262.3,587.1 2263.2,589.1 2264.1,589.6 2265.1,590.6 2266.0,591.4 2266.9,591.6 2267.9,591.9 2268.8,592.4 2269.7,592.8 2270.7,592.6 2271.6,592.5 2272.5,591.7 2273.5,592.2 2274.4,591.1 2275.3,591.2 2276.3,591.3 2277.2,591.0 2278.1,591.3 2279.1,590.9 2280.0,590.1 2281.0,589.1 2281.9,588.7 2282.8,588.0 2283.8,588.9 2284.0,588.2 2284.7,587.7 2285.6,588.1 2286.6,590.0 2287.5,589.3 2288.4,590.3 2289.4,590.3 2290.3,591.0 2291.2,590.0 2292.2,591.2 2293.1,591.4 2294.0,592.1 2295.0,592.7 2295.9,591.9 2296.8,591.9 2297.8,592.7 2298.7,591.4 2299.6,592.4 2300.6,591.7 2301.5,591.6 2302.4,591.2 2303.4,591.0 2304.3,592.4 2305.2,592.2 2306.2,591.6 2307.1,591.9 2308.0,591.3 2309.0,591.0 2309.9,590.6"/>
<polyline stroke="#0364e3" points="200.0,563.0 200.9,563.8 201.9,564.7 202.8,564.2 203.7,567.2 204.7,565.9 205.6,565.9 206.5,566.0 207.5,565.8 208.4,566.3 209.3,565.6 210.3,565.5 211.2,565.2 212.1,563.4 213.1,564.5 214.0,563.3 214.9,564.5 215.9,563.6 216.8,564.3 217.7,564.7 218.7,563.9 219.6,563.1 220.5,564.8 221.5,565.3 222.4,564.5 223.3,564.4 224.3,562.7 225.2,563.7 226.2,564.3 227.1,563.9 228.0,564.4 229.0,563.3 229.9,563.3 230.8,564.6 231.8,564.3 232.7,565.3 233.6,565.0 234.6,566.0 235.5,566.0 236.4,564.5 237.4,566.5 238.3,566.7 239.2,566.9 240.2,567.3 241.1,567.8 242.0,566.8 243.0,565.6 243.9,566.1 244.8,566.5 245.8,565.0 246.7,565.1 247.6,562.9 248.6,561.3 249.5,561.2 250.4,560.1 251.4,561.7 252.3,561.1 253.2,560.0 254.2,559.1 255.1,559.9 256.0,559.3 257.0,557.8 257.9,557.1 258.8,555.5 259.8,554.9 260.7,554.0 261.6,551.6 262.6,548.8 263.5,546.7 264.4,543.0 265.4,540.4 266.3,536.0 267.2,527.9 268.2,517.6 269.1,504.2 270.0,486.3 271.0,470.0 271.5,466.1 271.9,468.6 272.9,490.1 273.8,520.9 274.7,545.5 275.7,558.6 276.6,565.8 277.5,568.3 278.5,570.1 279.4,570.7 280.3,571.9 281.3,572.0 282.2,571.6 283.1,572.9 284.1,573.0 285.0,572.6 285.9,572.1 286.9,570.5 287.8,571.5 288.7,572.1 289.7,571.5 290.6,570.5 291.5,572.1 292.5,571.5 293.4,571.0 294.3,571.7 295.3,572.1 296.2,572.4 297.1,572.5 298.1,573.0 299.0,571.9 299.9,571.7 300.9,573.3 301.8,574.6 302.7,572.5 303.7,572.2 304.6,572.8 305.5,571.5 306.5,571.0 307.4,569.8 308.3,571.8 309.3,570.3 310.2,571.9 311.1,572.1 312.1,572.0 313.0,572.7 313.9,571.5 314.9,573.1 315.8,573.2 316.7,574.4 317.7,574.6 318.6,574.7 319.6,575.2 320.5,573.9 321.4,573.5 322.4,573.5 323.3,574.0 324.2,572.8 325.2,573.6 326.1,572.7 327.0,572.8 328.0,572.6 328.9,571.6 329.8,572.7 330.8,571.5 331.7,571.8 332.6,572.1 333.6,571.9 334.5,571.3 335.4,572.1 336.4,572.3 337.3,573.1 338.2,572.8 339.2,572.4 340.1,571.5 341.0,572.1 342.0,571.8 342.9,572.7 343.8,571.0 344.8,570.2 345.7,570.1 346.6,569.3 347.6,570.0 348.5,569.3 349.4,568.9 350.4,569.1 351.3,569.6 352.2,568.7 353.2,568.5 354.1,568.2 355.0,569.0 356.0,570.5 356.9,569.1 357.8,568.7 358.8,569.3 359.7,567.3 360.6,569.8 361.6,569.5 362.5,567.7 363.4,564.6 364.4,562.4 365.3,561.4 366.3,559.2 367.2,555.9 368.1,550.3 369.1,543.2 370.0,533.8 370.9,522.0 371.9,514.4 372.0,514.4 372.8,519.3 373.7,534.5 374.7,551.5 375.6,562.9 376.5,570.3 377.5,572.6 378.4,571.5 379.3,571.7 380.3,572.8 381.2,573.7 382.1,573.7 383.1,574.7 384.0,574.9 384.9,575.1 385.9,575.1 386.8,575.2 387.7,575.1 388.7,573.3 389.6,574.4 390.5,572.4 391.5,571.9 392.4,571.3 393.3,571.9 394.3,571.9 395.2,571.3 396.1,571.1 397.1,570.7 398.0,569.0 398.9,568.3 399.9,568.1 400.8,566.9 401.7,564.4 402.7,562.1 403.6,559.8 404.5,557.2 405.5,553.8 406.4,550.3 407.3,546.2 408.3,542.6 409.2,537.5 410.1,532.2 411.1,525.7 412.0,518.2 413.0,509.5 413.9,498.9 414.8,485.6 415.8,469.6 416.7,449.0 417.6,422.0 418.6,385.2 419.5,333.9 420.4,264.5 421.4,186.8 422.3,140.7 422.3,140.6 423.2,185.5 424.2,299.8 425.1,419.0 426.0,502.0 427.0,545.8 427.9,565.1 428.8,570.9 429.8,573.4 430.7,574.9 431.6,577.0 432.6,579.1 433.5,579.7 434.4,580.2 435.4,579.6 436.3,579.8 437.2,580.7 438.2,579.6 439.1,580.8 440.0,579.8 441.0,578.9 441.9,579.4 442.8,577.6 443.8,578.2 444.7,580.0 445.6,580.9 446.6,579.9 447.5,580.9 448.4,582.2 449.4,582.6 450.3,582.4 451.2,583.7 452.2,581.1 453.1,581.2 454.0,579.0 455.0,579.3 455.9,578.3 456.8,579.3 457.8,578.1 458.7,579.3 459.7,578.6 460.6,580.8 461.5,579.5 462.5,580.0 463.4,579.4 464.3,580.0 465.3,581.6 466.2,582.3 467.1,581.2 468.1,581.2 469.0,582.5 469.9,584.1 470.9,582.6 471.8,583.0 472.7,582.4 473.7,582.8 474.6,581.6 475.5,581.7 476.5,582.5 477.4,584.5 478.3,583.8 479.3,583.0 480.2,584.4 481.1,584.5 482.1,585.1 483.0,585.6 483.9,585.3 484.9,585.4 485.8,582.5 486.7,583.3 487.7,582.4 488.6,580.3 489.5,581.1 490.5,579.0 491.4,578.5 492.3,579.8 493.3,579.1 494.2,579.5 495.1,580.0 496.1,578.7 497.0,581.1 497.9,580.8 498.9,581.8 499.8,582.3 500.7,582.6 501.7,582.9 502.6,583.6 503.5,583.8 504.5,583.2 505.4,580.9 506.4,583.2 507.3,580.7 508.2,582.4 509.2,581.3 510.1,581.1 511.0,580.0 512.0,581.2 512.9,580.4 513.8,580.4 514.8,580.5 515.7,580.0 516.6,581.0 517.6,581.1 518.5,582.7 519.4,582.7 520.4,583.9 521.3,583.6 522.2,584.5 523.2,583.3 524.1,583.2 525.0,582.6 526.0,582.1 526.9,581.3 527.8,582.0 528.8,580.9 529.7,582.0 530.6,581.8 531.6,581.4 532.5,584.3 533.4,582.6 534.4,582.3 535.3,583.7 536.2,584.1 537.2,583.2 538.1,584.5 539.0,583.1 540.0,583.7 540.9,582.7 541.8,581.7 542.8,583.5 543.7,581.3 544.6,580.1 545.6,580.7 546.5,580.3 547.4,582.1 548.4,582.8 549.3,581.7 550.2,584.2 551.2,583.3 552.1,582.1 553.1,583.4 554.0,583.3 554.9,582.6 555.9,581.7 556.8,581.2 557.7,580.6 558.7,580.5 559.6,579.5 560.5,578.1 561.5,577.1 562.4,576.9 563.3,576.7 564.3,575.3 565.2,575.6 566.1,574.5 567.1,575.4 568.0,575.3 568.9,575.9 569.9,575.0 570.8,575.0 571.7,575.9 572.7,575.0 573.6,573.3 574.5,573.7 575.5,571.6 576.4,571.0 577.3,568.0 578.3,567.2 579.2,564.9 580.1,562.7 581.1,560.0 582.0,558.7 582.9,555.1 583.9,551.8 584.8,546.9 585.7,543.1 586.7,537.6 587.6,530.5 588.5,522.0 589.5,511.9 590.4,498.2 591.3,479.8 592.3,454.7 593.2,418.5 594.1,368.6 595.1,310.2 596.0,269.3 596.2,267.9 596.9,287.2 597.9,351.9 598.8,433.7 599.8,499.8 600.7,538.7 601.6,556.7 602.6,562.5 603.5,562.6 604.4,562.3 605.4,560.3 606.3,557.3 606.5,558.0 607.2,557.7 608.2,558.6 609.1,559.0 610.0,560.6 611.0,559.6 611.9,556.9 612.8,552.4 613.8,546.2 614.7,537.9 615.6,531.1 616.5,528.0 616.6,527.8 617.5,531.5 618.4,540.8 619.4,550.4 620.3,560.4 621.2,569.8 622.2,573.9 623.1,576.6 624.0,581.2 625.0,582.7 625.9,583.1 626.8,582.8 627.8,583.3 628.7,583.1 629.6,583.8 630.6,582.6 631.5,582.1 632.4,582.6 633.4,581.7 634.3,581.4 635.2,581.5 636.2,580.7 637.1,580.0 638.0,578.8 639.0,578.9 639.9,578.2 640.8,577.3 641.8,575.7 642.7,574.9 643.6,572.9 644.6,571.2 645.5,567.7 646.5,564.0 647.4,558.8 648.3,551.9 649.3,543.7 650.2,534.7 651.1,525.9 652.0,522.8 652.1,522.2 653.0,526.5 653.9,535.3 654.9,546.6 655.8,556.9 656.7,566.3 657.7,571.1 658.6,573.8 659.5,577.0 660.5,576.2 661.4,577.0 662.3,576.1 663.3,576.8 664.2,576.0 665.1,576.1 666.1,574.6 667.0,573.4 667.9,576.0 668.9,573.3 669.8,571.4 670.7,570.0 671.7,567.6 672.6,565.0 673.5,561.1 674.5,557.5 675.4,549.6 676.3,540.5 677.3,528.0 678.2,510.3 679.1,485.5 680.1,455.7 681.0,432.9 681.3,431.1 681.9,438.8 682.9,468.9 683.8,508.8 684.7,544.1 685.7,565.1 686.6,576.9 687.5,581.1 688.5,580.9 689.4,582.9 690.3,582.4 691.3,581.8 692.2,583.9 693.2,583.6 694.1,583.9 695.0,582.9 696.0,583.1 696.9,583.5 697.8,584.7 698.8,585.3 699.7,586.5 700.6,587.0 701.6,587.0 702.5,586.3 703.4,586.5 704.4,585.8 705.3,586.3 706.2,585.5 707.2,584.2 708.1,583.8 709.0,583.1 710.0,583.9 710.9,583.8 711.8,585.0 712.8,585.3 713.7,584.0 714.6,585.4 715.6,584.5 716.5,583.2 717.4,585.2 718.4,584.5 719.3,585.8 720.2,586.1 721.2,585.0 722.1,586.9 723.0,587.0 724.0,586.4 724.9,586.9 725.8,588.9 726.8,587.8 727.7,588.3 728.6,588.7 729.6,589.5 730.5,587.8 731.4,586.0 732.4,588.4 733.3,587.0 734.2,588.2 735.2,588.1 736.1,586.4 737.0,587.2 738.0,585.5 738.9,588.4 739.9,587.3 740.8,586.8 741.7,586.0 742.7,585.3 743.6,587.7 744.5,586.6 745.5,585.9 746.4,587.2 747.3,586.4 748.3,586.9 749.2,587.6 750.1,587.3 751.1,587.2 752.0,588.0 752.9,586.5 753.9,588.2 754.8,586.5 755.7,587.0 756.7,586.4 757.6,585.8 758.5,586.7 759.5,588.3 760.4,588.8 761.3,589.4 762.3,587.9 763.2,587.7 764.1,587.3 765.1,587.5 766.0,587.4 766.9,586.5 767.9,585.0 768.8,584.9 769.7,583.5 770.7,584.0 771.6,583.3 772.5,582.9 773.5,581.4 774.4,580.1 775.3,578.2 776.3,578.4 777.2,577.7 778.1,575.7 779.0,576.0 779.1,576.4 780.0,577.4 780.9,578.0 781.9,579.3 782.8,581.1 783.7,583.0 784.7,582.6 785.6,580.8 786.6,579.5 787.5,575.8 788.4,574.2 789.4,572.7 790.0,571.8 790.3,571.8 791.2,571.5 792.2,573.5 793.1,576.4 794.0,580.1 795.0,583.2 795.9,583.0 796.8,583.7 797.8,585.4 798.7,585.9 799.6,587.2 800.6,587.0 801.5,587.2 802.4,587.5 803.4,587.7 804.3,588.5 805.2,588.3 806.2,587.9 807.1,588.8 808.0,589.0 809.0,588.9 809.9,589.3 810.8,588.1 811.8,587.4 812.7,586.0 813.6,585.4 814.6,585.6 815.5,583.2 816.4,582.6 817.4,580.8 818.3,579.5 819.2,576.6 820.2,574.6 821.0,574.4 821.1,574.1 822.0,575.2 823.0,575.8 823.9,578.1 824.8,580.0 825.8,581.7 826.7,584.6 827.6,582.8 828.6,585.6 829.5,585.4 830.4,586.4 831.4,585.8 832.3,586.7 833.3,585.8 834.2,588.4 835.1,589.5 836.1,588.2 837.0,587.8 837.9,589.2 838.9,589.5 839.8,588.8 840.7,587.8 841.7,588.6 842.6,588.8 843.5,588.8 844.5,587.2 845.4,586.2 846.3,588.0 847.3,586.8 848.2,586.4 849.1,585.9 850.1,584.8 851.0,585.1 851.9,583.8 852.9,584.1 853.8,583.5 854.7,582.8 855.7,582.1 856.6,580.8 857.5,579.5 858.5,580.3 859.4,580.1 860.3,579.6 861.3,578.9 862.2,578.5 863.1,576.2 864.1,575.3 865.0,574.1 865.9,570.7 866.9,567.2 867.8,563.8 868.7,561.2 869.0,560.8 869.7,560.9 870.6,561.0 871.5,563.4 872.5,562.6 873.4,563.9 874.3,562.4 875.3,560.1 876.2,554.8 877.1,547.5 878.1,538.3 879.0,525.4 880.0,507.3 880.9,480.2 881.8,440.7 882.8,388.3 883.7,338.4 884.3,323.7 884.6,328.3 885.6,375.1 886.5,433.2 887.4,490.7 888.4,537.1 889.3,564.8 890.2,574.9 891.2,579.3 892.1,580.9 893.0,580.9 894.0,580.2 894.9,581.4 895.8,580.8 896.8,581.6 897.7,581.4 898.6,580.3 899.0,580.3 899.6,581.0 900.5,583.0 901.4,584.5 902.4,585.9 903.3,586.0 904.2,587.5 905.2,586.5 906.1,586.3 907.0,586.2 908.0,585.7 908.9,586.7 909.8,585.7 910.8,586.6 911.7,585.5 912.6,584.2 913.6,585.4 914.5,586.6 915.4,586.6 916.4,585.6 917.3,586.1 918.2,586.7 919.2,585.6 920.1,586.5 921.0,586.8 922.0,585.3 922.9,587.7 923.8,587.5 924.8,587.6 925.7,586.4 926.7,587.3 927.6,589.1 928.5,590.1 929.5,589.7 930.4,589.5 931.3,589.3 932.3,588.2 933.2,587.8 934.1,590.4 935.1,589.8 936.0,589.2 936.9,589.3 937.9,588.0 938.8,589.5 939.7,587.8 940.7,588.8 941.6,588.9 942.5,587.9 943.5,587.1 944.4,587.2 945.3,587.1 946.3,586.2 947.2,584.6 948.1,582.7 949.1,582.1 950.0,579.9 950.9,578.7 951.0,578.7 951.9,578.4 952.8,578.9 953.7,579.6 954.7,582.3 955.6,582.1 956.5,582.3 957.5,583.6 958.4,584.3 959.3,584.6 960.3,584.2 961.2,584.3 962.1,583.8 963.1,583.4 964.0,580.3 964.9,578.5 965.9,575.9 966.8,574.3 967.7,570.9 968.7,569.8 968.8,569.1 969.6,569.6 970.5,573.4 971.5,574.8 972.4,578.0 973.4,580.2 974.3,581.9 975.2,582.1 976.2,582.6 977.1,583.3 978.0,583.4 979.0,581.9 979.9,583.0 980.8,582.5 981.8,582.4 982.7,581.0 983.6,581.3 984.6,580.4 985.5,579.4 986.4,579.7 987.4,579.8 988.3,579.9 989.2,578.6 990.2,577.9 991.1,578.3 992.0,578.1 993.0,577.0 993.9,576.0 994.8,574.1 995.8,573.1 996.7,571.7 997.6,567.9 998.6,564.7 999.5,560.8 1000.4,555.2 1001.4,547.5 1002.3,539.1 1003.2,527.9 1004.2,512.3 1005.1,489.8 1006.0,457.5 1007.0,409.1 1007.9,337.0 1008.8,237.6 1009.8,136.3 1010.5,98.4 1010.7,103.0 1011.6,195.4 1012.6,301.8 1013.5,384.7 1014.4,473.2 1015.4,536.8 1016.3,565.4 1017.2,573.5 1018.2,577.6 1019.1,578.0 1020.1,578.2 1021.0,580.2 1021.9,581.2 1022.9,581.6 1023.8,581.6 1024.7,582.1 1025.7,582.0 1026.6,584.5 1027.5,584.6 1028.5,585.3 1029.4,586.8 1030.3,585.7 1031.3,586.8 1032.2,586.7 1033.1,584.6 1034.1,585.4 1035.0,583.8 1035.9,584.5 1036.9,582.9 1037.8,583.3 1038.7,582.2 1039.7,580.6 1040.6,580.1 1041.5,578.8 1042.5,576.4 1043.4,575.4 1044.3,571.7 1045.3,568.8 1046.2,566.4 1047.1,561.5 1048.1,555.0 1049.0,547.5 1049.9,538.5 1050.9,529.2 1051.8,518.7 1052.7,510.9 1053.7,506.6 1054.0,506.2 1054.6,507.3 1055.5,512.4 1056.5,521.2 1057.4,532.0 1058.3,543.2 1059.3,553.9 1060.2,562.8 1061.1,570.3 1062.1,575.2 1063.0,576.5 1063.9,579.2 1064.9,578.6 1065.8,577.6 1066.8,577.6 1067.7,576.3 1068.6,573.1 1069.6,571.1 1070.5,566.2 1071.4,560.3 1072.4,555.2 1073.3,546.2 1074.2,538.7 1075.2,535.5 1075.4,535.0 1076.1,535.9 1077.0,540.9 1078.0,548.5 1078.9,557.0 1079.8,563.4 1080.8,571.5 1081.7,576.2 1082.6,578.4 1083.6,581.1 1084.5,583.9 1085.4,583.0 1086.4,585.0 1087.3,583.5 1088.2,584.4 1089.2,585.0 1090.1,585.6 1091.0,584.5 1092.0,584.0 1092.9,583.7 1093.8,583.1 1094.8,582.2 1095.7,582.1 1096.6,582.4 1097.6,582.6 1098.5,582.4 1099.4,583.3 1100.4,583.1 1101.3,583.4 1102.2,583.2 1103.2,583.8 1104.1,584.9 1105.0,585.2 1106.0,585.0 1106.9,584.5 1107.8,584.0 1108.8,584.5 1109.7,583.5 1110.6,583.6 1111.6,582.4 1112.5,583.3 1113.5,581.6 1114.4,582.7 1114.5,581.8 1115.3,582.5 1116.3,582.3 1117.2,582.6 1118.1,584.8 1119.1,584.1 1120.0,585.5 1120.9,584.8 1121.9,586.1 1122.8,585.7 1123.7,585.6 1124.7,585.2 1125.6,585.4 1126.5,584.1 1127.5,584.4 1128.4,583.3 1129.3,582.8 1130.3,581.5 1131.2,581.5 1132.1,580.8 1132.5,580.8 1133.1,581.0 1134.0,580.7 1134.9,579.3 1135.9,580.4 1136.8,580.3 1137.7,579.3 1138.7,578.5 1139.6,577.8 1140.5,579.5 1141.5,578.3 1142.4,578.4 1143.3,574.9 1144.3,574.6 1145.2,572.0 1146.1,568.9 1147.1,565.1 1148.0,562.4 1148.9,558.2 1149.5,558.2 1149.9,557.8 1150.8,557.9 1151.7,558.6 1152.7,559.8 1153.6,560.1 1154.5,560.2 1155.5,558.3 1156.4,554.3 1157.3,550.3 1158.3,543.6 1159.2,534.0 1160.2,521.1 1161.1,504.0 1162.0,479.2 1163.0,443.1 1163.9,389.2 1164.8,308.7 1165.8,200.0 1166.7,95.7 1167.3,65.6 1167.6,77.2 1168.6,188.9 1169.5,293.6 1170.4,355.4 1171.4,436.4 1172.3,514.7 1173.2,558.3 1174.2,573.7 1175.1,578.6 1176.0,580.2 1177.0,580.8 1177.9,579.2 1178.8,581.2 1179.8,579.9 1180.7,579.2 1181.6,578.4 1182.6,577.0 1183.5,576.1 1184.4,573.8 1185.4,571.9 1186.3,572.1 1187.2,569.0 1188.2,566.0 1189.1,561.4 1190.0,555.1 1191.0,548.4 1191.9,536.7 1192.8,519.7 1193.8,495.2 1194.7,458.0 1195.6,405.3 1196.6,346.1 1197.5,314.6 1197.5,314.6 1198.4,357.2 1199.4,420.2 1200.3,456.4 1201.2,490.6 1202.2,535.7 1203.1,567.2 1204.0,580.1 1205.0,585.2 1205.9,586.4 1206.9,587.7 1207.8,587.3 1208.7,588.7 1209.7,589.2 1210.6,590.6 1211.5,589.0 1212.5,590.6 1213.4,591.0 1214.3,589.0 1215.3,589.4 1216.2,588.4 1217.1,587.0 1218.1,586.3 1219.0,586.7 1219.9,585.8 1220.9,585.4 1221.8,584.9 1222.7,585.3 1223.7,584.4 1224.6,583.8 1225.5,583.1 1226.5,583.2 1227.4,581.9 1228.3,581.5 1229.3,580.7 1230.2,578.5 1231.1,576.0 1232.1,572.3 1233.0,568.6 1233.9,562.6 1234.9,558.3 1235.8,555.7 1235.8,556.5 1236.7,557.0 1237.7,559.3 1238.6,564.8 1239.5,567.4 1240.5,572.5 1241.4,575.8 1242.3,578.3 1243.3,578.8 1244.2,578.4 1245.1,579.7 1246.1,578.0 1247.0,576.8 1247.9,574.5 1248.9,572.3 1249.8,568.7 1250.7,563.7 1251.7,558.3 1252.6,548.3 1253.6,536.1 1254.5,519.5 1255.4,494.2 1256.4,457.4 1257.3,411.4 1258.2,375.7 1258.5,371.5 1259.2,385.1 1260.1,427.0 1261.0,448.7 1262.0,452.4 1262.9,463.7 1263.8,474.1 1264.3,477.3 1264.8,481.7 1265.7,490.9 1266.6,486.8 1267.6,467.0 1268.5,440.8 1269.4,418.0 1270.0,413.8 1270.4,420.6 1271.3,461.6 1272.2,496.2 1273.2,512.1 1274.1,533.5 1275.0,561.1 1276.0,577.6 1276.9,585.4 1277.8,586.7 1278.8,587.9 1279.7,586.4 1280.6,587.6 1281.6,587.1 1282.5,587.4 1283.4,587.5 1284.4,585.6 1285.3,585.4 1286.2,582.2 1287.2,580.9 1288.1,577.2 1289.0,574.8 1290.0,570.3 1290.9,568.5 1291.0,566.2 1291.8,569.0 1292.8,571.1 1293.7,575.4 1294.6,579.5 1295.6,583.2 1296.5,586.1 1297.4,589.4 1298.4,591.4 1299.3,593.6 1300.3,593.6 1301.2,593.0 1302.1,592.5 1303.1,593.8 1304.0,592.2 1304.9,591.1 1305.9,592.0 1306.8,590.3 1307.7,588.9 1308.7,586.8 1309.6,584.8 1310.5,583.2 1311.5,578.2 1312.4,574.3 1313.3,569.7 1314.3,569.1 1314.3,568.6 1315.2,569.3 1316.1,571.7 1317.1,577.0 1318.0,581.1 1318.9,584.9 1319.9,589.1 1320.8,590.6 1321.7,594.1 1322.7,594.2 1323.6,594.2 1324.5,594.0 1325.5,593.8 1326.4,593.3 1327.3,594.1 1328.3,593.1 1329.2,595.1 1330.1,595.0 1331.1,596.1 1332.0,595.0 1332.9,596.5 1333.9,594.3 1334.8,594.8 1335.7,595.0 1336.7,596.5 1337.6,595.3 1338.5,595.1 1339.5,595.3 1340.4,595.1 1341.3,595.8 1342.3,596.2 1343.2,596.2 1344.1,596.3 1345.1,594.6 1346.0,595.7 1347.0,594.2 1347.9,595.3 1348.8,594.9 1349.8,593.8 1350.7,593.7 1351.6,594.0 1352.6,592.8 1353.5,592.9 1354.4,593.7 1355.4,592.8 1356.3,593.7 1357.2,593.4 1358.2,593.2 1359.1,593.8 1360.0,593.0 1361.0,594.3 1361.9,594.2 1362.8,594.1 1363.8,594.5 1364.7,592.9 1365.6,591.6 1366.6,593.6 1367.5,595.0 1368.4,593.1 1369.4,593.2 1370.3,592.0 1371.2,591.4 1372.2,591.2 1373.1,590.2 1374.0,592.8 1375.0,590.6 1375.9,590.0 1376.8,589.8 1377.8,589.5 1378.7,589.7 1379.6,590.3 1380.6,590.6 1381.5,588.9 1382.4,587.6 1383.4,587.7 1384.3,586.1 1385.2,585.3 1386.2,581.4 1387.1,578.8 1388.0,575.4 1389.0,570.3 1389.9,565.2 1390.8,562.1 1391.5,561.1 1391.8,561.5 1392.7,563.6 1393.7,566.3 1394.6,569.7 1395.5,575.2 1396.5,578.9 1397.4,583.4 1398.3,585.4 1399.3,586.9 1400.2,588.0 1401.1,587.5 1402.1,586.7 1403.0,586.7 1403.9,585.3 1404.9,584.3 1405.8,580.7 1406.7,577.9 1407.7,573.4 1408.6,567.2 1409.5,557.9 1410.5,543.3 1411.4,523.3 1412.3,500.0 1413.3,487.2 1413.3,486.9 1414.2,503.3 1415.1,529.7 1416.1,542.9 1417.0,547.2 1417.9,561.0 1418.9,577.1 1419.8,587.5 1420.7,591.7 1421.7,593.1 1422.6,593.9 1423.5,594.3 1424.5,594.3 1425.4,593.8 1426.3,593.7 1427.3,595.1 1428.2,595.5 1429.1,594.9 1430.1,595.9 1431.0,596.5 1431.9,595.7 1432.9,594.9 1433.8,594.3 1434.7,593.8 1435.7,594.3 1436.6,593.6 1437.5,592.5 1438.5,593.0 1439.4,593.7 1440.4,592.8 1441.3,592.9 1442.2,592.7 1443.2,593.0 1444.1,592.6 1445.0,592.0 1446.0,592.7 1446.9,593.0 1447.8,591.5 1448.8,591.8 1449.7,591.8 1450.6,591.4 1451.6,591.7 1452.5,591.7 1453.4,590.5 1454.4,591.8 1455.3,590.7 1456.2,591.8 1457.2,592.9 1458.1,591.4 1459.0,591.7 1460.0,593.7 1460.9,594.1 1461.8,593.2 1462.8,594.7 1463.7,593.6 1464.6,592.6 1465.6,592.4 1466.5,592.0 1467.4,592.4 1468.4,592.0 1469.3,593.7 1470.2,593.1 1471.2,593.1 1472.1,593.3 1473.0,594.3 1474.0,594.5 1474.9,594.4 1475.8,595.6 1476.8,595.2 1477.7,595.1 1478.6,596.3 1479.6,597.0 1480.5,595.7 1481.4,592.8 1482.4,595.7 1483.3,594.5 1484.2,594.2 1485.2,594.8 1486.1,593.3 1487.1,591.7 1488.0,591.2 1488.9,592.2 1489.9,593.7 1490.8,592.6 1491.7,592.9 1492.7,594.1 1493.6,593.9 1494.5,593.9 1495.5,594.3 1496.4,594.8 1497.3,594.3 1498.3,594.1 1499.2,594.0 1500.1,592.4 1501.1,593.5 1502.0,591.9 1502.9,592.2 1503.9,592.5 1504.8,592.7 1505.7,592.2 1506.7,592.8 1507.6,591.6 1508.5,590.8 1509.5,588.2 1510.4,587.1 1511.3,587.5 1512.0,585.4 1512.3,586.2 1513.2,584.8 1514.1,586.1 1515.1,586.1 1516.0,588.5 1516.9,589.5 1517.9,588.0 1518.8,589.4 1519.7,590.0 1520.7,590.2 1521.6,589.4 1522.5,588.0 1523.5,587.0 1524.4,584.7 1525.3,583.4 1526.3,583.8 1526.5,583.4 1527.2,584.2 1528.1,584.9 1529.1,586.5 1530.0,587.2 1530.9,589.0 1531.9,591.1 1532.8,589.9 1533.8,591.4 1534.7,591.8 1535.6,592.9 1536.6,592.8 1537.5,591.8 1538.4,593.3 1539.4,593.3 1540.3,593.7 1541.2,594.1 1542.2,594.5 1543.1,594.1 1544.0,593.6 1545.0,594.6 1545.9,596.3 1546.8,594.5 1547.8,595.1 1548.7,594.1 1549.6,593.8 1550.6,594.2 1551.5,595.1 1552.4,594.9 1553.4,594.8 1554.3,593.8 1555.2,593.4 1556.2,593.2 1557.1,593.4 1558.0,591.4 1559.0,592.5 1559.9,591.6 1560.8,590.0 1561.8,589.9 1562.7,588.7 1563.0,588.9 1563.6,587.3 1564.6,588.5 1565.5,588.9 1566.4,590.2 1567.4,590.8 1568.3,590.8 1569.2,590.5 1570.2,592.3 1571.1,591.9 1572.0,592.8 1573.0,592.0 1573.9,591.2 1574.8,591.6 1575.8,590.8 1576.7,590.4 1577.6,591.6 1578.6,591.6 1579.5,591.7 1580.5,590.1 1581.4,590.1 1582.3,588.8 1583.3,587.7 1584.2,587.5 1585.1,585.0 1586.1,584.5 1587.0,585.6 1587.0,585.4 1587.9,585.5 1588.9,586.7 1589.8,587.3 1590.7,588.2 1591.7,590.8 1592.6,590.2 1593.5,590.5 1594.5,591.7 1595.4,591.7 1596.3,593.0 1597.3,591.6 1598.2,591.5 1599.1,591.2 1600.1,592.1 1601.0,591.7 1601.9,591.7 1602.9,591.2 1603.8,591.1 1604.7,589.6 1605.7,589.7 1606.6,587.9 1607.5,586.7 1608.5,584.2 1609.4,581.3 1610.3,577.1 1611.3,574.4 1612.2,572.1 1612.3,571.2 1613.1,571.9 1614.1,573.7 1615.0,576.4 1615.9,579.1 1616.9,580.9 1617.8,583.8 1618.7,586.0 1619.7,588.0 1620.6,590.4 1621.5,590.4 1622.5,589.5 1623.4,590.6 1624.3,589.9 1625.3,591.3 1626.2,589.0 1627.2,588.1 1628.1,588.6 1629.0,587.6 1630.0,586.9 1630.9,586.0 1631.8,583.7 1632.8,581.3 1633.7,576.5 1634.6,571.9 1635.6,563.6 1636.5,551.4 1637.4,536.8 1638.3,530.3 1638.4,530.1 1639.3,543.1 1640.2,561.0 1641.2,567.5 1642.1,567.1 1643.0,569.8 1644.0,580.6 1644.9,587.5 1645.8,593.2 1646.8,592.6 1647.7,593.2 1648.6,594.0 1649.6,594.4 1650.5,594.3 1651.4,594.2 1652.4,592.6 1653.3,593.3 1654.2,593.5 1655.2,593.2 1656.1,593.9 1657.0,593.2 1658.0,592.9 1658.9,591.9 1659.8,592.3 1660.8,593.4 1661.7,592.3 1662.6,593.0 1663.6,592.9 1664.5,591.9 1665.4,592.0 1666.4,590.6 1667.3,590.7 1668.2,589.8 1669.2,588.7 1670.1,587.4 1671.0,587.2 1672.0,586.7 1672.9,584.5 1673.9,580.9 1674.8,577.2 1675.7,573.7 1676.7,570.9 1677.0,571.1 1677.6,571.1 1678.5,572.7 1679.5,577.4 1680.4,578.2 1681.3,580.4 1682.3,583.4 1683.2,584.8 1684.1,586.8 1685.1,590.3 1686.0,590.4 1686.9,589.8 1687.9,589.3 1688.8,589.8 1689.7,588.6 1690.7,589.0 1691.6,585.7 1692.5,585.8 1693.5,582.5 1694.4,580.5 1695.3,580.4 1695.5,579.7 1696.3,580.4 1697.2,581.6 1698.1,582.0 1699.1,584.1 1700.0,586.3 1700.9,586.4 1701.9,588.3 1702.8,589.9 1703.7,592.1 1704.7,592.8 1705.6,593.7 1706.5,592.5 1707.5,593.7 1708.4,593.5 1709.3,592.5 1710.3,593.5 1711.2,593.2 1712.1,592.6 1713.1,592.3 1714.0,592.0 1714.9,593.2 1715.9,593.3 1716.8,592.9 1717.7,592.9 1718.7,592.9 1719.6,593.9 1720.6,593.7 1721.5,592.6 1722.4,593.8 1723.4,594.3 1724.3,593.7 1725.2,594.0 1726.2,594.0 1727.1,594.8 1728.0,594.2 1729.0,594.5 1729.9,594.5 1730.8,595.4 1731.8,593.4 1732.7,595.6 1733.6,593.4 1734.6,593.8 1735.5,593.4 1736.4,593.9 1737.4,594.1 1738.3,595.3 1739.2,594.7 1740.2,593.7 1741.1,594.2 1742.0,594.1 1743.0,593.8 1743.9,594.6 1744.8,594.3 1745.8,593.7 1746.7,593.4 1747.6,594.2 1748.6,593.4 1749.5,594.2 1750.4,593.8 1751.4,592.3 1752.3,591.5 1753.2,592.5 1754.2,591.8 1755.1,591.1 1756.0,590.4 1757.0,591.0 1757.9,589.4 1758.6,590.5 1758.8,589.9 1759.8,588.6 1760.7,590.4 1761.6,591.4 1762.6,589.9 1763.5,590.8 1764.4,591.9 1765.4,592.0 1766.3,593.8 1767.3,592.6 1768.2,594.3 1769.1,592.4 1770.1,592.7 1771.0,593.4 1771.9,593.3 1772.9,593.0 1773.8,593.8 1774.7,593.8 1775.7,593.9 1776.6,592.7 1777.5,593.3 1778.5,592.6 1779.4,593.7 1780.3,591.5 1781.3,592.6 1782.2,593.0 1783.1,593.0 1784.1,594.3 1785.0,592.5 1785.9,593.0 1786.9,592.8 1787.8,593.5 1788.7,593.0 1789.7,594.0 1790.6,594.0 1791.5,592.0 1792.5,591.9 1793.4,593.7 1794.3,593.2 1795.3,591.8 1796.2,592.5 1797.1,591.6 1798.1,592.4 1799.0,590.6 1799.9,590.3 1800.9,590.3 1801.8,589.4 1802.7,589.6 1803.0,589.2 1803.7,588.3 1804.6,589.7 1805.5,589.4 1806.5,591.3 1807.4,591.9 1808.3,591.9 1809.3,592.7 1810.2,592.2 1811.1,592.8 1812.1,592.4 1813.0,592.3 1814.0,591.9 1814.9,591.1 1815.8,591.4 1816.8,588.9 1817.7,587.7 1818.6,587.1 1819.6,587.5 1820.5,585.9 1820.5,585.6 1821.4,586.0 1822.4,587.4 1823.3,587.7 1824.2,589.2 1825.2,588.8 1826.1,590.3 1827.0,590.0 1828.0,591.7 1828.9,593.7 1829.8,592.3 1830.8,592.8 1831.7,593.7 1832.6,592.6 1833.6,593.1 1834.5,593.1 1835.4,593.7 1836.4,592.6 1837.3,594.4 1838.2,593.6 1839.2,593.5 1840.1,593.2 1841.0,593.1 1842.0,591.6 1842.9,593.5 1843.8,592.0 1844.8,592.9 1845.7,592.1 1846.6,591.9 1847.6,592.1 1848.5,592.7 1849.4,591.5 1850.4,591.1 1851.3,591.7 1852.2,589.9 1853.2,590.8 1854.1,590.5 1855.0,590.7 1856.0,590.0 1856.9,591.2 1857.8,590.3 1858.8,590.3 1859.7,589.6 1860.7,588.6 1861.6,587.4 1862.5,587.1 1863.5,585.0 1864.4,583.6 1865.3,581.7 1865.5,581.9 1866.3,582.3 1867.2,583.3 1868.1,584.9 1869.1,585.2 1870.0,586.5 1870.9,587.8 1871.9,588.9 1872.8,591.1 1873.7,592.2 1874.7,593.0 1875.6,593.1 1876.5,594.1 1877.5,594.1 1878.4,593.7 1879.3,593.1 1880.3,594.1 1881.2,592.5 1882.1,592.1 1883.1,592.2 1884.0,593.7 1884.9,593.0 1885.9,592.6 1886.8,591.8 1887.7,593.3 1888.7,592.9 1889.6,592.2 1890.5,594.2 1891.5,593.6 1892.4,594.3 1893.3,593.4 1894.3,593.6 1895.2,592.6 1896.1,593.0 1897.1,592.2 1898.0,592.5 1898.9,591.9 1899.9,590.8 1900.8,591.0 1901.7,590.4 1902.7,589.1 1903.6,588.6 1904.5,589.1 1904.5,589.3 1905.5,588.7 1906.4,587.8 1907.4,590.0 1908.3,590.7 1909.2,589.6 1910.2,589.5 1911.1,590.5 1912.0,590.7 1913.0,591.1 1913.9,589.9 1914.8,590.8 1915.8,589.5 1916.7,587.7 1917.5,588.7 1917.6,587.9 1918.6,588.4 1919.5,588.7 1920.4,588.8 1921.4,589.4 1922.3,589.2 1923.2,589.6 1924.2,590.4 1925.1,590.9 1926.0,591.8 1927.0,592.1 1927.9,591.2 1928.8,592.9 1929.8,592.4 1930.7,593.0 1931.6,592.8 1932.6,592.6 1933.5,592.9 1934.4,591.8 1935.4,593.8 1936.3,594.2 1937.2,593.6 1938.2,593.1 1939.1,593.9 1940.0,593.4 1941.0,594.6 1941.9,593.4 1942.8,593.0 1943.8,593.2 1944.7,593.3 1945.6,594.1 1946.6,593.6 1947.5,593.8 1948.4,593.5 1949.4,594.4 1950.3,593.7 1951.2,593.8 1952.2,594.7 1953.1,593.9 1954.1,593.5 1955.0,593.7 1955.9,594.7 1956.9,594.2 1957.8,593.6 1958.7,594.6 1959.7,593.0 1960.6,592.5 1961.5,593.1 1962.5,592.5 1963.4,593.2 1964.3,593.0 1965.3,592.4 1966.2,591.9 1967.1,591.3 1968.1,592.0 1969.0,589.7 1969.9,590.8 1970.9,590.0 1971.5,589.7 1971.8,590.1 1972.7,589.1 1973.7,591.0 1974.6,591.0 1975.5,591.6 1976.5,589.8 1977.4,591.4 1978.3,591.5 1979.3,590.4 1980.2,591.9 1981.1,592.4 1982.1,592.0 1983.0,592.8 1983.9,593.0 1984.9,592.5 1985.8,592.5 1986.7,593.2 1987.7,592.3 1988.6,593.2 1989.5,593.8 1990.5,593.1 1991.4,593.5 1992.3,593.3 1993.3,593.8 1994.2,592.4 1995.1,592.3 1996.1,592.6 1997.0,592.7 1997.9,593.4 1998.9,593.4 1999.8,592.7 2000.8,592.9 2001.7,591.9 2002.6,591.7 2003.6,591.1 2004.5,592.8 2005.4,592.5 2006.4,592.3 2007.3,591.6 2008.2,592.0 2009.2,593.0 2010.1,592.7 2011.0,593.3 2012.0,592.7 2012.9,592.0 2013.8,591.7 2014.8,592.2 2015.7,593.1 2016.6,593.2 2017.6,591.5 2018.5,592.1 2019.4,591.3 2020.4,591.9 2021.3,589.9 2022.2,591.0 2023.2,590.2 2024.1,592.0 2025.0,590.8 2026.0,591.0 2026.9,590.6 2027.8,589.6 2028.8,590.6 2029.7,590.7 2030.6,590.0 2031.6,589.9 2032.5,590.0 2033.4,589.2 2034.4,588.4 2035.3,586.8 2036.2,586.3 2037.2,585.2 2038.1,584.5 2039.0,582.7 2040.0,578.9 2040.9,575.4 2041.8,568.5 2042.8,563.5 2043.7,557.5 2044.6,556.4 2044.6,556.4 2045.6,558.5 2046.5,562.7 2047.5,567.3 2048.4,570.8 2049.3,571.9 2050.3,575.4 2051.2,577.6 2052.1,580.6 2053.1,585.0 2054.0,587.6 2054.9,589.1 2055.9,589.7 2056.8,590.9 2057.7,590.6 2058.7,592.3 2059.6,591.1 2060.5,590.9 2061.5,590.1 2062.4,590.5 2063.3,590.9 2064.3,588.9 2065.2,588.6 2066.1,587.0 2067.1,587.0 2068.0,586.7 2068.9,583.4 2069.9,581.6 2070.8,578.5 2071.7,575.1 2072.7,571.6 2073.6,570.1 2073.7,569.7 2074.5,571.3 2075.5,574.1 2076.4,576.6 2077.3,577.1 2078.3,580.0 2079.2,580.8 2080.1,582.5 2081.1,583.2 2082.0,585.0 2082.9,587.1 2083.9,588.4 2084.8,586.8 2085.7,586.9 2086.7,585.8 2087.6,583.5 2088.5,581.7 2089.5,579.2 2090.4,579.2 2090.5,577.5 2091.3,579.2 2092.3,580.4 2093.2,582.6 2094.2,583.4 2095.1,582.9 2096.0,586.3 2097.0,587.1 2097.9,588.3 2098.8,589.6 2099.8,591.0 2100.7,591.5 2101.6,592.4 2102.6,593.6 2103.5,592.7 2104.4,592.7 2105.4,594.5 2106.3,593.2 2107.2,593.5 2108.2,593.2 2109.1,593.6 2110.0,593.6 2111.0,593.2 2111.9,592.6 2112.8,592.5 2113.8,593.0 2114.7,593.8 2115.6,591.6 2116.6,592.4 2117.5,592.5 2118.4,591.8 2119.4,592.2 2120.3,591.7 2121.2,592.1 2122.2,592.4 2123.1,591.2 2124.0,591.5 2125.0,591.7 2125.9,591.6 2126.8,591.4 2127.8,590.1 2128.7,591.5 2129.6,590.8 2130.6,591.2 2131.5,591.7 2132.4,591.8 2133.4,590.9 2134.3,590.6 2135.2,590.4 2136.2,589.5 2137.1,590.5 2138.0,589.8 2139.0,587.6 2139.9,587.0 2140.9,584.1 2141.8,579.5 2142.7,575.2 2143.7,567.3 2144.6,557.9 2145.5,552.1 2145.6,552.2 2146.5,558.2 2147.4,572.2 2148.3,579.6 2149.3,579.6 2150.2,576.7 2151.1,575.8 2152.1,577.1 2153.0,584.6 2153.9,588.8 2154.9,591.1 2155.8,589.5 2156.7,590.0 2157.7,589.9 2158.6,588.0 2159.5,586.4 2160.5,585.7 2160.5,586.4 2161.4,587.7 2162.3,588.7 2163.3,588.5 2164.2,589.4 2165.1,589.9 2166.1,589.9 2167.0,589.3 2167.9,590.7 2168.9,590.2 2169.8,591.3 2170.7,592.1 2171.7,592.5 2172.6,591.9 2173.5,592.6 2174.5,592.8 2175.4,592.4 2176.3,591.6 2177.3,591.7 2178.2,591.3 2179.1,591.3 2180.1,591.7 2181.0,591.7 2181.9,591.0 2182.9,591.2 2183.8,590.6 2184.7,590.2 2185.7,588.9 2186.6,588.8 2187.6,587.4 2188.5,585.9 2189.4,584.6 2190.4,583.0 2191.0,582.6 2191.3,581.9 2192.2,582.1 2193.2,584.0 2194.1,585.4 2195.0,586.2 2196.0,587.3 2196.9,587.1 2197.8,588.4 2198.8,588.4 2199.7,589.0 2200.6,591.0 2201.6,590.6 2202.5,590.8 2203.4,591.7 2204.4,592.4 2205.3,593.1 2206.2,592.6 2207.2,593.1 2208.1,592.6 2209.0,591.7 2210.0,591.9 2210.9,591.4 2211.8,592.2 2212.8,591.0 2213.7,591.3 2214.6,591.6 2215.6,592.5 2216.5,592.2 2217.4,591.5 2218.4,591.8 2219.3,591.3 2220.2,593.0 2221.2,590.3 2222.1,589.9 2223.0,590.0 2224.0,590.2 2224.9,590.6 2225.8,591.1 2226.8,590.1 2227.7,589.7 2228.6,588.9 2229.6,588.2 2230.5,586.3 2231.4,585.4 2232.4,582.4 2233.3,578.7 2234.3,573.1 2235.2,565.1 2236.1,557.6 2236.7,555.3 2237.1,557.1 2238.0,567.5 2238.9,578.0 2239.9,583.0 2240.8,582.2 2241.7,579.0 2242.7,577.2 2243.6,581.0 2244.5,585.5 2245.5,590.0 2246.4,591.4 2247.3,591.3 2248.3,591.8 2249.2,591.7 2250.1,591.1 2251.1,590.5 2252.0,591.0 2252.9,588.6 2253.9,587.2 2254.8,586.6 2255.7,586.0 2256.0,584.4 2256.7,584.5 2257.6,586.6 2258.5,587.4 2259.5,588.1 2260.4,587.8 2261.3,588.7 2262.3,587.9 2263.2,588.9 2264.1,591.2 2265.1,590.4 2266.0,591.8 2266.9,592.9 2267.9,593.2 2268.8,592.6 2269.7,593.0 2270.7,593.7 2271.6,593.1 2272.5,594.1 2273.5,592.9 2274.4,593.7 2275.3,592.3 2276.3,592.7 2277.2,591.9 2278.1,591.3 2279.1,590.1 2280.0,590.8 2281.0,590.0 2281.9,589.5 2282.8,588.4 2283.8,587.8 2284.0,587.9 2284.7,588.6 2285.6,589.7 2286.6,589.6 2287.5,589.5 2288.4,590.1 2289.4,589.9 2290.3,589.9 2291.2,590.9 2292.2,591.0 2293.1,591.5 2294.0,593.2 2295.0,592.9 2295.9,593.4 2296.8,592.7 2297.8,593.0 2298.7,592.4 2299.6,591.8 2300.6,592.0 2301.5,592.7 2302.4,593.2 2303.4,594.0 2304.3,592.5 2305.2,591.4 2306.2,591.9 2307.1,592.3 2308.0,591.2 2309.0,591.4 2309.9,591.9"/>
</g>
<g stroke="#000" stroke-width="10.4" stroke-linecap="round" fill="none">
<line x1="1680" y1="1480" x2="1680" y2="1557"/>
<line x1="1956" y1="1456.5" x2="1956" y2="1557"/>
<line x1="1486.7" y1="1748" x2="1486.7" y2="1760"/>
<line x1="1621.8" y1="1723" x2="1621.8" y2="1760"/>
<line x1="1629.3" y1="1658.5" x2="1629.3" y2="1760"/>
<line x1="1776.8" y1="1659.5" x2="1776.8" y2="1760"/>
<line x1="1786" y1="1739" x2="1786" y2="1760"/>
<line x1="2128.9" y1="1757.5" x2="2128.9" y2="1760"/>
<line x1="2244" y1="1729.5" x2="2244" y2="1760"/>
</g>
<g stroke="#000" stroke-width="10.5" fill="none" stroke-linecap="butt">
<rect x="202.2" y="56.1" width="2102.3" height="1704.6"/>
<line x1="197" y1="1352.1" x2="2309.7" y2="1352.1"/>
<line x1="197" y1="1559.8" x2="2309.7" y2="1559.8"/>
<line x1="202.20" y1="1760" x2="202.20" y2="1776.8" stroke-width="10.3"/>
<line x1="435.77" y1="1760" x2="435.77" y2="1793.7" stroke-width="10.3"/>
<line x1="669.35" y1="1760" x2="669.35" y2="1776.8" stroke-width="10.3"/>
<line x1="902.92" y1="1760" x2="902.92" y2="1793.7" stroke-width="10.3"/>
<line x1="1136.50" y1="1760" x2="1136.50" y2="1776.8" stroke-width="10.3"/>
<line x1="1370.08" y1="1760" x2="1370.08" y2="1793.7" stroke-width="10.3"/>
<line x1="1603.65" y1="1760" x2="1603.65" y2="1776.8" stroke-width="10.3"/>
<line x1="1837.23" y1="1760" x2="1837.23" y2="1793.7" stroke-width="10.3"/>
<line x1="2070.80" y1="1760" x2="2070.80" y2="1776.8" stroke-width="10.3"/>
<line x1="2304.38" y1="1760" x2="2304.38" y2="1793.7" stroke-width="10.3"/>
</g>
<g font-family="'Liberation Serif', 'Noto Serif CJK SC', serif" fill="#000">
<text x="435.8" y="1889.6" font-size="100" text-anchor="middle">10</text>
<text x="902.9" y="1889.6" font-size="100" text-anchor="middle">20</text>
<text x="1370.1" y="1889.6" font-size="100" text-anchor="middle">30</text>
<text x="1837.2" y="1889.6" font-size="100" text-anchor="middle">40</text>
<text x="2304.4" y="1889.6" font-size="100" text-anchor="middle">50</text>
<text font-size="110.5"><tspan x="943.2" y="2001">2 Theta </tspan><tspan font-family="'Noto Serif CJK SC', 'Liberation Serif', serif" x="1303.5" y="1996.4" font-size="93">（</tspan><tspan x="1408.8" y="1998.6" font-size="108">°</tspan><tspan font-family="'Noto Serif CJK SC', 'Liberation Serif', serif" x="1463.4" y="1996.4" font-size="93">）</tspan></text>
<text transform="translate(127.6,1053) rotate(-90)" font-size="110" textLength="637.2" lengthAdjust="spacingAndGlyphs">Intensity (a.u.)</text>
<text font-size="88"><tspan x="408.2" y="1503.4" textLength="159.6" lengthAdjust="spacingAndGlyphs">PDF</tspan><tspan font-family="'Noto Serif CJK SC', 'Liberation Serif', serif" x="566.9" y="1506.1" font-size="57" font-weight="900">：</tspan><tspan x="654.4" y="1503.4" textLength="452.2" lengthAdjust="spacingAndGlyphs">01-078-0428</tspan></text>
<text font-size="88"><tspan x="408.2" y="1664.9" textLength="159.6" lengthAdjust="spacingAndGlyphs">PDF</tspan><tspan font-family="'Noto Serif CJK SC', 'Liberation Serif', serif" x="566.9" y="1667.6" font-size="57" font-weight="900">：</tspan><tspan x="654.4" y="1664.9" textLength="452.2" lengthAdjust="spacingAndGlyphs">00-048-1548</tspan></text>
<text x="2060.4" y="503.2" font-size="88">d</text>
<text x="2059.8" y="737" font-size="88">c</text>
<text x="2062.6" y="978.8" font-size="88">b</text>
<text x="2072" y="1218.6" font-size="88">a</text>
</g>
</svg>
</body></html>
